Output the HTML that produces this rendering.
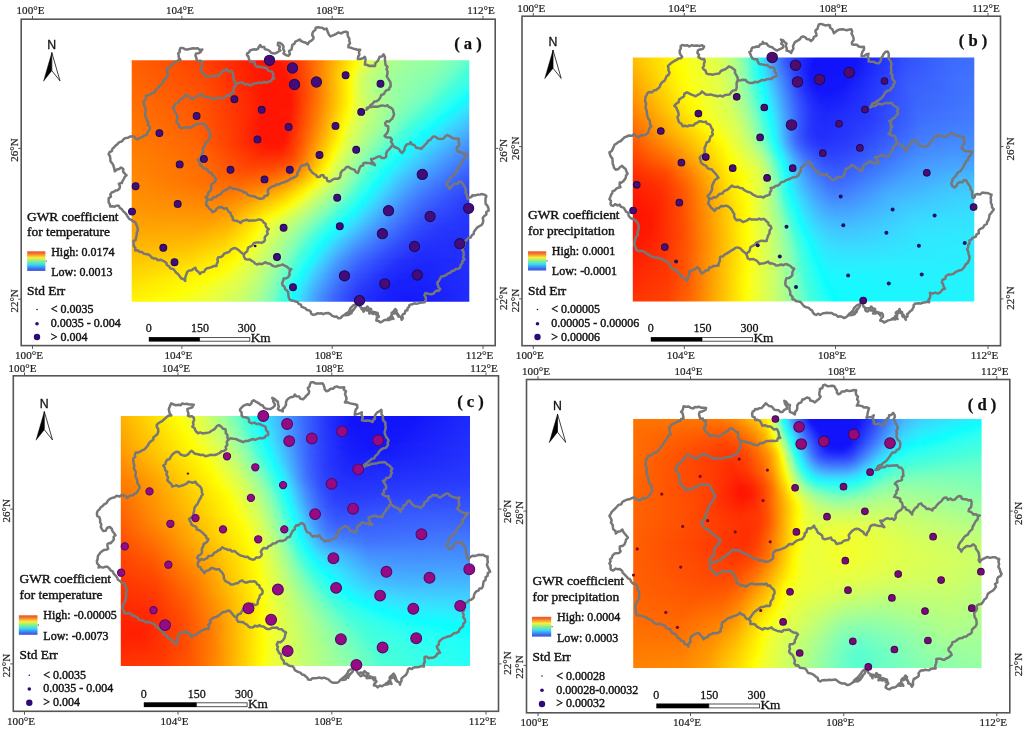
<!DOCTYPE html>
<html><head><meta charset="utf-8"><title>GWR coefficient maps</title>
<style>html,body{margin:0;padding:0;background:#fff}svg{display:block}</style></head>
<body>
<svg width="1024" height="730" viewBox="0 0 1024 730">
<rect width="1024" height="730" fill="#fff"/>
<defs>
<linearGradient id="ramp" x1="0" y1="0" x2="0" y2="1"><stop offset="0" stop-color="#e8502e"/><stop offset=".12" stop-color="#f5742a"/><stop offset=".33" stop-color="#f8f03c"/><stop offset=".5" stop-color="#86f08a"/><stop offset=".67" stop-color="#3cdcf0"/><stop offset=".9" stop-color="#3c6cf0"/><stop offset="1" stop-color="#3c50d8"/></linearGradient>
<filter id="vb" x="-5%" y="-5%" width="110%" height="110%" color-interpolation-filters="sRGB"><feGaussianBlur stdDeviation="0.7 1.9"/></filter>
<linearGradient id="ga0"><stop offset=".025" stop-color="#ff5f00"/><stop offset=".223" stop-color="#ff4000"/><stop offset=".387" stop-color="#ff1400"/><stop offset=".438" stop-color="#ff1600"/><stop offset=".500" stop-color="#ff4200"/><stop offset=".556" stop-color="#ff8100"/><stop offset=".647" stop-color="#fff000"/><stop offset=".658" stop-color="#fffc00"/><stop offset=".675" stop-color="#f0ff32"/><stop offset=".703" stop-color="#d3ff5f"/><stop offset=".749" stop-color="#b3ff86"/><stop offset=".805" stop-color="#9eff9d"/><stop offset=".884" stop-color="#94ffa6"/><stop offset=".952" stop-color="#70ffc3"/><stop offset=".975" stop-color="#5dffce"/></linearGradient>
<linearGradient id="ga1"><stop offset=".025" stop-color="#ff6000"/><stop offset=".223" stop-color="#ff4200"/><stop offset=".393" stop-color="#ff1400"/><stop offset=".444" stop-color="#ff1600"/><stop offset=".506" stop-color="#ff4600"/><stop offset=".562" stop-color="#ff8900"/><stop offset=".653" stop-color="#fffb00"/><stop offset=".669" stop-color="#efff33"/><stop offset=".698" stop-color="#d2ff61"/><stop offset=".743" stop-color="#b2ff88"/><stop offset=".805" stop-color="#9bff9f"/><stop offset=".884" stop-color="#90ffaa"/><stop offset=".952" stop-color="#69ffc8"/><stop offset=".975" stop-color="#53ffd3"/></linearGradient>
<linearGradient id="ga2"><stop offset=".025" stop-color="#ff6200"/><stop offset=".223" stop-color="#ff4400"/><stop offset=".393" stop-color="#ff1400"/><stop offset=".449" stop-color="#ff1600"/><stop offset=".511" stop-color="#ff4a00"/><stop offset=".579" stop-color="#ffa000"/><stop offset=".647" stop-color="#fffa00"/><stop offset=".653" stop-color="#fdff0a"/><stop offset=".658" stop-color="#f6ff24"/><stop offset=".675" stop-color="#e2ff4a"/><stop offset=".709" stop-color="#c2ff75"/><stop offset=".766" stop-color="#a3ff97"/><stop offset=".839" stop-color="#96ffa4"/><stop offset=".901" stop-color="#84ffb4"/><stop offset=".958" stop-color="#5cffcf"/><stop offset=".975" stop-color="#48ffd8"/></linearGradient>
<linearGradient id="ga3"><stop offset=".025" stop-color="#ff6300"/><stop offset=".223" stop-color="#ff4600"/><stop offset=".398" stop-color="#ff1400"/><stop offset=".455" stop-color="#ff1600"/><stop offset=".517" stop-color="#ff4f00"/><stop offset=".613" stop-color="#ffd000"/><stop offset=".647" stop-color="#fffe00"/><stop offset=".653" stop-color="#f8ff1f"/><stop offset=".664" stop-color="#e9ff3f"/><stop offset=".686" stop-color="#cfff65"/><stop offset=".726" stop-color="#b2ff87"/><stop offset=".794" stop-color="#98ffa2"/><stop offset=".884" stop-color="#88ffb1"/><stop offset=".941" stop-color="#64ffcb"/><stop offset=".963" stop-color="#48ffd7"/><stop offset=".975" stop-color="#44ffdc"/></linearGradient>
<linearGradient id="ga4"><stop offset=".025" stop-color="#ff6400"/><stop offset=".223" stop-color="#ff4700"/><stop offset=".398" stop-color="#ff1400"/><stop offset=".460" stop-color="#ff1700"/><stop offset=".528" stop-color="#ff5b00"/><stop offset=".641" stop-color="#fffa00"/><stop offset=".647" stop-color="#fcff11"/><stop offset=".653" stop-color="#f4ff2a"/><stop offset=".669" stop-color="#dcff53"/><stop offset=".698" stop-color="#bfff78"/><stop offset=".754" stop-color="#a1ff99"/><stop offset=".884" stop-color="#83ffb5"/><stop offset=".935" stop-color="#61ffcd"/><stop offset=".958" stop-color="#47ffd8"/><stop offset=".975" stop-color="#40ffe1"/></linearGradient>
<linearGradient id="ga5"><stop offset=".025" stop-color="#ff6500"/><stop offset=".223" stop-color="#ff4900"/><stop offset=".381" stop-color="#ff1700"/><stop offset=".460" stop-color="#ff1400"/><stop offset=".528" stop-color="#ff5a00"/><stop offset=".641" stop-color="#fffc00"/><stop offset=".653" stop-color="#f1ff31"/><stop offset=".669" stop-color="#d8ff59"/><stop offset=".692" stop-color="#c0ff78"/><stop offset=".743" stop-color="#a3ff97"/><stop offset=".879" stop-color="#81ffb6"/><stop offset=".929" stop-color="#5dffce"/><stop offset=".946" stop-color="#48ffd8"/><stop offset=".975" stop-color="#3bffe6"/></linearGradient>
<linearGradient id="ga6"><stop offset=".025" stop-color="#ff6600"/><stop offset=".223" stop-color="#ff4b00"/><stop offset=".376" stop-color="#ff1a00"/><stop offset=".415" stop-color="#ff1400"/><stop offset=".466" stop-color="#ff1600"/><stop offset=".534" stop-color="#ff6000"/><stop offset=".641" stop-color="#fffd00"/><stop offset=".647" stop-color="#f8ff1f"/><stop offset=".658" stop-color="#e7ff43"/><stop offset=".681" stop-color="#c8ff6d"/><stop offset=".720" stop-color="#abff8e"/><stop offset=".794" stop-color="#94ffa6"/><stop offset=".873" stop-color="#7fffb8"/><stop offset=".918" stop-color="#5fffcd"/><stop offset=".935" stop-color="#48ffd7"/><stop offset=".975" stop-color="#36ffeb"/></linearGradient>
<linearGradient id="ga7"><stop offset=".025" stop-color="#ff6800"/><stop offset=".223" stop-color="#ff4c00"/><stop offset=".370" stop-color="#ff1d00"/><stop offset=".398" stop-color="#ff1400"/><stop offset=".466" stop-color="#ff1400"/><stop offset=".540" stop-color="#ff6600"/><stop offset=".641" stop-color="#fffd00"/><stop offset=".647" stop-color="#f8ff1f"/><stop offset=".658" stop-color="#e7ff43"/><stop offset=".681" stop-color="#c9ff6c"/><stop offset=".715" stop-color="#aeff8c"/><stop offset=".782" stop-color="#94ffa5"/><stop offset=".862" stop-color="#80ffb7"/><stop offset=".912" stop-color="#5bffcf"/><stop offset=".929" stop-color="#47ffd9"/><stop offset=".975" stop-color="#2ffff1"/></linearGradient>
<linearGradient id="ga8"><stop offset=".025" stop-color="#ff6900"/><stop offset=".223" stop-color="#ff4d00"/><stop offset=".370" stop-color="#ff1e00"/><stop offset=".398" stop-color="#ff1400"/><stop offset=".472" stop-color="#ff1800"/><stop offset=".540" stop-color="#ff6600"/><stop offset=".641" stop-color="#fffd00"/><stop offset=".647" stop-color="#f9ff1e"/><stop offset=".658" stop-color="#e8ff41"/><stop offset=".681" stop-color="#caff6b"/><stop offset=".715" stop-color="#aeff8c"/><stop offset=".782" stop-color="#93ffa7"/><stop offset=".862" stop-color="#7cffba"/><stop offset=".907" stop-color="#57ffd2"/><stop offset=".924" stop-color="#45ffdb"/><stop offset=".975" stop-color="#26fff6"/></linearGradient>
<linearGradient id="ga9"><stop offset=".025" stop-color="#ff6a00"/><stop offset=".223" stop-color="#ff4f00"/><stop offset=".364" stop-color="#ff2200"/><stop offset=".398" stop-color="#ff1400"/><stop offset=".472" stop-color="#ff1600"/><stop offset=".545" stop-color="#ff6e00"/><stop offset=".641" stop-color="#fffd00"/><stop offset=".647" stop-color="#f9ff1c"/><stop offset=".658" stop-color="#e9ff3f"/><stop offset=".681" stop-color="#ccff69"/><stop offset=".715" stop-color="#afff8b"/><stop offset=".777" stop-color="#93ffa7"/><stop offset=".856" stop-color="#7affbc"/><stop offset=".895" stop-color="#59ffd1"/><stop offset=".907" stop-color="#48ffd7"/><stop offset=".958" stop-color="#2bfff3"/><stop offset=".975" stop-color="#18fffb"/></linearGradient>
<linearGradient id="ga10"><stop offset=".025" stop-color="#ff6b00"/><stop offset=".218" stop-color="#ff5100"/><stop offset=".364" stop-color="#ff2200"/><stop offset=".398" stop-color="#ff1400"/><stop offset=".472" stop-color="#ff1500"/><stop offset=".545" stop-color="#ff6f00"/><stop offset=".641" stop-color="#fffd00"/><stop offset=".647" stop-color="#f9ff1d"/><stop offset=".658" stop-color="#e9ff3f"/><stop offset=".686" stop-color="#c7ff6f"/><stop offset=".726" stop-color="#a8ff92"/><stop offset=".805" stop-color="#89ffb0"/><stop offset=".862" stop-color="#70ffc3"/><stop offset=".890" stop-color="#53ffd3"/><stop offset=".895" stop-color="#49ffd6"/><stop offset=".946" stop-color="#2bfff3"/><stop offset=".963" stop-color="#18fffc"/><stop offset=".969" stop-color="#0afffe"/><stop offset=".975" stop-color="#0dfdff"/></linearGradient>
<linearGradient id="ga11"><stop offset=".025" stop-color="#ff6c00"/><stop offset=".218" stop-color="#ff5300"/><stop offset=".364" stop-color="#ff2300"/><stop offset=".398" stop-color="#ff1400"/><stop offset=".472" stop-color="#ff1500"/><stop offset=".545" stop-color="#ff7000"/><stop offset=".641" stop-color="#fffe00"/><stop offset=".647" stop-color="#f8ff1f"/><stop offset=".658" stop-color="#e9ff3f"/><stop offset=".686" stop-color="#c8ff6d"/><stop offset=".726" stop-color="#a9ff91"/><stop offset=".811" stop-color="#84ffb4"/><stop offset=".862" stop-color="#68ffc8"/><stop offset=".890" stop-color="#47ffd9"/><stop offset=".941" stop-color="#26fff6"/><stop offset=".952" stop-color="#17fffc"/><stop offset=".958" stop-color="#08fffe"/><stop offset=".975" stop-color="#1ff5ff"/></linearGradient>
<linearGradient id="ga12"><stop offset=".025" stop-color="#ff6d00"/><stop offset=".218" stop-color="#ff5400"/><stop offset=".364" stop-color="#ff2400"/><stop offset=".398" stop-color="#ff1400"/><stop offset=".472" stop-color="#ff1500"/><stop offset=".551" stop-color="#ff7b00"/><stop offset=".641" stop-color="#ffff02"/><stop offset=".647" stop-color="#f7ff22"/><stop offset=".664" stop-color="#e1ff4b"/><stop offset=".698" stop-color="#beff79"/><stop offset=".749" stop-color="#9cff9e"/><stop offset=".850" stop-color="#68ffc8"/><stop offset=".884" stop-color="#45ffdc"/><stop offset=".929" stop-color="#26fff6"/><stop offset=".941" stop-color="#17fffc"/><stop offset=".946" stop-color="#06fffe"/><stop offset=".969" stop-color="#25f1ff"/><stop offset=".975" stop-color="#29eeff"/></linearGradient>
<linearGradient id="ga13"><stop offset=".025" stop-color="#ff6f00"/><stop offset=".212" stop-color="#ff5600"/><stop offset=".364" stop-color="#ff2400"/><stop offset=".398" stop-color="#ff1400"/><stop offset=".472" stop-color="#ff1600"/><stop offset=".551" stop-color="#ff7d00"/><stop offset=".636" stop-color="#fffa00"/><stop offset=".641" stop-color="#fdff0e"/><stop offset=".647" stop-color="#f5ff26"/><stop offset=".664" stop-color="#e1ff4c"/><stop offset=".698" stop-color="#bfff79"/><stop offset=".754" stop-color="#98ffa2"/><stop offset=".845" stop-color="#62ffcc"/><stop offset=".873" stop-color="#45ffdb"/><stop offset=".918" stop-color="#27fff6"/><stop offset=".929" stop-color="#17fffc"/><stop offset=".935" stop-color="#05ffff"/><stop offset=".952" stop-color="#21f4ff"/><stop offset=".975" stop-color="#31e6ff"/></linearGradient>
<linearGradient id="ga14"><stop offset=".025" stop-color="#ff7000"/><stop offset=".212" stop-color="#ff5700"/><stop offset=".359" stop-color="#ff2700"/><stop offset=".398" stop-color="#ff1400"/><stop offset=".472" stop-color="#ff1700"/><stop offset=".551" stop-color="#ff8000"/><stop offset=".636" stop-color="#fffd00"/><stop offset=".647" stop-color="#f3ff2c"/><stop offset=".669" stop-color="#d9ff57"/><stop offset=".709" stop-color="#b5ff84"/><stop offset=".794" stop-color="#7effb9"/><stop offset=".845" stop-color="#56ffd2"/><stop offset=".862" stop-color="#45ffdb"/><stop offset=".907" stop-color="#27fff5"/><stop offset=".918" stop-color="#17fffc"/><stop offset=".924" stop-color="#04ffff"/><stop offset=".941" stop-color="#21f4ff"/><stop offset=".975" stop-color="#36deff"/></linearGradient>
<linearGradient id="ga15"><stop offset=".025" stop-color="#ff7100"/><stop offset=".212" stop-color="#ff5800"/><stop offset=".359" stop-color="#ff2600"/><stop offset=".393" stop-color="#ff1400"/><stop offset=".472" stop-color="#ff1800"/><stop offset=".551" stop-color="#ff8200"/><stop offset=".630" stop-color="#fff900"/><stop offset=".636" stop-color="#feff04"/><stop offset=".641" stop-color="#f7ff22"/><stop offset=".658" stop-color="#e3ff48"/><stop offset=".698" stop-color="#bdff7a"/><stop offset=".782" stop-color="#81ffb7"/><stop offset=".833" stop-color="#55ffd2"/><stop offset=".845" stop-color="#47ffd8"/><stop offset=".890" stop-color="#2cfff2"/><stop offset=".907" stop-color="#17fffc"/><stop offset=".912" stop-color="#04ffff"/><stop offset=".929" stop-color="#22f3ff"/><stop offset=".969" stop-color="#39d9ff"/><stop offset=".975" stop-color="#3bd5ff"/></linearGradient>
<linearGradient id="ga16"><stop offset=".025" stop-color="#ff7200"/><stop offset=".206" stop-color="#ff5b00"/><stop offset=".347" stop-color="#ff2a00"/><stop offset=".393" stop-color="#ff1400"/><stop offset=".466" stop-color="#ff1400"/><stop offset=".540" stop-color="#ff7400"/><stop offset=".624" stop-color="#fff500"/><stop offset=".630" stop-color="#fffc00"/><stop offset=".641" stop-color="#f4ff2a"/><stop offset=".664" stop-color="#daff55"/><stop offset=".709" stop-color="#b3ff86"/><stop offset=".811" stop-color="#62ffcc"/><stop offset=".833" stop-color="#47ffd9"/><stop offset=".879" stop-color="#2cfff2"/><stop offset=".895" stop-color="#17fffc"/><stop offset=".901" stop-color="#03ffff"/><stop offset=".912" stop-color="#1bf7ff"/><stop offset=".946" stop-color="#35dfff"/><stop offset=".975" stop-color="#3ecdff"/></linearGradient>
<linearGradient id="ga17"><stop offset=".025" stop-color="#ff7300"/><stop offset=".206" stop-color="#ff5c00"/><stop offset=".342" stop-color="#ff2c00"/><stop offset=".387" stop-color="#ff1400"/><stop offset=".466" stop-color="#ff1400"/><stop offset=".545" stop-color="#ff7f00"/><stop offset=".624" stop-color="#fff900"/><stop offset=".630" stop-color="#feff07"/><stop offset=".636" stop-color="#f7ff23"/><stop offset=".653" stop-color="#e3ff48"/><stop offset=".692" stop-color="#beff7a"/><stop offset=".794" stop-color="#6affc7"/><stop offset=".822" stop-color="#47ffd8"/><stop offset=".867" stop-color="#2cfff3"/><stop offset=".884" stop-color="#16fffc"/><stop offset=".890" stop-color="#02ffff"/><stop offset=".901" stop-color="#1cf7ff"/><stop offset=".935" stop-color="#36dfff"/><stop offset=".975" stop-color="#41c5ff"/></linearGradient>
<linearGradient id="ga18"><stop offset=".025" stop-color="#ff7500"/><stop offset=".206" stop-color="#ff5d00"/><stop offset=".336" stop-color="#ff2e00"/><stop offset=".387" stop-color="#ff1400"/><stop offset=".466" stop-color="#ff1500"/><stop offset=".545" stop-color="#ff8200"/><stop offset=".624" stop-color="#fffd00"/><stop offset=".630" stop-color="#f9ff1b"/><stop offset=".641" stop-color="#ecff3a"/><stop offset=".675" stop-color="#c9ff6c"/><stop offset=".760" stop-color="#84ffb4"/><stop offset=".799" stop-color="#59ffd0"/><stop offset=".811" stop-color="#47ffd8"/><stop offset=".862" stop-color="#26fff6"/><stop offset=".873" stop-color="#16fffc"/><stop offset=".879" stop-color="#00ffff"/><stop offset=".884" stop-color="#13fbff"/><stop offset=".907" stop-color="#2cebff"/><stop offset=".963" stop-color="#41c4ff"/><stop offset=".975" stop-color="#43bdff"/></linearGradient>
<linearGradient id="ga19"><stop offset=".025" stop-color="#ff7600"/><stop offset=".206" stop-color="#ff5e00"/><stop offset=".331" stop-color="#ff3100"/><stop offset=".387" stop-color="#ff1400"/><stop offset=".466" stop-color="#ff1700"/><stop offset=".545" stop-color="#ff8600"/><stop offset=".619" stop-color="#fffa00"/><stop offset=".624" stop-color="#fdff0f"/><stop offset=".630" stop-color="#f5ff27"/><stop offset=".647" stop-color="#e1ff4b"/><stop offset=".686" stop-color="#bcff7c"/><stop offset=".766" stop-color="#78ffbe"/><stop offset=".794" stop-color="#54ffd3"/><stop offset=".799" stop-color="#48ffd7"/><stop offset=".850" stop-color="#26fff6"/><stop offset=".862" stop-color="#15fffc"/><stop offset=".867" stop-color="#02ffff"/><stop offset=".873" stop-color="#13fbff"/><stop offset=".895" stop-color="#2deaff"/><stop offset=".952" stop-color="#41c3ff"/><stop offset=".975" stop-color="#44b5ff"/></linearGradient>
<linearGradient id="ga20"><stop offset=".025" stop-color="#ff7700"/><stop offset=".206" stop-color="#ff6000"/><stop offset=".331" stop-color="#ff3100"/><stop offset=".387" stop-color="#ff1400"/><stop offset=".460" stop-color="#ff1400"/><stop offset=".534" stop-color="#ff7800"/><stop offset=".619" stop-color="#fffe00"/><stop offset=".624" stop-color="#f8ff1e"/><stop offset=".636" stop-color="#eaff3d"/><stop offset=".669" stop-color="#c6ff70"/><stop offset=".754" stop-color="#7cffbb"/><stop offset=".782" stop-color="#58ffd1"/><stop offset=".794" stop-color="#46ffd9"/><stop offset=".839" stop-color="#26fff6"/><stop offset=".850" stop-color="#14fffc"/><stop offset=".856" stop-color="#03ffff"/><stop offset=".862" stop-color="#14faff"/><stop offset=".884" stop-color="#2deaff"/><stop offset=".941" stop-color="#41c2ff"/><stop offset=".975" stop-color="#45adff"/></linearGradient>
<linearGradient id="ga21"><stop offset=".025" stop-color="#ff7800"/><stop offset=".206" stop-color="#ff6100"/><stop offset=".325" stop-color="#ff3400"/><stop offset=".387" stop-color="#ff1400"/><stop offset=".460" stop-color="#ff1600"/><stop offset=".534" stop-color="#ff7d00"/><stop offset=".613" stop-color="#fffa00"/><stop offset=".624" stop-color="#f4ff29"/><stop offset=".641" stop-color="#dfff4e"/><stop offset=".681" stop-color="#b7ff82"/><stop offset=".760" stop-color="#6cffc6"/><stop offset=".782" stop-color="#48ffd8"/><stop offset=".828" stop-color="#26fff6"/><stop offset=".839" stop-color="#15fffc"/><stop offset=".845" stop-color="#03feff"/><stop offset=".850" stop-color="#14faff"/><stop offset=".873" stop-color="#2deaff"/><stop offset=".929" stop-color="#42c2ff"/><stop offset=".975" stop-color="#45a6ff"/></linearGradient>
<linearGradient id="ga22"><stop offset=".025" stop-color="#ff7900"/><stop offset=".206" stop-color="#ff6300"/><stop offset=".325" stop-color="#ff3400"/><stop offset=".393" stop-color="#ff1400"/><stop offset=".455" stop-color="#ff1400"/><stop offset=".511" stop-color="#ff5e00"/><stop offset=".613" stop-color="#ffff00"/><stop offset=".619" stop-color="#f7ff22"/><stop offset=".636" stop-color="#e1ff4b"/><stop offset=".675" stop-color="#b7ff82"/><stop offset=".754" stop-color="#68ffc8"/><stop offset=".771" stop-color="#4affd6"/><stop offset=".816" stop-color="#27fff5"/><stop offset=".828" stop-color="#16fffc"/><stop offset=".833" stop-color="#02ffff"/><stop offset=".839" stop-color="#14faff"/><stop offset=".862" stop-color="#2deaff"/><stop offset=".918" stop-color="#42c1ff"/><stop offset=".975" stop-color="#459fff"/></linearGradient>
<linearGradient id="ga23"><stop offset=".025" stop-color="#ff7b00"/><stop offset=".206" stop-color="#ff6400"/><stop offset=".331" stop-color="#ff3200"/><stop offset=".398" stop-color="#ff1400"/><stop offset=".455" stop-color="#ff1800"/><stop offset=".506" stop-color="#ff5900"/><stop offset=".607" stop-color="#fffc00"/><stop offset=".619" stop-color="#f2ff2e"/><stop offset=".641" stop-color="#d5ff5c"/><stop offset=".686" stop-color="#a6ff94"/><stop offset=".749" stop-color="#63ffcb"/><stop offset=".766" stop-color="#47ffd9"/><stop offset=".805" stop-color="#28fff5"/><stop offset=".816" stop-color="#17fffc"/><stop offset=".822" stop-color="#00ffff"/><stop offset=".828" stop-color="#13fbff"/><stop offset=".850" stop-color="#2de9ff"/><stop offset=".907" stop-color="#42c1ff"/><stop offset=".975" stop-color="#4597ff"/></linearGradient>
<linearGradient id="ga24"><stop offset=".025" stop-color="#ff7c00"/><stop offset=".212" stop-color="#ff6400"/><stop offset=".364" stop-color="#ff2400"/><stop offset=".415" stop-color="#ff1400"/><stop offset=".449" stop-color="#ff1900"/><stop offset=".489" stop-color="#ff4400"/><stop offset=".602" stop-color="#fffa00"/><stop offset=".619" stop-color="#ecff39"/><stop offset=".647" stop-color="#c9ff6c"/><stop offset=".703" stop-color="#8effac"/><stop offset=".743" stop-color="#5effce"/><stop offset=".754" stop-color="#48ffd7"/><stop offset=".794" stop-color="#29fff4"/><stop offset=".805" stop-color="#19fffb"/><stop offset=".811" stop-color="#04ffff"/><stop offset=".828" stop-color="#24f2ff"/><stop offset=".867" stop-color="#3bd4ff"/><stop offset=".952" stop-color="#459cff"/><stop offset=".975" stop-color="#4490ff"/></linearGradient>
<linearGradient id="ga25"><stop offset=".025" stop-color="#ff7d00"/><stop offset=".212" stop-color="#ff6600"/><stop offset=".404" stop-color="#ff1b00"/><stop offset=".444" stop-color="#ff1d00"/><stop offset=".477" stop-color="#ff3900"/><stop offset=".528" stop-color="#ff8700"/><stop offset=".596" stop-color="#fff800"/><stop offset=".602" stop-color="#feff08"/><stop offset=".607" stop-color="#f6ff26"/><stop offset=".624" stop-color="#dfff4f"/><stop offset=".664" stop-color="#b0ff89"/><stop offset=".732" stop-color="#62ffcc"/><stop offset=".743" stop-color="#4bffd6"/><stop offset=".788" stop-color="#24fff7"/><stop offset=".794" stop-color="#1afffb"/><stop offset=".799" stop-color="#0afffe"/><stop offset=".822" stop-color="#29eeff"/><stop offset=".867" stop-color="#3fccff"/><stop offset=".963" stop-color="#448fff"/><stop offset=".975" stop-color="#4489ff"/></linearGradient>
<linearGradient id="ga26"><stop offset=".025" stop-color="#ff7f00"/><stop offset=".212" stop-color="#ff6800"/><stop offset=".393" stop-color="#ff2400"/><stop offset=".444" stop-color="#ff2500"/><stop offset=".477" stop-color="#ff3e00"/><stop offset=".517" stop-color="#ff7a00"/><stop offset=".590" stop-color="#fff700"/><stop offset=".596" stop-color="#ffff00"/><stop offset=".602" stop-color="#f7ff22"/><stop offset=".619" stop-color="#e0ff4d"/><stop offset=".658" stop-color="#b0ff89"/><stop offset=".720" stop-color="#66ffca"/><stop offset=".737" stop-color="#47ffd8"/><stop offset=".777" stop-color="#25fff6"/><stop offset=".788" stop-color="#0efffe"/><stop offset=".794" stop-color="#0efcff"/><stop offset=".805" stop-color="#23f3ff"/><stop offset=".839" stop-color="#39d8ff"/><stop offset=".912" stop-color="#45a5ff"/><stop offset=".975" stop-color="#4382fe"/></linearGradient>
<linearGradient id="ga27"><stop offset=".025" stop-color="#ff8000"/><stop offset=".218" stop-color="#ff6800"/><stop offset=".381" stop-color="#ff2c00"/><stop offset=".444" stop-color="#ff2e00"/><stop offset=".477" stop-color="#ff4400"/><stop offset=".511" stop-color="#ff7600"/><stop offset=".590" stop-color="#fffe00"/><stop offset=".596" stop-color="#f8ff1f"/><stop offset=".607" stop-color="#e8ff40"/><stop offset=".641" stop-color="#beff7a"/><stop offset=".703" stop-color="#72ffc1"/><stop offset=".720" stop-color="#58ffd1"/><stop offset=".726" stop-color="#49ffd6"/><stop offset=".766" stop-color="#27fff5"/><stop offset=".782" stop-color="#0bfdff"/><stop offset=".794" stop-color="#22f4ff"/><stop offset=".828" stop-color="#39d8ff"/><stop offset=".901" stop-color="#45a4ff"/><stop offset=".975" stop-color="#417cfe"/></linearGradient>
<linearGradient id="ga28"><stop offset=".025" stop-color="#ff8200"/><stop offset=".218" stop-color="#ff6900"/><stop offset=".370" stop-color="#ff3500"/><stop offset=".438" stop-color="#ff3600"/><stop offset=".472" stop-color="#ff4700"/><stop offset=".500" stop-color="#ff6a00"/><stop offset=".585" stop-color="#fffc00"/><stop offset=".590" stop-color="#f9ff1c"/><stop offset=".602" stop-color="#e9ff3e"/><stop offset=".636" stop-color="#beff7a"/><stop offset=".698" stop-color="#70ffc3"/><stop offset=".720" stop-color="#47ffd8"/><stop offset=".754" stop-color="#2afff4"/><stop offset=".766" stop-color="#17fffc"/><stop offset=".771" stop-color="#04feff"/><stop offset=".777" stop-color="#17f9ff"/><stop offset=".799" stop-color="#30e6ff"/><stop offset=".850" stop-color="#42bfff"/><stop offset=".963" stop-color="#417afe"/><stop offset=".975" stop-color="#4075fe"/></linearGradient>
<linearGradient id="ga29"><stop offset=".025" stop-color="#ff8300"/><stop offset=".218" stop-color="#ff6b00"/><stop offset=".359" stop-color="#ff3d00"/><stop offset=".427" stop-color="#ff3e00"/><stop offset=".466" stop-color="#ff4d00"/><stop offset=".494" stop-color="#ff6b00"/><stop offset=".579" stop-color="#fffa00"/><stop offset=".590" stop-color="#f2ff2d"/><stop offset=".613" stop-color="#d4ff5e"/><stop offset=".664" stop-color="#94ffa6"/><stop offset=".703" stop-color="#5bffd0"/><stop offset=".715" stop-color="#46ffda"/><stop offset=".749" stop-color="#26fff6"/><stop offset=".754" stop-color="#1cfffa"/><stop offset=".760" stop-color="#0afffe"/><stop offset=".782" stop-color="#2becff"/><stop offset=".828" stop-color="#40c7ff"/><stop offset=".924" stop-color="#4388ff"/><stop offset=".975" stop-color="#3e6ffe"/></linearGradient>
<linearGradient id="ga30"><stop offset=".025" stop-color="#ff8400"/><stop offset=".218" stop-color="#ff6c00"/><stop offset=".353" stop-color="#ff4400"/><stop offset=".427" stop-color="#ff4800"/><stop offset=".472" stop-color="#ff5d00"/><stop offset=".506" stop-color="#ff8800"/><stop offset=".573" stop-color="#fff900"/><stop offset=".579" stop-color="#fdff0e"/><stop offset=".585" stop-color="#f4ff29"/><stop offset=".602" stop-color="#dcff53"/><stop offset=".647" stop-color="#a2ff98"/><stop offset=".692" stop-color="#63ffcc"/><stop offset=".703" stop-color="#48ffd7"/><stop offset=".737" stop-color="#2afff4"/><stop offset=".754" stop-color="#0afdff"/><stop offset=".766" stop-color="#23f3ff"/><stop offset=".799" stop-color="#3bd5ff"/><stop offset=".873" stop-color="#459fff"/><stop offset=".975" stop-color="#3c69fe"/></linearGradient>
<linearGradient id="ga31"><stop offset=".025" stop-color="#ff8500"/><stop offset=".218" stop-color="#ff6d00"/><stop offset=".347" stop-color="#ff4b00"/><stop offset=".421" stop-color="#ff5200"/><stop offset=".472" stop-color="#ff6a00"/><stop offset=".506" stop-color="#ff9400"/><stop offset=".568" stop-color="#fff800"/><stop offset=".573" stop-color="#feff08"/><stop offset=".579" stop-color="#f5ff27"/><stop offset=".596" stop-color="#ddff52"/><stop offset=".641" stop-color="#a2ff98"/><stop offset=".686" stop-color="#60ffcd"/><stop offset=".698" stop-color="#47ffd8"/><stop offset=".732" stop-color="#26fff6"/><stop offset=".737" stop-color="#1cfffa"/><stop offset=".743" stop-color="#08fffe"/><stop offset=".760" stop-color="#27f0ff"/><stop offset=".794" stop-color="#3dd1ff"/><stop offset=".867" stop-color="#459bff"/><stop offset=".975" stop-color="#3a63fd"/></linearGradient>
<linearGradient id="ga32"><stop offset=".025" stop-color="#ff8600"/><stop offset=".223" stop-color="#ff6d00"/><stop offset=".342" stop-color="#ff5200"/><stop offset=".415" stop-color="#ff5b00"/><stop offset=".472" stop-color="#ff7800"/><stop offset=".500" stop-color="#ff9800"/><stop offset=".562" stop-color="#fff900"/><stop offset=".568" stop-color="#fdff0a"/><stop offset=".573" stop-color="#f5ff27"/><stop offset=".590" stop-color="#ddff51"/><stop offset=".636" stop-color="#a2ff98"/><stop offset=".681" stop-color="#5fffce"/><stop offset=".692" stop-color="#46ffd9"/><stop offset=".720" stop-color="#2bfff3"/><stop offset=".737" stop-color="#09fdff"/><stop offset=".743" stop-color="#1af8ff"/><stop offset=".766" stop-color="#33e2ff"/><stop offset=".816" stop-color="#44b6ff"/><stop offset=".918" stop-color="#4077fe"/><stop offset=".975" stop-color="#385efd"/></linearGradient>
<linearGradient id="ga33"><stop offset=".025" stop-color="#ff8700"/><stop offset=".223" stop-color="#ff6e00"/><stop offset=".331" stop-color="#ff5a00"/><stop offset=".410" stop-color="#ff6500"/><stop offset=".466" stop-color="#ff8200"/><stop offset=".500" stop-color="#ffa700"/><stop offset=".556" stop-color="#fffb00"/><stop offset=".568" stop-color="#f4ff2a"/><stop offset=".590" stop-color="#d5ff5c"/><stop offset=".647" stop-color="#8bffae"/><stop offset=".675" stop-color="#5dffcf"/><stop offset=".686" stop-color="#45ffda"/><stop offset=".715" stop-color="#29fff4"/><stop offset=".726" stop-color="#0efffe"/><stop offset=".732" stop-color="#12fbff"/><stop offset=".743" stop-color="#27f0ff"/><stop offset=".777" stop-color="#3dcfff"/><stop offset=".850" stop-color="#4596ff"/><stop offset=".963" stop-color="#385cfd"/><stop offset=".975" stop-color="#3658fd"/></linearGradient>
<linearGradient id="ga34"><stop offset=".025" stop-color="#ff8900"/><stop offset=".229" stop-color="#ff6f00"/><stop offset=".331" stop-color="#ff6100"/><stop offset=".410" stop-color="#ff7100"/><stop offset=".466" stop-color="#ff9200"/><stop offset=".506" stop-color="#ffc000"/><stop offset=".551" stop-color="#fffe00"/><stop offset=".556" stop-color="#f8ff1e"/><stop offset=".573" stop-color="#e2ff49"/><stop offset=".624" stop-color="#a2ff98"/><stop offset=".664" stop-color="#66ffc9"/><stop offset=".675" stop-color="#4bffd6"/><stop offset=".709" stop-color="#26fff6"/><stop offset=".715" stop-color="#1bfffa"/><stop offset=".720" stop-color="#00ffff"/><stop offset=".726" stop-color="#17f9ff"/><stop offset=".743" stop-color="#2fe8ff"/><stop offset=".782" stop-color="#42c2ff"/><stop offset=".862" stop-color="#4388ff"/><stop offset=".975" stop-color="#3453fd"/></linearGradient>
<linearGradient id="ga35"><stop offset=".025" stop-color="#ff8a00"/><stop offset=".240" stop-color="#ff6f00"/><stop offset=".325" stop-color="#ff6800"/><stop offset=".404" stop-color="#ff7b00"/><stop offset=".466" stop-color="#ffa200"/><stop offset=".511" stop-color="#ffd800"/><stop offset=".540" stop-color="#fffd00"/><stop offset=".551" stop-color="#f4ff2a"/><stop offset=".573" stop-color="#d8ff58"/><stop offset=".641" stop-color="#81ffb6"/><stop offset=".664" stop-color="#59ffd1"/><stop offset=".669" stop-color="#48ffd7"/><stop offset=".698" stop-color="#2dfff2"/><stop offset=".715" stop-color="#0afdff"/><stop offset=".720" stop-color="#1bf7ff"/><stop offset=".743" stop-color="#35e0ff"/><stop offset=".794" stop-color="#45b0ff"/><stop offset=".873" stop-color="#417afe"/><stop offset=".975" stop-color="#324efd"/></linearGradient>
<linearGradient id="ga36"><stop offset=".025" stop-color="#ff8b00"/><stop offset=".308" stop-color="#ff6d00"/><stop offset=".393" stop-color="#ff8200"/><stop offset=".460" stop-color="#ffad00"/><stop offset=".511" stop-color="#ffe800"/><stop offset=".528" stop-color="#fffd00"/><stop offset=".540" stop-color="#f4ff29"/><stop offset=".568" stop-color="#d4ff5e"/><stop offset=".630" stop-color="#88ffb0"/><stop offset=".658" stop-color="#56ffd2"/><stop offset=".664" stop-color="#47ffd8"/><stop offset=".692" stop-color="#2afff3"/><stop offset=".703" stop-color="#11fffd"/><stop offset=".709" stop-color="#11fbff"/><stop offset=".720" stop-color="#27efff"/><stop offset=".754" stop-color="#3ecdff"/><stop offset=".822" stop-color="#4592ff"/><stop offset=".918" stop-color="#395ffd"/><stop offset=".975" stop-color="#304afd"/></linearGradient>
<linearGradient id="ga37"><stop offset=".025" stop-color="#ff8d00"/><stop offset=".297" stop-color="#ff7300"/><stop offset=".381" stop-color="#ff8a00"/><stop offset=".449" stop-color="#ffb300"/><stop offset=".500" stop-color="#ffe800"/><stop offset=".517" stop-color="#fffd00"/><stop offset=".523" stop-color="#faff19"/><stop offset=".534" stop-color="#edff37"/><stop offset=".573" stop-color="#c3ff73"/><stop offset=".624" stop-color="#86ffb2"/><stop offset=".647" stop-color="#60ffcd"/><stop offset=".658" stop-color="#46ffd9"/><stop offset=".686" stop-color="#28fff5"/><stop offset=".692" stop-color="#1dfffa"/><stop offset=".698" stop-color="#07fffe"/><stop offset=".709" stop-color="#22f3ff"/><stop offset=".737" stop-color="#3bd6ff"/><stop offset=".794" stop-color="#45a1ff"/><stop offset=".867" stop-color="#3e70fe"/><stop offset=".975" stop-color="#2e46fc"/></linearGradient>
<linearGradient id="ga38"><stop offset=".025" stop-color="#ff8e00"/><stop offset=".291" stop-color="#ff7800"/><stop offset=".370" stop-color="#ff9100"/><stop offset=".444" stop-color="#ffbe00"/><stop offset=".506" stop-color="#fffc00"/><stop offset=".517" stop-color="#f4ff2a"/><stop offset=".540" stop-color="#dbff54"/><stop offset=".613" stop-color="#8bffae"/><stop offset=".641" stop-color="#5cffcf"/><stop offset=".647" stop-color="#4cffd5"/><stop offset=".681" stop-color="#25fff7"/><stop offset=".692" stop-color="#08feff"/><stop offset=".698" stop-color="#1bf7ff"/><stop offset=".715" stop-color="#31e5ff"/><stop offset=".754" stop-color="#43bdff"/><stop offset=".833" stop-color="#417cfe"/><stop offset=".935" stop-color="#324efd"/><stop offset=".975" stop-color="#2c42fc"/></linearGradient>
<linearGradient id="ga39"><stop offset=".025" stop-color="#ff9000"/><stop offset=".280" stop-color="#ff7d00"/><stop offset=".347" stop-color="#ff9100"/><stop offset=".438" stop-color="#ffc800"/><stop offset=".494" stop-color="#fffc00"/><stop offset=".506" stop-color="#f5ff28"/><stop offset=".528" stop-color="#dbff54"/><stop offset=".602" stop-color="#8effac"/><stop offset=".630" stop-color="#63ffcb"/><stop offset=".641" stop-color="#48ffd8"/><stop offset=".669" stop-color="#2bfff3"/><stop offset=".681" stop-color="#10fffd"/><stop offset=".686" stop-color="#12fbff"/><stop offset=".698" stop-color="#28efff"/><stop offset=".732" stop-color="#3fcbff"/><stop offset=".799" stop-color="#448eff"/><stop offset=".873" stop-color="#3a61fd"/><stop offset=".975" stop-color="#2b3ffc"/></linearGradient>
<linearGradient id="ga40"><stop offset=".025" stop-color="#ff9200"/><stop offset=".274" stop-color="#ff8200"/><stop offset=".336" stop-color="#ff9600"/><stop offset=".449" stop-color="#ffdf00"/><stop offset=".483" stop-color="#fffd00"/><stop offset=".494" stop-color="#f5ff28"/><stop offset=".523" stop-color="#d6ff5c"/><stop offset=".596" stop-color="#88ffb1"/><stop offset=".624" stop-color="#5dffcf"/><stop offset=".636" stop-color="#45ffdb"/><stop offset=".664" stop-color="#27fff6"/><stop offset=".669" stop-color="#1bfffb"/><stop offset=".675" stop-color="#02ffff"/><stop offset=".681" stop-color="#19f9ff"/><stop offset=".698" stop-color="#30e6ff"/><stop offset=".737" stop-color="#43beff"/><stop offset=".816" stop-color="#417bfe"/><stop offset=".901" stop-color="#3351fd"/><stop offset=".975" stop-color="#293cfc"/></linearGradient>
<linearGradient id="ga41"><stop offset=".025" stop-color="#ff9300"/><stop offset=".268" stop-color="#ff8700"/><stop offset=".331" stop-color="#ff9c00"/><stop offset=".472" stop-color="#feff03"/><stop offset=".477" stop-color="#f9ff1c"/><stop offset=".500" stop-color="#e2ff4a"/><stop offset=".556" stop-color="#a7ff93"/><stop offset=".607" stop-color="#6affc7"/><stop offset=".624" stop-color="#47ffd8"/><stop offset=".653" stop-color="#2bfff3"/><stop offset=".664" stop-color="#12fffd"/><stop offset=".669" stop-color="#10fcff"/><stop offset=".681" stop-color="#27efff"/><stop offset=".715" stop-color="#3fccff"/><stop offset=".777" stop-color="#4592ff"/><stop offset=".850" stop-color="#3a61fd"/><stop offset=".952" stop-color="#2b3ffc"/><stop offset=".975" stop-color="#283afc"/></linearGradient>
<linearGradient id="ga42"><stop offset=".025" stop-color="#ff9500"/><stop offset=".263" stop-color="#ff8c00"/><stop offset=".319" stop-color="#ff9e00"/><stop offset=".455" stop-color="#fffe00"/><stop offset=".466" stop-color="#f6ff23"/><stop offset=".500" stop-color="#d6ff5b"/><stop offset=".573" stop-color="#89ffb0"/><stop offset=".607" stop-color="#57ffd1"/><stop offset=".613" stop-color="#48ffd7"/><stop offset=".641" stop-color="#2efff1"/><stop offset=".653" stop-color="#1afffb"/><stop offset=".658" stop-color="#04feff"/><stop offset=".664" stop-color="#19f8ff"/><stop offset=".681" stop-color="#30e6ff"/><stop offset=".720" stop-color="#43beff"/><stop offset=".799" stop-color="#417afe"/><stop offset=".879" stop-color="#3350fd"/><stop offset=".975" stop-color="#2738fc"/></linearGradient>
<linearGradient id="ga43"><stop offset=".025" stop-color="#ff9800"/><stop offset=".257" stop-color="#ff9100"/><stop offset=".314" stop-color="#ffa200"/><stop offset=".438" stop-color="#fffe00"/><stop offset=".455" stop-color="#f3ff2b"/><stop offset=".517" stop-color="#baff7f"/><stop offset=".585" stop-color="#6cffc6"/><stop offset=".596" stop-color="#59ffd1"/><stop offset=".602" stop-color="#4affd6"/><stop offset=".636" stop-color="#29fff4"/><stop offset=".641" stop-color="#1ffff9"/><stop offset=".647" stop-color="#0cfffe"/><stop offset=".669" stop-color="#2ee8ff"/><stop offset=".709" stop-color="#42c0ff"/><stop offset=".782" stop-color="#4280fe"/><stop offset=".862" stop-color="#3351fd"/><stop offset=".969" stop-color="#2738fc"/><stop offset=".975" stop-color="#2637fc"/></linearGradient>
<linearGradient id="ga44"><stop offset=".025" stop-color="#ff9a00"/><stop offset=".251" stop-color="#ff9600"/><stop offset=".308" stop-color="#ffa600"/><stop offset=".381" stop-color="#ffe000"/><stop offset=".421" stop-color="#fffe00"/><stop offset=".438" stop-color="#f4ff29"/><stop offset=".517" stop-color="#afff8b"/><stop offset=".573" stop-color="#6cffc6"/><stop offset=".596" stop-color="#45ffda"/><stop offset=".624" stop-color="#2bfff3"/><stop offset=".641" stop-color="#0dfcff"/><stop offset=".653" stop-color="#26f0ff"/><stop offset=".681" stop-color="#3cd3ff"/><stop offset=".737" stop-color="#459dff"/><stop offset=".822" stop-color="#395ffd"/><stop offset=".895" stop-color="#2c42fc"/><stop offset=".975" stop-color="#2536fc"/></linearGradient>
<linearGradient id="ga45"><stop offset=".025" stop-color="#ff9c00"/><stop offset=".246" stop-color="#ff9a00"/><stop offset=".308" stop-color="#ffad00"/><stop offset=".387" stop-color="#ffee00"/><stop offset=".404" stop-color="#fffd00"/><stop offset=".421" stop-color="#f5ff27"/><stop offset=".500" stop-color="#b5ff84"/><stop offset=".562" stop-color="#6dffc5"/><stop offset=".585" stop-color="#46ffda"/><stop offset=".613" stop-color="#2dfff2"/><stop offset=".624" stop-color="#18fffb"/><stop offset=".630" stop-color="#06feff"/><stop offset=".636" stop-color="#1af8ff"/><stop offset=".653" stop-color="#30e6ff"/><stop offset=".692" stop-color="#42beff"/><stop offset=".771" stop-color="#417bfe"/><stop offset=".856" stop-color="#304afd"/><stop offset=".946" stop-color="#2637fc"/><stop offset=".975" stop-color="#2535fc"/></linearGradient>
<linearGradient id="ga46"><stop offset=".025" stop-color="#ff9f00"/><stop offset=".240" stop-color="#ff9f00"/><stop offset=".302" stop-color="#ffb100"/><stop offset=".376" stop-color="#ffec00"/><stop offset=".393" stop-color="#fffb00"/><stop offset=".398" stop-color="#feff09"/><stop offset=".404" stop-color="#f9ff1d"/><stop offset=".427" stop-color="#e8ff41"/><stop offset=".506" stop-color="#a5ff95"/><stop offset=".556" stop-color="#66ffca"/><stop offset=".573" stop-color="#46ffd9"/><stop offset=".607" stop-color="#26fff6"/><stop offset=".613" stop-color="#1bfffb"/><stop offset=".619" stop-color="#01ffff"/><stop offset=".624" stop-color="#17f9ff"/><stop offset=".641" stop-color="#2fe7ff"/><stop offset=".681" stop-color="#42c0ff"/><stop offset=".760" stop-color="#417cfe"/><stop offset=".845" stop-color="#304afd"/><stop offset=".924" stop-color="#2637fc"/><stop offset=".975" stop-color="#2434fc"/></linearGradient>
<linearGradient id="ga47"><stop offset=".025" stop-color="#ffa200"/><stop offset=".229" stop-color="#ffa400"/><stop offset=".297" stop-color="#ffb500"/><stop offset=".359" stop-color="#ffe400"/><stop offset=".387" stop-color="#fffd00"/><stop offset=".398" stop-color="#f6ff24"/><stop offset=".421" stop-color="#e4ff47"/><stop offset=".500" stop-color="#a0ff9a"/><stop offset=".545" stop-color="#68ffc8"/><stop offset=".562" stop-color="#47ffd9"/><stop offset=".596" stop-color="#27fff6"/><stop offset=".602" stop-color="#1cfffa"/><stop offset=".607" stop-color="#09fffe"/><stop offset=".624" stop-color="#28eeff"/><stop offset=".658" stop-color="#3fccff"/><stop offset=".726" stop-color="#448fff"/><stop offset=".816" stop-color="#3452fd"/><stop offset=".890" stop-color="#2739fc"/><stop offset=".975" stop-color="#2433fc"/></linearGradient>
<linearGradient id="ga48"><stop offset=".025" stop-color="#ffa500"/><stop offset=".223" stop-color="#ffa900"/><stop offset=".297" stop-color="#ffbc00"/><stop offset=".364" stop-color="#ffef00"/><stop offset=".381" stop-color="#ffff00"/><stop offset=".387" stop-color="#faff18"/><stop offset=".404" stop-color="#ebff3b"/><stop offset=".472" stop-color="#b3ff86"/><stop offset=".528" stop-color="#73ffc1"/><stop offset=".545" stop-color="#56ffd2"/><stop offset=".551" stop-color="#48ffd7"/><stop offset=".585" stop-color="#28fff5"/><stop offset=".590" stop-color="#1efffa"/><stop offset=".596" stop-color="#0cfffe"/><stop offset=".619" stop-color="#2ee9ff"/><stop offset=".658" stop-color="#42c1ff"/><stop offset=".737" stop-color="#427efe"/><stop offset=".828" stop-color="#2f48fc"/><stop offset=".901" stop-color="#2535fc"/><stop offset=".975" stop-color="#2332fc"/></linearGradient>
<linearGradient id="ga49"><stop offset=".025" stop-color="#ffa800"/><stop offset=".212" stop-color="#ffad00"/><stop offset=".291" stop-color="#ffc100"/><stop offset=".353" stop-color="#ffec00"/><stop offset=".376" stop-color="#ffff02"/><stop offset=".381" stop-color="#f9ff1b"/><stop offset=".398" stop-color="#eaff3d"/><stop offset=".460" stop-color="#b5ff84"/><stop offset=".517" stop-color="#77ffbe"/><stop offset=".534" stop-color="#5bffcf"/><stop offset=".545" stop-color="#45ffda"/><stop offset=".573" stop-color="#2afff4"/><stop offset=".585" stop-color="#10fffd"/><stop offset=".590" stop-color="#11fbff"/><stop offset=".602" stop-color="#27f0ff"/><stop offset=".636" stop-color="#3ecdff"/><stop offset=".703" stop-color="#448fff"/><stop offset=".799" stop-color="#3350fd"/><stop offset=".879" stop-color="#2535fc"/><stop offset=".975" stop-color="#2331fc"/></linearGradient>
<linearGradient id="ga50"><stop offset=".025" stop-color="#ffab00"/><stop offset=".206" stop-color="#ffb200"/><stop offset=".291" stop-color="#ffc800"/><stop offset=".359" stop-color="#fff600"/><stop offset=".370" stop-color="#feff06"/><stop offset=".376" stop-color="#f9ff1d"/><stop offset=".398" stop-color="#e5ff46"/><stop offset=".489" stop-color="#90ffa9"/><stop offset=".523" stop-color="#61ffcc"/><stop offset=".534" stop-color="#47ffd8"/><stop offset=".562" stop-color="#2cfff2"/><stop offset=".579" stop-color="#0bfdff"/><stop offset=".585" stop-color="#1cf7ff"/><stop offset=".607" stop-color="#36dfff"/><stop offset=".653" stop-color="#44b1ff"/><stop offset=".749" stop-color="#3c67fe"/><stop offset=".839" stop-color="#293bfc"/><stop offset=".918" stop-color="#2230fc"/><stop offset=".975" stop-color="#2231fc"/></linearGradient>
<linearGradient id="ga51"><stop offset=".025" stop-color="#ffaf00"/><stop offset=".195" stop-color="#ffb700"/><stop offset=".285" stop-color="#ffcc00"/><stop offset=".353" stop-color="#fff700"/><stop offset=".359" stop-color="#fffc00"/><stop offset=".364" stop-color="#fdff0a"/><stop offset=".370" stop-color="#f8ff1e"/><stop offset=".393" stop-color="#e5ff46"/><stop offset=".483" stop-color="#8fffab"/><stop offset=".517" stop-color="#5dffce"/><stop offset=".528" stop-color="#46ffda"/><stop offset=".556" stop-color="#28fff5"/><stop offset=".562" stop-color="#1dfffa"/><stop offset=".568" stop-color="#04ffff"/><stop offset=".573" stop-color="#17f9ff"/><stop offset=".590" stop-color="#30e6ff"/><stop offset=".630" stop-color="#43bcff"/><stop offset=".715" stop-color="#4076fe"/><stop offset=".811" stop-color="#2c41fc"/><stop offset=".890" stop-color="#222ffc"/><stop offset=".975" stop-color="#2230fc"/></linearGradient>
<linearGradient id="ga52"><stop offset=".025" stop-color="#ffb200"/><stop offset=".189" stop-color="#ffbc00"/><stop offset=".285" stop-color="#ffd300"/><stop offset=".353" stop-color="#fffd00"/><stop offset=".370" stop-color="#f3ff2b"/><stop offset=".410" stop-color="#d1ff62"/><stop offset=".483" stop-color="#86ffb2"/><stop offset=".511" stop-color="#5affd0"/><stop offset=".517" stop-color="#4affd6"/><stop offset=".545" stop-color="#2dfff2"/><stop offset=".562" stop-color="#0dfcff"/><stop offset=".573" stop-color="#27efff"/><stop offset=".602" stop-color="#3ecfff"/><stop offset=".658" stop-color="#4597ff"/><stop offset=".754" stop-color="#3556fd"/><stop offset=".839" stop-color="#2434fc"/><stop offset=".924" stop-color="#212efc"/><stop offset=".975" stop-color="#222ffc"/></linearGradient>
<linearGradient id="ga53"><stop offset=".025" stop-color="#ffb600"/><stop offset=".184" stop-color="#ffc000"/><stop offset=".285" stop-color="#ffda00"/><stop offset=".347" stop-color="#fffe00"/><stop offset=".359" stop-color="#f7ff21"/><stop offset=".393" stop-color="#dbff54"/><stop offset=".466" stop-color="#94ffa6"/><stop offset=".500" stop-color="#64ffcb"/><stop offset=".511" stop-color="#48ffd7"/><stop offset=".540" stop-color="#2bfff3"/><stop offset=".545" stop-color="#20fff8"/><stop offset=".551" stop-color="#0dfffe"/><stop offset=".573" stop-color="#31e6ff"/><stop offset=".607" stop-color="#42beff"/><stop offset=".675" stop-color="#4280fe"/><stop offset=".777" stop-color="#2e45fc"/><stop offset=".862" stop-color="#202dfc"/><stop offset=".975" stop-color="#222ffc"/></linearGradient>
<linearGradient id="ga54"><stop offset=".025" stop-color="#ffba00"/><stop offset=".184" stop-color="#ffc600"/><stop offset=".291" stop-color="#ffe300"/><stop offset=".342" stop-color="#ffff02"/><stop offset=".347" stop-color="#fbff17"/><stop offset=".370" stop-color="#e9ff3e"/><stop offset=".455" stop-color="#9bff9f"/><stop offset=".494" stop-color="#63ffcc"/><stop offset=".506" stop-color="#47ffd8"/><stop offset=".534" stop-color="#29fff4"/><stop offset=".540" stop-color="#1efffa"/><stop offset=".545" stop-color="#02ffff"/><stop offset=".551" stop-color="#19f8ff"/><stop offset=".568" stop-color="#33e3ff"/><stop offset=".602" stop-color="#43baff"/><stop offset=".664" stop-color="#427ffe"/><stop offset=".766" stop-color="#2d44fc"/><stop offset=".850" stop-color="#202cfc"/><stop offset=".975" stop-color="#212ffc"/></linearGradient>
<linearGradient id="ga55"><stop offset=".025" stop-color="#ffbe00"/><stop offset=".184" stop-color="#ffcc00"/><stop offset=".297" stop-color="#ffeb00"/><stop offset=".331" stop-color="#fffd00"/><stop offset=".353" stop-color="#f1ff2f"/><stop offset=".438" stop-color="#a8ff92"/><stop offset=".483" stop-color="#6cffc6"/><stop offset=".500" stop-color="#47ffd8"/><stop offset=".528" stop-color="#28fff5"/><stop offset=".534" stop-color="#1bfffa"/><stop offset=".540" stop-color="#05feff"/><stop offset=".545" stop-color="#1cf7ff"/><stop offset=".562" stop-color="#34e1ff"/><stop offset=".602" stop-color="#45b0ff"/><stop offset=".658" stop-color="#417afe"/><stop offset=".760" stop-color="#2c41fc"/><stop offset=".845" stop-color="#1e2afc"/><stop offset=".975" stop-color="#212ffc"/></linearGradient>
<linearGradient id="ga56"><stop offset=".025" stop-color="#ffc200"/><stop offset=".184" stop-color="#ffd200"/><stop offset=".297" stop-color="#fff100"/><stop offset=".325" stop-color="#ffff00"/><stop offset=".336" stop-color="#f8ff1f"/><stop offset=".381" stop-color="#d7ff5a"/><stop offset=".449" stop-color="#96ffa4"/><stop offset=".483" stop-color="#62ffcc"/><stop offset=".494" stop-color="#47ffd9"/><stop offset=".523" stop-color="#27fff6"/><stop offset=".534" stop-color="#0afdff"/><stop offset=".540" stop-color="#1ef6ff"/><stop offset=".556" stop-color="#35e0ff"/><stop offset=".596" stop-color="#45aeff"/><stop offset=".647" stop-color="#417afe"/><stop offset=".743" stop-color="#2c43fc"/><stop offset=".822" stop-color="#1e2afc"/><stop offset=".924" stop-color="#1f2bfc"/><stop offset=".975" stop-color="#212ffc"/></linearGradient>
<linearGradient id="ga57"><stop offset=".025" stop-color="#ffc600"/><stop offset=".189" stop-color="#ffd900"/><stop offset=".308" stop-color="#fffb00"/><stop offset=".314" stop-color="#fffe00"/><stop offset=".336" stop-color="#f3ff2b"/><stop offset=".415" stop-color="#b5ff84"/><stop offset=".460" stop-color="#80ffb8"/><stop offset=".483" stop-color="#55ffd2"/><stop offset=".489" stop-color="#47ffd9"/><stop offset=".511" stop-color="#2ffff1"/><stop offset=".528" stop-color="#0ffcff"/><stop offset=".540" stop-color="#29eeff"/><stop offset=".568" stop-color="#40c8ff"/><stop offset=".619" stop-color="#448bff"/><stop offset=".675" stop-color="#395ffd"/><stop offset=".777" stop-color="#2230fc"/><stop offset=".862" stop-color="#1b25fb"/><stop offset=".975" stop-color="#212efc"/></linearGradient>
<linearGradient id="ga58"><stop offset=".025" stop-color="#ffcb00"/><stop offset=".195" stop-color="#ffe000"/><stop offset=".302" stop-color="#fffe00"/><stop offset=".331" stop-color="#f2ff2e"/><stop offset=".404" stop-color="#bbff7d"/><stop offset=".455" stop-color="#80ffb7"/><stop offset=".477" stop-color="#56ffd2"/><stop offset=".483" stop-color="#47ffd9"/><stop offset=".506" stop-color="#2efff1"/><stop offset=".517" stop-color="#14fffd"/><stop offset=".523" stop-color="#12fbff"/><stop offset=".534" stop-color="#2becff"/><stop offset=".562" stop-color="#40c7ff"/><stop offset=".613" stop-color="#448aff"/><stop offset=".669" stop-color="#385bfd"/><stop offset=".771" stop-color="#212efc"/><stop offset=".856" stop-color="#1a24fb"/><stop offset=".975" stop-color="#212efc"/></linearGradient>
<linearGradient id="ga59"><stop offset=".025" stop-color="#ffcf00"/><stop offset=".201" stop-color="#ffe700"/><stop offset=".291" stop-color="#fffe00"/><stop offset=".319" stop-color="#f3ff2b"/><stop offset=".393" stop-color="#c1ff76"/><stop offset=".444" stop-color="#89ffaf"/><stop offset=".466" stop-color="#64ffcb"/><stop offset=".477" stop-color="#47ffd8"/><stop offset=".500" stop-color="#2efff1"/><stop offset=".511" stop-color="#11fffd"/><stop offset=".517" stop-color="#14faff"/><stop offset=".528" stop-color="#2cebff"/><stop offset=".556" stop-color="#40c6ff"/><stop offset=".607" stop-color="#4388ff"/><stop offset=".664" stop-color="#3659fd"/><stop offset=".760" stop-color="#212efc"/><stop offset=".839" stop-color="#1922fb"/><stop offset=".975" stop-color="#212efc"/></linearGradient>
<linearGradient id="ga60"><stop offset=".025" stop-color="#ffd300"/><stop offset=".206" stop-color="#ffee00"/><stop offset=".280" stop-color="#ffff01"/><stop offset=".302" stop-color="#f7ff23"/><stop offset=".376" stop-color="#cbff6a"/><stop offset=".432" stop-color="#92ffa7"/><stop offset=".460" stop-color="#66ffca"/><stop offset=".472" stop-color="#48ffd7"/><stop offset=".494" stop-color="#2efff1"/><stop offset=".500" stop-color="#23fff7"/><stop offset=".506" stop-color="#11fffd"/><stop offset=".511" stop-color="#15faff"/><stop offset=".523" stop-color="#2cebff"/><stop offset=".551" stop-color="#41c5ff"/><stop offset=".602" stop-color="#4387ff"/><stop offset=".658" stop-color="#3656fd"/><stop offset=".749" stop-color="#212dfc"/><stop offset=".828" stop-color="#1821fb"/><stop offset=".975" stop-color="#212dfc"/></linearGradient>
<linearGradient id="ga61"><stop offset=".025" stop-color="#ffd700"/><stop offset=".212" stop-color="#fff500"/><stop offset=".263" stop-color="#ffff02"/><stop offset=".297" stop-color="#f4ff29"/><stop offset=".370" stop-color="#ccff69"/><stop offset=".427" stop-color="#94ffa6"/><stop offset=".455" stop-color="#68ffc9"/><stop offset=".466" stop-color="#49ffd6"/><stop offset=".489" stop-color="#2ffff1"/><stop offset=".494" stop-color="#24fff7"/><stop offset=".500" stop-color="#12fffd"/><stop offset=".506" stop-color="#15faff"/><stop offset=".517" stop-color="#2cebff"/><stop offset=".545" stop-color="#41c4ff"/><stop offset=".596" stop-color="#4386ff"/><stop offset=".653" stop-color="#3554fd"/><stop offset=".732" stop-color="#222ffc"/><stop offset=".816" stop-color="#171ffb"/><stop offset=".975" stop-color="#202dfc"/></linearGradient>
<linearGradient id="ga62"><stop offset=".025" stop-color="#ffdc00"/><stop offset=".218" stop-color="#fffb00"/><stop offset=".240" stop-color="#ffff01"/><stop offset=".280" stop-color="#f6ff25"/><stop offset=".353" stop-color="#d4ff5e"/><stop offset=".410" stop-color="#a3ff97"/><stop offset=".444" stop-color="#75ffc0"/><stop offset=".455" stop-color="#5effce"/><stop offset=".460" stop-color="#4dffd5"/><stop offset=".489" stop-color="#26fff6"/><stop offset=".494" stop-color="#15fffc"/><stop offset=".500" stop-color="#13fbff"/><stop offset=".511" stop-color="#2cebff"/><stop offset=".540" stop-color="#41c4ff"/><stop offset=".590" stop-color="#4386ff"/><stop offset=".653" stop-color="#334ffd"/><stop offset=".732" stop-color="#1f2cfc"/><stop offset=".816" stop-color="#171efb"/><stop offset=".975" stop-color="#202dfc"/></linearGradient>
<linearGradient id="ga63"><stop offset=".025" stop-color="#ffe000"/><stop offset=".218" stop-color="#fffe00"/><stop offset=".257" stop-color="#f7ff21"/><stop offset=".336" stop-color="#daff55"/><stop offset=".398" stop-color="#abff8f"/><stop offset=".438" stop-color="#78ffbe"/><stop offset=".460" stop-color="#46ffda"/><stop offset=".483" stop-color="#28fff5"/><stop offset=".494" stop-color="#0efcff"/><stop offset=".500" stop-color="#21f4ff"/><stop offset=".517" stop-color="#37dcff"/><stop offset=".551" stop-color="#45aeff"/><stop offset=".619" stop-color="#3b64fd"/><stop offset=".681" stop-color="#293bfc"/><stop offset=".777" stop-color="#171ffb"/><stop offset=".879" stop-color="#1a23fb"/><stop offset=".975" stop-color="#202dfc"/></linearGradient>
<linearGradient id="ga64"><stop offset=".025" stop-color="#ffe400"/><stop offset=".206" stop-color="#ffff00"/><stop offset=".229" stop-color="#faff1a"/><stop offset=".325" stop-color="#dcff52"/><stop offset=".387" stop-color="#b2ff87"/><stop offset=".427" stop-color="#84ffb4"/><stop offset=".449" stop-color="#59ffd0"/><stop offset=".455" stop-color="#48ffd7"/><stop offset=".477" stop-color="#2cfff3"/><stop offset=".483" stop-color="#1efff9"/><stop offset=".489" stop-color="#03feff"/><stop offset=".494" stop-color="#1df6ff"/><stop offset=".511" stop-color="#36ddff"/><stop offset=".545" stop-color="#45aeff"/><stop offset=".607" stop-color="#3c69fe"/><stop offset=".669" stop-color="#293dfc"/><stop offset=".760" stop-color="#1820fb"/><stop offset=".850" stop-color="#171efb"/><stop offset=".975" stop-color="#202cfc"/></linearGradient>
<linearGradient id="ga65"><stop offset=".025" stop-color="#ffe800"/><stop offset=".189" stop-color="#ffff00"/><stop offset=".229" stop-color="#f7ff23"/><stop offset=".325" stop-color="#d9ff57"/><stop offset=".387" stop-color="#aeff8b"/><stop offset=".427" stop-color="#7effb9"/><stop offset=".444" stop-color="#5fffce"/><stop offset=".449" stop-color="#4effd5"/><stop offset=".477" stop-color="#24fff7"/><stop offset=".483" stop-color="#10fffd"/><stop offset=".506" stop-color="#35e0ff"/><stop offset=".540" stop-color="#45aeff"/><stop offset=".602" stop-color="#3c69fe"/><stop offset=".664" stop-color="#293cfc"/><stop offset=".754" stop-color="#171ffb"/><stop offset=".845" stop-color="#161dfb"/><stop offset=".975" stop-color="#1f2cfc"/></linearGradient>
<linearGradient id="ga66"><stop offset=".025" stop-color="#ffec00"/><stop offset=".172" stop-color="#ffff01"/><stop offset=".223" stop-color="#f5ff26"/><stop offset=".325" stop-color="#d5ff5c"/><stop offset=".387" stop-color="#aaff90"/><stop offset=".427" stop-color="#79ffbd"/><stop offset=".444" stop-color="#57ffd2"/><stop offset=".449" stop-color="#47ffd9"/><stop offset=".472" stop-color="#2afff4"/><stop offset=".483" stop-color="#0bfdff"/><stop offset=".489" stop-color="#20f5ff"/><stop offset=".506" stop-color="#38daff"/><stop offset=".540" stop-color="#45a8ff"/><stop offset=".602" stop-color="#3b64fd"/><stop offset=".664" stop-color="#2738fc"/><stop offset=".760" stop-color="#161dfb"/><stop offset=".856" stop-color="#161efb"/><stop offset=".975" stop-color="#1f2bfc"/></linearGradient>
<linearGradient id="ga67"><stop offset=".025" stop-color="#fff000"/><stop offset=".144" stop-color="#ffff02"/><stop offset=".268" stop-color="#e7ff42"/><stop offset=".347" stop-color="#c5ff71"/><stop offset=".398" stop-color="#9bffa0"/><stop offset=".432" stop-color="#69ffc8"/><stop offset=".444" stop-color="#4bffd5"/><stop offset=".466" stop-color="#2ffff0"/><stop offset=".472" stop-color="#24fff7"/><stop offset=".477" stop-color="#11fffd"/><stop offset=".483" stop-color="#17f9ff"/><stop offset=".494" stop-color="#2fe8ff"/><stop offset=".517" stop-color="#41c4ff"/><stop offset=".562" stop-color="#4387ff"/><stop offset=".630" stop-color="#3049fd"/><stop offset=".692" stop-color="#1f2afc"/><stop offset=".799" stop-color="#1318fb"/><stop offset=".975" stop-color="#1e2afc"/></linearGradient>
<linearGradient id="ga68"><stop offset=".025" stop-color="#fff400"/><stop offset=".105" stop-color="#ffff02"/><stop offset=".240" stop-color="#ebff3b"/><stop offset=".331" stop-color="#caff6a"/><stop offset=".387" stop-color="#a2ff98"/><stop offset=".421" stop-color="#77ffbe"/><stop offset=".438" stop-color="#54ffd2"/><stop offset=".444" stop-color="#46ffd9"/><stop offset=".466" stop-color="#2bfff3"/><stop offset=".472" stop-color="#1efff9"/><stop offset=".477" stop-color="#03feff"/><stop offset=".483" stop-color="#1ef6ff"/><stop offset=".500" stop-color="#38dbff"/><stop offset=".534" stop-color="#45a5ff"/><stop offset=".590" stop-color="#3b66fe"/><stop offset=".653" stop-color="#2738fc"/><stop offset=".726" stop-color="#1821fb"/><stop offset=".811" stop-color="#1217fb"/><stop offset=".975" stop-color="#1e29fb"/></linearGradient>
<clipPath id="cpa"><rect x="131.7" y="60.3" width="337.6" height="241.4"/></clipPath>
<linearGradient id="gb0"><stop offset=".025" stop-color="#ffbf00"/><stop offset=".148" stop-color="#fffe00"/><stop offset=".176" stop-color="#f8ff1f"/><stop offset=".254" stop-color="#e1ff4b"/><stop offset=".293" stop-color="#c2ff75"/><stop offset=".321" stop-color="#9bff9f"/><stop offset=".344" stop-color="#68ffc9"/><stop offset=".355" stop-color="#43ffde"/><stop offset=".366" stop-color="#2cfff3"/><stop offset=".372" stop-color="#14fffc"/><stop offset=".388" stop-color="#38dbff"/><stop offset=".411" stop-color="#45a6ff"/><stop offset=".444" stop-color="#395ffd"/><stop offset=".478" stop-color="#2637fc"/><stop offset=".534" stop-color="#1212fa"/><stop offset=".645" stop-color="#1114fa"/><stop offset=".790" stop-color="#3351fd"/><stop offset=".908" stop-color="#3c69fe"/><stop offset=".975" stop-color="#3e6efe"/></linearGradient>
<linearGradient id="gb1"><stop offset=".025" stop-color="#ffbc00"/><stop offset=".148" stop-color="#fffd00"/><stop offset=".154" stop-color="#ffff00"/><stop offset=".176" stop-color="#f9ff1b"/><stop offset=".260" stop-color="#e0ff4d"/><stop offset=".299" stop-color="#beff79"/><stop offset=".327" stop-color="#94ffa6"/><stop offset=".344" stop-color="#6cffc6"/><stop offset=".355" stop-color="#45ffdc"/><stop offset=".366" stop-color="#2ffff0"/><stop offset=".372" stop-color="#1bfffa"/><stop offset=".377" stop-color="#19f8ff"/><stop offset=".383" stop-color="#2cebff"/><stop offset=".399" stop-color="#41c4ff"/><stop offset=".427" stop-color="#4384fe"/><stop offset=".455" stop-color="#3351fd"/><stop offset=".494" stop-color="#1e2afc"/><stop offset=".528" stop-color="#1212fa"/><stop offset=".645" stop-color="#1116fa"/><stop offset=".779" stop-color="#324ffd"/><stop offset=".902" stop-color="#3c6afe"/><stop offset=".975" stop-color="#3e6ffe"/></linearGradient>
<linearGradient id="gb2"><stop offset=".025" stop-color="#ffb800"/><stop offset=".148" stop-color="#fffb00"/><stop offset=".159" stop-color="#ffff00"/><stop offset=".176" stop-color="#faff18"/><stop offset=".260" stop-color="#e1ff4b"/><stop offset=".299" stop-color="#c0ff77"/><stop offset=".327" stop-color="#96ffa4"/><stop offset=".344" stop-color="#6fffc4"/><stop offset=".355" stop-color="#46ffd9"/><stop offset=".366" stop-color="#32ffee"/><stop offset=".377" stop-color="#12fbff"/><stop offset=".383" stop-color="#28eeff"/><stop offset=".394" stop-color="#3bd4ff"/><stop offset=".416" stop-color="#45a0ff"/><stop offset=".450" stop-color="#395efd"/><stop offset=".489" stop-color="#212ffc"/><stop offset=".528" stop-color="#1212fa"/><stop offset=".640" stop-color="#1115fa"/><stop offset=".785" stop-color="#3452fd"/><stop offset=".908" stop-color="#3d6bfe"/><stop offset=".975" stop-color="#3e70fe"/></linearGradient>
<linearGradient id="gb3"><stop offset=".025" stop-color="#ffb500"/><stop offset=".148" stop-color="#fffa00"/><stop offset=".165" stop-color="#feff03"/><stop offset=".182" stop-color="#faff1a"/><stop offset=".260" stop-color="#e2ff49"/><stop offset=".299" stop-color="#c1ff76"/><stop offset=".327" stop-color="#98ffa2"/><stop offset=".344" stop-color="#72ffc2"/><stop offset=".349" stop-color="#61ffcc"/><stop offset=".355" stop-color="#48ffd7"/><stop offset=".366" stop-color="#35ffec"/><stop offset=".372" stop-color="#26fff6"/><stop offset=".377" stop-color="#05feff"/><stop offset=".383" stop-color="#24f2ff"/><stop offset=".394" stop-color="#3ad8ff"/><stop offset=".416" stop-color="#45a5ff"/><stop offset=".455" stop-color="#375afd"/><stop offset=".500" stop-color="#1c26fb"/><stop offset=".522" stop-color="#1213fa"/><stop offset=".634" stop-color="#1114fa"/><stop offset=".790" stop-color="#3555fd"/><stop offset=".919" stop-color="#3d6dfe"/><stop offset=".975" stop-color="#3e70fe"/></linearGradient>
<linearGradient id="gb4"><stop offset=".025" stop-color="#ffb100"/><stop offset=".148" stop-color="#fff800"/><stop offset=".165" stop-color="#ffff00"/><stop offset=".187" stop-color="#f9ff1c"/><stop offset=".260" stop-color="#e3ff48"/><stop offset=".299" stop-color="#c3ff74"/><stop offset=".332" stop-color="#8fffab"/><stop offset=".349" stop-color="#65ffca"/><stop offset=".355" stop-color="#4dffd5"/><stop offset=".372" stop-color="#2afff4"/><stop offset=".377" stop-color="#11fffd"/><stop offset=".388" stop-color="#2ee9ff"/><stop offset=".405" stop-color="#41c3ff"/><stop offset=".433" stop-color="#4387ff"/><stop offset=".472" stop-color="#2f47fc"/><stop offset=".522" stop-color="#1213fa"/><stop offset=".628" stop-color="#1213fa"/><stop offset=".790" stop-color="#3657fd"/><stop offset=".925" stop-color="#3e6efe"/><stop offset=".975" stop-color="#3f71fe"/></linearGradient>
<linearGradient id="gb5"><stop offset=".025" stop-color="#ffad00"/><stop offset=".148" stop-color="#fff700"/><stop offset=".170" stop-color="#feff04"/><stop offset=".187" stop-color="#f9ff1b"/><stop offset=".265" stop-color="#e0ff4c"/><stop offset=".304" stop-color="#bdff7b"/><stop offset=".332" stop-color="#91ffa9"/><stop offset=".349" stop-color="#69ffc8"/><stop offset=".360" stop-color="#44ffdd"/><stop offset=".372" stop-color="#2ffff1"/><stop offset=".377" stop-color="#1cfffa"/><stop offset=".383" stop-color="#17f9ff"/><stop offset=".388" stop-color="#2aedff"/><stop offset=".405" stop-color="#40c7ff"/><stop offset=".433" stop-color="#448cff"/><stop offset=".472" stop-color="#304bfd"/><stop offset=".522" stop-color="#1113fa"/><stop offset=".628" stop-color="#1116fa"/><stop offset=".785" stop-color="#3656fd"/><stop offset=".919" stop-color="#3e6efe"/><stop offset=".975" stop-color="#3f72fe"/></linearGradient>
<linearGradient id="gb6"><stop offset=".025" stop-color="#ffa900"/><stop offset=".154" stop-color="#fff800"/><stop offset=".170" stop-color="#ffff00"/><stop offset=".187" stop-color="#faff1a"/><stop offset=".265" stop-color="#e1ff4b"/><stop offset=".304" stop-color="#beff79"/><stop offset=".338" stop-color="#88ffb1"/><stop offset=".355" stop-color="#5bffd0"/><stop offset=".360" stop-color="#46ffda"/><stop offset=".372" stop-color="#33ffee"/><stop offset=".377" stop-color="#23fff7"/><stop offset=".383" stop-color="#0afdff"/><stop offset=".388" stop-color="#25f1ff"/><stop offset=".399" stop-color="#39d9ff"/><stop offset=".422" stop-color="#45a9ff"/><stop offset=".461" stop-color="#3960fd"/><stop offset=".506" stop-color="#1b25fb"/><stop offset=".528" stop-color="#1212fa"/><stop offset=".623" stop-color="#1116fa"/><stop offset=".785" stop-color="#3658fd"/><stop offset=".925" stop-color="#3e6ffe"/><stop offset=".975" stop-color="#3f72fe"/></linearGradient>
<linearGradient id="gb7"><stop offset=".025" stop-color="#ffa500"/><stop offset=".159" stop-color="#fffa00"/><stop offset=".170" stop-color="#fffe00"/><stop offset=".193" stop-color="#f9ff1d"/><stop offset=".265" stop-color="#e2ff4a"/><stop offset=".304" stop-color="#c0ff78"/><stop offset=".338" stop-color="#8bffae"/><stop offset=".355" stop-color="#61ffcd"/><stop offset=".360" stop-color="#48ffd7"/><stop offset=".377" stop-color="#2afff4"/><stop offset=".383" stop-color="#11fffd"/><stop offset=".399" stop-color="#36deff"/><stop offset=".422" stop-color="#45aeff"/><stop offset=".461" stop-color="#3b64fd"/><stop offset=".506" stop-color="#1d27fb"/><stop offset=".528" stop-color="#1213fa"/><stop offset=".612" stop-color="#1115fa"/><stop offset=".796" stop-color="#385cfd"/><stop offset=".952" stop-color="#3f72fe"/><stop offset=".975" stop-color="#3f73fe"/></linearGradient>
<linearGradient id="gb8"><stop offset=".025" stop-color="#ffa100"/><stop offset=".159" stop-color="#fff800"/><stop offset=".176" stop-color="#ffff02"/><stop offset=".193" stop-color="#f9ff1b"/><stop offset=".271" stop-color="#dfff4e"/><stop offset=".310" stop-color="#baff7e"/><stop offset=".344" stop-color="#82ffb5"/><stop offset=".355" stop-color="#66ffc9"/><stop offset=".366" stop-color="#43ffdd"/><stop offset=".377" stop-color="#2ffff0"/><stop offset=".388" stop-color="#13fbff"/><stop offset=".394" stop-color="#28efff"/><stop offset=".411" stop-color="#3fcbff"/><stop offset=".439" stop-color="#4592ff"/><stop offset=".483" stop-color="#2e46fc"/><stop offset=".522" stop-color="#141bfb"/><stop offset=".545" stop-color="#1212fa"/><stop offset=".612" stop-color="#1217fb"/><stop offset=".796" stop-color="#385dfd"/><stop offset=".958" stop-color="#3f73fe"/><stop offset=".975" stop-color="#3f74fe"/></linearGradient>
<linearGradient id="gb9"><stop offset=".025" stop-color="#ff9d00"/><stop offset=".165" stop-color="#fff900"/><stop offset=".176" stop-color="#fffe00"/><stop offset=".198" stop-color="#f9ff1e"/><stop offset=".271" stop-color="#e0ff4c"/><stop offset=".310" stop-color="#bcff7c"/><stop offset=".344" stop-color="#86ffb2"/><stop offset=".360" stop-color="#5affd0"/><stop offset=".366" stop-color="#46ffda"/><stop offset=".383" stop-color="#26fff6"/><stop offset=".388" stop-color="#05ffff"/><stop offset=".394" stop-color="#21f4ff"/><stop offset=".405" stop-color="#37dcff"/><stop offset=".427" stop-color="#45adff"/><stop offset=".466" stop-color="#3b64fd"/><stop offset=".506" stop-color="#212dfc"/><stop offset=".539" stop-color="#1114fa"/><stop offset=".595" stop-color="#1116fa"/><stop offset=".718" stop-color="#2c41fc"/><stop offset=".807" stop-color="#3961fd"/><stop offset=".975" stop-color="#3f74fe"/></linearGradient>
<linearGradient id="gb10"><stop offset=".025" stop-color="#ff9800"/><stop offset=".165" stop-color="#fff700"/><stop offset=".182" stop-color="#fffe00"/><stop offset=".204" stop-color="#f8ff1f"/><stop offset=".277" stop-color="#ddff51"/><stop offset=".316" stop-color="#b7ff82"/><stop offset=".349" stop-color="#7effb9"/><stop offset=".360" stop-color="#61ffcc"/><stop offset=".366" stop-color="#4affd6"/><stop offset=".383" stop-color="#2cfff2"/><stop offset=".388" stop-color="#19fffb"/><stop offset=".394" stop-color="#18f9ff"/><stop offset=".399" stop-color="#2aedff"/><stop offset=".416" stop-color="#3fcaff"/><stop offset=".444" stop-color="#4491ff"/><stop offset=".489" stop-color="#2e45fc"/><stop offset=".528" stop-color="#171ffb"/><stop offset=".567" stop-color="#1114fa"/><stop offset=".679" stop-color="#2331fc"/><stop offset=".802" stop-color="#3960fd"/><stop offset=".964" stop-color="#3f74fe"/><stop offset=".975" stop-color="#4075fe"/></linearGradient>
<linearGradient id="gb11"><stop offset=".025" stop-color="#ff9400"/><stop offset=".170" stop-color="#fff700"/><stop offset=".187" stop-color="#fffe00"/><stop offset=".210" stop-color="#f8ff20"/><stop offset=".277" stop-color="#deff50"/><stop offset=".316" stop-color="#b9ff7f"/><stop offset=".349" stop-color="#83ffb5"/><stop offset=".366" stop-color="#55ffd2"/><stop offset=".372" stop-color="#44ffdc"/><stop offset=".383" stop-color="#32ffef"/><stop offset=".388" stop-color="#23fff8"/><stop offset=".394" stop-color="#09fdff"/><stop offset=".399" stop-color="#24f2ff"/><stop offset=".411" stop-color="#38daff"/><stop offset=".433" stop-color="#45acff"/><stop offset=".472" stop-color="#3a63fd"/><stop offset=".511" stop-color="#2230fc"/><stop offset=".550" stop-color="#1319fb"/><stop offset=".612" stop-color="#171ffb"/><stop offset=".729" stop-color="#2f47fc"/><stop offset=".824" stop-color="#3b66fe"/><stop offset=".975" stop-color="#4076fe"/></linearGradient>
<linearGradient id="gb12"><stop offset=".025" stop-color="#ff9000"/><stop offset=".170" stop-color="#fff400"/><stop offset=".193" stop-color="#fffe00"/><stop offset=".215" stop-color="#f7ff21"/><stop offset=".282" stop-color="#dbff54"/><stop offset=".321" stop-color="#b5ff84"/><stop offset=".349" stop-color="#88ffb1"/><stop offset=".366" stop-color="#5effce"/><stop offset=".372" stop-color="#47ffd8"/><stop offset=".388" stop-color="#2afff4"/><stop offset=".394" stop-color="#13fffd"/><stop offset=".411" stop-color="#35dfff"/><stop offset=".433" stop-color="#45b1ff"/><stop offset=".472" stop-color="#3c67fe"/><stop offset=".511" stop-color="#2433fc"/><stop offset=".545" stop-color="#161efb"/><stop offset=".595" stop-color="#161efb"/><stop offset=".707" stop-color="#2a3efc"/><stop offset=".813" stop-color="#3b64fd"/><stop offset=".975" stop-color="#4076fe"/></linearGradient>
<linearGradient id="gb13"><stop offset=".025" stop-color="#ff8b00"/><stop offset=".176" stop-color="#fff400"/><stop offset=".198" stop-color="#fffe00"/><stop offset=".215" stop-color="#f9ff1c"/><stop offset=".288" stop-color="#d9ff57"/><stop offset=".327" stop-color="#b1ff89"/><stop offset=".355" stop-color="#81ffb6"/><stop offset=".366" stop-color="#65ffca"/><stop offset=".377" stop-color="#43ffdd"/><stop offset=".388" stop-color="#30fff0"/><stop offset=".399" stop-color="#10fcff"/><stop offset=".405" stop-color="#26f0ff"/><stop offset=".422" stop-color="#3ecdff"/><stop offset=".450" stop-color="#4593ff"/><stop offset=".489" stop-color="#3351fd"/><stop offset=".528" stop-color="#1e29fb"/><stop offset=".567" stop-color="#161efb"/><stop offset=".679" stop-color="#2534fc"/><stop offset=".813" stop-color="#3b65fd"/><stop offset=".969" stop-color="#4077fe"/><stop offset=".975" stop-color="#4077fe"/></linearGradient>
<linearGradient id="gb14"><stop offset=".025" stop-color="#ff8700"/><stop offset=".182" stop-color="#fff400"/><stop offset=".204" stop-color="#fffe00"/><stop offset=".221" stop-color="#f9ff1e"/><stop offset=".293" stop-color="#d7ff5a"/><stop offset=".332" stop-color="#adff8d"/><stop offset=".360" stop-color="#7affbc"/><stop offset=".372" stop-color="#5cffcf"/><stop offset=".377" stop-color="#47ffd9"/><stop offset=".394" stop-color="#28fff5"/><stop offset=".399" stop-color="#0cfffe"/><stop offset=".411" stop-color="#2ee9ff"/><stop offset=".427" stop-color="#41c6ff"/><stop offset=".455" stop-color="#448cff"/><stop offset=".494" stop-color="#314cfd"/><stop offset=".528" stop-color="#1f2bfc"/><stop offset=".567" stop-color="#1820fb"/><stop offset=".679" stop-color="#2535fc"/><stop offset=".818" stop-color="#3c67fe"/><stop offset=".975" stop-color="#4078fe"/></linearGradient>
<linearGradient id="gb15"><stop offset=".025" stop-color="#ff8200"/><stop offset=".187" stop-color="#fff300"/><stop offset=".210" stop-color="#ffff00"/><stop offset=".226" stop-color="#f8ff1f"/><stop offset=".293" stop-color="#d9ff57"/><stop offset=".332" stop-color="#b1ff89"/><stop offset=".360" stop-color="#80ffb7"/><stop offset=".372" stop-color="#64ffcb"/><stop offset=".377" stop-color="#4fffd4"/><stop offset=".394" stop-color="#2efff1"/><stop offset=".399" stop-color="#1dfffa"/><stop offset=".405" stop-color="#15faff"/><stop offset=".411" stop-color="#28eeff"/><stop offset=".427" stop-color="#3fcaff"/><stop offset=".455" stop-color="#448fff"/><stop offset=".494" stop-color="#324efd"/><stop offset=".528" stop-color="#202dfc"/><stop offset=".567" stop-color="#1a23fb"/><stop offset=".684" stop-color="#2738fc"/><stop offset=".818" stop-color="#3c69fe"/><stop offset=".964" stop-color="#4179fe"/><stop offset=".975" stop-color="#4179fe"/></linearGradient>
<linearGradient id="gb16"><stop offset=".025" stop-color="#ff7d00"/><stop offset=".198" stop-color="#fff600"/><stop offset=".215" stop-color="#ffff00"/><stop offset=".226" stop-color="#faff19"/><stop offset=".299" stop-color="#d8ff58"/><stop offset=".338" stop-color="#adff8d"/><stop offset=".366" stop-color="#7affbc"/><stop offset=".383" stop-color="#46ffda"/><stop offset=".399" stop-color="#26fff6"/><stop offset=".405" stop-color="#02ffff"/><stop offset=".411" stop-color="#22f3ff"/><stop offset=".422" stop-color="#38dbff"/><stop offset=".444" stop-color="#45a9ff"/><stop offset=".483" stop-color="#395ffd"/><stop offset=".517" stop-color="#2637fc"/><stop offset=".550" stop-color="#1c26fb"/><stop offset=".673" stop-color="#2536fc"/><stop offset=".824" stop-color="#3d6bfe"/><stop offset=".969" stop-color="#417afe"/><stop offset=".975" stop-color="#417afe"/></linearGradient>
<linearGradient id="gb17"><stop offset=".025" stop-color="#ff7800"/><stop offset=".210" stop-color="#fff900"/><stop offset=".221" stop-color="#ffff00"/><stop offset=".232" stop-color="#faff1a"/><stop offset=".304" stop-color="#d7ff59"/><stop offset=".338" stop-color="#b2ff88"/><stop offset=".366" stop-color="#80ffb7"/><stop offset=".377" stop-color="#63ffcb"/><stop offset=".383" stop-color="#4dffd5"/><stop offset=".399" stop-color="#2dfff2"/><stop offset=".405" stop-color="#19fffb"/><stop offset=".411" stop-color="#19f8ff"/><stop offset=".416" stop-color="#2becff"/><stop offset=".433" stop-color="#41c5ff"/><stop offset=".461" stop-color="#4388ff"/><stop offset=".494" stop-color="#334ffd"/><stop offset=".528" stop-color="#212ffc"/><stop offset=".561" stop-color="#1d27fb"/><stop offset=".684" stop-color="#283afc"/><stop offset=".824" stop-color="#3d6dfe"/><stop offset=".964" stop-color="#417bfe"/><stop offset=".975" stop-color="#417cfe"/></linearGradient>
<linearGradient id="gb18"><stop offset=".025" stop-color="#ff7300"/><stop offset=".221" stop-color="#fffc00"/><stop offset=".226" stop-color="#ffff00"/><stop offset=".237" stop-color="#faff18"/><stop offset=".304" stop-color="#dbff54"/><stop offset=".338" stop-color="#b6ff83"/><stop offset=".372" stop-color="#79ffbc"/><stop offset=".388" stop-color="#46ffda"/><stop offset=".399" stop-color="#33ffee"/><stop offset=".405" stop-color="#24fff7"/><stop offset=".411" stop-color="#0afdff"/><stop offset=".416" stop-color="#26f0ff"/><stop offset=".427" stop-color="#3bd6ff"/><stop offset=".450" stop-color="#45a1ff"/><stop offset=".483" stop-color="#395ffd"/><stop offset=".517" stop-color="#2637fc"/><stop offset=".550" stop-color="#1d28fb"/><stop offset=".679" stop-color="#283afc"/><stop offset=".830" stop-color="#3e70fe"/><stop offset=".969" stop-color="#427dfe"/><stop offset=".975" stop-color="#427dfe"/></linearGradient>
<linearGradient id="gb19"><stop offset=".025" stop-color="#ff6e00"/><stop offset=".226" stop-color="#fffb00"/><stop offset=".232" stop-color="#fffe00"/><stop offset=".254" stop-color="#f7ff23"/><stop offset=".310" stop-color="#daff56"/><stop offset=".349" stop-color="#aaff90"/><stop offset=".377" stop-color="#73ffc1"/><stop offset=".383" stop-color="#63ffcb"/><stop offset=".388" stop-color="#4bffd6"/><stop offset=".405" stop-color="#2afff4"/><stop offset=".411" stop-color="#10fffd"/><stop offset=".422" stop-color="#30e7ff"/><stop offset=".439" stop-color="#43bdff"/><stop offset=".466" stop-color="#417dfe"/><stop offset=".494" stop-color="#324efd"/><stop offset=".528" stop-color="#212ffc"/><stop offset=".561" stop-color="#1e2afc"/><stop offset=".684" stop-color="#2a3efc"/><stop offset=".830" stop-color="#3f72fe"/><stop offset=".964" stop-color="#427ffe"/><stop offset=".975" stop-color="#427ffe"/></linearGradient>
<linearGradient id="gb20"><stop offset=".025" stop-color="#ff6900"/><stop offset=".232" stop-color="#fffa00"/><stop offset=".243" stop-color="#ffff00"/><stop offset=".260" stop-color="#f8ff1f"/><stop offset=".316" stop-color="#d8ff58"/><stop offset=".355" stop-color="#a6ff94"/><stop offset=".377" stop-color="#7affbc"/><stop offset=".394" stop-color="#45ffdc"/><stop offset=".405" stop-color="#2ffff0"/><stop offset=".411" stop-color="#1bfffb"/><stop offset=".416" stop-color="#1bf8ff"/><stop offset=".422" stop-color="#2deaff"/><stop offset=".439" stop-color="#42bfff"/><stop offset=".466" stop-color="#417cfe"/><stop offset=".494" stop-color="#314dfd"/><stop offset=".528" stop-color="#212ffc"/><stop offset=".567" stop-color="#1f2bfc"/><stop offset=".684" stop-color="#2b40fc"/><stop offset=".830" stop-color="#4075fe"/><stop offset=".958" stop-color="#4281fe"/><stop offset=".975" stop-color="#4281fe"/></linearGradient>
<linearGradient id="gb21"><stop offset=".025" stop-color="#ff6500"/><stop offset=".170" stop-color="#ffcb00"/><stop offset=".243" stop-color="#fffa00"/><stop offset=".254" stop-color="#ffff02"/><stop offset=".265" stop-color="#f9ff1b"/><stop offset=".316" stop-color="#dbff54"/><stop offset=".355" stop-color="#acff8e"/><stop offset=".377" stop-color="#81ffb7"/><stop offset=".388" stop-color="#62ffcc"/><stop offset=".394" stop-color="#48ffd7"/><stop offset=".405" stop-color="#34ffed"/><stop offset=".416" stop-color="#12fbff"/><stop offset=".422" stop-color="#2aedff"/><stop offset=".433" stop-color="#3dd0ff"/><stop offset=".455" stop-color="#4595ff"/><stop offset=".483" stop-color="#385cfd"/><stop offset=".511" stop-color="#283afc"/><stop offset=".545" stop-color="#1f2afc"/><stop offset=".679" stop-color="#2b40fc"/><stop offset=".830" stop-color="#4077fe"/><stop offset=".952" stop-color="#4383fe"/><stop offset=".975" stop-color="#4383fe"/></linearGradient>
<linearGradient id="gb22"><stop offset=".025" stop-color="#ff6000"/><stop offset=".154" stop-color="#ffb700"/><stop offset=".243" stop-color="#fff600"/><stop offset=".260" stop-color="#fffe00"/><stop offset=".277" stop-color="#f7ff21"/><stop offset=".327" stop-color="#d4ff5e"/><stop offset=".360" stop-color="#a8ff92"/><stop offset=".383" stop-color="#7bffbb"/><stop offset=".399" stop-color="#43ffdd"/><stop offset=".411" stop-color="#2afff4"/><stop offset=".416" stop-color="#05ffff"/><stop offset=".422" stop-color="#25f1ff"/><stop offset=".433" stop-color="#3cd3ff"/><stop offset=".450" stop-color="#45a6ff"/><stop offset=".478" stop-color="#3b65fd"/><stop offset=".506" stop-color="#2b40fc"/><stop offset=".539" stop-color="#202dfc"/><stop offset=".634" stop-color="#2637fc"/><stop offset=".723" stop-color="#3555fd"/><stop offset=".835" stop-color="#417bfe"/><stop offset=".964" stop-color="#4386ff"/><stop offset=".975" stop-color="#4386ff"/></linearGradient>
<linearGradient id="gb23"><stop offset=".025" stop-color="#ff5b00"/><stop offset=".142" stop-color="#ffa800"/><stop offset=".249" stop-color="#fff400"/><stop offset=".265" stop-color="#fffd00"/><stop offset=".271" stop-color="#feff06"/><stop offset=".282" stop-color="#f8ff20"/><stop offset=".332" stop-color="#d2ff60"/><stop offset=".366" stop-color="#a6ff94"/><stop offset=".388" stop-color="#75ffc0"/><stop offset=".394" stop-color="#63ffcc"/><stop offset=".399" stop-color="#48ffd7"/><stop offset=".411" stop-color="#31ffef"/><stop offset=".416" stop-color="#1cfffa"/><stop offset=".422" stop-color="#1cf7ff"/><stop offset=".427" stop-color="#2fe8ff"/><stop offset=".444" stop-color="#43b9ff"/><stop offset=".466" stop-color="#427efe"/><stop offset=".489" stop-color="#3556fd"/><stop offset=".522" stop-color="#2637fc"/><stop offset=".561" stop-color="#212efc"/><stop offset=".684" stop-color="#2f48fc"/><stop offset=".824" stop-color="#417cfe"/><stop offset=".936" stop-color="#4388ff"/><stop offset=".975" stop-color="#4388ff"/></linearGradient>
<linearGradient id="gb24"><stop offset=".025" stop-color="#ff5600"/><stop offset=".137" stop-color="#ff9c00"/><stop offset=".260" stop-color="#fff600"/><stop offset=".277" stop-color="#feff04"/><stop offset=".288" stop-color="#f8ff21"/><stop offset=".338" stop-color="#d1ff61"/><stop offset=".372" stop-color="#a3ff97"/><stop offset=".388" stop-color="#7fffb8"/><stop offset=".405" stop-color="#44ffdc"/><stop offset=".416" stop-color="#29fff4"/><stop offset=".422" stop-color="#06feff"/><stop offset=".427" stop-color="#28efff"/><stop offset=".439" stop-color="#3dd0ff"/><stop offset=".455" stop-color="#45a1ff"/><stop offset=".478" stop-color="#3d6dfe"/><stop offset=".506" stop-color="#2f49fc"/><stop offset=".545" stop-color="#2433fc"/><stop offset=".617" stop-color="#2739fc"/><stop offset=".712" stop-color="#3657fd"/><stop offset=".835" stop-color="#4282fe"/><stop offset=".952" stop-color="#448bff"/><stop offset=".975" stop-color="#448bff"/></linearGradient>
<linearGradient id="gb25"><stop offset=".025" stop-color="#ff5100"/><stop offset=".131" stop-color="#ff9100"/><stop offset=".271" stop-color="#fff900"/><stop offset=".282" stop-color="#feff05"/><stop offset=".293" stop-color="#f7ff22"/><stop offset=".344" stop-color="#d1ff62"/><stop offset=".377" stop-color="#a2ff99"/><stop offset=".394" stop-color="#7bffbb"/><stop offset=".399" stop-color="#69ffc8"/><stop offset=".405" stop-color="#4fffd4"/><stop offset=".416" stop-color="#34ffed"/><stop offset=".422" stop-color="#1ffff9"/><stop offset=".427" stop-color="#1af8ff"/><stop offset=".433" stop-color="#2ee8ff"/><stop offset=".444" stop-color="#40c9ff"/><stop offset=".466" stop-color="#448fff"/><stop offset=".489" stop-color="#3b65fd"/><stop offset=".522" stop-color="#2c42fc"/><stop offset=".561" stop-color="#2535fc"/><stop offset=".651" stop-color="#2d44fc"/><stop offset=".824" stop-color="#4383fe"/><stop offset=".930" stop-color="#448eff"/><stop offset=".975" stop-color="#448eff"/></linearGradient>
<linearGradient id="gb26"><stop offset=".025" stop-color="#ff4d00"/><stop offset=".131" stop-color="#ff8900"/><stop offset=".282" stop-color="#fffd00"/><stop offset=".288" stop-color="#feff08"/><stop offset=".299" stop-color="#f7ff23"/><stop offset=".349" stop-color="#d1ff61"/><stop offset=".377" stop-color="#abff8f"/><stop offset=".399" stop-color="#77ffbe"/><stop offset=".405" stop-color="#63ffcb"/><stop offset=".411" stop-color="#47ffd8"/><stop offset=".422" stop-color="#2efff1"/><stop offset=".427" stop-color="#12fffd"/><stop offset=".439" stop-color="#32e3ff"/><stop offset=".455" stop-color="#44b6ff"/><stop offset=".483" stop-color="#4078fe"/><stop offset=".511" stop-color="#3454fd"/><stop offset=".550" stop-color="#293cfc"/><stop offset=".612" stop-color="#2a3efc"/><stop offset=".723" stop-color="#3b64fd"/><stop offset=".841" stop-color="#448bff"/><stop offset=".958" stop-color="#4592ff"/><stop offset=".975" stop-color="#4592ff"/></linearGradient>
<linearGradient id="gb27"><stop offset=".025" stop-color="#ff4800"/><stop offset=".126" stop-color="#ff7d00"/><stop offset=".288" stop-color="#fffd00"/><stop offset=".304" stop-color="#f7ff23"/><stop offset=".355" stop-color="#d2ff60"/><stop offset=".383" stop-color="#abff8f"/><stop offset=".399" stop-color="#84ffb4"/><stop offset=".411" stop-color="#5effce"/><stop offset=".416" stop-color="#45ffdb"/><stop offset=".427" stop-color="#29fff4"/><stop offset=".433" stop-color="#06feff"/><stop offset=".439" stop-color="#28efff"/><stop offset=".450" stop-color="#3dd1ff"/><stop offset=".472" stop-color="#459aff"/><stop offset=".500" stop-color="#3d6afe"/><stop offset=".534" stop-color="#304afd"/><stop offset=".578" stop-color="#2a3efc"/><stop offset=".656" stop-color="#324efd"/><stop offset=".824" stop-color="#448bff"/><stop offset=".925" stop-color="#4596ff"/><stop offset=".975" stop-color="#4595ff"/></linearGradient>
<linearGradient id="gb28"><stop offset=".025" stop-color="#ff4300"/><stop offset=".126" stop-color="#ff7500"/><stop offset=".288" stop-color="#fffa00"/><stop offset=".293" stop-color="#fffe00"/><stop offset=".310" stop-color="#f7ff23"/><stop offset=".360" stop-color="#d3ff5f"/><stop offset=".388" stop-color="#aaff90"/><stop offset=".405" stop-color="#82ffb6"/><stop offset=".422" stop-color="#42ffde"/><stop offset=".439" stop-color="#14faff"/><stop offset=".444" stop-color="#2cebff"/><stop offset=".455" stop-color="#3eceff"/><stop offset=".478" stop-color="#459aff"/><stop offset=".506" stop-color="#3e6dfe"/><stop offset=".539" stop-color="#324ffd"/><stop offset=".584" stop-color="#2d43fc"/><stop offset=".656" stop-color="#3453fd"/><stop offset=".824" stop-color="#448fff"/><stop offset=".925" stop-color="#459aff"/><stop offset=".975" stop-color="#4599ff"/></linearGradient>
<linearGradient id="gb29"><stop offset=".025" stop-color="#ff3e00"/><stop offset=".120" stop-color="#ff6a00"/><stop offset=".210" stop-color="#ffb400"/><stop offset=".293" stop-color="#fffb00"/><stop offset=".299" stop-color="#fffe00"/><stop offset=".316" stop-color="#f7ff22"/><stop offset=".360" stop-color="#dbff55"/><stop offset=".388" stop-color="#b4ff85"/><stop offset=".411" stop-color="#7dffb9"/><stop offset=".416" stop-color="#6affc7"/><stop offset=".422" stop-color="#4cffd5"/><stop offset=".433" stop-color="#31ffef"/><stop offset=".439" stop-color="#1afffb"/><stop offset=".444" stop-color="#1ef6ff"/><stop offset=".450" stop-color="#2fe7ff"/><stop offset=".466" stop-color="#43beff"/><stop offset=".494" stop-color="#4387ff"/><stop offset=".528" stop-color="#395ffd"/><stop offset=".567" stop-color="#304afd"/><stop offset=".623" stop-color="#324dfd"/><stop offset=".813" stop-color="#4591ff"/><stop offset=".913" stop-color="#459fff"/><stop offset=".975" stop-color="#459eff"/></linearGradient>
<linearGradient id="gb30"><stop offset=".025" stop-color="#ff3900"/><stop offset=".120" stop-color="#ff6200"/><stop offset=".198" stop-color="#ffa300"/><stop offset=".288" stop-color="#fff400"/><stop offset=".304" stop-color="#fffe00"/><stop offset=".321" stop-color="#f7ff21"/><stop offset=".366" stop-color="#dcff53"/><stop offset=".388" stop-color="#bdff7a"/><stop offset=".411" stop-color="#89ffb0"/><stop offset=".422" stop-color="#61ffcc"/><stop offset=".427" stop-color="#46ffda"/><stop offset=".439" stop-color="#2afff3"/><stop offset=".444" stop-color="#02ffff"/><stop offset=".450" stop-color="#25f1ff"/><stop offset=".461" stop-color="#3bd5ff"/><stop offset=".483" stop-color="#45a4ff"/><stop offset=".517" stop-color="#3f72fe"/><stop offset=".556" stop-color="#3554fd"/><stop offset=".601" stop-color="#324efd"/><stop offset=".696" stop-color="#3e6dfe"/><stop offset=".835" stop-color="#459bff"/><stop offset=".952" stop-color="#45a3ff"/><stop offset=".975" stop-color="#45a3ff"/></linearGradient>
<linearGradient id="gb31"><stop offset=".025" stop-color="#ff3400"/><stop offset=".115" stop-color="#ff5700"/><stop offset=".187" stop-color="#ff9100"/><stop offset=".288" stop-color="#fff100"/><stop offset=".310" stop-color="#ffff00"/><stop offset=".327" stop-color="#f8ff1f"/><stop offset=".372" stop-color="#ddff52"/><stop offset=".394" stop-color="#bbff7e"/><stop offset=".416" stop-color="#81ffb6"/><stop offset=".433" stop-color="#41ffe0"/><stop offset=".444" stop-color="#20fff9"/><stop offset=".450" stop-color="#17f9ff"/><stop offset=".455" stop-color="#2cebff"/><stop offset=".472" stop-color="#41c4ff"/><stop offset=".506" stop-color="#4489ff"/><stop offset=".545" stop-color="#3a61fd"/><stop offset=".589" stop-color="#3453fd"/><stop offset=".651" stop-color="#3a61fd"/><stop offset=".807" stop-color="#4599ff"/><stop offset=".919" stop-color="#45a8ff"/><stop offset=".975" stop-color="#45a8ff"/></linearGradient>
<linearGradient id="gb32"><stop offset=".025" stop-color="#ff2f00"/><stop offset=".115" stop-color="#ff4f00"/><stop offset=".187" stop-color="#ff8a00"/><stop offset=".288" stop-color="#ffee00"/><stop offset=".316" stop-color="#ffff00"/><stop offset=".332" stop-color="#f9ff1d"/><stop offset=".372" stop-color="#e2ff4a"/><stop offset=".394" stop-color="#c1ff76"/><stop offset=".416" stop-color="#89ffb0"/><stop offset=".427" stop-color="#61ffcc"/><stop offset=".433" stop-color="#46ffda"/><stop offset=".444" stop-color="#2bfff3"/><stop offset=".450" stop-color="#0afffe"/><stop offset=".455" stop-color="#23f2ff"/><stop offset=".466" stop-color="#39d8ff"/><stop offset=".489" stop-color="#45abff"/><stop offset=".522" stop-color="#417cfe"/><stop offset=".561" stop-color="#395ffd"/><stop offset=".606" stop-color="#3759fd"/><stop offset=".802" stop-color="#459cff"/><stop offset=".919" stop-color="#45adff"/><stop offset=".975" stop-color="#45aeff"/></linearGradient>
<linearGradient id="gb33"><stop offset=".025" stop-color="#ff2b00"/><stop offset=".115" stop-color="#ff4800"/><stop offset=".187" stop-color="#ff8400"/><stop offset=".288" stop-color="#ffea00"/><stop offset=".321" stop-color="#fffe00"/><stop offset=".344" stop-color="#f7ff23"/><stop offset=".377" stop-color="#dfff4f"/><stop offset=".399" stop-color="#b9ff7f"/><stop offset=".422" stop-color="#7effb9"/><stop offset=".427" stop-color="#6affc7"/><stop offset=".433" stop-color="#4dffd5"/><stop offset=".444" stop-color="#32ffee"/><stop offset=".450" stop-color="#1dfffa"/><stop offset=".455" stop-color="#19f8ff"/><stop offset=".461" stop-color="#2cebff"/><stop offset=".478" stop-color="#40c7ff"/><stop offset=".511" stop-color="#4491ff"/><stop offset=".550" stop-color="#3d6bfe"/><stop offset=".589" stop-color="#385dfd"/><stop offset=".645" stop-color="#3d6afe"/><stop offset=".790" stop-color="#459eff"/><stop offset=".913" stop-color="#44b2ff"/><stop offset=".975" stop-color="#44b3ff"/></linearGradient>
<linearGradient id="gb34"><stop offset=".025" stop-color="#ff2700"/><stop offset=".115" stop-color="#ff4200"/><stop offset=".182" stop-color="#ff7900"/><stop offset=".288" stop-color="#ffe700"/><stop offset=".327" stop-color="#fffe00"/><stop offset=".349" stop-color="#f6ff25"/><stop offset=".377" stop-color="#e0ff4d"/><stop offset=".399" stop-color="#bcff7b"/><stop offset=".422" stop-color="#84ffb4"/><stop offset=".439" stop-color="#43ffde"/><stop offset=".450" stop-color="#26fff6"/><stop offset=".455" stop-color="#0afdff"/><stop offset=".461" stop-color="#26f0ff"/><stop offset=".472" stop-color="#3ad8ff"/><stop offset=".500" stop-color="#45a7ff"/><stop offset=".539" stop-color="#417afe"/><stop offset=".578" stop-color="#3b65fd"/><stop offset=".623" stop-color="#3c67fe"/><stop offset=".774" stop-color="#459eff"/><stop offset=".908" stop-color="#44b6ff"/><stop offset=".975" stop-color="#43b9ff"/></linearGradient>
<linearGradient id="gb35"><stop offset=".025" stop-color="#ff2300"/><stop offset=".109" stop-color="#ff3a00"/><stop offset=".170" stop-color="#ff6900"/><stop offset=".288" stop-color="#ffe400"/><stop offset=".332" stop-color="#ffff02"/><stop offset=".344" stop-color="#faff1b"/><stop offset=".377" stop-color="#e1ff4b"/><stop offset=".405" stop-color="#b3ff86"/><stop offset=".427" stop-color="#76ffbf"/><stop offset=".439" stop-color="#45ffdb"/><stop offset=".450" stop-color="#2bfff3"/><stop offset=".455" stop-color="#0ffffe"/><stop offset=".466" stop-color="#2fe8ff"/><stop offset=".483" stop-color="#40c8ff"/><stop offset=".522" stop-color="#4591ff"/><stop offset=".567" stop-color="#3e6efe"/><stop offset=".606" stop-color="#3c69fe"/><stop offset=".774" stop-color="#45a4ff"/><stop offset=".913" stop-color="#43bbff"/><stop offset=".975" stop-color="#42beff"/></linearGradient>
<linearGradient id="gb36"><stop offset=".025" stop-color="#ff2000"/><stop offset=".109" stop-color="#ff3600"/><stop offset=".170" stop-color="#ff6400"/><stop offset=".293" stop-color="#ffe600"/><stop offset=".332" stop-color="#fffe00"/><stop offset=".349" stop-color="#f7ff21"/><stop offset=".383" stop-color="#dbff54"/><stop offset=".411" stop-color="#a9ff91"/><stop offset=".427" stop-color="#7affbc"/><stop offset=".433" stop-color="#65ffca"/><stop offset=".439" stop-color="#47ffd8"/><stop offset=".450" stop-color="#2ffff1"/><stop offset=".455" stop-color="#19fffb"/><stop offset=".461" stop-color="#1bf8ff"/><stop offset=".466" stop-color="#2becff"/><stop offset=".483" stop-color="#3ecdff"/><stop offset=".522" stop-color="#4598ff"/><stop offset=".567" stop-color="#4074fe"/><stop offset=".606" stop-color="#3e6efe"/><stop offset=".757" stop-color="#45a4ff"/><stop offset=".908" stop-color="#42c0ff"/><stop offset=".975" stop-color="#41c3ff"/></linearGradient>
<linearGradient id="gb37"><stop offset=".025" stop-color="#ff1e00"/><stop offset=".103" stop-color="#ff3000"/><stop offset=".165" stop-color="#ff5b00"/><stop offset=".293" stop-color="#ffe300"/><stop offset=".332" stop-color="#fffe00"/><stop offset=".355" stop-color="#f4ff28"/><stop offset=".388" stop-color="#d4ff5d"/><stop offset=".416" stop-color="#9eff9c"/><stop offset=".433" stop-color="#6affc7"/><stop offset=".439" stop-color="#4cffd5"/><stop offset=".450" stop-color="#32ffee"/><stop offset=".461" stop-color="#13fbff"/><stop offset=".466" stop-color="#27f0ff"/><stop offset=".483" stop-color="#3cd2ff"/><stop offset=".522" stop-color="#459fff"/><stop offset=".573" stop-color="#4078fe"/><stop offset=".612" stop-color="#4075fe"/><stop offset=".740" stop-color="#45a5ff"/><stop offset=".897" stop-color="#41c3ff"/><stop offset=".975" stop-color="#40c8ff"/></linearGradient>
<linearGradient id="gb38"><stop offset=".025" stop-color="#ff1c00"/><stop offset=".103" stop-color="#ff2e00"/><stop offset=".165" stop-color="#ff5800"/><stop offset=".299" stop-color="#ffe500"/><stop offset=".332" stop-color="#fffd00"/><stop offset=".338" stop-color="#feff05"/><stop offset=".349" stop-color="#f8ff1f"/><stop offset=".383" stop-color="#dcff52"/><stop offset=".411" stop-color="#adff8c"/><stop offset=".427" stop-color="#82ffb6"/><stop offset=".444" stop-color="#42ffdf"/><stop offset=".455" stop-color="#26fff6"/><stop offset=".461" stop-color="#00ffff"/><stop offset=".466" stop-color="#21f4ff"/><stop offset=".478" stop-color="#35e0ff"/><stop offset=".506" stop-color="#44b8ff"/><stop offset=".556" stop-color="#4388ff"/><stop offset=".589" stop-color="#4179fe"/><stop offset=".640" stop-color="#4385ff"/><stop offset=".735" stop-color="#45a9ff"/><stop offset=".897" stop-color="#40c7ff"/><stop offset=".975" stop-color="#3ecdff"/></linearGradient>
<linearGradient id="gb39"><stop offset=".025" stop-color="#ff1900"/><stop offset=".103" stop-color="#ff2c00"/><stop offset=".165" stop-color="#ff5600"/><stop offset=".304" stop-color="#ffe800"/><stop offset=".338" stop-color="#ffff00"/><stop offset=".349" stop-color="#f9ff1d"/><stop offset=".383" stop-color="#dcff53"/><stop offset=".411" stop-color="#afff8b"/><stop offset=".427" stop-color="#85ffb3"/><stop offset=".444" stop-color="#45ffdb"/><stop offset=".455" stop-color="#2efff1"/><stop offset=".461" stop-color="#1bfffb"/><stop offset=".466" stop-color="#15faff"/><stop offset=".472" stop-color="#27f0ff"/><stop offset=".489" stop-color="#3bd5ff"/><stop offset=".534" stop-color="#45a1ff"/><stop offset=".578" stop-color="#4383fe"/><stop offset=".617" stop-color="#4383fe"/><stop offset=".746" stop-color="#45b1ff"/><stop offset=".913" stop-color="#3ecdff"/><stop offset=".975" stop-color="#3dd1ff"/></linearGradient>
<linearGradient id="gb40"><stop offset=".025" stop-color="#ff1700"/><stop offset=".098" stop-color="#ff2800"/><stop offset=".159" stop-color="#ff4f00"/><stop offset=".304" stop-color="#ffe500"/><stop offset=".338" stop-color="#fffd00"/><stop offset=".360" stop-color="#f1ff2f"/><stop offset=".394" stop-color="#cdff67"/><stop offset=".422" stop-color="#97ffa3"/><stop offset=".439" stop-color="#65ffca"/><stop offset=".444" stop-color="#49ffd6"/><stop offset=".461" stop-color="#27fff5"/><stop offset=".466" stop-color="#0dfffe"/><stop offset=".478" stop-color="#2aedff"/><stop offset=".500" stop-color="#3fccff"/><stop offset=".545" stop-color="#459eff"/><stop offset=".584" stop-color="#4489ff"/><stop offset=".628" stop-color="#448dff"/><stop offset=".751" stop-color="#44b7ff"/><stop offset=".930" stop-color="#3cd2ff"/><stop offset=".975" stop-color="#3bd4ff"/></linearGradient>
<linearGradient id="gb41"><stop offset=".025" stop-color="#ff1400"/><stop offset=".098" stop-color="#ff2700"/><stop offset=".159" stop-color="#ff4e00"/><stop offset=".310" stop-color="#ffe800"/><stop offset=".338" stop-color="#fffc00"/><stop offset=".344" stop-color="#feff06"/><stop offset=".355" stop-color="#f6ff25"/><stop offset=".394" stop-color="#cdff67"/><stop offset=".422" stop-color="#9affa0"/><stop offset=".439" stop-color="#6dffc5"/><stop offset=".450" stop-color="#44ffdc"/><stop offset=".461" stop-color="#30fff0"/><stop offset=".466" stop-color="#20fff8"/><stop offset=".472" stop-color="#09fdff"/><stop offset=".478" stop-color="#21f4ff"/><stop offset=".494" stop-color="#39daff"/><stop offset=".534" stop-color="#45adff"/><stop offset=".578" stop-color="#4592ff"/><stop offset=".623" stop-color="#4592ff"/><stop offset=".774" stop-color="#42c1ff"/><stop offset=".964" stop-color="#3ad7ff"/><stop offset=".975" stop-color="#3ad7ff"/></linearGradient>
<linearGradient id="gb42"><stop offset=".025" stop-color="#ff1400"/><stop offset=".092" stop-color="#ff2300"/><stop offset=".159" stop-color="#ff4d00"/><stop offset=".265" stop-color="#ffbb00"/><stop offset=".332" stop-color="#fff700"/><stop offset=".344" stop-color="#ffff00"/><stop offset=".349" stop-color="#fbff16"/><stop offset=".377" stop-color="#e2ff4a"/><stop offset=".411" stop-color="#b3ff86"/><stop offset=".439" stop-color="#74ffc0"/><stop offset=".444" stop-color="#63ffcc"/><stop offset=".450" stop-color="#48ffd6"/><stop offset=".466" stop-color="#2bfff3"/><stop offset=".472" stop-color="#19fffb"/><stop offset=".478" stop-color="#14faff"/><stop offset=".483" stop-color="#25f1ff"/><stop offset=".500" stop-color="#39d8ff"/><stop offset=".545" stop-color="#45abff"/><stop offset=".589" stop-color="#4597ff"/><stop offset=".645" stop-color="#459fff"/><stop offset=".785" stop-color="#40c7ff"/><stop offset=".975" stop-color="#39daff"/></linearGradient>
<linearGradient id="gb43"><stop offset=".025" stop-color="#ff1400"/><stop offset=".081" stop-color="#ff1d00"/><stop offset=".154" stop-color="#ff4800"/><stop offset=".237" stop-color="#ff9b00"/><stop offset=".316" stop-color="#ffe900"/><stop offset=".344" stop-color="#fffe00"/><stop offset=".355" stop-color="#f7ff22"/><stop offset=".399" stop-color="#c7ff6e"/><stop offset=".427" stop-color="#96ffa4"/><stop offset=".444" stop-color="#6cffc6"/><stop offset=".455" stop-color="#45ffdb"/><stop offset=".472" stop-color="#26fff6"/><stop offset=".478" stop-color="#0efffe"/><stop offset=".494" stop-color="#30e6ff"/><stop offset=".522" stop-color="#41c4ff"/><stop offset=".567" stop-color="#45a5ff"/><stop offset=".617" stop-color="#459eff"/><stop offset=".802" stop-color="#3eceff"/><stop offset=".975" stop-color="#37dcff"/></linearGradient>
<linearGradient id="gb44"><stop offset=".025" stop-color="#ff1400"/><stop offset=".075" stop-color="#ff1a00"/><stop offset=".154" stop-color="#ff4800"/><stop offset=".232" stop-color="#ff9400"/><stop offset=".316" stop-color="#ffe800"/><stop offset=".344" stop-color="#fffe00"/><stop offset=".360" stop-color="#f3ff2c"/><stop offset=".405" stop-color="#c1ff76"/><stop offset=".433" stop-color="#8fffaa"/><stop offset=".450" stop-color="#64ffcb"/><stop offset=".455" stop-color="#4cffd5"/><stop offset=".472" stop-color="#2efff1"/><stop offset=".478" stop-color="#1ffff9"/><stop offset=".483" stop-color="#08feff"/><stop offset=".489" stop-color="#20f5ff"/><stop offset=".506" stop-color="#37ddff"/><stop offset=".545" stop-color="#44b8ff"/><stop offset=".589" stop-color="#45a5ff"/><stop offset=".651" stop-color="#45acff"/><stop offset=".802" stop-color="#3cd2ff"/><stop offset=".975" stop-color="#36dfff"/></linearGradient>
<linearGradient id="gb45"><stop offset=".025" stop-color="#ff1400"/><stop offset=".075" stop-color="#ff1900"/><stop offset=".159" stop-color="#ff4c00"/><stop offset=".249" stop-color="#ffa500"/><stop offset=".327" stop-color="#fff100"/><stop offset=".344" stop-color="#fffd00"/><stop offset=".360" stop-color="#f3ff2b"/><stop offset=".405" stop-color="#c4ff72"/><stop offset=".439" stop-color="#89ffb0"/><stop offset=".455" stop-color="#5bffd0"/><stop offset=".461" stop-color="#46ffda"/><stop offset=".478" stop-color="#29fff4"/><stop offset=".483" stop-color="#17fffc"/><stop offset=".489" stop-color="#14faff"/><stop offset=".500" stop-color="#2deaff"/><stop offset=".528" stop-color="#3fcbff"/><stop offset=".573" stop-color="#45b0ff"/><stop offset=".628" stop-color="#45acff"/><stop offset=".807" stop-color="#3bd6ff"/><stop offset=".975" stop-color="#34e1ff"/></linearGradient>
<linearGradient id="gb46"><stop offset=".025" stop-color="#ff1400"/><stop offset=".075" stop-color="#ff1800"/><stop offset=".165" stop-color="#ff4f00"/><stop offset=".271" stop-color="#ffbc00"/><stop offset=".344" stop-color="#fffd00"/><stop offset=".360" stop-color="#f4ff2a"/><stop offset=".405" stop-color="#c7ff6f"/><stop offset=".439" stop-color="#90ffaa"/><stop offset=".455" stop-color="#65ffca"/><stop offset=".461" stop-color="#4fffd4"/><stop offset=".483" stop-color="#22fff8"/><stop offset=".489" stop-color="#05ffff"/><stop offset=".494" stop-color="#1cf7ff"/><stop offset=".506" stop-color="#2fe8ff"/><stop offset=".539" stop-color="#40c8ff"/><stop offset=".589" stop-color="#44b3ff"/><stop offset=".656" stop-color="#44b7ff"/><stop offset=".807" stop-color="#39d9ff"/><stop offset=".975" stop-color="#33e3ff"/></linearGradient>
<linearGradient id="gb47"><stop offset=".025" stop-color="#ff1400"/><stop offset=".075" stop-color="#ff1800"/><stop offset=".165" stop-color="#ff4f00"/><stop offset=".265" stop-color="#ffb500"/><stop offset=".338" stop-color="#fff900"/><stop offset=".344" stop-color="#fffd00"/><stop offset=".360" stop-color="#f4ff29"/><stop offset=".405" stop-color="#caff6b"/><stop offset=".439" stop-color="#96ffa4"/><stop offset=".455" stop-color="#6effc5"/><stop offset=".466" stop-color="#46ffd9"/><stop offset=".483" stop-color="#2afff4"/><stop offset=".494" stop-color="#0efcff"/><stop offset=".500" stop-color="#20f5ff"/><stop offset=".517" stop-color="#34e1ff"/><stop offset=".561" stop-color="#42c1ff"/><stop offset=".623" stop-color="#44b7ff"/><stop offset=".818" stop-color="#37ddff"/><stop offset=".975" stop-color="#32e4ff"/></linearGradient>
<linearGradient id="gb48"><stop offset=".025" stop-color="#ff1400"/><stop offset=".075" stop-color="#ff1900"/><stop offset=".165" stop-color="#ff4e00"/><stop offset=".265" stop-color="#ffb500"/><stop offset=".338" stop-color="#fffa00"/><stop offset=".344" stop-color="#fffe00"/><stop offset=".360" stop-color="#f4ff29"/><stop offset=".405" stop-color="#ccff68"/><stop offset=".439" stop-color="#9affa0"/><stop offset=".461" stop-color="#65ffca"/><stop offset=".466" stop-color="#4fffd4"/><stop offset=".489" stop-color="#25fff6"/><stop offset=".494" stop-color="#12fffd"/><stop offset=".500" stop-color="#14faff"/><stop offset=".511" stop-color="#2aedff"/><stop offset=".545" stop-color="#3dd0ff"/><stop offset=".595" stop-color="#42beff"/><stop offset=".668" stop-color="#41c3ff"/><stop offset=".813" stop-color="#36dfff"/><stop offset=".975" stop-color="#30e6ff"/></linearGradient>
<linearGradient id="gb49"><stop offset=".025" stop-color="#ff1400"/><stop offset=".070" stop-color="#ff1700"/><stop offset=".159" stop-color="#ff4800"/><stop offset=".249" stop-color="#ffa200"/><stop offset=".332" stop-color="#fff600"/><stop offset=".344" stop-color="#fffe00"/><stop offset=".355" stop-color="#f8ff1e"/><stop offset=".405" stop-color="#cfff65"/><stop offset=".439" stop-color="#9eff9d"/><stop offset=".461" stop-color="#6cffc6"/><stop offset=".472" stop-color="#46ffd9"/><stop offset=".494" stop-color="#21fff8"/><stop offset=".500" stop-color="#0afffe"/><stop offset=".517" stop-color="#2aecff"/><stop offset=".550" stop-color="#3cd2ff"/><stop offset=".606" stop-color="#41c2ff"/><stop offset=".701" stop-color="#3eceff"/><stop offset=".830" stop-color="#33e2ff"/><stop offset=".975" stop-color="#2fe7ff"/></linearGradient>
<linearGradient id="gb50"><stop offset=".025" stop-color="#ff1400"/><stop offset=".070" stop-color="#ff1800"/><stop offset=".159" stop-color="#ff4800"/><stop offset=".249" stop-color="#ffa100"/><stop offset=".332" stop-color="#fff600"/><stop offset=".344" stop-color="#fffe00"/><stop offset=".360" stop-color="#f5ff27"/><stop offset=".405" stop-color="#d0ff63"/><stop offset=".439" stop-color="#a0ff9a"/><stop offset=".461" stop-color="#72ffc2"/><stop offset=".472" stop-color="#4dffd5"/><stop offset=".500" stop-color="#1dfffa"/><stop offset=".506" stop-color="#01ffff"/><stop offset=".511" stop-color="#19f8ff"/><stop offset=".528" stop-color="#2fe7ff"/><stop offset=".573" stop-color="#3ecdff"/><stop offset=".640" stop-color="#40c8ff"/><stop offset=".824" stop-color="#32e4ff"/><stop offset=".975" stop-color="#2ee9ff"/></linearGradient>
<linearGradient id="gb51"><stop offset=".025" stop-color="#ff1400"/><stop offset=".070" stop-color="#ff1a00"/><stop offset=".154" stop-color="#ff4400"/><stop offset=".232" stop-color="#ff8e00"/><stop offset=".327" stop-color="#fff000"/><stop offset=".344" stop-color="#fffd00"/><stop offset=".360" stop-color="#f5ff26"/><stop offset=".405" stop-color="#d1ff62"/><stop offset=".444" stop-color="#99ffa1"/><stop offset=".466" stop-color="#69ffc8"/><stop offset=".478" stop-color="#46ffd9"/><stop offset=".500" stop-color="#27fff6"/><stop offset=".511" stop-color="#09fdff"/><stop offset=".517" stop-color="#1bf7ff"/><stop offset=".534" stop-color="#2fe8ff"/><stop offset=".578" stop-color="#3dd1ff"/><stop offset=".651" stop-color="#3ecdff"/><stop offset=".830" stop-color="#30e6ff"/><stop offset=".975" stop-color="#2deaff"/></linearGradient>
<linearGradient id="gb52"><stop offset=".025" stop-color="#ff1400"/><stop offset=".081" stop-color="#ff2000"/><stop offset=".159" stop-color="#ff4900"/><stop offset=".243" stop-color="#ff9b00"/><stop offset=".332" stop-color="#fff400"/><stop offset=".344" stop-color="#fffc00"/><stop offset=".349" stop-color="#feff08"/><stop offset=".360" stop-color="#f6ff25"/><stop offset=".411" stop-color="#cbff69"/><stop offset=".450" stop-color="#92ffa8"/><stop offset=".472" stop-color="#61ffcd"/><stop offset=".478" stop-color="#4dffd5"/><stop offset=".506" stop-color="#23fff7"/><stop offset=".511" stop-color="#13fffd"/><stop offset=".517" stop-color="#0ffcff"/><stop offset=".528" stop-color="#25f1ff"/><stop offset=".561" stop-color="#38dbff"/><stop offset=".623" stop-color="#3dd0ff"/><stop offset=".846" stop-color="#2fe8ff"/><stop offset=".975" stop-color="#2cebff"/></linearGradient>
<linearGradient id="gb53"><stop offset=".025" stop-color="#ff1400"/><stop offset=".109" stop-color="#ff2d00"/><stop offset=".176" stop-color="#ff5700"/><stop offset=".327" stop-color="#ffef00"/><stop offset=".349" stop-color="#feff04"/><stop offset=".355" stop-color="#faff18"/><stop offset=".383" stop-color="#e6ff43"/><stop offset=".427" stop-color="#b7ff81"/><stop offset=".461" stop-color="#80ffb7"/><stop offset=".478" stop-color="#58ffd1"/><stop offset=".483" stop-color="#46ffd9"/><stop offset=".506" stop-color="#2afff4"/><stop offset=".511" stop-color="#1ffff9"/><stop offset=".517" stop-color="#0bfffe"/><stop offset=".534" stop-color="#26f0ff"/><stop offset=".567" stop-color="#37ddff"/><stop offset=".634" stop-color="#3bd5ff"/><stop offset=".846" stop-color="#2ee9ff"/><stop offset=".975" stop-color="#2becff"/></linearGradient>
<linearGradient id="gb54"><stop offset=".025" stop-color="#ff1400"/><stop offset=".120" stop-color="#ff3300"/><stop offset=".182" stop-color="#ff5c00"/><stop offset=".327" stop-color="#ffef00"/><stop offset=".349" stop-color="#ffff01"/><stop offset=".355" stop-color="#fbff16"/><stop offset=".377" stop-color="#ebff3c"/><stop offset=".427" stop-color="#b9ff80"/><stop offset=".461" stop-color="#84ffb4"/><stop offset=".478" stop-color="#5fffce"/><stop offset=".483" stop-color="#4bffd6"/><stop offset=".511" stop-color="#26fff6"/><stop offset=".517" stop-color="#19fffb"/><stop offset=".522" stop-color="#04feff"/><stop offset=".528" stop-color="#18f9ff"/><stop offset=".545" stop-color="#2becff"/><stop offset=".595" stop-color="#38dbff"/><stop offset=".718" stop-color="#34e1ff"/><stop offset=".902" stop-color="#2becff"/><stop offset=".975" stop-color="#2aecff"/></linearGradient>
<linearGradient id="gb55"><stop offset=".025" stop-color="#ff1700"/><stop offset=".115" stop-color="#ff3200"/><stop offset=".176" stop-color="#ff5800"/><stop offset=".327" stop-color="#ffee00"/><stop offset=".349" stop-color="#ffff00"/><stop offset=".355" stop-color="#fbff16"/><stop offset=".377" stop-color="#ebff3c"/><stop offset=".427" stop-color="#baff7e"/><stop offset=".466" stop-color="#7dffba"/><stop offset=".489" stop-color="#46ffda"/><stop offset=".517" stop-color="#20fff8"/><stop offset=".522" stop-color="#11fffd"/><stop offset=".528" stop-color="#0efcff"/><stop offset=".539" stop-color="#22f3ff"/><stop offset=".573" stop-color="#33e3ff"/><stop offset=".662" stop-color="#36deff"/><stop offset=".863" stop-color="#2becff"/><stop offset=".975" stop-color="#2aedff"/></linearGradient>
<linearGradient id="gb56"><stop offset=".025" stop-color="#ff1a00"/><stop offset=".109" stop-color="#ff3100"/><stop offset=".170" stop-color="#ff5400"/><stop offset=".260" stop-color="#ffad00"/><stop offset=".338" stop-color="#fff700"/><stop offset=".349" stop-color="#ffff00"/><stop offset=".355" stop-color="#fbff16"/><stop offset=".377" stop-color="#ebff3c"/><stop offset=".427" stop-color="#bbff7d"/><stop offset=".466" stop-color="#81ffb7"/><stop offset=".483" stop-color="#5bffcf"/><stop offset=".489" stop-color="#48ffd7"/><stop offset=".517" stop-color="#26fff6"/><stop offset=".522" stop-color="#1afffb"/><stop offset=".528" stop-color="#03ffff"/><stop offset=".539" stop-color="#1df6ff"/><stop offset=".567" stop-color="#2ee8ff"/><stop offset=".651" stop-color="#33e2ff"/><stop offset=".919" stop-color="#29eeff"/><stop offset=".975" stop-color="#29eeff"/></linearGradient>
<linearGradient id="gb57"><stop offset=".025" stop-color="#ff1c00"/><stop offset=".109" stop-color="#ff3200"/><stop offset=".170" stop-color="#ff5400"/><stop offset=".260" stop-color="#ffad00"/><stop offset=".332" stop-color="#fff300"/><stop offset=".349" stop-color="#ffff01"/><stop offset=".355" stop-color="#fbff16"/><stop offset=".377" stop-color="#ebff3c"/><stop offset=".433" stop-color="#b6ff83"/><stop offset=".466" stop-color="#84ffb4"/><stop offset=".483" stop-color="#60ffcd"/><stop offset=".494" stop-color="#45ffdb"/><stop offset=".522" stop-color="#21fff8"/><stop offset=".534" stop-color="#08feff"/><stop offset=".545" stop-color="#1ef6ff"/><stop offset=".578" stop-color="#2ee9ff"/><stop offset=".735" stop-color="#2deaff"/><stop offset=".975" stop-color="#28efff"/></linearGradient>
<linearGradient id="gb58"><stop offset=".025" stop-color="#ff1e00"/><stop offset=".109" stop-color="#ff3200"/><stop offset=".170" stop-color="#ff5400"/><stop offset=".254" stop-color="#ffa700"/><stop offset=".332" stop-color="#fff400"/><stop offset=".349" stop-color="#feff04"/><stop offset=".355" stop-color="#faff18"/><stop offset=".377" stop-color="#ebff3c"/><stop offset=".433" stop-color="#b7ff82"/><stop offset=".472" stop-color="#7cffba"/><stop offset=".494" stop-color="#47ffd9"/><stop offset=".522" stop-color="#26fff6"/><stop offset=".534" stop-color="#0efffe"/><stop offset=".539" stop-color="#0cfdff"/><stop offset=".550" stop-color="#1ef6ff"/><stop offset=".584" stop-color="#2cebff"/><stop offset=".975" stop-color="#27efff"/></linearGradient>
<linearGradient id="gb59"><stop offset=".025" stop-color="#ff2000"/><stop offset=".115" stop-color="#ff3400"/><stop offset=".170" stop-color="#ff5400"/><stop offset=".254" stop-color="#ffa700"/><stop offset=".332" stop-color="#fff400"/><stop offset=".344" stop-color="#fffd00"/><stop offset=".349" stop-color="#feff09"/><stop offset=".360" stop-color="#f6ff25"/><stop offset=".422" stop-color="#c5ff72"/><stop offset=".466" stop-color="#88ffb1"/><stop offset=".489" stop-color="#5bffd0"/><stop offset=".494" stop-color="#48ffd7"/><stop offset=".528" stop-color="#23fff7"/><stop offset=".539" stop-color="#09fffe"/><stop offset=".561" stop-color="#21f4ff"/><stop offset=".612" stop-color="#29eeff"/><stop offset=".975" stop-color="#27f0ff"/></linearGradient>
<linearGradient id="gb60"><stop offset=".025" stop-color="#ff2200"/><stop offset=".120" stop-color="#ff3600"/><stop offset=".176" stop-color="#ff5800"/><stop offset=".271" stop-color="#ffba00"/><stop offset=".338" stop-color="#fff900"/><stop offset=".344" stop-color="#fffd00"/><stop offset=".360" stop-color="#f5ff26"/><stop offset=".416" stop-color="#cbff6a"/><stop offset=".461" stop-color="#93ffa7"/><stop offset=".489" stop-color="#5fffcd"/><stop offset=".500" stop-color="#45ffdb"/><stop offset=".534" stop-color="#20fff9"/><stop offset=".539" stop-color="#16fffc"/><stop offset=".545" stop-color="#03ffff"/><stop offset=".561" stop-color="#1cf7ff"/><stop offset=".601" stop-color="#25f1ff"/><stop offset=".975" stop-color="#26f0ff"/></linearGradient>
<linearGradient id="gb61"><stop offset=".025" stop-color="#ff2400"/><stop offset=".120" stop-color="#ff3600"/><stop offset=".176" stop-color="#ff5800"/><stop offset=".265" stop-color="#ffb400"/><stop offset=".338" stop-color="#fffb00"/><stop offset=".344" stop-color="#fffe00"/><stop offset=".355" stop-color="#f8ff1f"/><stop offset=".416" stop-color="#ccff69"/><stop offset=".466" stop-color="#8bffae"/><stop offset=".494" stop-color="#55ffd2"/><stop offset=".500" stop-color="#47ffd9"/><stop offset=".539" stop-color="#1dfffa"/><stop offset=".550" stop-color="#02ffff"/><stop offset=".561" stop-color="#17f9ff"/><stop offset=".595" stop-color="#22f4ff"/><stop offset=".668" stop-color="#22f3ff"/><stop offset=".975" stop-color="#25f1ff"/></linearGradient>
<linearGradient id="gb62"><stop offset=".025" stop-color="#ff2600"/><stop offset=".120" stop-color="#ff3700"/><stop offset=".170" stop-color="#ff5400"/><stop offset=".249" stop-color="#ffa200"/><stop offset=".332" stop-color="#fff700"/><stop offset=".344" stop-color="#ffff00"/><stop offset=".349" stop-color="#fbff15"/><stop offset=".372" stop-color="#eeff36"/><stop offset=".422" stop-color="#c6ff70"/><stop offset=".472" stop-color="#84ffb4"/><stop offset=".494" stop-color="#5affd0"/><stop offset=".500" stop-color="#48ffd7"/><stop offset=".539" stop-color="#22fff8"/><stop offset=".556" stop-color="#06feff"/><stop offset=".567" stop-color="#16faff"/><stop offset=".601" stop-color="#1ef6ff"/><stop offset=".651" stop-color="#1cf7ff"/><stop offset=".785" stop-color="#24f2ff"/><stop offset=".975" stop-color="#25f1ff"/></linearGradient>
<linearGradient id="gb63"><stop offset=".025" stop-color="#ff2800"/><stop offset=".120" stop-color="#ff3800"/><stop offset=".176" stop-color="#ff5900"/><stop offset=".260" stop-color="#ffae00"/><stop offset=".332" stop-color="#fff700"/><stop offset=".344" stop-color="#ffff02"/><stop offset=".349" stop-color="#fbff16"/><stop offset=".372" stop-color="#edff37"/><stop offset=".422" stop-color="#c6ff6f"/><stop offset=".472" stop-color="#86ffb2"/><stop offset=".494" stop-color="#5effce"/><stop offset=".506" stop-color="#45ffdb"/><stop offset=".545" stop-color="#1efff9"/><stop offset=".556" stop-color="#08fffe"/><stop offset=".584" stop-color="#1af8ff"/><stop offset=".656" stop-color="#19f8ff"/><stop offset=".790" stop-color="#23f2ff"/><stop offset=".975" stop-color="#24f2ff"/></linearGradient>
<linearGradient id="gb64"><stop offset=".025" stop-color="#ff2a00"/><stop offset=".120" stop-color="#ff3900"/><stop offset=".176" stop-color="#ff5a00"/><stop offset=".260" stop-color="#ffaf00"/><stop offset=".332" stop-color="#fff700"/><stop offset=".344" stop-color="#ffff02"/><stop offset=".349" stop-color="#fbff16"/><stop offset=".372" stop-color="#edff37"/><stop offset=".427" stop-color="#c1ff76"/><stop offset=".478" stop-color="#7fffb8"/><stop offset=".500" stop-color="#54ffd3"/><stop offset=".506" stop-color="#47ffd9"/><stop offset=".550" stop-color="#1afffb"/><stop offset=".561" stop-color="#00ffff"/><stop offset=".573" stop-color="#12fbff"/><stop offset=".606" stop-color="#18f9ff"/><stop offset=".668" stop-color="#19f8ff"/><stop offset=".802" stop-color="#23f3ff"/><stop offset=".975" stop-color="#23f2ff"/></linearGradient>
<linearGradient id="gb65"><stop offset=".025" stop-color="#ff2c00"/><stop offset=".120" stop-color="#ff3a00"/><stop offset=".176" stop-color="#ff5b00"/><stop offset=".254" stop-color="#ffa900"/><stop offset=".327" stop-color="#fff300"/><stop offset=".344" stop-color="#feff03"/><stop offset=".349" stop-color="#fbff17"/><stop offset=".372" stop-color="#edff38"/><stop offset=".427" stop-color="#c1ff76"/><stop offset=".478" stop-color="#81ffb7"/><stop offset=".500" stop-color="#58ffd1"/><stop offset=".506" stop-color="#48ffd7"/><stop offset=".550" stop-color="#1ffff9"/><stop offset=".567" stop-color="#03feff"/><stop offset=".584" stop-color="#14faff"/><stop offset=".696" stop-color="#1bf7ff"/><stop offset=".830" stop-color="#21f4ff"/><stop offset=".975" stop-color="#23f3ff"/></linearGradient>
<linearGradient id="gb66"><stop offset=".025" stop-color="#ff2e00"/><stop offset=".120" stop-color="#ff3c00"/><stop offset=".182" stop-color="#ff6100"/><stop offset=".265" stop-color="#ffb600"/><stop offset=".332" stop-color="#fff800"/><stop offset=".344" stop-color="#feff05"/><stop offset=".349" stop-color="#faff18"/><stop offset=".372" stop-color="#edff38"/><stop offset=".427" stop-color="#c1ff75"/><stop offset=".478" stop-color="#83ffb5"/><stop offset=".500" stop-color="#5cffcf"/><stop offset=".511" stop-color="#46ffda"/><stop offset=".556" stop-color="#1cfffa"/><stop offset=".573" stop-color="#03feff"/><stop offset=".589" stop-color="#12fbff"/><stop offset=".707" stop-color="#1bf7ff"/><stop offset=".830" stop-color="#20f5ff"/><stop offset=".975" stop-color="#22f3ff"/></linearGradient>
<linearGradient id="gb67"><stop offset=".025" stop-color="#ff3000"/><stop offset=".120" stop-color="#ff3e00"/><stop offset=".182" stop-color="#ff6200"/><stop offset=".260" stop-color="#ffb000"/><stop offset=".332" stop-color="#fff800"/><stop offset=".344" stop-color="#feff07"/><stop offset=".349" stop-color="#faff19"/><stop offset=".377" stop-color="#e9ff3e"/><stop offset=".433" stop-color="#bcff7c"/><stop offset=".483" stop-color="#7cffba"/><stop offset=".506" stop-color="#54ffd3"/><stop offset=".511" stop-color="#47ffd8"/><stop offset=".556" stop-color="#21fff8"/><stop offset=".578" stop-color="#03ffff"/><stop offset=".595" stop-color="#11fbff"/><stop offset=".712" stop-color="#1af8ff"/><stop offset=".824" stop-color="#1ff5ff"/><stop offset=".975" stop-color="#21f4ff"/></linearGradient>
<linearGradient id="gb68"><stop offset=".025" stop-color="#ff3300"/><stop offset=".120" stop-color="#ff4000"/><stop offset=".187" stop-color="#ff6800"/><stop offset=".271" stop-color="#ffbd00"/><stop offset=".338" stop-color="#fffd00"/><stop offset=".355" stop-color="#f6ff24"/><stop offset=".416" stop-color="#cdff67"/><stop offset=".472" stop-color="#8effab"/><stop offset=".506" stop-color="#59ffd1"/><stop offset=".511" stop-color="#49ffd6"/><stop offset=".561" stop-color="#20fff9"/><stop offset=".584" stop-color="#02ffff"/><stop offset=".606" stop-color="#10fcff"/><stop offset=".707" stop-color="#18f9ff"/><stop offset=".807" stop-color="#1ff5ff"/><stop offset=".958" stop-color="#1ff5ff"/><stop offset=".975" stop-color="#21f4ff"/></linearGradient>
<linearGradient id="gb69"><stop offset=".025" stop-color="#ff3500"/><stop offset=".120" stop-color="#ff4200"/><stop offset=".187" stop-color="#ff6a00"/><stop offset=".265" stop-color="#ffb800"/><stop offset=".338" stop-color="#fffd00"/><stop offset=".355" stop-color="#f6ff24"/><stop offset=".416" stop-color="#cdff67"/><stop offset=".478" stop-color="#88ffb0"/><stop offset=".506" stop-color="#5dffcf"/><stop offset=".517" stop-color="#47ffd9"/><stop offset=".567" stop-color="#1ffff9"/><stop offset=".589" stop-color="#01ffff"/><stop offset=".617" stop-color="#0efcff"/><stop offset=".718" stop-color="#18f9ff"/><stop offset=".813" stop-color="#1ef6ff"/><stop offset=".947" stop-color="#1ef6ff"/><stop offset=".975" stop-color="#20f5ff"/></linearGradient>
<clipPath id="cpb"><rect x="632.8" y="57.4" width="341.5" height="244.2"/></clipPath>
<linearGradient id="gc0"><stop offset=".025" stop-color="#ffb100"/><stop offset=".172" stop-color="#ffff00"/><stop offset=".189" stop-color="#f9ff1b"/><stop offset=".243" stop-color="#dfff4e"/><stop offset=".303" stop-color="#a2ff99"/><stop offset=".347" stop-color="#64ffcb"/><stop offset=".358" stop-color="#48ffd7"/><stop offset=".385" stop-color="#2bfff3"/><stop offset=".391" stop-color="#20fff8"/><stop offset=".396" stop-color="#0dfffe"/><stop offset=".418" stop-color="#31e5ff"/><stop offset=".451" stop-color="#43bbff"/><stop offset=".505" stop-color="#417bfe"/><stop offset=".582" stop-color="#2637fc"/><stop offset=".648" stop-color="#1114fa"/><stop offset=".828" stop-color="#1115fa"/><stop offset=".975" stop-color="#1e29fb"/></linearGradient>
<linearGradient id="gc1"><stop offset=".025" stop-color="#ffaf00"/><stop offset=".178" stop-color="#fffe00"/><stop offset=".183" stop-color="#feff04"/><stop offset=".199" stop-color="#f8ff1e"/><stop offset=".249" stop-color="#deff50"/><stop offset=".314" stop-color="#9affa0"/><stop offset=".352" stop-color="#61ffcd"/><stop offset=".363" stop-color="#47ffd9"/><stop offset=".391" stop-color="#26fff6"/><stop offset=".402" stop-color="#0afdff"/><stop offset=".407" stop-color="#1ef6ff"/><stop offset=".424" stop-color="#34e1ff"/><stop offset=".462" stop-color="#45afff"/><stop offset=".527" stop-color="#3b65fd"/><stop offset=".598" stop-color="#202cfc"/><stop offset=".653" stop-color="#1212fa"/><stop offset=".822" stop-color="#1116fa"/><stop offset=".975" stop-color="#1e2afc"/></linearGradient>
<linearGradient id="gc2"><stop offset=".025" stop-color="#ffac00"/><stop offset=".183" stop-color="#fffd00"/><stop offset=".189" stop-color="#ffff00"/><stop offset=".210" stop-color="#f7ff22"/><stop offset=".265" stop-color="#d4ff5e"/><stop offset=".325" stop-color="#92ffa8"/><stop offset=".358" stop-color="#5dffcf"/><stop offset=".363" stop-color="#4dffd5"/><stop offset=".391" stop-color="#2cfff3"/><stop offset=".396" stop-color="#21fff8"/><stop offset=".402" stop-color="#0cfffe"/><stop offset=".418" stop-color="#2cebff"/><stop offset=".445" stop-color="#40c6ff"/><stop offset=".495" stop-color="#4388ff"/><stop offset=".566" stop-color="#2d43fc"/><stop offset=".637" stop-color="#1319fb"/><stop offset=".675" stop-color="#1212fa"/><stop offset=".811" stop-color="#1116fa"/><stop offset=".975" stop-color="#1f2bfc"/></linearGradient>
<linearGradient id="gc3"><stop offset=".025" stop-color="#ffaa00"/><stop offset=".189" stop-color="#fffc00"/><stop offset=".194" stop-color="#fffe00"/><stop offset=".221" stop-color="#f4ff29"/><stop offset=".281" stop-color="#c9ff6c"/><stop offset=".336" stop-color="#8affaf"/><stop offset=".363" stop-color="#59ffd0"/><stop offset=".369" stop-color="#48ffd7"/><stop offset=".396" stop-color="#27fff5"/><stop offset=".407" stop-color="#0cfdff"/><stop offset=".413" stop-color="#1ef6ff"/><stop offset=".429" stop-color="#35dfff"/><stop offset=".467" stop-color="#45acff"/><stop offset=".533" stop-color="#3960fd"/><stop offset=".598" stop-color="#202cfc"/><stop offset=".653" stop-color="#1213fa"/><stop offset=".801" stop-color="#1115fa"/><stop offset=".975" stop-color="#1f2cfc"/></linearGradient>
<linearGradient id="gc4"><stop offset=".025" stop-color="#ffa800"/><stop offset=".199" stop-color="#fffe00"/><stop offset=".227" stop-color="#f4ff2a"/><stop offset=".287" stop-color="#c9ff6c"/><stop offset=".342" stop-color="#88ffb0"/><stop offset=".363" stop-color="#62ffcc"/><stop offset=".374" stop-color="#46ffd9"/><stop offset=".396" stop-color="#2dfff2"/><stop offset=".402" stop-color="#21fff8"/><stop offset=".407" stop-color="#0dfffe"/><stop offset=".424" stop-color="#2deaff"/><stop offset=".451" stop-color="#41c4ff"/><stop offset=".500" stop-color="#4384fe"/><stop offset=".566" stop-color="#2d43fc"/><stop offset=".637" stop-color="#141afb"/><stop offset=".686" stop-color="#1212fa"/><stop offset=".795" stop-color="#1116fa"/><stop offset=".975" stop-color="#202cfc"/></linearGradient>
<linearGradient id="gc5"><stop offset=".025" stop-color="#ffa500"/><stop offset=".205" stop-color="#fffe00"/><stop offset=".232" stop-color="#f3ff2b"/><stop offset=".292" stop-color="#c9ff6c"/><stop offset=".342" stop-color="#8fffab"/><stop offset=".369" stop-color="#5fffce"/><stop offset=".380" stop-color="#45ffdb"/><stop offset=".402" stop-color="#28fff5"/><stop offset=".413" stop-color="#0afdff"/><stop offset=".418" stop-color="#1ef6ff"/><stop offset=".434" stop-color="#36deff"/><stop offset=".467" stop-color="#45b0ff"/><stop offset=".522" stop-color="#3d6cfe"/><stop offset=".582" stop-color="#2637fc"/><stop offset=".653" stop-color="#1116fa"/><stop offset=".784" stop-color="#1115fa"/><stop offset=".975" stop-color="#202dfc"/></linearGradient>
<linearGradient id="gc6"><stop offset=".025" stop-color="#ffa300"/><stop offset=".210" stop-color="#fffe00"/><stop offset=".232" stop-color="#f6ff25"/><stop offset=".292" stop-color="#ceff65"/><stop offset=".342" stop-color="#95ffa5"/><stop offset=".369" stop-color="#67ffc9"/><stop offset=".380" stop-color="#48ffd7"/><stop offset=".402" stop-color="#2efff1"/><stop offset=".407" stop-color="#24fff7"/><stop offset=".413" stop-color="#11fffd"/><stop offset=".418" stop-color="#16faff"/><stop offset=".429" stop-color="#2deaff"/><stop offset=".456" stop-color="#41c3ff"/><stop offset=".505" stop-color="#4280fe"/><stop offset=".560" stop-color="#2f47fc"/><stop offset=".631" stop-color="#161efb"/><stop offset=".691" stop-color="#1212fa"/><stop offset=".784" stop-color="#1217fb"/><stop offset=".975" stop-color="#212efc"/></linearGradient>
<linearGradient id="gc7"><stop offset=".025" stop-color="#ffa000"/><stop offset=".216" stop-color="#fffe00"/><stop offset=".238" stop-color="#f6ff25"/><stop offset=".292" stop-color="#d4ff5e"/><stop offset=".342" stop-color="#9bff9f"/><stop offset=".374" stop-color="#64ffcb"/><stop offset=".385" stop-color="#47ffd9"/><stop offset=".407" stop-color="#2bfff3"/><stop offset=".413" stop-color="#1efff9"/><stop offset=".418" stop-color="#04feff"/><stop offset=".424" stop-color="#1df6ff"/><stop offset=".440" stop-color="#36deff"/><stop offset=".473" stop-color="#45aeff"/><stop offset=".527" stop-color="#3c67fe"/><stop offset=".582" stop-color="#2738fc"/><stop offset=".653" stop-color="#1218fb"/><stop offset=".740" stop-color="#1212fa"/><stop offset=".975" stop-color="#212efc"/></linearGradient>
<linearGradient id="gc8"><stop offset=".025" stop-color="#ff9d00"/><stop offset=".221" stop-color="#fffe00"/><stop offset=".238" stop-color="#f9ff1e"/><stop offset=".292" stop-color="#d9ff57"/><stop offset=".347" stop-color="#9affa0"/><stop offset=".380" stop-color="#61ffcc"/><stop offset=".391" stop-color="#45ffda"/><stop offset=".413" stop-color="#27fff5"/><stop offset=".418" stop-color="#17fffc"/><stop offset=".424" stop-color="#12fbff"/><stop offset=".434" stop-color="#2cebff"/><stop offset=".462" stop-color="#42c2ff"/><stop offset=".505" stop-color="#4383fe"/><stop offset=".555" stop-color="#314cfd"/><stop offset=".626" stop-color="#1921fb"/><stop offset=".697" stop-color="#1213fa"/><stop offset=".833" stop-color="#1921fb"/><stop offset=".975" stop-color="#212ffc"/></linearGradient>
<linearGradient id="gc9"><stop offset=".025" stop-color="#ff9a00"/><stop offset=".227" stop-color="#fffe00"/><stop offset=".254" stop-color="#f5ff28"/><stop offset=".298" stop-color="#d9ff57"/><stop offset=".352" stop-color="#99ffa1"/><stop offset=".380" stop-color="#6bffc6"/><stop offset=".391" stop-color="#4dffd5"/><stop offset=".418" stop-color="#23fff7"/><stop offset=".424" stop-color="#0cfffe"/><stop offset=".440" stop-color="#2fe8ff"/><stop offset=".467" stop-color="#43bdff"/><stop offset=".511" stop-color="#417dfe"/><stop offset=".560" stop-color="#2f48fc"/><stop offset=".631" stop-color="#1820fb"/><stop offset=".708" stop-color="#1115fa"/><stop offset=".975" stop-color="#2230fc"/></linearGradient>
<linearGradient id="gc10"><stop offset=".025" stop-color="#ff9700"/><stop offset=".238" stop-color="#ffff01"/><stop offset=".254" stop-color="#f8ff1f"/><stop offset=".303" stop-color="#d8ff58"/><stop offset=".358" stop-color="#98ffa2"/><stop offset=".385" stop-color="#69ffc8"/><stop offset=".396" stop-color="#48ffd6"/><stop offset=".418" stop-color="#2cfff3"/><stop offset=".424" stop-color="#1efff9"/><stop offset=".429" stop-color="#05feff"/><stop offset=".434" stop-color="#1ef6ff"/><stop offset=".451" stop-color="#37dcff"/><stop offset=".484" stop-color="#45a7ff"/><stop offset=".538" stop-color="#385cfd"/><stop offset=".587" stop-color="#2536fc"/><stop offset=".653" stop-color="#151cfb"/><stop offset=".757" stop-color="#141afb"/><stop offset=".975" stop-color="#2230fc"/></linearGradient>
<linearGradient id="gc11"><stop offset=".025" stop-color="#ff9400"/><stop offset=".167" stop-color="#ffda00"/><stop offset=".243" stop-color="#fffe00"/><stop offset=".271" stop-color="#f4ff2a"/><stop offset=".320" stop-color="#cdff67"/><stop offset=".369" stop-color="#90ffaa"/><stop offset=".391" stop-color="#68ffc9"/><stop offset=".402" stop-color="#48ffd8"/><stop offset=".424" stop-color="#29fff4"/><stop offset=".434" stop-color="#10fcff"/><stop offset=".440" stop-color="#22f3ff"/><stop offset=".456" stop-color="#39d8ff"/><stop offset=".489" stop-color="#45a2ff"/><stop offset=".538" stop-color="#385dfd"/><stop offset=".587" stop-color="#2636fc"/><stop offset=".653" stop-color="#161efb"/><stop offset=".768" stop-color="#161efb"/><stop offset=".975" stop-color="#2331fc"/></linearGradient>
<linearGradient id="gc12"><stop offset=".025" stop-color="#ff9000"/><stop offset=".150" stop-color="#ffcd00"/><stop offset=".254" stop-color="#ffff02"/><stop offset=".271" stop-color="#f7ff23"/><stop offset=".325" stop-color="#cdff67"/><stop offset=".374" stop-color="#8fffaa"/><stop offset=".396" stop-color="#66ffc9"/><stop offset=".407" stop-color="#47ffd9"/><stop offset=".429" stop-color="#27fff6"/><stop offset=".434" stop-color="#14fffc"/><stop offset=".440" stop-color="#16faff"/><stop offset=".451" stop-color="#2fe7ff"/><stop offset=".473" stop-color="#42c2ff"/><stop offset=".511" stop-color="#4383fe"/><stop offset=".555" stop-color="#324efd"/><stop offset=".609" stop-color="#1f2cfc"/><stop offset=".680" stop-color="#161dfb"/><stop offset=".975" stop-color="#2432fc"/></linearGradient>
<linearGradient id="gc13"><stop offset=".025" stop-color="#ff8c00"/><stop offset=".134" stop-color="#ffc100"/><stop offset=".260" stop-color="#ffff00"/><stop offset=".276" stop-color="#f7ff23"/><stop offset=".336" stop-color="#c7ff6f"/><stop offset=".380" stop-color="#8fffaa"/><stop offset=".402" stop-color="#65ffca"/><stop offset=".413" stop-color="#46ffd9"/><stop offset=".429" stop-color="#30fff0"/><stop offset=".434" stop-color="#24fff7"/><stop offset=".440" stop-color="#0cfffe"/><stop offset=".451" stop-color="#29eeff"/><stop offset=".473" stop-color="#40c7ff"/><stop offset=".505" stop-color="#448eff"/><stop offset=".544" stop-color="#3759fd"/><stop offset=".593" stop-color="#2534fc"/><stop offset=".658" stop-color="#1921fb"/><stop offset=".833" stop-color="#1d29fb"/><stop offset=".975" stop-color="#2434fc"/></linearGradient>
<linearGradient id="gc14"><stop offset=".025" stop-color="#ff8900"/><stop offset=".123" stop-color="#ffb700"/><stop offset=".265" stop-color="#ffff00"/><stop offset=".281" stop-color="#f7ff23"/><stop offset=".342" stop-color="#c7ff6e"/><stop offset=".385" stop-color="#8fffab"/><stop offset=".407" stop-color="#64ffcb"/><stop offset=".418" stop-color="#46ffda"/><stop offset=".434" stop-color="#2efff1"/><stop offset=".440" stop-color="#21fff8"/><stop offset=".445" stop-color="#02ffff"/><stop offset=".451" stop-color="#1ff5ff"/><stop offset=".467" stop-color="#3ad8ff"/><stop offset=".495" stop-color="#45a4ff"/><stop offset=".533" stop-color="#3c67fe"/><stop offset=".576" stop-color="#2a3efc"/><stop offset=".637" stop-color="#1c26fb"/><stop offset=".784" stop-color="#1c26fb"/><stop offset=".975" stop-color="#2535fc"/></linearGradient>
<linearGradient id="gc15"><stop offset=".025" stop-color="#ff8500"/><stop offset=".112" stop-color="#ffad00"/><stop offset=".271" stop-color="#fffe00"/><stop offset=".287" stop-color="#f6ff24"/><stop offset=".347" stop-color="#c8ff6d"/><stop offset=".391" stop-color="#8fffab"/><stop offset=".413" stop-color="#63ffcb"/><stop offset=".424" stop-color="#45ffdb"/><stop offset=".440" stop-color="#2dfff2"/><stop offset=".451" stop-color="#0bfdff"/><stop offset=".456" stop-color="#22f3ff"/><stop offset=".473" stop-color="#3bd4ff"/><stop offset=".500" stop-color="#459eff"/><stop offset=".533" stop-color="#3c69fe"/><stop offset=".576" stop-color="#2b40fc"/><stop offset=".637" stop-color="#1d28fb"/><stop offset=".828" stop-color="#202dfc"/><stop offset=".975" stop-color="#2637fc"/></linearGradient>
<linearGradient id="gc16"><stop offset=".025" stop-color="#ff8200"/><stop offset=".101" stop-color="#ffa300"/><stop offset=".276" stop-color="#fffe00"/><stop offset=".292" stop-color="#f6ff24"/><stop offset=".347" stop-color="#ceff65"/><stop offset=".391" stop-color="#97ffa3"/><stop offset=".418" stop-color="#63ffcc"/><stop offset=".429" stop-color="#45ffdc"/><stop offset=".445" stop-color="#2bfff3"/><stop offset=".456" stop-color="#12fbff"/><stop offset=".462" stop-color="#25f1ff"/><stop offset=".478" stop-color="#3dd1ff"/><stop offset=".505" stop-color="#4598ff"/><stop offset=".538" stop-color="#3b64fd"/><stop offset=".582" stop-color="#2a3efc"/><stop offset=".642" stop-color="#1e2afc"/><stop offset=".904" stop-color="#2534fc"/><stop offset=".975" stop-color="#2738fc"/></linearGradient>
<linearGradient id="gc17"><stop offset=".025" stop-color="#ff7f00"/><stop offset=".096" stop-color="#ff9c00"/><stop offset=".281" stop-color="#ffff00"/><stop offset=".298" stop-color="#f7ff23"/><stop offset=".352" stop-color="#cfff64"/><stop offset=".396" stop-color="#97ffa3"/><stop offset=".424" stop-color="#62ffcc"/><stop offset=".434" stop-color="#44ffdc"/><stop offset=".451" stop-color="#2afff4"/><stop offset=".456" stop-color="#18fffc"/><stop offset=".462" stop-color="#16faff"/><stop offset=".473" stop-color="#32e4ff"/><stop offset=".495" stop-color="#44b5ff"/><stop offset=".522" stop-color="#427ffe"/><stop offset=".560" stop-color="#3350fd"/><stop offset=".609" stop-color="#2433fc"/><stop offset=".669" stop-color="#202cfc"/><stop offset=".975" stop-color="#283afc"/></linearGradient>
<linearGradient id="gc18"><stop offset=".025" stop-color="#ff7c00"/><stop offset=".090" stop-color="#ff9600"/><stop offset=".287" stop-color="#ffff00"/><stop offset=".303" stop-color="#f7ff22"/><stop offset=".352" stop-color="#d5ff5c"/><stop offset=".396" stop-color="#9fff9b"/><stop offset=".424" stop-color="#6effc5"/><stop offset=".434" stop-color="#4dffd5"/><stop offset=".456" stop-color="#28fff5"/><stop offset=".462" stop-color="#13fffd"/><stop offset=".467" stop-color="#1bf8ff"/><stop offset=".478" stop-color="#34e1ff"/><stop offset=".500" stop-color="#45b0ff"/><stop offset=".527" stop-color="#417bfe"/><stop offset=".566" stop-color="#324efd"/><stop offset=".615" stop-color="#2433fc"/><stop offset=".686" stop-color="#2230fc"/><stop offset=".975" stop-color="#293cfc"/></linearGradient>
<linearGradient id="gc19"><stop offset=".025" stop-color="#ff7a00"/><stop offset=".090" stop-color="#ff9300"/><stop offset=".292" stop-color="#fffe00"/><stop offset=".309" stop-color="#f8ff20"/><stop offset=".358" stop-color="#d5ff5c"/><stop offset=".407" stop-color="#96ffa4"/><stop offset=".429" stop-color="#6cffc6"/><stop offset=".434" stop-color="#5effce"/><stop offset=".440" stop-color="#49ffd6"/><stop offset=".456" stop-color="#32ffef"/><stop offset=".462" stop-color="#25fff7"/><stop offset=".467" stop-color="#06fffe"/><stop offset=".473" stop-color="#20f5ff"/><stop offset=".484" stop-color="#37dcff"/><stop offset=".505" stop-color="#45abff"/><stop offset=".538" stop-color="#3f71fe"/><stop offset=".576" stop-color="#2f48fc"/><stop offset=".626" stop-color="#2433fc"/><stop offset=".975" stop-color="#2b3ffc"/></linearGradient>
<linearGradient id="gc20"><stop offset=".025" stop-color="#ff7700"/><stop offset=".101" stop-color="#ff9600"/><stop offset=".298" stop-color="#fffd00"/><stop offset=".303" stop-color="#feff06"/><stop offset=".320" stop-color="#f6ff25"/><stop offset=".363" stop-color="#d5ff5d"/><stop offset=".413" stop-color="#95ffa5"/><stop offset=".434" stop-color="#6affc7"/><stop offset=".445" stop-color="#47ffd8"/><stop offset=".462" stop-color="#2efff1"/><stop offset=".473" stop-color="#12fbff"/><stop offset=".478" stop-color="#27f0ff"/><stop offset=".495" stop-color="#3fcbff"/><stop offset=".522" stop-color="#4592ff"/><stop offset=".560" stop-color="#375afd"/><stop offset=".598" stop-color="#2a3dfc"/><stop offset=".648" stop-color="#2434fc"/><stop offset=".975" stop-color="#2c42fc"/></linearGradient>
<linearGradient id="gc21"><stop offset=".025" stop-color="#ff7400"/><stop offset=".112" stop-color="#ff9900"/><stop offset=".309" stop-color="#ffff01"/><stop offset=".320" stop-color="#f9ff1c"/><stop offset=".369" stop-color="#d4ff5e"/><stop offset=".413" stop-color="#9cff9e"/><stop offset=".440" stop-color="#67ffc9"/><stop offset=".451" stop-color="#45ffdb"/><stop offset=".467" stop-color="#28fff5"/><stop offset=".473" stop-color="#0ffffe"/><stop offset=".484" stop-color="#2deaff"/><stop offset=".500" stop-color="#41c5ff"/><stop offset=".533" stop-color="#4385fe"/><stop offset=".571" stop-color="#3453fd"/><stop offset=".609" stop-color="#283bfc"/><stop offset=".664" stop-color="#2738fc"/><stop offset=".975" stop-color="#2e45fc"/></linearGradient>
<linearGradient id="gc22"><stop offset=".025" stop-color="#ff7200"/><stop offset=".118" stop-color="#ff9a00"/><stop offset=".314" stop-color="#ffff00"/><stop offset=".331" stop-color="#f6ff24"/><stop offset=".380" stop-color="#cdff67"/><stop offset=".424" stop-color="#91ffa9"/><stop offset=".445" stop-color="#61ffcc"/><stop offset=".451" stop-color="#4cffd5"/><stop offset=".467" stop-color="#2ffff0"/><stop offset=".478" stop-color="#11fbff"/><stop offset=".484" stop-color="#27f0ff"/><stop offset=".500" stop-color="#3fccff"/><stop offset=".527" stop-color="#4594ff"/><stop offset=".560" stop-color="#3a62fd"/><stop offset=".598" stop-color="#2c42fc"/><stop offset=".642" stop-color="#2839fc"/><stop offset=".844" stop-color="#2d44fc"/><stop offset=".975" stop-color="#2f48fc"/></linearGradient>
<linearGradient id="gc23"><stop offset=".025" stop-color="#ff6f00"/><stop offset=".128" stop-color="#ff9d00"/><stop offset=".320" stop-color="#ffff00"/><stop offset=".336" stop-color="#f6ff25"/><stop offset=".385" stop-color="#ccff68"/><stop offset=".424" stop-color="#98ffa2"/><stop offset=".445" stop-color="#6bffc7"/><stop offset=".456" stop-color="#46ffd9"/><stop offset=".473" stop-color="#28fff5"/><stop offset=".478" stop-color="#0ffffd"/><stop offset=".489" stop-color="#2deaff"/><stop offset=".505" stop-color="#40c7ff"/><stop offset=".538" stop-color="#4386ff"/><stop offset=".571" stop-color="#375afd"/><stop offset=".609" stop-color="#2b40fc"/><stop offset=".664" stop-color="#2b3ffc"/><stop offset=".893" stop-color="#3049fd"/><stop offset=".975" stop-color="#314bfd"/></linearGradient>
<linearGradient id="gc24"><stop offset=".025" stop-color="#ff6c00"/><stop offset=".139" stop-color="#ffa000"/><stop offset=".325" stop-color="#ffff00"/><stop offset=".336" stop-color="#f9ff1d"/><stop offset=".391" stop-color="#cbff69"/><stop offset=".429" stop-color="#95ffa5"/><stop offset=".451" stop-color="#64ffcb"/><stop offset=".456" stop-color="#50ffd4"/><stop offset=".473" stop-color="#30fff0"/><stop offset=".484" stop-color="#0ffcff"/><stop offset=".489" stop-color="#26f0ff"/><stop offset=".505" stop-color="#3ecdff"/><stop offset=".533" stop-color="#4595ff"/><stop offset=".566" stop-color="#3a63fd"/><stop offset=".604" stop-color="#2e45fc"/><stop offset=".648" stop-color="#2b41fc"/><stop offset=".790" stop-color="#314cfd"/><stop offset=".975" stop-color="#324ffd"/></linearGradient>
<linearGradient id="gc25"><stop offset=".025" stop-color="#ff6a00"/><stop offset=".156" stop-color="#ffa500"/><stop offset=".331" stop-color="#ffff02"/><stop offset=".342" stop-color="#f8ff1f"/><stop offset=".391" stop-color="#d0ff63"/><stop offset=".429" stop-color="#9bff9f"/><stop offset=".451" stop-color="#6dffc5"/><stop offset=".462" stop-color="#47ffd8"/><stop offset=".478" stop-color="#2afff4"/><stop offset=".484" stop-color="#13fffd"/><stop offset=".500" stop-color="#35e0ff"/><stop offset=".522" stop-color="#44b1ff"/><stop offset=".555" stop-color="#4076fe"/><stop offset=".587" stop-color="#3452fd"/><stop offset=".626" stop-color="#2d43fc"/><stop offset=".790" stop-color="#3350fd"/><stop offset=".975" stop-color="#3452fd"/></linearGradient>
<linearGradient id="gc26"><stop offset=".025" stop-color="#ff6700"/><stop offset=".172" stop-color="#ffab00"/><stop offset=".331" stop-color="#fffd00"/><stop offset=".336" stop-color="#feff06"/><stop offset=".347" stop-color="#f7ff21"/><stop offset=".396" stop-color="#cfff64"/><stop offset=".434" stop-color="#98ffa3"/><stop offset=".456" stop-color="#67ffc9"/><stop offset=".467" stop-color="#44ffdc"/><stop offset=".478" stop-color="#32ffef"/><stop offset=".484" stop-color="#23fff8"/><stop offset=".489" stop-color="#08feff"/><stop offset=".495" stop-color="#23f2ff"/><stop offset=".505" stop-color="#38dbff"/><stop offset=".527" stop-color="#45acff"/><stop offset=".560" stop-color="#3f73fe"/><stop offset=".593" stop-color="#3452fd"/><stop offset=".631" stop-color="#2f47fc"/><stop offset=".768" stop-color="#3554fd"/><stop offset=".975" stop-color="#3556fd"/></linearGradient>
<linearGradient id="gc27"><stop offset=".025" stop-color="#ff6400"/><stop offset=".189" stop-color="#ffb000"/><stop offset=".336" stop-color="#fffe00"/><stop offset=".358" stop-color="#f4ff2a"/><stop offset=".402" stop-color="#ceff66"/><stop offset=".440" stop-color="#93ffa7"/><stop offset=".462" stop-color="#60ffcd"/><stop offset=".467" stop-color="#48ffd7"/><stop offset=".484" stop-color="#2dfff2"/><stop offset=".489" stop-color="#1afffb"/><stop offset=".495" stop-color="#17f9ff"/><stop offset=".500" stop-color="#29eeff"/><stop offset=".516" stop-color="#3fcbff"/><stop offset=".544" stop-color="#4593ff"/><stop offset=".576" stop-color="#3b65fd"/><stop offset=".609" stop-color="#324efd"/><stop offset=".653" stop-color="#324efd"/><stop offset=".784" stop-color="#3658fd"/><stop offset=".975" stop-color="#375afd"/></linearGradient>
<linearGradient id="gc28"><stop offset=".025" stop-color="#ff6200"/><stop offset=".205" stop-color="#ffb500"/><stop offset=".342" stop-color="#fffe00"/><stop offset=".358" stop-color="#f7ff23"/><stop offset=".402" stop-color="#d3ff5f"/><stop offset=".440" stop-color="#99ffa1"/><stop offset=".462" stop-color="#69ffc8"/><stop offset=".473" stop-color="#45ffda"/><stop offset=".489" stop-color="#27fff5"/><stop offset=".495" stop-color="#0cfffe"/><stop offset=".505" stop-color="#2deaff"/><stop offset=".522" stop-color="#40c6ff"/><stop offset=".555" stop-color="#4388ff"/><stop offset=".587" stop-color="#3960fd"/><stop offset=".620" stop-color="#3350fd"/><stop offset=".795" stop-color="#385dfd"/><stop offset=".975" stop-color="#385dfd"/></linearGradient>
<linearGradient id="gc29"><stop offset=".025" stop-color="#ff5f00"/><stop offset=".216" stop-color="#ffb800"/><stop offset=".347" stop-color="#fffe00"/><stop offset=".363" stop-color="#f6ff23"/><stop offset=".402" stop-color="#d7ff5a"/><stop offset=".440" stop-color="#9fff9b"/><stop offset=".462" stop-color="#72ffc2"/><stop offset=".473" stop-color="#4dffd5"/><stop offset=".489" stop-color="#30fff0"/><stop offset=".500" stop-color="#0ffcff"/><stop offset=".505" stop-color="#26f1ff"/><stop offset=".522" stop-color="#3ecdff"/><stop offset=".549" stop-color="#4598ff"/><stop offset=".582" stop-color="#3d6afe"/><stop offset=".615" stop-color="#3556fd"/><stop offset=".872" stop-color="#3a61fd"/><stop offset=".975" stop-color="#3a61fd"/></linearGradient>
<linearGradient id="gc30"><stop offset=".025" stop-color="#ff5c00"/><stop offset=".210" stop-color="#ffb200"/><stop offset=".352" stop-color="#fffe00"/><stop offset=".369" stop-color="#f6ff24"/><stop offset=".407" stop-color="#d4ff5e"/><stop offset=".445" stop-color="#9bff9f"/><stop offset=".467" stop-color="#6cffc6"/><stop offset=".478" stop-color="#47ffd9"/><stop offset=".495" stop-color="#29fff4"/><stop offset=".500" stop-color="#13fffd"/><stop offset=".516" stop-color="#35e0ff"/><stop offset=".538" stop-color="#44b3ff"/><stop offset=".571" stop-color="#417dfe"/><stop offset=".604" stop-color="#3960fd"/><stop offset=".648" stop-color="#375afd"/><stop offset=".872" stop-color="#3b65fd"/><stop offset=".975" stop-color="#3b65fd"/></linearGradient>
<linearGradient id="gc31"><stop offset=".025" stop-color="#ff5a00"/><stop offset=".199" stop-color="#ffa900"/><stop offset=".358" stop-color="#fffe00"/><stop offset=".374" stop-color="#f5ff26"/><stop offset=".418" stop-color="#caff6b"/><stop offset=".456" stop-color="#8cffad"/><stop offset=".473" stop-color="#65ffca"/><stop offset=".484" stop-color="#43ffdd"/><stop offset=".495" stop-color="#31ffef"/><stop offset=".505" stop-color="#0bfdff"/><stop offset=".511" stop-color="#24f2ff"/><stop offset=".527" stop-color="#3dd0ff"/><stop offset=".555" stop-color="#459cff"/><stop offset=".587" stop-color="#3f71fe"/><stop offset=".620" stop-color="#3a61fd"/><stop offset=".954" stop-color="#3c69fe"/><stop offset=".975" stop-color="#3c69fe"/></linearGradient>
<linearGradient id="gc32"><stop offset=".025" stop-color="#ff5700"/><stop offset=".183" stop-color="#ff9d00"/><stop offset=".363" stop-color="#ffff00"/><stop offset=".374" stop-color="#f8ff20"/><stop offset=".418" stop-color="#ceff65"/><stop offset=".456" stop-color="#93ffa7"/><stop offset=".478" stop-color="#5effce"/><stop offset=".484" stop-color="#47ffd8"/><stop offset=".500" stop-color="#2bfff3"/><stop offset=".505" stop-color="#16fffc"/><stop offset=".511" stop-color="#19f8ff"/><stop offset=".522" stop-color="#33e2ff"/><stop offset=".544" stop-color="#44b7ff"/><stop offset=".576" stop-color="#4383fe"/><stop offset=".604" stop-color="#3e6dfe"/><stop offset=".697" stop-color="#3b65fd"/><stop offset=".882" stop-color="#3e6dfe"/><stop offset=".975" stop-color="#3e6dfe"/></linearGradient>
<linearGradient id="gc33"><stop offset=".025" stop-color="#ff5500"/><stop offset=".161" stop-color="#ff8f00"/><stop offset=".363" stop-color="#fffc00"/><stop offset=".369" stop-color="#feff06"/><stop offset=".380" stop-color="#f6ff24"/><stop offset=".424" stop-color="#cbff69"/><stop offset=".462" stop-color="#8fffab"/><stop offset=".478" stop-color="#68ffc9"/><stop offset=".489" stop-color="#44ffdc"/><stop offset=".505" stop-color="#24fff7"/><stop offset=".511" stop-color="#01ffff"/><stop offset=".516" stop-color="#21f4ff"/><stop offset=".527" stop-color="#36deff"/><stop offset=".555" stop-color="#45acff"/><stop offset=".587" stop-color="#427ffe"/><stop offset=".626" stop-color="#3e71fe"/><stop offset=".713" stop-color="#3c69fe"/><stop offset=".882" stop-color="#3f72fe"/><stop offset=".975" stop-color="#3f72fe"/></linearGradient>
<linearGradient id="gc34"><stop offset=".025" stop-color="#ff5200"/><stop offset=".139" stop-color="#ff8100"/><stop offset=".358" stop-color="#fff700"/><stop offset=".369" stop-color="#fffe00"/><stop offset=".385" stop-color="#f5ff28"/><stop offset=".429" stop-color="#c9ff6c"/><stop offset=".462" stop-color="#95ffa5"/><stop offset=".484" stop-color="#61ffcc"/><stop offset=".489" stop-color="#49ffd6"/><stop offset=".505" stop-color="#2efff1"/><stop offset=".516" stop-color="#11fbff"/><stop offset=".522" stop-color="#25f1ff"/><stop offset=".538" stop-color="#3cd2ff"/><stop offset=".571" stop-color="#459bff"/><stop offset=".593" stop-color="#4384fe"/><stop offset=".702" stop-color="#3d6dfe"/><stop offset=".882" stop-color="#4076fe"/><stop offset=".975" stop-color="#4076fe"/></linearGradient>
<linearGradient id="gc35"><stop offset=".025" stop-color="#ff5000"/><stop offset=".128" stop-color="#ff7800"/><stop offset=".336" stop-color="#ffe800"/><stop offset=".374" stop-color="#ffff00"/><stop offset=".380" stop-color="#fbff15"/><stop offset=".407" stop-color="#e5ff45"/><stop offset=".445" stop-color="#b7ff82"/><stop offset=".478" stop-color="#79ffbd"/><stop offset=".495" stop-color="#46ffda"/><stop offset=".511" stop-color="#2afff4"/><stop offset=".516" stop-color="#16fffc"/><stop offset=".522" stop-color="#18f9ff"/><stop offset=".533" stop-color="#31e5ff"/><stop offset=".555" stop-color="#42bfff"/><stop offset=".587" stop-color="#4593ff"/><stop offset=".697" stop-color="#3f72fe"/><stop offset=".926" stop-color="#417afe"/><stop offset=".975" stop-color="#417afe"/></linearGradient>
<linearGradient id="gc36"><stop offset=".025" stop-color="#ff4d00"/><stop offset=".118" stop-color="#ff6e00"/><stop offset=".314" stop-color="#ffd800"/><stop offset=".374" stop-color="#fffd00"/><stop offset=".396" stop-color="#f1ff2f"/><stop offset=".440" stop-color="#c4ff73"/><stop offset=".473" stop-color="#8dffad"/><stop offset=".489" stop-color="#65ffca"/><stop offset=".500" stop-color="#44ffdc"/><stop offset=".516" stop-color="#26fff6"/><stop offset=".522" stop-color="#10fffd"/><stop offset=".538" stop-color="#32e4ff"/><stop offset=".566" stop-color="#43b9ff"/><stop offset=".593" stop-color="#459dff"/><stop offset=".702" stop-color="#4179fe"/><stop offset=".975" stop-color="#427ffe"/></linearGradient>
<linearGradient id="gc37"><stop offset=".025" stop-color="#ff4b00"/><stop offset=".112" stop-color="#ff6800"/><stop offset=".303" stop-color="#ffce00"/><stop offset=".380" stop-color="#ffff00"/><stop offset=".391" stop-color="#f8ff20"/><stop offset=".434" stop-color="#d0ff64"/><stop offset=".473" stop-color="#93ffa7"/><stop offset=".495" stop-color="#60ffcd"/><stop offset=".500" stop-color="#4affd6"/><stop offset=".522" stop-color="#25fff7"/><stop offset=".527" stop-color="#0dfffe"/><stop offset=".544" stop-color="#31e6ff"/><stop offset=".571" stop-color="#42bfff"/><stop offset=".598" stop-color="#45a9ff"/><stop offset=".653" stop-color="#4594ff"/><stop offset=".702" stop-color="#4280fe"/><stop offset=".975" stop-color="#4383fe"/></linearGradient>
<linearGradient id="gc38"><stop offset=".025" stop-color="#ff4900"/><stop offset=".107" stop-color="#ff6100"/><stop offset=".292" stop-color="#ffc500"/><stop offset=".380" stop-color="#fffd00"/><stop offset=".385" stop-color="#feff08"/><stop offset=".396" stop-color="#f6ff24"/><stop offset=".440" stop-color="#cdff67"/><stop offset=".478" stop-color="#8fffaa"/><stop offset=".500" stop-color="#5cffcf"/><stop offset=".505" stop-color="#47ffd8"/><stop offset=".527" stop-color="#24fff7"/><stop offset=".533" stop-color="#0ffffd"/><stop offset=".549" stop-color="#2fe8ff"/><stop offset=".576" stop-color="#40c6ff"/><stop offset=".609" stop-color="#44b3ff"/><stop offset=".648" stop-color="#45a3ff"/><stop offset=".697" stop-color="#4389ff"/><stop offset=".828" stop-color="#4387ff"/><stop offset=".975" stop-color="#4388ff"/></linearGradient>
<linearGradient id="gc39"><stop offset=".025" stop-color="#ff4700"/><stop offset=".107" stop-color="#ff5d00"/><stop offset=".281" stop-color="#ffbb00"/><stop offset=".385" stop-color="#fffe00"/><stop offset=".402" stop-color="#f5ff28"/><stop offset=".440" stop-color="#d1ff62"/><stop offset=".484" stop-color="#8cffad"/><stop offset=".505" stop-color="#59ffd1"/><stop offset=".511" stop-color="#47ffd9"/><stop offset=".533" stop-color="#26fff6"/><stop offset=".538" stop-color="#14fffc"/><stop offset=".544" stop-color="#14faff"/><stop offset=".555" stop-color="#2cebff"/><stop offset=".582" stop-color="#3eceff"/><stop offset=".653" stop-color="#45a9ff"/><stop offset=".702" stop-color="#448fff"/><stop offset=".844" stop-color="#448cff"/><stop offset=".975" stop-color="#448dff"/></linearGradient>
<linearGradient id="gc40"><stop offset=".025" stop-color="#ff4500"/><stop offset=".107" stop-color="#ff5900"/><stop offset=".271" stop-color="#ffb100"/><stop offset=".391" stop-color="#ffff03"/><stop offset=".396" stop-color="#fbff16"/><stop offset=".434" stop-color="#daff56"/><stop offset=".478" stop-color="#9cff9e"/><stop offset=".505" stop-color="#66ffca"/><stop offset=".516" stop-color="#46ffda"/><stop offset=".538" stop-color="#27fff5"/><stop offset=".549" stop-color="#0bfdff"/><stop offset=".555" stop-color="#1ef6ff"/><stop offset=".571" stop-color="#32e4ff"/><stop offset=".615" stop-color="#40c7ff"/><stop offset=".702" stop-color="#4596ff"/><stop offset=".795" stop-color="#4490ff"/><stop offset=".975" stop-color="#4592ff"/></linearGradient>
<linearGradient id="gc41"><stop offset=".025" stop-color="#ff4300"/><stop offset=".107" stop-color="#ff5600"/><stop offset=".260" stop-color="#ffa600"/><stop offset=".391" stop-color="#fffd00"/><stop offset=".407" stop-color="#f5ff28"/><stop offset=".451" stop-color="#c9ff6c"/><stop offset=".495" stop-color="#86ffb2"/><stop offset=".516" stop-color="#54ffd2"/><stop offset=".522" stop-color="#46ffda"/><stop offset=".544" stop-color="#2afff4"/><stop offset=".549" stop-color="#1ffff9"/><stop offset=".555" stop-color="#09fffe"/><stop offset=".571" stop-color="#28eeff"/><stop offset=".604" stop-color="#3ad6ff"/><stop offset=".702" stop-color="#459dff"/><stop offset=".784" stop-color="#4595ff"/><stop offset=".975" stop-color="#4597ff"/></linearGradient>
<linearGradient id="gc42"><stop offset=".025" stop-color="#ff4100"/><stop offset=".107" stop-color="#ff5200"/><stop offset=".249" stop-color="#ff9c00"/><stop offset=".396" stop-color="#ffff03"/><stop offset=".402" stop-color="#fbff17"/><stop offset=".429" stop-color="#e4ff47"/><stop offset=".478" stop-color="#a8ff92"/><stop offset=".511" stop-color="#6fffc4"/><stop offset=".527" stop-color="#46ffda"/><stop offset=".555" stop-color="#24fff7"/><stop offset=".566" stop-color="#08fdff"/><stop offset=".571" stop-color="#1af8ff"/><stop offset=".593" stop-color="#30e6ff"/><stop offset=".669" stop-color="#44b5ff"/><stop offset=".724" stop-color="#459fff"/><stop offset=".910" stop-color="#459cff"/><stop offset=".975" stop-color="#459cff"/></linearGradient>
<linearGradient id="gc43"><stop offset=".025" stop-color="#ff4000"/><stop offset=".107" stop-color="#ff4e00"/><stop offset=".238" stop-color="#ff9200"/><stop offset=".396" stop-color="#fffe00"/><stop offset=".413" stop-color="#f4ff2a"/><stop offset=".462" stop-color="#c3ff74"/><stop offset=".511" stop-color="#78ffbd"/><stop offset=".533" stop-color="#46ffd9"/><stop offset=".560" stop-color="#28fff5"/><stop offset=".571" stop-color="#0ffffd"/><stop offset=".576" stop-color="#0ffcff"/><stop offset=".587" stop-color="#22f3ff"/><stop offset=".626" stop-color="#39d9ff"/><stop offset=".702" stop-color="#45abff"/><stop offset=".784" stop-color="#459fff"/><stop offset=".975" stop-color="#45a1ff"/></linearGradient>
<linearGradient id="gc44"><stop offset=".025" stop-color="#ff3e00"/><stop offset=".112" stop-color="#ff4d00"/><stop offset=".238" stop-color="#ff8e00"/><stop offset=".396" stop-color="#fffd00"/><stop offset=".402" stop-color="#fdff0a"/><stop offset=".413" stop-color="#f5ff27"/><stop offset=".467" stop-color="#c0ff77"/><stop offset=".516" stop-color="#77ffbe"/><stop offset=".538" stop-color="#47ffd8"/><stop offset=".571" stop-color="#24fff7"/><stop offset=".576" stop-color="#1afffb"/><stop offset=".582" stop-color="#09fffe"/><stop offset=".604" stop-color="#28efff"/><stop offset=".653" stop-color="#3ecdff"/><stop offset=".713" stop-color="#45afff"/><stop offset=".806" stop-color="#45a5ff"/><stop offset=".975" stop-color="#45a7ff"/></linearGradient>
<linearGradient id="gc45"><stop offset=".025" stop-color="#ff3b00"/><stop offset=".112" stop-color="#ff4900"/><stop offset=".232" stop-color="#ff8700"/><stop offset=".402" stop-color="#ffff03"/><stop offset=".407" stop-color="#fbff17"/><stop offset=".434" stop-color="#e5ff45"/><stop offset=".489" stop-color="#a8ff92"/><stop offset=".533" stop-color="#63ffcb"/><stop offset=".544" stop-color="#48ffd7"/><stop offset=".582" stop-color="#21fff8"/><stop offset=".587" stop-color="#17fffc"/><stop offset=".593" stop-color="#00ffff"/><stop offset=".598" stop-color="#13fbff"/><stop offset=".620" stop-color="#2ceaff"/><stop offset=".675" stop-color="#41c5ff"/><stop offset=".740" stop-color="#45afff"/><stop offset=".888" stop-color="#45acff"/><stop offset=".975" stop-color="#45acff"/></linearGradient>
<linearGradient id="gc46"><stop offset=".025" stop-color="#ff3900"/><stop offset=".118" stop-color="#ff4700"/><stop offset=".238" stop-color="#ff8700"/><stop offset=".402" stop-color="#ffff00"/><stop offset=".413" stop-color="#f8ff20"/><stop offset=".467" stop-color="#c8ff6e"/><stop offset=".527" stop-color="#77ffbe"/><stop offset=".544" stop-color="#59ffd1"/><stop offset=".549" stop-color="#49ffd6"/><stop offset=".587" stop-color="#27fff6"/><stop offset=".604" stop-color="#06feff"/><stop offset=".615" stop-color="#1ef6ff"/><stop offset=".648" stop-color="#36deff"/><stop offset=".708" stop-color="#42beff"/><stop offset=".795" stop-color="#45b1ff"/><stop offset=".975" stop-color="#44b2ff"/></linearGradient>
<linearGradient id="gc47"><stop offset=".025" stop-color="#ff3600"/><stop offset=".118" stop-color="#ff4400"/><stop offset=".232" stop-color="#ff8000"/><stop offset=".402" stop-color="#fffe00"/><stop offset=".418" stop-color="#f5ff27"/><stop offset=".473" stop-color="#c5ff71"/><stop offset=".538" stop-color="#6effc4"/><stop offset=".560" stop-color="#46ffda"/><stop offset=".598" stop-color="#24fff7"/><stop offset=".609" stop-color="#0efffe"/><stop offset=".615" stop-color="#0dfdff"/><stop offset=".626" stop-color="#20f4ff"/><stop offset=".658" stop-color="#37ddff"/><stop offset=".719" stop-color="#41c2ff"/><stop offset=".806" stop-color="#44b7ff"/><stop offset=".975" stop-color="#44b8ff"/></linearGradient>
<linearGradient id="gc48"><stop offset=".025" stop-color="#ff3400"/><stop offset=".118" stop-color="#ff4100"/><stop offset=".227" stop-color="#ff7900"/><stop offset=".402" stop-color="#fffd00"/><stop offset=".424" stop-color="#f2ff2d"/><stop offset=".473" stop-color="#c9ff6c"/><stop offset=".544" stop-color="#70ffc3"/><stop offset=".566" stop-color="#47ffd8"/><stop offset=".604" stop-color="#28fff5"/><stop offset=".615" stop-color="#18fffb"/><stop offset=".620" stop-color="#05ffff"/><stop offset=".637" stop-color="#22f3ff"/><stop offset=".675" stop-color="#38daff"/><stop offset=".768" stop-color="#42c0ff"/><stop offset=".975" stop-color="#42beff"/></linearGradient>
<linearGradient id="gc49"><stop offset=".025" stop-color="#ff3100"/><stop offset=".118" stop-color="#ff3e00"/><stop offset=".221" stop-color="#ff7200"/><stop offset=".347" stop-color="#ffd200"/><stop offset=".407" stop-color="#ffff03"/><stop offset=".413" stop-color="#fbff16"/><stop offset=".434" stop-color="#ecff39"/><stop offset=".489" stop-color="#baff7e"/><stop offset=".560" stop-color="#61ffcd"/><stop offset=".571" stop-color="#49ffd6"/><stop offset=".615" stop-color="#26fff6"/><stop offset=".626" stop-color="#15fffc"/><stop offset=".631" stop-color="#02ffff"/><stop offset=".637" stop-color="#13fbff"/><stop offset=".658" stop-color="#2becff"/><stop offset=".713" stop-color="#3bd4ff"/><stop offset=".801" stop-color="#41c5ff"/><stop offset=".975" stop-color="#41c4ff"/></linearGradient>
<linearGradient id="gc50"><stop offset=".025" stop-color="#ff2f00"/><stop offset=".118" stop-color="#ff3b00"/><stop offset=".216" stop-color="#ff6b00"/><stop offset=".325" stop-color="#ffbe00"/><stop offset=".407" stop-color="#fffe00"/><stop offset=".418" stop-color="#f8ff1e"/><stop offset=".484" stop-color="#c4ff73"/><stop offset=".560" stop-color="#6cffc6"/><stop offset=".582" stop-color="#47ffd9"/><stop offset=".626" stop-color="#25fff6"/><stop offset=".637" stop-color="#14fffd"/><stop offset=".642" stop-color="#02ffff"/><stop offset=".648" stop-color="#13fbff"/><stop offset=".669" stop-color="#29eeff"/><stop offset=".740" stop-color="#3bd5ff"/><stop offset=".850" stop-color="#3fccff"/><stop offset=".975" stop-color="#3fcaff"/></linearGradient>
<linearGradient id="gc51"><stop offset=".025" stop-color="#ff2d00"/><stop offset=".112" stop-color="#ff3700"/><stop offset=".210" stop-color="#ff6500"/><stop offset=".309" stop-color="#ffae00"/><stop offset=".407" stop-color="#fffd00"/><stop offset=".424" stop-color="#f6ff25"/><stop offset=".495" stop-color="#bcff7b"/><stop offset=".571" stop-color="#67ffc9"/><stop offset=".587" stop-color="#48ffd6"/><stop offset=".637" stop-color="#25fff7"/><stop offset=".648" stop-color="#15fffc"/><stop offset=".653" stop-color="#05ffff"/><stop offset=".669" stop-color="#1df7ff"/><stop offset=".719" stop-color="#32e4ff"/><stop offset=".811" stop-color="#3bd4ff"/><stop offset=".975" stop-color="#3dd0ff"/></linearGradient>
<linearGradient id="gc52"><stop offset=".025" stop-color="#ff2b00"/><stop offset=".112" stop-color="#ff3400"/><stop offset=".205" stop-color="#ff5f00"/><stop offset=".298" stop-color="#ffa200"/><stop offset=".407" stop-color="#fffd00"/><stop offset=".413" stop-color="#feff07"/><stop offset=".424" stop-color="#f6ff23"/><stop offset=".500" stop-color="#bbff7d"/><stop offset=".576" stop-color="#69ffc7"/><stop offset=".598" stop-color="#47ffd8"/><stop offset=".653" stop-color="#20fff9"/><stop offset=".664" stop-color="#11fffd"/><stop offset=".669" stop-color="#00ffff"/><stop offset=".680" stop-color="#14faff"/><stop offset=".724" stop-color="#2cebff"/><stop offset=".828" stop-color="#38dbff"/><stop offset=".975" stop-color="#3ad6ff"/></linearGradient>
<linearGradient id="gc53"><stop offset=".025" stop-color="#ff2900"/><stop offset=".112" stop-color="#ff3200"/><stop offset=".205" stop-color="#ff5c00"/><stop offset=".292" stop-color="#ff9b00"/><stop offset=".402" stop-color="#fff800"/><stop offset=".413" stop-color="#feff04"/><stop offset=".418" stop-color="#fbff17"/><stop offset=".440" stop-color="#ecff39"/><stop offset=".527" stop-color="#a5ff95"/><stop offset=".593" stop-color="#5effce"/><stop offset=".604" stop-color="#49ffd6"/><stop offset=".675" stop-color="#1afffb"/><stop offset=".691" stop-color="#03ffff"/><stop offset=".708" stop-color="#18f9ff"/><stop offset=".757" stop-color="#2cebff"/><stop offset=".910" stop-color="#35e0ff"/><stop offset=".975" stop-color="#37dcff"/></linearGradient>
<linearGradient id="gc54"><stop offset=".025" stop-color="#ff2700"/><stop offset=".107" stop-color="#ff2e00"/><stop offset=".199" stop-color="#ff5600"/><stop offset=".287" stop-color="#ff9400"/><stop offset=".402" stop-color="#fff800"/><stop offset=".413" stop-color="#ffff02"/><stop offset=".418" stop-color="#fbff15"/><stop offset=".440" stop-color="#edff37"/><stop offset=".527" stop-color="#aaff90"/><stop offset=".598" stop-color="#62ffcc"/><stop offset=".615" stop-color="#48ffd7"/><stop offset=".686" stop-color="#21fff8"/><stop offset=".713" stop-color="#04feff"/><stop offset=".729" stop-color="#17f9ff"/><stop offset=".790" stop-color="#2aedff"/><stop offset=".975" stop-color="#34e2ff"/></linearGradient>
<linearGradient id="gc55"><stop offset=".025" stop-color="#ff2600"/><stop offset=".107" stop-color="#ff2c00"/><stop offset=".205" stop-color="#ff5700"/><stop offset=".287" stop-color="#ff9200"/><stop offset=".402" stop-color="#fff800"/><stop offset=".413" stop-color="#ffff01"/><stop offset=".418" stop-color="#fbff15"/><stop offset=".440" stop-color="#eeff36"/><stop offset=".533" stop-color="#aaff90"/><stop offset=".609" stop-color="#5effce"/><stop offset=".626" stop-color="#47ffd8"/><stop offset=".702" stop-color="#23fff7"/><stop offset=".729" stop-color="#0bfffe"/><stop offset=".735" stop-color="#01ffff"/><stop offset=".757" stop-color="#15faff"/><stop offset=".828" stop-color="#27f0ff"/><stop offset=".975" stop-color="#2fe7ff"/></linearGradient>
<linearGradient id="gc56"><stop offset=".025" stop-color="#ff2500"/><stop offset=".101" stop-color="#ff2900"/><stop offset=".199" stop-color="#ff5200"/><stop offset=".281" stop-color="#ff8b00"/><stop offset=".402" stop-color="#fff800"/><stop offset=".413" stop-color="#ffff01"/><stop offset=".418" stop-color="#fbff15"/><stop offset=".440" stop-color="#eeff35"/><stop offset=".533" stop-color="#aeff8c"/><stop offset=".615" stop-color="#62ffcc"/><stop offset=".637" stop-color="#47ffd9"/><stop offset=".724" stop-color="#22fff8"/><stop offset=".762" stop-color="#06ffff"/><stop offset=".768" stop-color="#02ffff"/><stop offset=".801" stop-color="#17f9ff"/><stop offset=".975" stop-color="#2aedff"/></linearGradient>
<linearGradient id="gc57"><stop offset=".025" stop-color="#ff2400"/><stop offset=".096" stop-color="#ff2600"/><stop offset=".194" stop-color="#ff4d00"/><stop offset=".276" stop-color="#ff8400"/><stop offset=".402" stop-color="#fff800"/><stop offset=".413" stop-color="#ffff02"/><stop offset=".418" stop-color="#fbff15"/><stop offset=".440" stop-color="#efff35"/><stop offset=".533" stop-color="#b2ff88"/><stop offset=".620" stop-color="#65ffca"/><stop offset=".642" stop-color="#48ffd6"/><stop offset=".735" stop-color="#27fff6"/><stop offset=".790" stop-color="#0cfffe"/><stop offset=".801" stop-color="#01ffff"/><stop offset=".839" stop-color="#13fbff"/><stop offset=".975" stop-color="#24f2ff"/></linearGradient>
<linearGradient id="gc58"><stop offset=".025" stop-color="#ff2300"/><stop offset=".090" stop-color="#ff2300"/><stop offset=".194" stop-color="#ff4b00"/><stop offset=".276" stop-color="#ff8300"/><stop offset=".402" stop-color="#fff800"/><stop offset=".413" stop-color="#ffff02"/><stop offset=".418" stop-color="#fbff14"/><stop offset=".440" stop-color="#efff34"/><stop offset=".544" stop-color="#adff8d"/><stop offset=".637" stop-color="#5dffcf"/><stop offset=".653" stop-color="#48ffd7"/><stop offset=".746" stop-color="#2bfff3"/><stop offset=".861" stop-color="#02ffff"/><stop offset=".937" stop-color="#16f9ff"/><stop offset=".975" stop-color="#1df6ff"/></linearGradient>
<linearGradient id="gc59"><stop offset=".025" stop-color="#ff2100"/><stop offset=".085" stop-color="#ff2000"/><stop offset=".189" stop-color="#ff4800"/><stop offset=".271" stop-color="#ff7d00"/><stop offset=".402" stop-color="#fff700"/><stop offset=".413" stop-color="#ffff00"/><stop offset=".418" stop-color="#fcff13"/><stop offset=".440" stop-color="#efff33"/><stop offset=".560" stop-color="#a4ff96"/><stop offset=".653" stop-color="#55ffd2"/><stop offset=".669" stop-color="#46ffda"/><stop offset=".773" stop-color="#29fff4"/><stop offset=".899" stop-color="#09fffe"/><stop offset=".915" stop-color="#01ffff"/><stop offset=".975" stop-color="#14fbff"/></linearGradient>
<linearGradient id="gc60"><stop offset=".025" stop-color="#ff2000"/><stop offset=".079" stop-color="#ff1e00"/><stop offset=".194" stop-color="#ff4a00"/><stop offset=".271" stop-color="#ff7d00"/><stop offset=".402" stop-color="#fff700"/><stop offset=".413" stop-color="#fffe00"/><stop offset=".424" stop-color="#f9ff1d"/><stop offset=".456" stop-color="#e7ff42"/><stop offset=".593" stop-color="#8fffaa"/><stop offset=".664" stop-color="#52ffd3"/><stop offset=".680" stop-color="#46ffda"/><stop offset=".795" stop-color="#2afff4"/><stop offset=".954" stop-color="#09fffe"/><stop offset=".970" stop-color="#02ffff"/><stop offset=".975" stop-color="#05feff"/></linearGradient>
<linearGradient id="gc61"><stop offset=".025" stop-color="#ff2000"/><stop offset=".074" stop-color="#ff1d00"/><stop offset=".194" stop-color="#ff4900"/><stop offset=".271" stop-color="#ff7c00"/><stop offset=".402" stop-color="#fff600"/><stop offset=".413" stop-color="#fffe00"/><stop offset=".429" stop-color="#f6ff26"/><stop offset=".478" stop-color="#dbff54"/><stop offset=".615" stop-color="#83ffb5"/><stop offset=".675" stop-color="#4fffd4"/><stop offset=".691" stop-color="#45ffda"/><stop offset=".817" stop-color="#2afff4"/><stop offset=".970" stop-color="#10fffd"/><stop offset=".975" stop-color="#0dfffe"/></linearGradient>
<linearGradient id="gc62"><stop offset=".025" stop-color="#ff2000"/><stop offset=".074" stop-color="#ff1e00"/><stop offset=".194" stop-color="#ff4900"/><stop offset=".271" stop-color="#ff7c00"/><stop offset=".402" stop-color="#fff600"/><stop offset=".413" stop-color="#fffe00"/><stop offset=".429" stop-color="#f6ff25"/><stop offset=".473" stop-color="#deff50"/><stop offset=".615" stop-color="#87ffb2"/><stop offset=".697" stop-color="#46ffd9"/><stop offset=".822" stop-color="#2dfff2"/><stop offset=".975" stop-color="#15fffc"/></linearGradient>
<linearGradient id="gc63"><stop offset=".025" stop-color="#ff2200"/><stop offset=".079" stop-color="#ff2100"/><stop offset=".194" stop-color="#ff4900"/><stop offset=".271" stop-color="#ff7c00"/><stop offset=".402" stop-color="#fff600"/><stop offset=".413" stop-color="#fffe00"/><stop offset=".429" stop-color="#f6ff26"/><stop offset=".467" stop-color="#e1ff4c"/><stop offset=".620" stop-color="#87ffb2"/><stop offset=".691" stop-color="#4fffd4"/><stop offset=".708" stop-color="#46ffda"/><stop offset=".839" stop-color="#2efff1"/><stop offset=".975" stop-color="#1afffb"/></linearGradient>
<linearGradient id="gc64"><stop offset=".025" stop-color="#ff2400"/><stop offset=".090" stop-color="#ff2600"/><stop offset=".194" stop-color="#ff4900"/><stop offset=".271" stop-color="#ff7c00"/><stop offset=".402" stop-color="#fff600"/><stop offset=".413" stop-color="#fffe00"/><stop offset=".429" stop-color="#f5ff26"/><stop offset=".467" stop-color="#e0ff4c"/><stop offset=".626" stop-color="#87ffb2"/><stop offset=".713" stop-color="#47ffd9"/><stop offset=".850" stop-color="#2ffff1"/><stop offset=".975" stop-color="#1dfffa"/></linearGradient>
<linearGradient id="gc65"><stop offset=".025" stop-color="#ff2600"/><stop offset=".101" stop-color="#ff2b00"/><stop offset=".199" stop-color="#ff4c00"/><stop offset=".276" stop-color="#ff8000"/><stop offset=".402" stop-color="#fff600"/><stop offset=".413" stop-color="#fffe00"/><stop offset=".424" stop-color="#f9ff1d"/><stop offset=".451" stop-color="#e9ff3f"/><stop offset=".576" stop-color="#a8ff92"/><stop offset=".697" stop-color="#59ffd1"/><stop offset=".719" stop-color="#47ffd8"/><stop offset=".861" stop-color="#2ffff0"/><stop offset=".975" stop-color="#1ffff9"/></linearGradient>
<linearGradient id="gc66"><stop offset=".025" stop-color="#ff2900"/><stop offset=".112" stop-color="#ff2f00"/><stop offset=".205" stop-color="#ff5000"/><stop offset=".276" stop-color="#ff8000"/><stop offset=".402" stop-color="#fff700"/><stop offset=".413" stop-color="#fffe00"/><stop offset=".424" stop-color="#f8ff1f"/><stop offset=".451" stop-color="#e8ff40"/><stop offset=".571" stop-color="#acff8d"/><stop offset=".702" stop-color="#59ffd0"/><stop offset=".729" stop-color="#47ffd9"/><stop offset=".877" stop-color="#2ffff1"/><stop offset=".975" stop-color="#21fff8"/></linearGradient>
<linearGradient id="gc67"><stop offset=".025" stop-color="#ff2c00"/><stop offset=".118" stop-color="#ff3300"/><stop offset=".205" stop-color="#ff5100"/><stop offset=".276" stop-color="#ff8000"/><stop offset=".402" stop-color="#fff700"/><stop offset=".413" stop-color="#ffff00"/><stop offset=".418" stop-color="#fbff14"/><stop offset=".434" stop-color="#f1ff30"/><stop offset=".489" stop-color="#d5ff5c"/><stop offset=".642" stop-color="#86ffb2"/><stop offset=".735" stop-color="#47ffd8"/><stop offset=".882" stop-color="#2ffff0"/><stop offset=".975" stop-color="#22fff8"/></linearGradient>
<linearGradient id="gc68"><stop offset=".025" stop-color="#ff2f00"/><stop offset=".128" stop-color="#ff3700"/><stop offset=".216" stop-color="#ff5800"/><stop offset=".287" stop-color="#ff8a00"/><stop offset=".402" stop-color="#fff700"/><stop offset=".413" stop-color="#ffff01"/><stop offset=".418" stop-color="#fbff16"/><stop offset=".440" stop-color="#eeff37"/><stop offset=".511" stop-color="#cbff69"/><stop offset=".648" stop-color="#85ffb3"/><stop offset=".740" stop-color="#47ffd8"/><stop offset=".893" stop-color="#2ffff0"/><stop offset=".975" stop-color="#23fff7"/></linearGradient>
<linearGradient id="gc69"><stop offset=".025" stop-color="#ff3200"/><stop offset=".128" stop-color="#ff3900"/><stop offset=".216" stop-color="#ff5900"/><stop offset=".287" stop-color="#ff8b00"/><stop offset=".402" stop-color="#fff800"/><stop offset=".413" stop-color="#feff04"/><stop offset=".418" stop-color="#fbff17"/><stop offset=".440" stop-color="#edff37"/><stop offset=".511" stop-color="#ccff68"/><stop offset=".648" stop-color="#88ffb1"/><stop offset=".740" stop-color="#49ffd6"/><stop offset=".893" stop-color="#30fff0"/><stop offset=".975" stop-color="#24fff7"/></linearGradient>
<linearGradient id="gc70"><stop offset=".025" stop-color="#ff3400"/><stop offset=".134" stop-color="#ff3d00"/><stop offset=".221" stop-color="#ff5d00"/><stop offset=".287" stop-color="#ff8b00"/><stop offset=".407" stop-color="#fffc00"/><stop offset=".413" stop-color="#feff05"/><stop offset=".418" stop-color="#fbff17"/><stop offset=".440" stop-color="#eeff36"/><stop offset=".511" stop-color="#ccff68"/><stop offset=".648" stop-color="#8bffae"/><stop offset=".740" stop-color="#4effd5"/><stop offset=".784" stop-color="#42ffdf"/><stop offset=".975" stop-color="#25fff7"/></linearGradient>
<clipPath id="cpc"><rect x="120.8" y="416" width="349.2" height="250"/></clipPath>
<linearGradient id="gd0"><stop offset=".025" stop-color="#ff7300"/><stop offset=".261" stop-color="#ff7500"/><stop offset=".305" stop-color="#ff8800"/><stop offset=".365" stop-color="#ffc700"/><stop offset=".387" stop-color="#ffed00"/><stop offset=".393" stop-color="#fffa00"/><stop offset=".398" stop-color="#f2ff2e"/><stop offset=".415" stop-color="#a6ff94"/><stop offset=".420" stop-color="#85ffb3"/><stop offset=".426" stop-color="#5affd0"/><stop offset=".431" stop-color="#37ffea"/><stop offset=".437" stop-color="#07feff"/><stop offset=".442" stop-color="#32e4ff"/><stop offset=".448" stop-color="#3fcbff"/><stop offset=".459" stop-color="#459dff"/><stop offset=".481" stop-color="#3657fd"/><stop offset=".508" stop-color="#1212fa"/><stop offset=".640" stop-color="#1212fa"/><stop offset=".662" stop-color="#1e2afc"/><stop offset=".717" stop-color="#417afe"/><stop offset=".766" stop-color="#43baff"/><stop offset=".810" stop-color="#3cd2ff"/><stop offset=".953" stop-color="#20f4ff"/><stop offset=".975" stop-color="#1bf7ff"/></linearGradient>
<linearGradient id="gd1"><stop offset=".025" stop-color="#ff7100"/><stop offset=".261" stop-color="#ff6c00"/><stop offset=".305" stop-color="#ff7e00"/><stop offset=".360" stop-color="#ffb400"/><stop offset=".382" stop-color="#ffd600"/><stop offset=".393" stop-color="#fff100"/><stop offset=".398" stop-color="#fbff14"/><stop offset=".404" stop-color="#e6ff43"/><stop offset=".420" stop-color="#96ffa4"/><stop offset=".426" stop-color="#72ffc2"/><stop offset=".431" stop-color="#44ffdc"/><stop offset=".437" stop-color="#2afff4"/><stop offset=".442" stop-color="#22f3ff"/><stop offset=".448" stop-color="#38daff"/><stop offset=".459" stop-color="#45acff"/><stop offset=".481" stop-color="#3a63fd"/><stop offset=".514" stop-color="#1114fa"/><stop offset=".640" stop-color="#1115fa"/><stop offset=".690" stop-color="#3555fd"/><stop offset=".734" stop-color="#4599ff"/><stop offset=".772" stop-color="#41c6ff"/><stop offset=".821" stop-color="#37ddff"/><stop offset=".926" stop-color="#1ff5ff"/><stop offset=".975" stop-color="#07feff"/></linearGradient>
<linearGradient id="gd2"><stop offset=".025" stop-color="#ff7000"/><stop offset=".266" stop-color="#ff6500"/><stop offset=".310" stop-color="#ff7700"/><stop offset=".360" stop-color="#ffa800"/><stop offset=".382" stop-color="#ffcd00"/><stop offset=".398" stop-color="#fff900"/><stop offset=".404" stop-color="#f1ff30"/><stop offset=".415" stop-color="#c2ff75"/><stop offset=".426" stop-color="#87ffb1"/><stop offset=".442" stop-color="#1afffb"/><stop offset=".453" stop-color="#3cd4ff"/><stop offset=".464" stop-color="#45a8ff"/><stop offset=".486" stop-color="#3a62fd"/><stop offset=".519" stop-color="#1319fb"/><stop offset=".525" stop-color="#1212fa"/><stop offset=".635" stop-color="#1114fa"/><stop offset=".684" stop-color="#3452fd"/><stop offset=".728" stop-color="#4599ff"/><stop offset=".766" stop-color="#40c8ff"/><stop offset=".810" stop-color="#35e0ff"/><stop offset=".904" stop-color="#1df6ff"/><stop offset=".942" stop-color="#01ffff"/><stop offset=".959" stop-color="#12fffd"/><stop offset=".975" stop-color="#19fffb"/></linearGradient>
<linearGradient id="gd3"><stop offset=".025" stop-color="#ff6e00"/><stop offset=".266" stop-color="#ff5d00"/><stop offset=".310" stop-color="#ff6e00"/><stop offset=".354" stop-color="#ff9600"/><stop offset=".382" stop-color="#ffc300"/><stop offset=".398" stop-color="#ffef00"/><stop offset=".404" stop-color="#fcff10"/><stop offset=".409" stop-color="#e7ff42"/><stop offset=".426" stop-color="#9bff9f"/><stop offset=".431" stop-color="#7bffbb"/><stop offset=".437" stop-color="#4effd5"/><stop offset=".442" stop-color="#35ffec"/><stop offset=".448" stop-color="#04feff"/><stop offset=".453" stop-color="#30e6ff"/><stop offset=".459" stop-color="#3dcfff"/><stop offset=".475" stop-color="#4593ff"/><stop offset=".497" stop-color="#3555fd"/><stop offset=".530" stop-color="#1114fa"/><stop offset=".629" stop-color="#1212fa"/><stop offset=".679" stop-color="#3351fd"/><stop offset=".723" stop-color="#4599ff"/><stop offset=".761" stop-color="#3fcbff"/><stop offset=".799" stop-color="#32e4ff"/><stop offset=".887" stop-color="#19f9ff"/><stop offset=".915" stop-color="#04ffff"/><stop offset=".931" stop-color="#16fffc"/><stop offset=".975" stop-color="#25fff6"/></linearGradient>
<linearGradient id="gd4"><stop offset=".025" stop-color="#ff6e00"/><stop offset=".266" stop-color="#ff5600"/><stop offset=".316" stop-color="#ff6800"/><stop offset=".354" stop-color="#ff8b00"/><stop offset=".382" stop-color="#ffb900"/><stop offset=".404" stop-color="#fff600"/><stop offset=".409" stop-color="#f5ff27"/><stop offset=".415" stop-color="#dfff4e"/><stop offset=".431" stop-color="#92ffa8"/><stop offset=".437" stop-color="#71ffc3"/><stop offset=".442" stop-color="#45ffdb"/><stop offset=".448" stop-color="#2ffff1"/><stop offset=".453" stop-color="#18f9ff"/><stop offset=".459" stop-color="#34e2ff"/><stop offset=".470" stop-color="#44b7ff"/><stop offset=".492" stop-color="#3e70fe"/><stop offset=".519" stop-color="#2433fc"/><stop offset=".536" stop-color="#1217fb"/><stop offset=".552" stop-color="#1212fa"/><stop offset=".624" stop-color="#1212fa"/><stop offset=".640" stop-color="#1a24fb"/><stop offset=".690" stop-color="#3d6afe"/><stop offset=".728" stop-color="#45aaff"/><stop offset=".766" stop-color="#39d8ff"/><stop offset=".810" stop-color="#28eeff"/><stop offset=".871" stop-color="#13fbff"/><stop offset=".887" stop-color="#01ffff"/><stop offset=".904" stop-color="#16fffc"/><stop offset=".959" stop-color="#2bfff3"/><stop offset=".975" stop-color="#2efff1"/></linearGradient>
<linearGradient id="gd5"><stop offset=".025" stop-color="#ff6d00"/><stop offset=".272" stop-color="#ff5000"/><stop offset=".316" stop-color="#ff5f00"/><stop offset=".354" stop-color="#ff8100"/><stop offset=".382" stop-color="#ffae00"/><stop offset=".404" stop-color="#ffe800"/><stop offset=".409" stop-color="#fffa00"/><stop offset=".415" stop-color="#efff34"/><stop offset=".426" stop-color="#c1ff76"/><stop offset=".437" stop-color="#8affaf"/><stop offset=".448" stop-color="#40ffe1"/><stop offset=".453" stop-color="#27fff6"/><stop offset=".459" stop-color="#22f4ff"/><stop offset=".464" stop-color="#37ddff"/><stop offset=".475" stop-color="#44b3ff"/><stop offset=".497" stop-color="#3e6efe"/><stop offset=".525" stop-color="#2332fc"/><stop offset=".541" stop-color="#1217fb"/><stop offset=".552" stop-color="#1212fa"/><stop offset=".624" stop-color="#1114fa"/><stop offset=".684" stop-color="#3d6afe"/><stop offset=".723" stop-color="#45acff"/><stop offset=".761" stop-color="#37dcff"/><stop offset=".805" stop-color="#21f4ff"/><stop offset=".854" stop-color="#09fdff"/><stop offset=".860" stop-color="#02ffff"/><stop offset=".887" stop-color="#1cfffa"/><stop offset=".959" stop-color="#33ffee"/><stop offset=".975" stop-color="#35ffec"/></linearGradient>
<linearGradient id="gd6"><stop offset=".025" stop-color="#ff6d00"/><stop offset=".272" stop-color="#ff4900"/><stop offset=".316" stop-color="#ff5700"/><stop offset=".354" stop-color="#ff7800"/><stop offset=".382" stop-color="#ffa300"/><stop offset=".404" stop-color="#ffda00"/><stop offset=".415" stop-color="#fffe00"/><stop offset=".420" stop-color="#eaff3d"/><stop offset=".437" stop-color="#9fff9b"/><stop offset=".442" stop-color="#80ffb7"/><stop offset=".448" stop-color="#5affd0"/><stop offset=".459" stop-color="#1afffb"/><stop offset=".470" stop-color="#3ad7ff"/><stop offset=".481" stop-color="#45aeff"/><stop offset=".503" stop-color="#3d6bfe"/><stop offset=".530" stop-color="#2230fc"/><stop offset=".547" stop-color="#1114fa"/><stop offset=".618" stop-color="#1212fa"/><stop offset=".684" stop-color="#4075fe"/><stop offset=".723" stop-color="#44b8ff"/><stop offset=".756" stop-color="#34e1ff"/><stop offset=".799" stop-color="#15faff"/><stop offset=".821" stop-color="#01ffff"/><stop offset=".838" stop-color="#11fffd"/><stop offset=".920" stop-color="#32ffef"/><stop offset=".975" stop-color="#3affe7"/></linearGradient>
<linearGradient id="gd7"><stop offset=".025" stop-color="#ff6d00"/><stop offset=".277" stop-color="#ff4300"/><stop offset=".321" stop-color="#ff5200"/><stop offset=".360" stop-color="#ff7600"/><stop offset=".387" stop-color="#ffa300"/><stop offset=".409" stop-color="#ffdc00"/><stop offset=".415" stop-color="#ffef00"/><stop offset=".420" stop-color="#fbff15"/><stop offset=".426" stop-color="#e4ff47"/><stop offset=".442" stop-color="#96ffa4"/><stop offset=".448" stop-color="#75ffbf"/><stop offset=".453" stop-color="#47ffd8"/><stop offset=".459" stop-color="#33ffee"/><stop offset=".464" stop-color="#0afdff"/><stop offset=".470" stop-color="#30e6ff"/><stop offset=".481" stop-color="#43bcff"/><stop offset=".497" stop-color="#4385fe"/><stop offset=".525" stop-color="#2b41fc"/><stop offset=".552" stop-color="#1212fa"/><stop offset=".613" stop-color="#1212fa"/><stop offset=".673" stop-color="#3e6ffe"/><stop offset=".712" stop-color="#44b3ff"/><stop offset=".745" stop-color="#34e2ff"/><stop offset=".783" stop-color="#0dfcff"/><stop offset=".788" stop-color="#03feff"/><stop offset=".805" stop-color="#16fffc"/><stop offset=".931" stop-color="#3affe8"/><stop offset=".975" stop-color="#3fffe2"/></linearGradient>
<linearGradient id="gd8"><stop offset=".025" stop-color="#ff6c00"/><stop offset=".277" stop-color="#ff3e00"/><stop offset=".321" stop-color="#ff4c00"/><stop offset=".360" stop-color="#ff6e00"/><stop offset=".393" stop-color="#ffa300"/><stop offset=".409" stop-color="#ffcd00"/><stop offset=".420" stop-color="#fff300"/><stop offset=".426" stop-color="#f4ff29"/><stop offset=".431" stop-color="#dcff53"/><stop offset=".448" stop-color="#8affaf"/><stop offset=".459" stop-color="#41ffe0"/><stop offset=".464" stop-color="#28fff5"/><stop offset=".470" stop-color="#20f5ff"/><stop offset=".475" stop-color="#36dfff"/><stop offset=".486" stop-color="#44b5ff"/><stop offset=".508" stop-color="#3e70fe"/><stop offset=".536" stop-color="#2433fc"/><stop offset=".558" stop-color="#1116fa"/><stop offset=".585" stop-color="#1212fa"/><stop offset=".602" stop-color="#1212fa"/><stop offset=".624" stop-color="#202cfc"/><stop offset=".673" stop-color="#427efe"/><stop offset=".706" stop-color="#43b8ff"/><stop offset=".739" stop-color="#2ee9ff"/><stop offset=".761" stop-color="#12fbff"/><stop offset=".766" stop-color="#05feff"/><stop offset=".783" stop-color="#1bfffa"/><stop offset=".838" stop-color="#2efff1"/><stop offset=".975" stop-color="#43ffdd"/></linearGradient>
<linearGradient id="gd9"><stop offset=".025" stop-color="#ff6c00"/><stop offset=".283" stop-color="#ff3900"/><stop offset=".327" stop-color="#ff4900"/><stop offset=".365" stop-color="#ff6e00"/><stop offset=".393" stop-color="#ff9900"/><stop offset=".409" stop-color="#ffc000"/><stop offset=".426" stop-color="#fffc00"/><stop offset=".431" stop-color="#eaff3e"/><stop offset=".442" stop-color="#b7ff82"/><stop offset=".453" stop-color="#7dffba"/><stop offset=".459" stop-color="#54ffd3"/><stop offset=".464" stop-color="#39ffe9"/><stop offset=".470" stop-color="#16fffc"/><stop offset=".481" stop-color="#3ad7ff"/><stop offset=".492" stop-color="#45afff"/><stop offset=".514" stop-color="#3d6cfe"/><stop offset=".536" stop-color="#2a3dfc"/><stop offset=".563" stop-color="#1a23fb"/><stop offset=".596" stop-color="#1821fb"/><stop offset=".624" stop-color="#2739fc"/><stop offset=".668" stop-color="#4384fe"/><stop offset=".701" stop-color="#42beff"/><stop offset=".728" stop-color="#2ee9ff"/><stop offset=".745" stop-color="#13fbff"/><stop offset=".750" stop-color="#00ffff"/><stop offset=".756" stop-color="#15fffc"/><stop offset=".777" stop-color="#28fff5"/><stop offset=".942" stop-color="#45ffdc"/><stop offset=".975" stop-color="#47ffd8"/></linearGradient>
<linearGradient id="gd10"><stop offset=".025" stop-color="#ff6c00"/><stop offset=".283" stop-color="#ff3500"/><stop offset=".321" stop-color="#ff4000"/><stop offset=".365" stop-color="#ff6700"/><stop offset=".393" stop-color="#ff9100"/><stop offset=".409" stop-color="#ffb700"/><stop offset=".426" stop-color="#fff200"/><stop offset=".431" stop-color="#f6ff26"/><stop offset=".437" stop-color="#deff51"/><stop offset=".453" stop-color="#8effab"/><stop offset=".459" stop-color="#6effc5"/><stop offset=".464" stop-color="#44ffdc"/><stop offset=".470" stop-color="#2ffff0"/><stop offset=".475" stop-color="#12fbff"/><stop offset=".481" stop-color="#31e5ff"/><stop offset=".492" stop-color="#43bdff"/><stop offset=".514" stop-color="#4179fe"/><stop offset=".530" stop-color="#3453fd"/><stop offset=".552" stop-color="#293cfc"/><stop offset=".591" stop-color="#2433fc"/><stop offset=".618" stop-color="#2c41fc"/><stop offset=".651" stop-color="#4076fe"/><stop offset=".684" stop-color="#44b3ff"/><stop offset=".712" stop-color="#35e0ff"/><stop offset=".728" stop-color="#1ef6ff"/><stop offset=".734" stop-color="#0efcff"/><stop offset=".739" stop-color="#12fffd"/><stop offset=".750" stop-color="#25fff6"/><stop offset=".788" stop-color="#36ffeb"/><stop offset=".975" stop-color="#50ffd4"/></linearGradient>
<linearGradient id="gd11"><stop offset=".025" stop-color="#ff6b00"/><stop offset=".239" stop-color="#ff3b00"/><stop offset=".294" stop-color="#ff3200"/><stop offset=".332" stop-color="#ff4300"/><stop offset=".376" stop-color="#ff7000"/><stop offset=".398" stop-color="#ff9700"/><stop offset=".415" stop-color="#ffc300"/><stop offset=".431" stop-color="#fffe00"/><stop offset=".437" stop-color="#e9ff3f"/><stop offset=".448" stop-color="#b8ff80"/><stop offset=".459" stop-color="#81ffb6"/><stop offset=".470" stop-color="#3effe4"/><stop offset=".475" stop-color="#25fff6"/><stop offset=".481" stop-color="#20f5ff"/><stop offset=".486" stop-color="#35e0ff"/><stop offset=".497" stop-color="#43baff"/><stop offset=".519" stop-color="#417cfe"/><stop offset=".536" stop-color="#395efd"/><stop offset=".563" stop-color="#314bfd"/><stop offset=".607" stop-color="#314cfd"/><stop offset=".624" stop-color="#3759fd"/><stop offset=".662" stop-color="#459dff"/><stop offset=".695" stop-color="#3ad7ff"/><stop offset=".717" stop-color="#1df6ff"/><stop offset=".723" stop-color="#0cfdff"/><stop offset=".739" stop-color="#2afff4"/><stop offset=".772" stop-color="#3bffe7"/><stop offset=".909" stop-color="#4dffd5"/><stop offset=".975" stop-color="#5affd0"/></linearGradient>
<linearGradient id="gd12"><stop offset=".025" stop-color="#ff6a00"/><stop offset=".239" stop-color="#ff3a00"/><stop offset=".294" stop-color="#ff2f00"/><stop offset=".332" stop-color="#ff3f00"/><stop offset=".376" stop-color="#ff6b00"/><stop offset=".398" stop-color="#ff9200"/><stop offset=".420" stop-color="#ffd000"/><stop offset=".431" stop-color="#fff600"/><stop offset=".437" stop-color="#f2ff2d"/><stop offset=".442" stop-color="#dcff53"/><stop offset=".459" stop-color="#92ffa8"/><stop offset=".464" stop-color="#75ffc0"/><stop offset=".470" stop-color="#4affd6"/><stop offset=".475" stop-color="#38ffe9"/><stop offset=".481" stop-color="#1bfffb"/><stop offset=".492" stop-color="#36ddff"/><stop offset=".508" stop-color="#45abff"/><stop offset=".530" stop-color="#417cfe"/><stop offset=".552" stop-color="#3c67fe"/><stop offset=".596" stop-color="#3a61fd"/><stop offset=".624" stop-color="#3e70fe"/><stop offset=".662" stop-color="#44b2ff"/><stop offset=".690" stop-color="#34e1ff"/><stop offset=".706" stop-color="#1bf8ff"/><stop offset=".712" stop-color="#05feff"/><stop offset=".717" stop-color="#1afffb"/><stop offset=".734" stop-color="#32ffee"/><stop offset=".772" stop-color="#42ffdf"/><stop offset=".854" stop-color="#4effd5"/><stop offset=".953" stop-color="#60ffcd"/><stop offset=".975" stop-color="#61ffcc"/></linearGradient>
<linearGradient id="gd13"><stop offset=".025" stop-color="#ff6900"/><stop offset=".234" stop-color="#ff3c00"/><stop offset=".294" stop-color="#ff2c00"/><stop offset=".332" stop-color="#ff3c00"/><stop offset=".376" stop-color="#ff6700"/><stop offset=".398" stop-color="#ff8e00"/><stop offset=".420" stop-color="#ffca00"/><stop offset=".431" stop-color="#ffef00"/><stop offset=".437" stop-color="#fcff13"/><stop offset=".442" stop-color="#e6ff43"/><stop offset=".459" stop-color="#a2ff99"/><stop offset=".470" stop-color="#6affc7"/><stop offset=".475" stop-color="#45ffdb"/><stop offset=".481" stop-color="#33ffed"/><stop offset=".486" stop-color="#12fffd"/><stop offset=".497" stop-color="#36deff"/><stop offset=".514" stop-color="#44b2ff"/><stop offset=".536" stop-color="#448dff"/><stop offset=".563" stop-color="#417cfe"/><stop offset=".607" stop-color="#427efe"/><stop offset=".635" stop-color="#4599ff"/><stop offset=".668" stop-color="#3dd1ff"/><stop offset=".690" stop-color="#22f3ff"/><stop offset=".695" stop-color="#14fbff"/><stop offset=".701" stop-color="#0ffffd"/><stop offset=".706" stop-color="#20fff9"/><stop offset=".728" stop-color="#3affe8"/><stop offset=".772" stop-color="#48ffd7"/><stop offset=".893" stop-color="#64ffcb"/><stop offset=".975" stop-color="#67ffc9"/></linearGradient>
<linearGradient id="gd14"><stop offset=".025" stop-color="#ff6900"/><stop offset=".234" stop-color="#ff3c00"/><stop offset=".299" stop-color="#ff2a00"/><stop offset=".332" stop-color="#ff3800"/><stop offset=".376" stop-color="#ff6200"/><stop offset=".404" stop-color="#ff9700"/><stop offset=".431" stop-color="#ffe700"/><stop offset=".437" stop-color="#fffa00"/><stop offset=".442" stop-color="#f0ff31"/><stop offset=".453" stop-color="#c6ff6f"/><stop offset=".470" stop-color="#80ffb7"/><stop offset=".481" stop-color="#42ffde"/><stop offset=".486" stop-color="#32ffef"/><stop offset=".492" stop-color="#13fffd"/><stop offset=".503" stop-color="#33e2ff"/><stop offset=".519" stop-color="#42beff"/><stop offset=".541" stop-color="#45a2ff"/><stop offset=".574" stop-color="#4595ff"/><stop offset=".613" stop-color="#459dff"/><stop offset=".640" stop-color="#43baff"/><stop offset=".662" stop-color="#37ddff"/><stop offset=".679" stop-color="#1bf8ff"/><stop offset=".684" stop-color="#01ffff"/><stop offset=".690" stop-color="#1cfffa"/><stop offset=".706" stop-color="#35ffec"/><stop offset=".745" stop-color="#4dffd5"/><stop offset=".772" stop-color="#5effce"/><stop offset=".909" stop-color="#6dffc5"/><stop offset=".975" stop-color="#6cffc6"/></linearGradient>
<linearGradient id="gd15"><stop offset=".025" stop-color="#ff6800"/><stop offset=".234" stop-color="#ff3c00"/><stop offset=".299" stop-color="#ff2700"/><stop offset=".332" stop-color="#ff3200"/><stop offset=".376" stop-color="#ff5c00"/><stop offset=".404" stop-color="#ff9100"/><stop offset=".437" stop-color="#fff100"/><stop offset=".442" stop-color="#faff18"/><stop offset=".448" stop-color="#e7ff42"/><stop offset=".464" stop-color="#a9ff91"/><stop offset=".481" stop-color="#5effce"/><stop offset=".486" stop-color="#42ffde"/><stop offset=".492" stop-color="#34ffed"/><stop offset=".497" stop-color="#1dfffa"/><stop offset=".503" stop-color="#1bf8ff"/><stop offset=".508" stop-color="#2cebff"/><stop offset=".525" stop-color="#3eceff"/><stop offset=".552" stop-color="#44b7ff"/><stop offset=".596" stop-color="#44b3ff"/><stop offset=".629" stop-color="#40c6ff"/><stop offset=".657" stop-color="#2deaff"/><stop offset=".668" stop-color="#15faff"/><stop offset=".673" stop-color="#12fffd"/><stop offset=".679" stop-color="#24fff7"/><stop offset=".701" stop-color="#3effe4"/><stop offset=".723" stop-color="#4cffd5"/><stop offset=".745" stop-color="#63ffcb"/><stop offset=".794" stop-color="#6fffc4"/><stop offset=".909" stop-color="#75ffc0"/><stop offset=".975" stop-color="#71ffc2"/></linearGradient>
<linearGradient id="gd16"><stop offset=".025" stop-color="#ff6700"/><stop offset=".234" stop-color="#ff3d00"/><stop offset=".305" stop-color="#ff2300"/><stop offset=".338" stop-color="#ff3000"/><stop offset=".376" stop-color="#ff5500"/><stop offset=".404" stop-color="#ff8a00"/><stop offset=".442" stop-color="#fffa00"/><stop offset=".448" stop-color="#f2ff2f"/><stop offset=".459" stop-color="#ccff69"/><stop offset=".481" stop-color="#7affbc"/><stop offset=".492" stop-color="#45ffdb"/><stop offset=".503" stop-color="#2afff4"/><stop offset=".508" stop-color="#11fffd"/><stop offset=".525" stop-color="#2fe8ff"/><stop offset=".558" stop-color="#3cd2ff"/><stop offset=".607" stop-color="#3cd2ff"/><stop offset=".640" stop-color="#2cebff"/><stop offset=".651" stop-color="#1af8ff"/><stop offset=".657" stop-color="#02ffff"/><stop offset=".662" stop-color="#1dfffa"/><stop offset=".679" stop-color="#38ffea"/><stop offset=".701" stop-color="#48ffd7"/><stop offset=".723" stop-color="#65ffca"/><stop offset=".761" stop-color="#77ffbe"/><stop offset=".898" stop-color="#7cffba"/><stop offset=".975" stop-color="#75ffbf"/></linearGradient>
<linearGradient id="gd17"><stop offset=".025" stop-color="#ff6600"/><stop offset=".234" stop-color="#ff3e00"/><stop offset=".310" stop-color="#ff1f00"/><stop offset=".343" stop-color="#ff2c00"/><stop offset=".376" stop-color="#ff4e00"/><stop offset=".404" stop-color="#ff8300"/><stop offset=".442" stop-color="#fff100"/><stop offset=".448" stop-color="#fcff0f"/><stop offset=".453" stop-color="#ebff3c"/><stop offset=".470" stop-color="#b5ff84"/><stop offset=".492" stop-color="#69ffc8"/><stop offset=".497" stop-color="#4effd5"/><stop offset=".519" stop-color="#23fff7"/><stop offset=".530" stop-color="#09fdff"/><stop offset=".536" stop-color="#17f9ff"/><stop offset=".558" stop-color="#28efff"/><stop offset=".607" stop-color="#2aedff"/><stop offset=".629" stop-color="#19f8ff"/><stop offset=".635" stop-color="#0dfdff"/><stop offset=".640" stop-color="#10fffd"/><stop offset=".651" stop-color="#29fff5"/><stop offset=".679" stop-color="#45ffdc"/><stop offset=".684" stop-color="#48ffd7"/><stop offset=".701" stop-color="#64ffcb"/><stop offset=".739" stop-color="#7effb9"/><stop offset=".832" stop-color="#85ffb3"/><stop offset=".975" stop-color="#79ffbc"/></linearGradient>
<linearGradient id="gd18"><stop offset=".025" stop-color="#ff6600"/><stop offset=".234" stop-color="#ff3e00"/><stop offset=".316" stop-color="#ff1a00"/><stop offset=".349" stop-color="#ff2800"/><stop offset=".382" stop-color="#ff4f00"/><stop offset=".404" stop-color="#ff7c00"/><stop offset=".448" stop-color="#fff800"/><stop offset=".453" stop-color="#f6ff25"/><stop offset=".459" stop-color="#e5ff45"/><stop offset=".475" stop-color="#b5ff84"/><stop offset=".497" stop-color="#76ffbf"/><stop offset=".514" stop-color="#45ffdb"/><stop offset=".541" stop-color="#2efff1"/><stop offset=".580" stop-color="#1efffa"/><stop offset=".613" stop-color="#20fff9"/><stop offset=".657" stop-color="#41ffe0"/><stop offset=".668" stop-color="#49ffd6"/><stop offset=".684" stop-color="#67ffc9"/><stop offset=".717" stop-color="#81ffb6"/><stop offset=".772" stop-color="#8dffac"/><stop offset=".915" stop-color="#85ffb3"/><stop offset=".975" stop-color="#7dffba"/></linearGradient>
<linearGradient id="gd19"><stop offset=".025" stop-color="#ff6500"/><stop offset=".234" stop-color="#ff3f00"/><stop offset=".294" stop-color="#ff1f00"/><stop offset=".321" stop-color="#ff1400"/><stop offset=".349" stop-color="#ff2200"/><stop offset=".382" stop-color="#ff4900"/><stop offset=".404" stop-color="#ff7500"/><stop offset=".453" stop-color="#fffd00"/><stop offset=".459" stop-color="#f2ff2f"/><stop offset=".470" stop-color="#d4ff5e"/><stop offset=".492" stop-color="#9eff9d"/><stop offset=".514" stop-color="#6effc5"/><stop offset=".530" stop-color="#4cffd5"/><stop offset=".580" stop-color="#3bffe7"/><stop offset=".624" stop-color="#3effe3"/><stop offset=".646" stop-color="#48ffd7"/><stop offset=".673" stop-color="#70ffc3"/><stop offset=".712" stop-color="#8cffad"/><stop offset=".772" stop-color="#96ffa4"/><stop offset=".926" stop-color="#88ffb0"/><stop offset=".975" stop-color="#81ffb7"/></linearGradient>
<linearGradient id="gd20"><stop offset=".025" stop-color="#ff6500"/><stop offset=".228" stop-color="#ff4100"/><stop offset=".283" stop-color="#ff2600"/><stop offset=".316" stop-color="#ff1400"/><stop offset=".343" stop-color="#ff1900"/><stop offset=".376" stop-color="#ff3d00"/><stop offset=".404" stop-color="#ff7200"/><stop offset=".453" stop-color="#fff300"/><stop offset=".459" stop-color="#fdff09"/><stop offset=".464" stop-color="#f0ff33"/><stop offset=".475" stop-color="#d5ff5c"/><stop offset=".497" stop-color="#a7ff93"/><stop offset=".525" stop-color="#7bffbb"/><stop offset=".569" stop-color="#53ffd3"/><stop offset=".596" stop-color="#49ffd6"/><stop offset=".624" stop-color="#57ffd1"/><stop offset=".690" stop-color="#8effab"/><stop offset=".745" stop-color="#9eff9d"/><stop offset=".915" stop-color="#8fffab"/><stop offset=".975" stop-color="#85ffb3"/></linearGradient>
<linearGradient id="gd21"><stop offset=".025" stop-color="#ff6400"/><stop offset=".223" stop-color="#ff4200"/><stop offset=".283" stop-color="#ff2600"/><stop offset=".310" stop-color="#ff1400"/><stop offset=".343" stop-color="#ff1800"/><stop offset=".376" stop-color="#ff3c00"/><stop offset=".404" stop-color="#ff7000"/><stop offset=".459" stop-color="#fff600"/><stop offset=".464" stop-color="#fbff14"/><stop offset=".470" stop-color="#efff34"/><stop offset=".486" stop-color="#cdff67"/><stop offset=".514" stop-color="#a0ff9a"/><stop offset=".547" stop-color="#7fffb8"/><stop offset=".585" stop-color="#6dffc5"/><stop offset=".624" stop-color="#74ffc0"/><stop offset=".701" stop-color="#9fff9b"/><stop offset=".772" stop-color="#a5ff95"/><stop offset=".975" stop-color="#89ffb0"/></linearGradient>
<linearGradient id="gd22"><stop offset=".025" stop-color="#ff6400"/><stop offset=".217" stop-color="#ff4400"/><stop offset=".283" stop-color="#ff2600"/><stop offset=".321" stop-color="#ff1400"/><stop offset=".349" stop-color="#ff1e00"/><stop offset=".382" stop-color="#ff4500"/><stop offset=".415" stop-color="#ff8700"/><stop offset=".464" stop-color="#fff900"/><stop offset=".475" stop-color="#efff34"/><stop offset=".492" stop-color="#d2ff61"/><stop offset=".519" stop-color="#abff8f"/><stop offset=".558" stop-color="#8dffad"/><stop offset=".596" stop-color="#82ffb5"/><stop offset=".662" stop-color="#9cff9f"/><stop offset=".723" stop-color="#adff8d"/><stop offset=".893" stop-color="#9cff9e"/><stop offset=".975" stop-color="#8effac"/></linearGradient>
<linearGradient id="gd23"><stop offset=".025" stop-color="#ff6400"/><stop offset=".206" stop-color="#ff4600"/><stop offset=".283" stop-color="#ff2800"/><stop offset=".321" stop-color="#ff1a00"/><stop offset=".354" stop-color="#ff2600"/><stop offset=".382" stop-color="#ff4500"/><stop offset=".415" stop-color="#ff8500"/><stop offset=".464" stop-color="#fff200"/><stop offset=".470" stop-color="#fffc00"/><stop offset=".475" stop-color="#f8ff1f"/><stop offset=".486" stop-color="#e6ff44"/><stop offset=".508" stop-color="#c6ff6f"/><stop offset=".541" stop-color="#a7ff93"/><stop offset=".585" stop-color="#94ffa6"/><stop offset=".651" stop-color="#a5ff96"/><stop offset=".717" stop-color="#b4ff85"/><stop offset=".920" stop-color="#9bff9f"/><stop offset=".975" stop-color="#92ffa7"/></linearGradient>
<linearGradient id="gd24"><stop offset=".025" stop-color="#ff6300"/><stop offset=".195" stop-color="#ff4900"/><stop offset=".288" stop-color="#ff2800"/><stop offset=".327" stop-color="#ff2000"/><stop offset=".360" stop-color="#ff2e00"/><stop offset=".387" stop-color="#ff4e00"/><stop offset=".426" stop-color="#ff9c00"/><stop offset=".470" stop-color="#fff700"/><stop offset=".475" stop-color="#ffff02"/><stop offset=".481" stop-color="#f6ff25"/><stop offset=".497" stop-color="#deff4f"/><stop offset=".525" stop-color="#c0ff77"/><stop offset=".569" stop-color="#a8ff92"/><stop offset=".607" stop-color="#a6ff94"/><stop offset=".712" stop-color="#bbff7d"/><stop offset=".975" stop-color="#97ffa3"/></linearGradient>
<linearGradient id="gd25"><stop offset=".025" stop-color="#ff6300"/><stop offset=".184" stop-color="#ff4b00"/><stop offset=".316" stop-color="#ff2500"/><stop offset=".360" stop-color="#ff3100"/><stop offset=".387" stop-color="#ff4e00"/><stop offset=".426" stop-color="#ff9a00"/><stop offset=".464" stop-color="#ffeb00"/><stop offset=".475" stop-color="#fffc00"/><stop offset=".486" stop-color="#f2ff2e"/><stop offset=".508" stop-color="#d8ff58"/><stop offset=".541" stop-color="#c0ff77"/><stop offset=".591" stop-color="#b3ff86"/><stop offset=".712" stop-color="#c2ff75"/><stop offset=".975" stop-color="#9cff9e"/></linearGradient>
<linearGradient id="gd26"><stop offset=".025" stop-color="#ff6200"/><stop offset=".168" stop-color="#ff4e00"/><stop offset=".316" stop-color="#ff2900"/><stop offset=".365" stop-color="#ff3600"/><stop offset=".393" stop-color="#ff5600"/><stop offset=".464" stop-color="#ffea00"/><stop offset=".475" stop-color="#fffb00"/><stop offset=".486" stop-color="#f4ff2a"/><stop offset=".503" stop-color="#e2ff4a"/><stop offset=".536" stop-color="#ccff68"/><stop offset=".591" stop-color="#c2ff75"/><stop offset=".717" stop-color="#c7ff6f"/><stop offset=".975" stop-color="#a1ff9a"/></linearGradient>
<linearGradient id="gd27"><stop offset=".025" stop-color="#ff6200"/><stop offset=".157" stop-color="#ff4f00"/><stop offset=".316" stop-color="#ff2c00"/><stop offset=".371" stop-color="#ff3a00"/><stop offset=".393" stop-color="#ff5400"/><stop offset=".437" stop-color="#ffb200"/><stop offset=".470" stop-color="#fff400"/><stop offset=".475" stop-color="#fffc00"/><stop offset=".486" stop-color="#f4ff29"/><stop offset=".503" stop-color="#e5ff46"/><stop offset=".536" stop-color="#d4ff5e"/><stop offset=".629" stop-color="#ceff65"/><stop offset=".728" stop-color="#cbff6a"/><stop offset=".975" stop-color="#a5ff95"/></linearGradient>
<linearGradient id="gd28"><stop offset=".025" stop-color="#ff6200"/><stop offset=".151" stop-color="#ff5000"/><stop offset=".316" stop-color="#ff2e00"/><stop offset=".371" stop-color="#ff3900"/><stop offset=".393" stop-color="#ff5200"/><stop offset=".464" stop-color="#ffed00"/><stop offset=".475" stop-color="#fffe00"/><stop offset=".481" stop-color="#faff1a"/><stop offset=".492" stop-color="#efff34"/><stop offset=".519" stop-color="#deff4f"/><stop offset=".563" stop-color="#d9ff57"/><stop offset=".690" stop-color="#d4ff5e"/><stop offset=".970" stop-color="#aaff8f"/><stop offset=".975" stop-color="#aaff90"/></linearGradient>
<linearGradient id="gd29"><stop offset=".025" stop-color="#ff6100"/><stop offset=".146" stop-color="#ff5100"/><stop offset=".321" stop-color="#ff2f00"/><stop offset=".365" stop-color="#ff3600"/><stop offset=".393" stop-color="#ff5300"/><stop offset=".464" stop-color="#ffed00"/><stop offset=".475" stop-color="#fffe00"/><stop offset=".481" stop-color="#faff1a"/><stop offset=".492" stop-color="#f0ff33"/><stop offset=".519" stop-color="#e2ff4a"/><stop offset=".563" stop-color="#e1ff4c"/><stop offset=".602" stop-color="#e2ff49"/><stop offset=".761" stop-color="#ccff68"/><stop offset=".975" stop-color="#aeff8c"/></linearGradient>
<linearGradient id="gd30"><stop offset=".025" stop-color="#ff6100"/><stop offset=".151" stop-color="#ff4f00"/><stop offset=".332" stop-color="#ff2e00"/><stop offset=".365" stop-color="#ff3700"/><stop offset=".393" stop-color="#ff5600"/><stop offset=".464" stop-color="#ffec00"/><stop offset=".475" stop-color="#fffd00"/><stop offset=".486" stop-color="#f5ff26"/><stop offset=".503" stop-color="#eaff3d"/><stop offset=".536" stop-color="#e3ff48"/><stop offset=".602" stop-color="#e9ff3f"/><stop offset=".876" stop-color="#bfff79"/><stop offset=".975" stop-color="#b2ff87"/></linearGradient>
<linearGradient id="gd31"><stop offset=".025" stop-color="#ff6100"/><stop offset=".157" stop-color="#ff4d00"/><stop offset=".338" stop-color="#ff2e00"/><stop offset=".371" stop-color="#ff3e00"/><stop offset=".398" stop-color="#ff6400"/><stop offset=".464" stop-color="#ffeb00"/><stop offset=".475" stop-color="#fffb00"/><stop offset=".486" stop-color="#f7ff22"/><stop offset=".503" stop-color="#ecff39"/><stop offset=".530" stop-color="#e6ff43"/><stop offset=".602" stop-color="#edff37"/><stop offset=".843" stop-color="#c7ff6f"/><stop offset=".975" stop-color="#b6ff83"/></linearGradient>
<linearGradient id="gd32"><stop offset=".025" stop-color="#ff6000"/><stop offset=".173" stop-color="#ff4900"/><stop offset=".338" stop-color="#ff2d00"/><stop offset=".365" stop-color="#ff3b00"/><stop offset=".393" stop-color="#ff5f00"/><stop offset=".464" stop-color="#ffeb00"/><stop offset=".475" stop-color="#fffa00"/><stop offset=".481" stop-color="#feff06"/><stop offset=".486" stop-color="#f9ff1e"/><stop offset=".503" stop-color="#edff37"/><stop offset=".530" stop-color="#e8ff40"/><stop offset=".602" stop-color="#f1ff31"/><stop offset=".827" stop-color="#cdff67"/><stop offset=".975" stop-color="#baff7f"/></linearGradient>
<linearGradient id="gd33"><stop offset=".025" stop-color="#ff6000"/><stop offset=".217" stop-color="#ff4200"/><stop offset=".332" stop-color="#ff2d00"/><stop offset=".360" stop-color="#ff3900"/><stop offset=".387" stop-color="#ff5900"/><stop offset=".464" stop-color="#ffeb00"/><stop offset=".481" stop-color="#ffff03"/><stop offset=".486" stop-color="#f9ff1c"/><stop offset=".503" stop-color="#eeff35"/><stop offset=".530" stop-color="#eaff3e"/><stop offset=".602" stop-color="#f3ff2c"/><stop offset=".816" stop-color="#d1ff61"/><stop offset=".975" stop-color="#bdff7b"/></linearGradient>
<linearGradient id="gd34"><stop offset=".025" stop-color="#ff5f00"/><stop offset=".244" stop-color="#ff3c00"/><stop offset=".332" stop-color="#ff2d00"/><stop offset=".365" stop-color="#ff4000"/><stop offset=".398" stop-color="#ff6f00"/><stop offset=".459" stop-color="#ffe400"/><stop offset=".481" stop-color="#feff05"/><stop offset=".486" stop-color="#f9ff1c"/><stop offset=".503" stop-color="#efff34"/><stop offset=".530" stop-color="#ebff3c"/><stop offset=".602" stop-color="#f4ff29"/><stop offset=".805" stop-color="#d5ff5c"/><stop offset=".975" stop-color="#c0ff77"/></linearGradient>
<linearGradient id="gd35"><stop offset=".025" stop-color="#ff5f00"/><stop offset=".266" stop-color="#ff3700"/><stop offset=".332" stop-color="#ff2f00"/><stop offset=".365" stop-color="#ff4300"/><stop offset=".398" stop-color="#ff7200"/><stop offset=".459" stop-color="#ffe600"/><stop offset=".475" stop-color="#fffb00"/><stop offset=".492" stop-color="#f4ff29"/><stop offset=".514" stop-color="#ecff3a"/><stop offset=".552" stop-color="#eeff35"/><stop offset=".602" stop-color="#f5ff27"/><stop offset=".788" stop-color="#daff56"/><stop offset=".975" stop-color="#c3ff74"/></linearGradient>
<linearGradient id="gd36"><stop offset=".025" stop-color="#ff5f00"/><stop offset=".288" stop-color="#ff3200"/><stop offset=".332" stop-color="#ff3100"/><stop offset=".365" stop-color="#ff4600"/><stop offset=".398" stop-color="#ff7400"/><stop offset=".459" stop-color="#ffe800"/><stop offset=".475" stop-color="#fffd00"/><stop offset=".486" stop-color="#f7ff23"/><stop offset=".503" stop-color="#eeff36"/><stop offset=".536" stop-color="#ecff3a"/><stop offset=".602" stop-color="#f6ff26"/><stop offset=".772" stop-color="#deff51"/><stop offset=".975" stop-color="#c5ff71"/></linearGradient>
<linearGradient id="gd37"><stop offset=".025" stop-color="#ff5f00"/><stop offset=".321" stop-color="#ff3100"/><stop offset=".354" stop-color="#ff4000"/><stop offset=".387" stop-color="#ff6500"/><stop offset=".459" stop-color="#ffec00"/><stop offset=".470" stop-color="#fffa00"/><stop offset=".475" stop-color="#feff06"/><stop offset=".481" stop-color="#f9ff1c"/><stop offset=".497" stop-color="#efff34"/><stop offset=".525" stop-color="#ebff3b"/><stop offset=".602" stop-color="#f6ff26"/><stop offset=".756" stop-color="#e0ff4c"/><stop offset=".975" stop-color="#c7ff6f"/></linearGradient>
<linearGradient id="gd38"><stop offset=".025" stop-color="#ff5e00"/><stop offset=".316" stop-color="#ff3400"/><stop offset=".354" stop-color="#ff4400"/><stop offset=".387" stop-color="#ff6800"/><stop offset=".426" stop-color="#ffb200"/><stop offset=".464" stop-color="#fff700"/><stop offset=".470" stop-color="#fffd00"/><stop offset=".481" stop-color="#f7ff22"/><stop offset=".497" stop-color="#eeff35"/><stop offset=".530" stop-color="#ebff3b"/><stop offset=".602" stop-color="#f5ff27"/><stop offset=".745" stop-color="#e2ff4a"/><stop offset=".964" stop-color="#caff6b"/><stop offset=".975" stop-color="#c8ff6d"/></linearGradient>
<linearGradient id="gd39"><stop offset=".025" stop-color="#ff5e00"/><stop offset=".310" stop-color="#ff3600"/><stop offset=".349" stop-color="#ff4600"/><stop offset=".387" stop-color="#ff6e00"/><stop offset=".459" stop-color="#fff100"/><stop offset=".470" stop-color="#ffff00"/><stop offset=".475" stop-color="#faff19"/><stop offset=".486" stop-color="#f2ff2d"/><stop offset=".514" stop-color="#ebff3c"/><stop offset=".574" stop-color="#f2ff2d"/><stop offset=".618" stop-color="#f3ff2b"/><stop offset=".728" stop-color="#e3ff48"/><stop offset=".931" stop-color="#cfff64"/><stop offset=".975" stop-color="#c9ff6c"/></linearGradient>
<linearGradient id="gd40"><stop offset=".025" stop-color="#ff5e00"/><stop offset=".310" stop-color="#ff3a00"/><stop offset=".349" stop-color="#ff4c00"/><stop offset=".387" stop-color="#ff7600"/><stop offset=".459" stop-color="#fff200"/><stop offset=".470" stop-color="#ffff00"/><stop offset=".475" stop-color="#faff1a"/><stop offset=".492" stop-color="#f0ff33"/><stop offset=".525" stop-color="#ebff3c"/><stop offset=".602" stop-color="#f3ff2c"/><stop offset=".739" stop-color="#e1ff4b"/><stop offset=".920" stop-color="#d1ff62"/><stop offset=".975" stop-color="#c9ff6d"/></linearGradient>
<linearGradient id="gd41"><stop offset=".025" stop-color="#ff5e00"/><stop offset=".299" stop-color="#ff3d00"/><stop offset=".343" stop-color="#ff4f00"/><stop offset=".382" stop-color="#ff7700"/><stop offset=".459" stop-color="#fff400"/><stop offset=".470" stop-color="#ffff03"/><stop offset=".475" stop-color="#faff1a"/><stop offset=".492" stop-color="#f0ff32"/><stop offset=".525" stop-color="#ebff3c"/><stop offset=".607" stop-color="#f1ff30"/><stop offset=".739" stop-color="#e0ff4d"/><stop offset=".920" stop-color="#d1ff62"/><stop offset=".975" stop-color="#c8ff6d"/></linearGradient>
<linearGradient id="gd42"><stop offset=".025" stop-color="#ff5e00"/><stop offset=".288" stop-color="#ff4000"/><stop offset=".332" stop-color="#ff4e00"/><stop offset=".376" stop-color="#ff7800"/><stop offset=".453" stop-color="#ffef00"/><stop offset=".464" stop-color="#fffb00"/><stop offset=".470" stop-color="#feff08"/><stop offset=".475" stop-color="#f9ff1c"/><stop offset=".492" stop-color="#f0ff32"/><stop offset=".525" stop-color="#ebff3c"/><stop offset=".607" stop-color="#efff34"/><stop offset=".739" stop-color="#dfff4f"/><stop offset=".915" stop-color="#d1ff62"/><stop offset=".975" stop-color="#c7ff6f"/></linearGradient>
<linearGradient id="gd43"><stop offset=".025" stop-color="#ff5f00"/><stop offset=".272" stop-color="#ff4200"/><stop offset=".316" stop-color="#ff4b00"/><stop offset=".360" stop-color="#ff6c00"/><stop offset=".404" stop-color="#ffa900"/><stop offset=".453" stop-color="#fff200"/><stop offset=".464" stop-color="#fffd00"/><stop offset=".475" stop-color="#f8ff1e"/><stop offset=".497" stop-color="#eeff36"/><stop offset=".541" stop-color="#ebff3b"/><stop offset=".613" stop-color="#ecff39"/><stop offset=".739" stop-color="#dcff52"/><stop offset=".909" stop-color="#d1ff62"/><stop offset=".975" stop-color="#c6ff70"/></linearGradient>
<linearGradient id="gd44"><stop offset=".025" stop-color="#ff5f00"/><stop offset=".266" stop-color="#ff4500"/><stop offset=".316" stop-color="#ff5000"/><stop offset=".360" stop-color="#ff7400"/><stop offset=".409" stop-color="#ffb900"/><stop offset=".448" stop-color="#fff000"/><stop offset=".464" stop-color="#ffff02"/><stop offset=".470" stop-color="#fbff17"/><stop offset=".486" stop-color="#f2ff2f"/><stop offset=".525" stop-color="#eaff3d"/><stop offset=".613" stop-color="#eaff3e"/><stop offset=".739" stop-color="#daff56"/><stop offset=".909" stop-color="#cfff64"/><stop offset=".975" stop-color="#c4ff72"/></linearGradient>
<linearGradient id="gd45"><stop offset=".025" stop-color="#ff5f00"/><stop offset=".255" stop-color="#ff4700"/><stop offset=".305" stop-color="#ff5000"/><stop offset=".354" stop-color="#ff7600"/><stop offset=".404" stop-color="#ffb800"/><stop offset=".442" stop-color="#ffef00"/><stop offset=".459" stop-color="#fffe00"/><stop offset=".470" stop-color="#f8ff1e"/><stop offset=".492" stop-color="#efff34"/><stop offset=".541" stop-color="#e9ff3e"/><stop offset=".618" stop-color="#e6ff44"/><stop offset=".739" stop-color="#d7ff5a"/><stop offset=".904" stop-color="#cfff65"/><stop offset=".975" stop-color="#c2ff75"/></linearGradient>
<linearGradient id="gd46"><stop offset=".025" stop-color="#ff6000"/><stop offset=".250" stop-color="#ff4a00"/><stop offset=".299" stop-color="#ff5200"/><stop offset=".349" stop-color="#ff7700"/><stop offset=".398" stop-color="#ffb600"/><stop offset=".437" stop-color="#ffef00"/><stop offset=".453" stop-color="#fffe00"/><stop offset=".464" stop-color="#f8ff1e"/><stop offset=".492" stop-color="#eeff35"/><stop offset=".552" stop-color="#e7ff41"/><stop offset=".635" stop-color="#dfff4e"/><stop offset=".745" stop-color="#d3ff5f"/><stop offset=".904" stop-color="#cdff67"/><stop offset=".975" stop-color="#c0ff77"/></linearGradient>
<linearGradient id="gd47"><stop offset=".025" stop-color="#ff6000"/><stop offset=".234" stop-color="#ff4d00"/><stop offset=".294" stop-color="#ff5500"/><stop offset=".343" stop-color="#ff7900"/><stop offset=".393" stop-color="#ffb500"/><stop offset=".437" stop-color="#fff600"/><stop offset=".448" stop-color="#ffff02"/><stop offset=".453" stop-color="#fbff16"/><stop offset=".470" stop-color="#f3ff2b"/><stop offset=".530" stop-color="#e7ff42"/><stop offset=".629" stop-color="#dcff53"/><stop offset=".739" stop-color="#d0ff63"/><stop offset=".898" stop-color="#cbff69"/><stop offset=".975" stop-color="#beff7a"/></linearGradient>
<linearGradient id="gd48"><stop offset=".025" stop-color="#ff6100"/><stop offset=".217" stop-color="#ff5100"/><stop offset=".283" stop-color="#ff5600"/><stop offset=".327" stop-color="#ff7100"/><stop offset=".387" stop-color="#ffb400"/><stop offset=".437" stop-color="#fffc00"/><stop offset=".442" stop-color="#feff07"/><stop offset=".448" stop-color="#faff19"/><stop offset=".464" stop-color="#f2ff2e"/><stop offset=".547" stop-color="#e3ff49"/><stop offset=".717" stop-color="#ccff68"/><stop offset=".898" stop-color="#c9ff6c"/><stop offset=".975" stop-color="#bcff7c"/></linearGradient>
<linearGradient id="gd49"><stop offset=".025" stop-color="#ff6200"/><stop offset=".201" stop-color="#ff5400"/><stop offset=".277" stop-color="#ff5a00"/><stop offset=".321" stop-color="#ff7400"/><stop offset=".387" stop-color="#ffbc00"/><stop offset=".437" stop-color="#ffff00"/><stop offset=".442" stop-color="#faff18"/><stop offset=".459" stop-color="#f1ff2f"/><stop offset=".558" stop-color="#deff50"/><stop offset=".701" stop-color="#c8ff6d"/><stop offset=".898" stop-color="#c7ff6f"/><stop offset=".975" stop-color="#baff7e"/></linearGradient>
<linearGradient id="gd50"><stop offset=".025" stop-color="#ff6300"/><stop offset=".190" stop-color="#ff5700"/><stop offset=".272" stop-color="#ff5d00"/><stop offset=".316" stop-color="#ff7600"/><stop offset=".387" stop-color="#ffc400"/><stop offset=".431" stop-color="#fffc00"/><stop offset=".442" stop-color="#f8ff1f"/><stop offset=".459" stop-color="#efff34"/><stop offset=".585" stop-color="#d5ff5d"/><stop offset=".695" stop-color="#c3ff74"/><stop offset=".898" stop-color="#c5ff71"/><stop offset=".975" stop-color="#b9ff80"/></linearGradient>
<linearGradient id="gd51"><stop offset=".025" stop-color="#ff6400"/><stop offset=".179" stop-color="#ff5900"/><stop offset=".272" stop-color="#ff6200"/><stop offset=".316" stop-color="#ff7e00"/><stop offset=".404" stop-color="#ffe100"/><stop offset=".431" stop-color="#ffff00"/><stop offset=".437" stop-color="#faff19"/><stop offset=".453" stop-color="#efff33"/><stop offset=".514" stop-color="#dfff4e"/><stop offset=".662" stop-color="#c0ff77"/><stop offset=".777" stop-color="#bfff78"/><stop offset=".893" stop-color="#c3ff73"/><stop offset=".975" stop-color="#b7ff81"/></linearGradient>
<linearGradient id="gd52"><stop offset=".025" stop-color="#ff6500"/><stop offset=".173" stop-color="#ff5c00"/><stop offset=".266" stop-color="#ff6600"/><stop offset=".310" stop-color="#ff8000"/><stop offset=".426" stop-color="#fffd00"/><stop offset=".437" stop-color="#f8ff20"/><stop offset=".459" stop-color="#ebff3b"/><stop offset=".613" stop-color="#c1ff76"/><stop offset=".712" stop-color="#b7ff82"/><stop offset=".893" stop-color="#c1ff76"/><stop offset=".975" stop-color="#b6ff83"/></linearGradient>
<linearGradient id="gd53"><stop offset=".025" stop-color="#ff6600"/><stop offset=".162" stop-color="#ff5e00"/><stop offset=".266" stop-color="#ff6b00"/><stop offset=".310" stop-color="#ff8700"/><stop offset=".420" stop-color="#fffc00"/><stop offset=".426" stop-color="#fdff0b"/><stop offset=".431" stop-color="#f9ff1d"/><stop offset=".448" stop-color="#eeff35"/><stop offset=".503" stop-color="#dcff53"/><stop offset=".618" stop-color="#b9ff80"/><stop offset=".717" stop-color="#b1ff89"/><stop offset=".887" stop-color="#bfff78"/><stop offset=".975" stop-color="#b4ff85"/></linearGradient>
<linearGradient id="gd54"><stop offset=".025" stop-color="#ff6700"/><stop offset=".157" stop-color="#ff6000"/><stop offset=".266" stop-color="#ff7000"/><stop offset=".310" stop-color="#ff8d00"/><stop offset=".409" stop-color="#fff700"/><stop offset=".415" stop-color="#fffc00"/><stop offset=".420" stop-color="#feff08"/><stop offset=".426" stop-color="#f9ff1b"/><stop offset=".442" stop-color="#efff34"/><stop offset=".492" stop-color="#ddff51"/><stop offset=".607" stop-color="#b3ff86"/><stop offset=".701" stop-color="#aaff90"/><stop offset=".887" stop-color="#bdff7b"/><stop offset=".975" stop-color="#b3ff87"/></linearGradient>
<linearGradient id="gd55"><stop offset=".025" stop-color="#ff6900"/><stop offset=".151" stop-color="#ff6200"/><stop offset=".266" stop-color="#ff7500"/><stop offset=".310" stop-color="#ff9400"/><stop offset=".398" stop-color="#fff300"/><stop offset=".409" stop-color="#fffc00"/><stop offset=".415" stop-color="#fdff0a"/><stop offset=".426" stop-color="#f6ff25"/><stop offset=".453" stop-color="#e7ff41"/><stop offset=".602" stop-color="#adff8d"/><stop offset=".690" stop-color="#a3ff97"/><stop offset=".816" stop-color="#b4ff85"/><stop offset=".898" stop-color="#baff7e"/><stop offset=".975" stop-color="#b1ff88"/></linearGradient>
<linearGradient id="gd56"><stop offset=".025" stop-color="#ff6a00"/><stop offset=".146" stop-color="#ff6400"/><stop offset=".266" stop-color="#ff7a00"/><stop offset=".305" stop-color="#ff9400"/><stop offset=".387" stop-color="#fff000"/><stop offset=".404" stop-color="#fffd00"/><stop offset=".420" stop-color="#f5ff27"/><stop offset=".453" stop-color="#e5ff45"/><stop offset=".541" stop-color="#c1ff76"/><stop offset=".607" stop-color="#a4ff96"/><stop offset=".695" stop-color="#9cff9e"/><stop offset=".827" stop-color="#b2ff87"/><stop offset=".904" stop-color="#b7ff81"/><stop offset=".975" stop-color="#b0ff8a"/></linearGradient>
<linearGradient id="gd57"><stop offset=".025" stop-color="#ff6b00"/><stop offset=".146" stop-color="#ff6600"/><stop offset=".266" stop-color="#ff7f00"/><stop offset=".305" stop-color="#ff9900"/><stop offset=".382" stop-color="#fff100"/><stop offset=".398" stop-color="#fffe00"/><stop offset=".409" stop-color="#f8ff1f"/><stop offset=".437" stop-color="#e9ff3f"/><stop offset=".525" stop-color="#c5ff71"/><stop offset=".596" stop-color="#9fff9b"/><stop offset=".673" stop-color="#94ffa5"/><stop offset=".799" stop-color="#a8ff92"/><stop offset=".887" stop-color="#b6ff83"/><stop offset=".975" stop-color="#aeff8c"/></linearGradient>
<linearGradient id="gd58"><stop offset=".025" stop-color="#ff6d00"/><stop offset=".140" stop-color="#ff6800"/><stop offset=".261" stop-color="#ff8200"/><stop offset=".305" stop-color="#ff9f00"/><stop offset=".376" stop-color="#fff100"/><stop offset=".393" stop-color="#ffff00"/><stop offset=".398" stop-color="#fbff15"/><stop offset=".415" stop-color="#f1ff30"/><stop offset=".459" stop-color="#deff50"/><stop offset=".519" stop-color="#c4ff72"/><stop offset=".591" stop-color="#9affa0"/><stop offset=".662" stop-color="#8dffac"/><stop offset=".788" stop-color="#a1ff99"/><stop offset=".882" stop-color="#b3ff86"/><stop offset=".975" stop-color="#acff8e"/></linearGradient>
<linearGradient id="gd59"><stop offset=".025" stop-color="#ff6e00"/><stop offset=".140" stop-color="#ff6a00"/><stop offset=".261" stop-color="#ff8700"/><stop offset=".305" stop-color="#ffa500"/><stop offset=".376" stop-color="#fff500"/><stop offset=".387" stop-color="#fffe00"/><stop offset=".398" stop-color="#f8ff20"/><stop offset=".426" stop-color="#e8ff40"/><stop offset=".519" stop-color="#c0ff77"/><stop offset=".591" stop-color="#94ffa6"/><stop offset=".657" stop-color="#86ffb2"/><stop offset=".777" stop-color="#9affa0"/><stop offset=".882" stop-color="#b0ff89"/><stop offset=".975" stop-color="#abff8f"/></linearGradient>
<linearGradient id="gd60"><stop offset=".025" stop-color="#ff7000"/><stop offset=".146" stop-color="#ff6d00"/><stop offset=".255" stop-color="#ff8a00"/><stop offset=".305" stop-color="#ffab00"/><stop offset=".382" stop-color="#fffc00"/><stop offset=".398" stop-color="#f5ff27"/><stop offset=".431" stop-color="#e3ff48"/><stop offset=".519" stop-color="#bcff7c"/><stop offset=".591" stop-color="#8effab"/><stop offset=".651" stop-color="#7fffb8"/><stop offset=".761" stop-color="#92ffa8"/><stop offset=".876" stop-color="#adff8d"/><stop offset=".975" stop-color="#a9ff91"/></linearGradient>
<linearGradient id="gd61"><stop offset=".025" stop-color="#ff7200"/><stop offset=".146" stop-color="#ff7000"/><stop offset=".250" stop-color="#ff8c00"/><stop offset=".299" stop-color="#ffac00"/><stop offset=".382" stop-color="#ffff00"/><stop offset=".387" stop-color="#fbff16"/><stop offset=".404" stop-color="#efff33"/><stop offset=".448" stop-color="#daff55"/><stop offset=".525" stop-color="#b4ff85"/><stop offset=".596" stop-color="#86ffb3"/><stop offset=".651" stop-color="#78ffbd"/><stop offset=".766" stop-color="#90ffa9"/><stop offset=".876" stop-color="#aaff90"/><stop offset=".975" stop-color="#a7ff93"/></linearGradient>
<linearGradient id="gd62"><stop offset=".025" stop-color="#ff7300"/><stop offset=".146" stop-color="#ff7200"/><stop offset=".244" stop-color="#ff8e00"/><stop offset=".299" stop-color="#ffb200"/><stop offset=".376" stop-color="#fffd00"/><stop offset=".393" stop-color="#f5ff27"/><stop offset=".426" stop-color="#e2ff4a"/><stop offset=".525" stop-color="#b0ff89"/><stop offset=".596" stop-color="#80ffb7"/><stop offset=".646" stop-color="#72ffc2"/><stop offset=".739" stop-color="#85ffb3"/><stop offset=".871" stop-color="#a6ff94"/><stop offset=".975" stop-color="#a5ff95"/></linearGradient>
<linearGradient id="gd63"><stop offset=".025" stop-color="#ff7500"/><stop offset=".151" stop-color="#ff7600"/><stop offset=".239" stop-color="#ff8f00"/><stop offset=".299" stop-color="#ffb700"/><stop offset=".376" stop-color="#ffff00"/><stop offset=".382" stop-color="#fbff15"/><stop offset=".398" stop-color="#f0ff33"/><stop offset=".442" stop-color="#d8ff58"/><stop offset=".530" stop-color="#a9ff91"/><stop offset=".602" stop-color="#78ffbd"/><stop offset=".646" stop-color="#6bffc6"/><stop offset=".739" stop-color="#82ffb6"/><stop offset=".871" stop-color="#a3ff97"/><stop offset=".975" stop-color="#a3ff97"/></linearGradient>
<linearGradient id="gd64"><stop offset=".025" stop-color="#ff7700"/><stop offset=".151" stop-color="#ff7800"/><stop offset=".239" stop-color="#ff9300"/><stop offset=".299" stop-color="#ffbc00"/><stop offset=".371" stop-color="#fffc00"/><stop offset=".376" stop-color="#fdff0a"/><stop offset=".387" stop-color="#f5ff26"/><stop offset=".420" stop-color="#e1ff4b"/><stop offset=".530" stop-color="#a6ff94"/><stop offset=".607" stop-color="#70ffc3"/><stop offset=".646" stop-color="#65ffca"/><stop offset=".777" stop-color="#8bffae"/><stop offset=".887" stop-color="#a2ff99"/><stop offset=".975" stop-color="#a2ff99"/></linearGradient>
<linearGradient id="gd65"><stop offset=".025" stop-color="#ff7900"/><stop offset=".151" stop-color="#ff7b00"/><stop offset=".234" stop-color="#ff9400"/><stop offset=".299" stop-color="#ffc100"/><stop offset=".371" stop-color="#ffff00"/><stop offset=".382" stop-color="#f7ff21"/><stop offset=".409" stop-color="#e6ff43"/><stop offset=".536" stop-color="#9fff9b"/><stop offset=".613" stop-color="#69ffc8"/><stop offset=".651" stop-color="#60ffcd"/><stop offset=".843" stop-color="#99ffa1"/><stop offset=".970" stop-color="#a0ff9a"/><stop offset=".975" stop-color="#a0ff9b"/></linearGradient>
<linearGradient id="gd66"><stop offset=".025" stop-color="#ff7a00"/><stop offset=".157" stop-color="#ff7e00"/><stop offset=".234" stop-color="#ff9800"/><stop offset=".305" stop-color="#ffca00"/><stop offset=".365" stop-color="#fffd00"/><stop offset=".382" stop-color="#f6ff25"/><stop offset=".420" stop-color="#dfff4e"/><stop offset=".541" stop-color="#99ffa1"/><stop offset=".618" stop-color="#62ffcc"/><stop offset=".651" stop-color="#5cffcf"/><stop offset=".827" stop-color="#93ffa7"/><stop offset=".948" stop-color="#9eff9c"/><stop offset=".975" stop-color="#9eff9c"/></linearGradient>
<linearGradient id="gd67"><stop offset=".025" stop-color="#ff7c00"/><stop offset=".157" stop-color="#ff8100"/><stop offset=".234" stop-color="#ff9b00"/><stop offset=".305" stop-color="#ffce00"/><stop offset=".365" stop-color="#ffff00"/><stop offset=".371" stop-color="#fbff15"/><stop offset=".393" stop-color="#eeff36"/><stop offset=".470" stop-color="#c4ff73"/><stop offset=".585" stop-color="#76ffbf"/><stop offset=".635" stop-color="#57ffd1"/><stop offset=".701" stop-color="#6bffc6"/><stop offset=".832" stop-color="#92ffa8"/><stop offset=".964" stop-color="#9cff9e"/><stop offset=".975" stop-color="#9cff9e"/></linearGradient>
<linearGradient id="gd68"><stop offset=".025" stop-color="#ff7e00"/><stop offset=".157" stop-color="#ff8400"/><stop offset=".228" stop-color="#ff9b00"/><stop offset=".305" stop-color="#ffd100"/><stop offset=".360" stop-color="#fffe00"/><stop offset=".376" stop-color="#f6ff25"/><stop offset=".426" stop-color="#daff55"/><stop offset=".552" stop-color="#8dffac"/><stop offset=".624" stop-color="#5affd0"/><stop offset=".651" stop-color="#57ffd1"/><stop offset=".810" stop-color="#8bffae"/><stop offset=".948" stop-color="#9affa0"/><stop offset=".975" stop-color="#9affa0"/></linearGradient>
<linearGradient id="gd69"><stop offset=".025" stop-color="#ff8000"/><stop offset=".157" stop-color="#ff8600"/><stop offset=".228" stop-color="#ff9e00"/><stop offset=".310" stop-color="#ffd900"/><stop offset=".354" stop-color="#fffd00"/><stop offset=".360" stop-color="#feff08"/><stop offset=".371" stop-color="#f7ff21"/><stop offset=".420" stop-color="#ddff52"/><stop offset=".563" stop-color="#85ffb3"/><stop offset=".629" stop-color="#59ffd1"/><stop offset=".662" stop-color="#5cffcf"/><stop offset=".810" stop-color="#89ffaf"/><stop offset=".959" stop-color="#98ffa2"/><stop offset=".975" stop-color="#98ffa2"/></linearGradient>
<linearGradient id="gd70"><stop offset=".025" stop-color="#ff8200"/><stop offset=".162" stop-color="#ff8a00"/><stop offset=".234" stop-color="#ffa500"/><stop offset=".321" stop-color="#ffe500"/><stop offset=".354" stop-color="#ffff00"/><stop offset=".360" stop-color="#fcff13"/><stop offset=".382" stop-color="#f0ff32"/><stop offset=".481" stop-color="#b9ff7f"/><stop offset=".596" stop-color="#6effc5"/><stop offset=".635" stop-color="#5affd0"/><stop offset=".695" stop-color="#68ffc8"/><stop offset=".827" stop-color="#8affaf"/><stop offset=".975" stop-color="#97ffa3"/></linearGradient>
<clipPath id="cpd"><rect x="633.2" y="419" width="348.4" height="249"/></clipPath>
</defs>
<g opacity="0.999">
<g clip-path="url(#cpa)"><g filter="url(#vb)"><rect x="123.7" y="52.30" width="353.6" height="12.10" fill="url(#ga0)"/><rect x="123.7" y="63.80" width="353.6" height="4.10" fill="url(#ga1)"/><rect x="123.7" y="67.30" width="353.6" height="4.10" fill="url(#ga2)"/><rect x="123.7" y="70.80" width="353.6" height="4.10" fill="url(#ga3)"/><rect x="123.7" y="74.29" width="353.6" height="4.10" fill="url(#ga4)"/><rect x="123.7" y="77.79" width="353.6" height="4.10" fill="url(#ga5)"/><rect x="123.7" y="81.29" width="353.6" height="4.10" fill="url(#ga6)"/><rect x="123.7" y="84.79" width="353.6" height="4.10" fill="url(#ga7)"/><rect x="123.7" y="88.29" width="353.6" height="4.10" fill="url(#ga8)"/><rect x="123.7" y="91.79" width="353.6" height="4.10" fill="url(#ga9)"/><rect x="123.7" y="95.29" width="353.6" height="4.10" fill="url(#ga10)"/><rect x="123.7" y="98.78" width="353.6" height="4.10" fill="url(#ga11)"/><rect x="123.7" y="102.28" width="353.6" height="4.10" fill="url(#ga12)"/><rect x="123.7" y="105.78" width="353.6" height="4.10" fill="url(#ga13)"/><rect x="123.7" y="109.28" width="353.6" height="4.10" fill="url(#ga14)"/><rect x="123.7" y="112.78" width="353.6" height="4.10" fill="url(#ga15)"/><rect x="123.7" y="116.28" width="353.6" height="4.10" fill="url(#ga16)"/><rect x="123.7" y="119.78" width="353.6" height="4.10" fill="url(#ga17)"/><rect x="123.7" y="123.27" width="353.6" height="4.10" fill="url(#ga18)"/><rect x="123.7" y="126.77" width="353.6" height="4.10" fill="url(#ga19)"/><rect x="123.7" y="130.27" width="353.6" height="4.10" fill="url(#ga20)"/><rect x="123.7" y="133.77" width="353.6" height="4.10" fill="url(#ga21)"/><rect x="123.7" y="137.27" width="353.6" height="4.10" fill="url(#ga22)"/><rect x="123.7" y="140.77" width="353.6" height="4.10" fill="url(#ga23)"/><rect x="123.7" y="144.27" width="353.6" height="4.10" fill="url(#ga24)"/><rect x="123.7" y="147.76" width="353.6" height="4.10" fill="url(#ga25)"/><rect x="123.7" y="151.26" width="353.6" height="4.10" fill="url(#ga26)"/><rect x="123.7" y="154.76" width="353.6" height="4.10" fill="url(#ga27)"/><rect x="123.7" y="158.26" width="353.6" height="4.10" fill="url(#ga28)"/><rect x="123.7" y="161.76" width="353.6" height="4.10" fill="url(#ga29)"/><rect x="123.7" y="165.26" width="353.6" height="4.10" fill="url(#ga30)"/><rect x="123.7" y="168.76" width="353.6" height="4.10" fill="url(#ga31)"/><rect x="123.7" y="172.25" width="353.6" height="4.10" fill="url(#ga32)"/><rect x="123.7" y="175.75" width="353.6" height="4.10" fill="url(#ga33)"/><rect x="123.7" y="179.25" width="353.6" height="4.10" fill="url(#ga34)"/><rect x="123.7" y="182.75" width="353.6" height="4.10" fill="url(#ga35)"/><rect x="123.7" y="186.25" width="353.6" height="4.10" fill="url(#ga36)"/><rect x="123.7" y="189.75" width="353.6" height="4.10" fill="url(#ga37)"/><rect x="123.7" y="193.24" width="353.6" height="4.10" fill="url(#ga38)"/><rect x="123.7" y="196.74" width="353.6" height="4.10" fill="url(#ga39)"/><rect x="123.7" y="200.24" width="353.6" height="4.10" fill="url(#ga40)"/><rect x="123.7" y="203.74" width="353.6" height="4.10" fill="url(#ga41)"/><rect x="123.7" y="207.24" width="353.6" height="4.10" fill="url(#ga42)"/><rect x="123.7" y="210.74" width="353.6" height="4.10" fill="url(#ga43)"/><rect x="123.7" y="214.24" width="353.6" height="4.10" fill="url(#ga44)"/><rect x="123.7" y="217.73" width="353.6" height="4.10" fill="url(#ga45)"/><rect x="123.7" y="221.23" width="353.6" height="4.10" fill="url(#ga46)"/><rect x="123.7" y="224.73" width="353.6" height="4.10" fill="url(#ga47)"/><rect x="123.7" y="228.23" width="353.6" height="4.10" fill="url(#ga48)"/><rect x="123.7" y="231.73" width="353.6" height="4.10" fill="url(#ga49)"/><rect x="123.7" y="235.23" width="353.6" height="4.10" fill="url(#ga50)"/><rect x="123.7" y="238.73" width="353.6" height="4.10" fill="url(#ga51)"/><rect x="123.7" y="242.22" width="353.6" height="4.10" fill="url(#ga52)"/><rect x="123.7" y="245.72" width="353.6" height="4.10" fill="url(#ga53)"/><rect x="123.7" y="249.22" width="353.6" height="4.10" fill="url(#ga54)"/><rect x="123.7" y="252.72" width="353.6" height="4.10" fill="url(#ga55)"/><rect x="123.7" y="256.22" width="353.6" height="4.10" fill="url(#ga56)"/><rect x="123.7" y="259.72" width="353.6" height="4.10" fill="url(#ga57)"/><rect x="123.7" y="263.22" width="353.6" height="4.10" fill="url(#ga58)"/><rect x="123.7" y="266.71" width="353.6" height="4.10" fill="url(#ga59)"/><rect x="123.7" y="270.21" width="353.6" height="4.10" fill="url(#ga60)"/><rect x="123.7" y="273.71" width="353.6" height="4.10" fill="url(#ga61)"/><rect x="123.7" y="277.21" width="353.6" height="4.10" fill="url(#ga62)"/><rect x="123.7" y="280.71" width="353.6" height="4.10" fill="url(#ga63)"/><rect x="123.7" y="284.21" width="353.6" height="4.10" fill="url(#ga64)"/><rect x="123.7" y="287.71" width="353.6" height="4.10" fill="url(#ga65)"/><rect x="123.7" y="291.20" width="353.6" height="4.10" fill="url(#ga66)"/><rect x="123.7" y="294.70" width="353.6" height="4.10" fill="url(#ga67)"/><rect x="123.7" y="298.20" width="353.6" height="11.50" fill="url(#ga68)"/></g></g>
<g fill="none" stroke="#777777" stroke-width="2.5" stroke-linejoin="round" stroke-linecap="round">
<path d="M180.5 59.7L178.8 57.7L178.7 55.4L178.1 53.4L179.8 52.0L179.6 50.1L180.5 48.0L182.9 48.0L185.3 49.4L187.5 49.5L189.7 48.9L193.0 48.3L195.3 48.4L197.7 48.2L199.5 49.9L202.3 49.5L201.2 50.9L200.8 51.9L198.6 53.2L196.1 53.4L195.4 55.4L196.4 58.0L196.6 60.0L198.4 61.0L200.6 60.8L202.3 62.0L202.2 64.2L201.8 66.6L200.7 68.2L200.8 70.6L201.9 72.1L203.5 73.6L204.6 75.5L206.3 76.9L208.6 76.6L211.0 76.4L213.0 75.8L214.9 76.1L217.2 76.1L219.3 74.9L220.5 73.4L222.5 71.1L224.9 70.4L226.6 69.1L228.3 71.2L231.1 70.9L232.8 73.0L233.3 75.4L233.4 78.6L234.2 80.7L235.6 83.1L237.9 83.4L240.6 82.3L243.0 82.8L245.1 84.4L247.8 84.0L250.0 85.6L252.1 84.5L254.4 83.4L257.2 83.1L259.4 82.5L261.8 82.9L264.3 82.0L266.6 82.7L268.8 81.7L271.2 81.0L272.2 78.7L274.2 78.6L273.0 76.4L273.2 73.6L271.9 71.6L269.7 71.2L268.0 70.5L266.9 68.2L264.8 67.7L262.0 67.2L259.5 66.5L257.0 66.9L255.0 65.0L254.7 62.2L252.7 61.9L250.0 61.4L249.0 59.2L248.4 56.5L246.9 55.0L247.2 53.3L249.1 52.4L250.0 50.5L252.1 49.7L254.3 49.3L256.2 49.7L257.9 48.9L259.1 46.4L260.2 45.0L261.3 46.9L264.3 47.0L264.8 49.1L267.2 49.7L269.7 51.0L271.3 52.8L274.2 53.6L276.7 52.8L278.2 51.7L280.5 50.5L279.1 49.0L280.0 46.8L277.8 45.0L278.1 42.7L280.2 43.1L282.3 44.5L283.6 46.6L283.2 48.9L284.3 51.1L283.6 53.6L286.2 55.1L288.3 55.9L289.9 54.2L289.0 51.0L291.4 49.7L292.0 47.1L292.2 45.0L294.5 43.6L295.4 41.6L297.5 40.7L300.0 39.5L301.2 41.2L303.4 42.0L305.9 42.8L307.8 44.2L309.2 41.9L311.4 40.7L313.3 38.8L313.5 37.1L312.2 35.3L312.5 33.3L313.2 31.6L315.4 29.8L315.6 27.8L317.8 27.2L320.0 27.6L322.2 27.8L324.2 29.3L326.6 28.6L327.3 30.8L327.9 32.4L329.2 35.0L330.5 36.4L332.4 35.7L334.7 34.7L336.2 33.9L338.3 32.5L341.0 33.4L343.1 32.3L345.7 31.6L347.7 32.5L347.6 34.9L348.1 36.7L349.4 38.8L349.3 40.9L350.0 43.4L348.5 45.0L348.4 47.3L350.5 47.6L353.3 48.7L355.2 49.0L357.4 49.7L360.2 49.7L358.9 52.0L359.4 54.5L358.2 56.5L357.8 59.1L360.3 59.0L363.0 58.2L364.8 56.7L365.6 59.4L365.2 62.1L364.8 64.5L367.3 65.0L369.4 66.0L372.3 65.8L375.0 66.1L375.4 63.2L377.6 61.2L378.6 59.3L379.7 56.7L381.9 56.5L383.6 54.4L385.0 57.0L384.9 59.4L385.2 62.2L385.6 64.8L387.5 66.9L386.5 69.3L387.5 71.3L387.4 74.3L386.7 76.2L387.7 77.9L389.2 80.3L390.3 82.0L390.6 84.1L390.7 86.5L389.6 87.3L389.1 89.5L386.7 90.1L384.9 91.9L383.9 94.1L381.2 95.0L380.4 97.3L379.1 99.4L376.6 101.2L374.3 101.6L372.6 103.7L370.3 105.2L369.3 107.3L367.0 107.7L366.4 109.8L368.7 107.7L370.6 106.9L373.4 106.7L375.8 106.5L377.8 106.8L379.7 105.9L382.5 105.4L385.3 106.1L387.5 105.2L388.8 106.9L391.4 108.0L393.0 109.8L393.3 111.9L394.0 113.5L393.8 115.3L392.8 117.2L392.2 118.8L390.6 120.0L389.4 121.6L386.7 121.2L385.2 123.1L385.6 125.3L388.2 126.5L388.3 128.6L388.0 131.0L387.2 132.8L386.1 134.2L384.5 135.8L386.2 137.3L388.7 137.5L390.6 137.8L392.0 139.8L390.9 141.7L392.3 143.5L393.0 145.6L394.4 147.0L397.1 148.0L398.9 149.0L399.9 151.0L402.0 153.0L403.5 151.4L404.6 149.1L405.1 146.7L406.6 144.5L409.3 143.9L410.6 142.0L411.6 144.3L414.4 145.1L416.0 147.5L417.7 148.1L419.7 148.2L421.5 149.0L422.3 147.4L424.1 146.0L425.8 144.0L427.0 142.8L428.2 140.7L430.2 140.0L431.9 137.8L433.2 136.6L436.1 137.1L438.1 138.8L441.0 138.9L443.7 138.4L445.3 136.2L447.3 135.0L449.1 136.0L451.0 136.9L452.0 138.1L454.1 138.4L457.0 138.5L459.0 138.9L458.4 141.2L459.3 143.5L459.0 145.9L457.2 147.1L456.7 149.8L458.1 151.7L460.0 151.4L461.4 153.0L463.7 153.4L465.8 154.4L467.6 153.8L466.8 155.6L465.0 157.4L463.7 159.2L462.5 160.6L461.2 163.0L460.6 164.7L458.5 166.5L457.3 168.5L457.7 171.3L455.9 172.5L454.8 174.3L452.6 175.9L451.2 177.0L449.7 178.8L448.7 181.2L447.1 182.4L446.5 185.0L448.4 186.6L449.7 188.9L451.1 186.6L452.9 184.8L455.1 183.4L457.7 183.7L458.9 181.7L461.4 181.9L462.9 184.0L464.1 185.7L465.3 188.1L466.0 190.0L465.5 192.8L466.9 194.8L467.1 196.8L467.6 199.0L469.0 197.5L471.5 197.1L472.3 195.2L474.7 195.6L477.4 194.7L480.1 194.4L482.3 194.1L484.3 194.6L486.4 196.0L485.5 198.7L485.5 200.8L485.6 203.8L487.1 205.4L488.3 207.6L488.7 210.5L486.3 212.0L486.4 214.4L484.3 216.0L482.7 218.0L483.3 220.5L482.8 222.9L481.7 225.0L479.3 226.2L477.4 227.4L475.4 229.7L473.9 231.9L473.7 234.0L471.8 235.3L470.7 237.5L468.2 238.0L466.3 240.3L464.5 241.4L464.8 244.1L464.1 245.8L462.8 247.8L462.2 250.0L463.6 252.0L463.7 255.0L463.1 257.3L464.5 259.4L462.4 261.0L462.4 263.0L460.7 264.8L460.1 267.7L458.2 268.8L455.8 268.9L454.1 270.6L452.0 270.9L450.4 272.7L448.2 273.4L445.9 275.1L444.0 276.0L441.1 276.6L439.9 279.0L438.7 281.2L437.2 282.8L437.9 285.2L438.4 287.0L440.3 289.0L438.6 290.9L436.6 290.5L435.0 291.9L433.2 293.8L430.9 294.3L428.1 293.7L425.4 293.0L424.4 295.2L425.8 297.5L425.9 299.7L424.7 302.3L422.4 302.6L420.0 302.7L418.3 303.4L416.2 303.9L414.4 303.3L413.0 304.0L411.2 304.5L409.3 305.2L409.2 306.8L407.6 308.2L407.4 310.3L405.4 310.8L404.8 313.5L403.0 314.1L402.0 316.2L402.8 318.3L401.7 319.8L401.1 317.6L399.0 316.0L397.9 314.1L396.5 312.4L396.5 310.3L395.4 309.0L394.2 310.4L393.4 311.9L391.6 312.9L391.8 315.9L392.8 317.9L391.2 319.1L388.9 320.0L386.5 319.8L384.4 320.0L382.2 321.6L380.1 322.4L378.7 321.0L376.3 320.5L376.8 318.0L378.9 316.7L378.0 315.1L377.6 312.9L375.3 312.5L373.5 314.0L371.0 312.8L369.3 313.5L369.4 310.6L371.2 309.0L368.7 308.4L367.4 306.5L365.8 308.4L364.9 309.5L363.6 311.6L362.7 309.9L361.8 308.1L359.8 306.5L358.2 304.7L357.3 302.7L355.7 304.6L353.5 305.2L351.8 306.8L350.4 308.1L349.7 310.3L348.4 312.3L345.9 313.5L344.6 314.9L342.5 315.9L340.8 317.9L338.2 318.3L336.8 316.5L334.4 316.7L331.9 315.6L330.5 314.1L328.1 312.9L325.6 313.2L323.3 314.2L321.7 313.2L319.2 313.5L317.3 313.3L315.0 314.6L312.9 314.8L311.0 313.4L310.8 311.7L309.0 310.3L307.1 310.1L305.5 308.4L303.1 307.3L301.4 306.5L300.9 304.7L298.7 303.8L297.6 302.0L295.6 301.6L293.3 300.7L291.5 300.4L289.5 299.3L288.7 297.4L288.4 294.8L288.1 292.1L286.7 290.3L285.1 289.2L284.5 286.8L282.8 285.6L282.1 283.1L283.2 280.7L283.6 278.6L286.4 278.2L288.3 277.0L289.6 274.9L289.4 273.1L289.9 270.6L291.4 269.2L288.9 268.6L286.9 266.7L285.1 266.0L282.8 264.5L280.8 265.1L278.1 265.7L275.5 266.6L273.4 266.1L271.6 265.1L270.1 263.7L267.1 263.3L265.6 262.2L263.4 263.3L261.5 264.2L259.3 263.6L257.0 264.5L255.0 263.5L253.8 262.0L251.3 260.7L250.0 259.5L247.4 259.6L245.3 259.0L244.0 256.9L243.8 254.4L241.6 252.8L239.5 250.8L237.4 249.2L235.2 248.1L232.8 248.5L230.6 249.9L229.2 251.9L226.6 252.8L224.1 253.6L222.7 255.9L220.7 257.1L218.0 257.5L217.4 259.7L217.9 261.6L216.6 264.2L216.4 266.1L214.0 266.0L211.5 267.1L209.4 267.7L207.1 268.3L205.3 269.5L204.2 271.8L201.4 272.4L200.0 273.9L198.3 271.7L196.3 270.2L195.3 267.7L193.5 268.8L191.6 270.3L189.2 270.4L187.5 271.6L186.5 273.8L185.7 276.1L185.1 278.3L185.2 280.9L183.9 279.2L180.9 278.2L180.1 276.7L178.2 274.3L176.6 273.1L174.7 270.7L173.3 269.0L170.6 268.5L168.8 266.1L166.8 265.0L166.5 263.0L164.3 261.4L162.5 260.6L160.7 259.7L157.7 260.2L156.1 258.5L154.1 258.5L151.6 257.5L150.0 255.4L148.1 254.4L145.7 254.1L143.7 253.6L142.2 252.0L139.8 252.0L137.7 250.3L135.2 250.5L135.4 247.9L133.8 246.0L133.6 243.4L133.5 241.0L135.7 240.0L136.0 237.2L136.7 235.6L136.8 232.6L137.9 230.5L137.5 227.8L137.1 226.1L135.9 223.7L135.2 222.0L133.3 221.5L131.2 219.8L129.2 218.9L127.6 216.5L126.5 214.6L125.0 212.8L123.3 211.4L121.8 209.1L119.9 208.0L118.8 205.8L116.2 205.7L114.6 206.7L112.6 206.2L110.2 206.6L109.8 204.1L108.7 202.5L108.6 200.3L108.7 198.1L111.0 196.7L110.3 194.4L111.7 192.5L114.0 191.6L115.6 190.5L117.5 190.3L119.5 188.6L120.0 186.1L118.8 183.9L120.5 183.1L121.9 183.1L122.5 181.1L123.9 178.8L124.7 176.9L126.6 175.3L124.8 173.6L123.1 171.6L123.3 169.1L121.1 167.5L119.1 169.1L116.9 169.5L114.8 171.4L114.3 168.9L113.8 166.9L113.1 164.7L111.7 162.8L110.4 161.0L110.3 158.4L109.9 156.0L108.6 154.2L109.5 152.2L111.8 151.1L112.6 148.4L114.0 147.4L115.6 145.6L117.4 144.2L119.3 142.1L121.8 141.5L123.4 139.4L125.5 138.0L128.0 137.7L130.5 136.5L132.8 136.2L134.4 136.6L135.9 138.8L137.5 139.4L139.4 137.9L142.6 137.0L144.4 135.4L146.9 134.7L147.6 132.2L148.9 130.6L150.0 128.4L149.5 126.3L147.9 124.8L148.4 122.0L146.9 120.6L146.4 117.9L145.1 115.6L145.3 112.8L145.7 110.6L145.4 107.7L144.5 105.8L143.8 103.4L143.5 101.4L145.4 99.7L146.0 97.9L146.1 95.6L148.7 95.3L150.3 94.5L152.0 92.9L154.7 92.5L155.7 89.8L157.9 88.4L158.9 86.5L160.9 84.7L163.2 83.0L163.2 80.3L165.0 79.4L166.7 77.5L168.0 75.3L167.1 72.9L167.5 71.4L166.4 69.1L168.1 68.3L170.4 66.9L171.5 65.4L173.4 63.6L174.8 61.9L177.1 61.3L178.4 60.3Z"/>
<path d="M235.6 83.1L235.8 85.6L233.7 87.4L233.6 89.8L233.6 92.5L231.1 93.0L229.5 95.6L227.0 95.2L225.0 97.2L223.0 98.3L219.9 98.0L218.0 97.6L215.6 98.8L213.0 99.3L211.2 97.9L208.3 97.3L206.3 97.2L204.0 96.8L202.7 94.6L200.0 94.0L198.6 96.0L195.7 96.6L193.8 98.8L191.2 98.5L189.5 96.2L187.0 95.8L185.2 94.8L183.9 97.1L181.7 98.7L179.7 100.3L178.6 102.4L175.6 103.4L174.2 106.4L172.7 108.1L174.3 109.9L175.0 112.1L176.6 114.4L177.6 117.1L176.9 119.3L176.6 122.2L178.6 124.1L179.3 126.6L181.2 128.4L183.6 127.6L185.7 127.5L188.0 127.2L189.8 127.7L191.8 127.2L193.3 125.6L195.3 125.0L196.9 123.8L198.9 124.1L201.8 123.6L203.9 123.8L205.6 125.5L206.5 126.8L207.4 128.9L209.4 130.0L209.8 132.2L209.7 134.1L210.9 136.2L209.2 137.5L209.1 139.5L207.8 141.0L205.5 142.9L205.2 145.0L203.9 147.2L202.5 148.9L203.6 152.1L202.1 153.8L201.6 156.6L200.3 158.4L197.7 159.7L198.8 161.1L199.8 162.8L200.0 165.2L201.9 166.2L203.5 168.3L206.4 168.7L207.8 170.6L208.9 172.3L211.7 172.7L212.4 175.3L214.1 176.1L215.0 178.0L216.4 179.2L215.2 180.8L213.7 183.1L211.7 183.9L211.1 186.0L211.5 188.6L210.2 190.9L208.4 192.5L207.8 195.6L205.5 197.2L206.9 198.5L207.5 200.0"/>
<path d="M207.5 200.0L209.5 199.4L212.1 199.4L213.1 197.3L215.6 197.2L217.3 195.7L220.3 194.4L221.9 192.5L223.9 190.6L225.7 190.0L228.0 188.5L229.7 187.0L231.9 188.1L233.3 189.0L235.2 188.6L237.5 189.4L239.4 190.2L242.2 190.9L243.8 192.5L246.0 192.5L247.8 194.9L250.0 195.6L252.5 196.2L254.3 196.3L256.2 197.4L258.9 198.6L260.9 198.8L263.6 198.1L264.7 195.9L267.2 195.6L268.3 193.4L267.9 191.4L268.0 189.4L269.8 188.0L272.3 186.4L274.8 185.7L276.6 184.2L278.7 184.4L281.2 183.1L283.9 182.3L286.2 181.3L288.6 180.2L290.9 178.6L292.8 178.0L295.3 176.9L297.3 175.1L297.6 172.0L299.3 170.2L300.0 167.5L301.9 165.4L304.9 165.0L307.0 163.6L308.8 165.9L309.3 168.8L310.9 170.6L312.2 172.6L314.2 174.0L316.1 175.0L317.2 176.9L319.6 176.9L321.0 175.2L323.4 175.3L324.3 177.6L326.7 178.0L327.2 180.7L328.9 181.6L330.8 181.0L332.7 179.6L334.9 178.7L337.9 178.8L339.8 177.7L340.6 175.0L340.7 173.0L342.2 170.6L344.4 169.5L346.2 167.2L348.4 166.7L350.2 168.2L352.4 169.1L354.4 169.7L355.8 172.0L357.8 173.0L358.7 171.0L359.7 167.8L360.9 165.9L363.2 165.5L363.3 163.3L365.6 162.8L368.3 162.9L370.2 163.4L372.9 164.2L375.0 165.2L373.6 162.8L371.9 161.8L371.1 158.9L373.4 158.9L376.0 157.7L378.1 156.6L380.1 156.5L381.8 158.0L384.4 158.1L386.2 156.7L386.2 153.4L387.4 150.9L389.1 149.5L390.1 148.3L391.3 146.4L393.0 145.6"/>
<path d="M207.5 200.0L206.2 202.1L206.2 205.0L208.0 206.7L209.3 208.8L211.1 209.9L212.5 212.0L215.3 210.8L216.9 208.5L218.8 207.3L221.7 206.9L224.0 208.7L226.6 208.1L227.4 209.6L228.8 211.8L230.5 212.8L231.1 215.2L232.8 217.5L232.8 219.8L234.8 220.7L237.0 220.8L239.0 221.8L240.6 223.0L242.0 221.2L244.5 220.4L246.9 219.8L249.0 220.8L251.7 220.4L254.7 220.6L256.6 220.1L258.7 219.4L260.9 219.8L262.5 220.8L263.7 222.5L265.6 223.8L265.7 225.9L266.7 227.6L268.8 229.2L267.0 230.9L267.7 234.0L265.6 236.2L264.7 237.7L264.9 240.1L264.0 241.7L261.5 242.9L259.1 242.4L256.2 242.5L253.8 243.1L252.2 245.7L250.0 246.6L248.0 247.9L247.2 251.3L245.4 252.6L243.8 254.4"/>
<path d="M345.5 315.2L347.5 314.9L349.0 314.8L350.5 312.9L352.0 311.5L353.1 310.3L354.5 308.5L355.7 306.8L356.5 305.5"/>
<path d="M348.5 312.5L349.9 312.9L351.5 313.2L351.7 310.8L353.5 309.5"/>
<path d="M361.5 309.0L362.8 308.4L364.5 308.2L365.7 309.1L366.5 310.5L367.9 310.3L369.5 310.8"/>
<path d="M372.0 311.5L373.2 311.8L375.0 312.5L376.2 313.7L376.5 315.5"/>
<path d="M393.5 313.5L395.1 313.4L396.0 312.0L397.3 314.6L398.5 316.5"/>
<path d="M388.0 318.5L390.0 317.6L391.0 316.0L392.1 317.7L393.5 319.0"/>
</g>
<g fill="#440c7a" stroke="#1e0a5c" stroke-width="1.1">
<circle cx="269.5" cy="60.3" r="5.1"/>
<circle cx="292.5" cy="68.0" r="5.1"/>
<circle cx="294.5" cy="84.5" r="5.1"/>
<circle cx="316.4" cy="82.0" r="5.1"/>
<circle cx="345.6" cy="75.2" r="3.4"/>
<circle cx="380.5" cy="83.8" r="3.4"/>
<circle cx="234.4" cy="99.2" r="3.4"/>
<circle cx="261.7" cy="109.8" r="3.4"/>
<circle cx="361.2" cy="111.9" r="3.4"/>
<circle cx="196.6" cy="115.9" r="3.4"/>
<circle cx="288.6" cy="127.0" r="3.4"/>
<circle cx="335.5" cy="125.9" r="3.4"/>
<circle cx="159.4" cy="133.1" r="3.4"/>
<circle cx="257.5" cy="139.4" r="3.4"/>
<circle cx="356.2" cy="149.8" r="3.4"/>
<circle cx="319.5" cy="155.0" r="3.4"/>
<circle cx="203.9" cy="158.9" r="3.4"/>
<circle cx="179.7" cy="164.4" r="3.4"/>
<circle cx="230.5" cy="169.8" r="3.4"/>
<circle cx="289.8" cy="169.8" r="3.4"/>
<circle cx="264.5" cy="179.4" r="3.4"/>
<circle cx="422.3" cy="174.4" r="5.1"/>
<circle cx="135.6" cy="186.2" r="3.4"/>
<circle cx="337.2" cy="197.7" r="3.4"/>
<circle cx="177.7" cy="203.9" r="3.4"/>
<circle cx="132.0" cy="211.6" r="3.4"/>
<circle cx="468.6" cy="208.3" r="5.1"/>
<circle cx="388.5" cy="210.7" r="5.1"/>
<circle cx="430.1" cy="216.5" r="5.1"/>
<circle cx="283.6" cy="227.8" r="3.4"/>
<circle cx="339.8" cy="226.3" r="3.4"/>
<circle cx="382.4" cy="233.7" r="5.1"/>
<circle cx="414.5" cy="246.5" r="5.1"/>
<circle cx="459.8" cy="243.7" r="5.1"/>
<circle cx="163.3" cy="247.8" r="3.4"/>
<circle cx="255.2" cy="246.0" r="1.3" fill="#1a0a30" stroke="none"/>
<circle cx="277.0" cy="257.0" r="3.4"/>
<circle cx="174.5" cy="262.2" r="3.4"/>
<circle cx="344.5" cy="275.8" r="5.1"/>
<circle cx="417.3" cy="275.0" r="5.1"/>
<circle cx="384.8" cy="283.8" r="5.1"/>
<circle cx="293.0" cy="287.2" r="3.4"/>
<circle cx="359.5" cy="300.6" r="5.1"/>
</g>
<rect x="21.2" y="19.2" width="474" height="326.4" fill="none" stroke="#565656" stroke-width="1.6"/>
<path d="M32.5 19.2v-3.3M32.5 345.6v3.3M181.9 19.2v-3.3M181.9 345.6v3.3M332.2 19.2v-3.3M332.2 345.6v3.3M483 19.2v-3.3M483 345.6v3.3M21.2 148.4h-3M495.2 148.4h3M21.2 299.2h-3M495.2 299.2h3" stroke="#565656" stroke-width="1" fill="none"/>
<g font-family='"Liberation Serif", serif' font-size="11.1" fill="#222222" stroke="#2a2a2a" stroke-width="0.22" text-anchor="middle">
<text x="30.5" y="14.2">100°E</text>
<text x="29" y="358.6">100°E</text>
<text x="179.9" y="14.2">104°E</text>
<text x="178.4" y="358.6">104°E</text>
<text x="330.2" y="14.2">108°E</text>
<text x="328.7" y="358.6">108°E</text>
<text x="481" y="14.2">112°E</text>
<text x="479.5" y="358.6">112°E</text>
<text font-size="11" transform="translate(18.2 150.1) rotate(-90)">26°N</text>
<text font-size="11" transform="translate(507 150.7) rotate(-90)">26°N</text>
<text font-size="11" transform="translate(18.2 300.9) rotate(-90)">22°N</text>
<text font-size="11" transform="translate(507 298.3) rotate(-90)">22°N</text>
</g>
<text x="51.8" y="48.5" font-family='"Liberation Sans", sans-serif' font-size="12.3" text-anchor="middle" fill="#111" stroke="#111" stroke-width="0.3">N</text>
<path d="M51.8 52.5l-8.3 28.7l8.3-10.5z" fill="#000" stroke="#000" stroke-width="0.4" stroke-linejoin="miter"/>
<path d="M51.8 52.5l8.2 28.4l-8.2-10.2z" fill="#fff" stroke="#000" stroke-width="0.75" stroke-linejoin="miter"/>
<text x="468" y="49.3" font-family='"Liberation Serif", serif' font-size="16.6" font-weight="bold" text-anchor="middle" fill="#111" stroke="#111" stroke-width="0.25" xml:space="preserve">( a )</text>
<g font-family='"Liberation Serif", serif' font-size="13.4" fill="#141414" stroke="#141414" stroke-width="0.42">
<text x="27" y="220.9">GWR coefficient</text>
<text x="27" y="235.8">for temperature</text>
<text x="51.2" y="255.8" font-size="12">High: 0.0174</text>
<text x="51.2" y="275.8" font-size="12">Low: 0.0013</text>
<text x="27" y="295">Std Err</text>
<text x="50.8" y="313.3" font-size="12">&lt; 0.0035</text>
<text x="50.8" y="327" font-size="12">0.0035 - 0.004</text>
<text x="50.8" y="340.8" font-size="12">&gt; 0.004</text>
</g>
<circle cx="37" cy="309.5" r="0.8" fill="#2c0a78"/>
<circle cx="37" cy="323.8" r="1.8" fill="#2c0a78"/>
<circle cx="37" cy="337" r="3.2" fill="#2c0a78"/>
<rect x="27.2" y="251.3" width="18.2" height="19.6" fill="url(#ramp)"/>
<path d="M45.7 261.1h1.2" stroke="#222" stroke-width="0.9"/>
<rect x="199.6" y="337.6" width="50.2" height="3.6" fill="#fff" stroke="#3c3c3c" stroke-width="0.9"/>
<rect x="148.8" y="337.1" width="50.8" height="4.5" fill="#000"/>
<g font-family='"Liberation Serif", serif' font-size="12" fill="#141414" stroke="#141414" stroke-width="0.3" text-anchor="middle">
<text x="148.8" y="332">0</text>
<text x="200.1" y="332">150</text>
<text x="246.7" y="332">300</text>
<text x="250.7" y="342.2" font-size="13.3" text-anchor="start">Km</text>
</g>
<g clip-path="url(#cpb)"><g filter="url(#vb)"><rect x="624.8" y="49.40" width="357.5" height="12.09" fill="url(#gb0)"/><rect x="624.8" y="60.89" width="357.5" height="4.09" fill="url(#gb1)"/><rect x="624.8" y="64.38" width="357.5" height="4.09" fill="url(#gb2)"/><rect x="624.8" y="67.87" width="357.5" height="4.09" fill="url(#gb3)"/><rect x="624.8" y="71.35" width="357.5" height="4.09" fill="url(#gb4)"/><rect x="624.8" y="74.84" width="357.5" height="4.09" fill="url(#gb5)"/><rect x="624.8" y="78.33" width="357.5" height="4.09" fill="url(#gb6)"/><rect x="624.8" y="81.82" width="357.5" height="4.09" fill="url(#gb7)"/><rect x="624.8" y="85.31" width="357.5" height="4.09" fill="url(#gb8)"/><rect x="624.8" y="88.80" width="357.5" height="4.09" fill="url(#gb9)"/><rect x="624.8" y="92.29" width="357.5" height="4.09" fill="url(#gb10)"/><rect x="624.8" y="95.77" width="357.5" height="4.09" fill="url(#gb11)"/><rect x="624.8" y="99.26" width="357.5" height="4.09" fill="url(#gb12)"/><rect x="624.8" y="102.75" width="357.5" height="4.09" fill="url(#gb13)"/><rect x="624.8" y="106.24" width="357.5" height="4.09" fill="url(#gb14)"/><rect x="624.8" y="109.73" width="357.5" height="4.09" fill="url(#gb15)"/><rect x="624.8" y="113.22" width="357.5" height="4.09" fill="url(#gb16)"/><rect x="624.8" y="116.71" width="357.5" height="4.09" fill="url(#gb17)"/><rect x="624.8" y="120.19" width="357.5" height="4.09" fill="url(#gb18)"/><rect x="624.8" y="123.68" width="357.5" height="4.09" fill="url(#gb19)"/><rect x="624.8" y="127.17" width="357.5" height="4.09" fill="url(#gb20)"/><rect x="624.8" y="130.66" width="357.5" height="4.09" fill="url(#gb21)"/><rect x="624.8" y="134.15" width="357.5" height="4.09" fill="url(#gb22)"/><rect x="624.8" y="137.64" width="357.5" height="4.09" fill="url(#gb23)"/><rect x="624.8" y="141.13" width="357.5" height="4.09" fill="url(#gb24)"/><rect x="624.8" y="144.61" width="357.5" height="4.09" fill="url(#gb25)"/><rect x="624.8" y="148.10" width="357.5" height="4.09" fill="url(#gb26)"/><rect x="624.8" y="151.59" width="357.5" height="4.09" fill="url(#gb27)"/><rect x="624.8" y="155.08" width="357.5" height="4.09" fill="url(#gb28)"/><rect x="624.8" y="158.57" width="357.5" height="4.09" fill="url(#gb29)"/><rect x="624.8" y="162.06" width="357.5" height="4.09" fill="url(#gb30)"/><rect x="624.8" y="165.55" width="357.5" height="4.09" fill="url(#gb31)"/><rect x="624.8" y="169.03" width="357.5" height="4.09" fill="url(#gb32)"/><rect x="624.8" y="172.52" width="357.5" height="4.09" fill="url(#gb33)"/><rect x="624.8" y="176.01" width="357.5" height="4.09" fill="url(#gb34)"/><rect x="624.8" y="179.50" width="357.5" height="4.09" fill="url(#gb35)"/><rect x="624.8" y="182.99" width="357.5" height="4.09" fill="url(#gb36)"/><rect x="624.8" y="186.48" width="357.5" height="4.09" fill="url(#gb37)"/><rect x="624.8" y="189.97" width="357.5" height="4.09" fill="url(#gb38)"/><rect x="624.8" y="193.45" width="357.5" height="4.09" fill="url(#gb39)"/><rect x="624.8" y="196.94" width="357.5" height="4.09" fill="url(#gb40)"/><rect x="624.8" y="200.43" width="357.5" height="4.09" fill="url(#gb41)"/><rect x="624.8" y="203.92" width="357.5" height="4.09" fill="url(#gb42)"/><rect x="624.8" y="207.41" width="357.5" height="4.09" fill="url(#gb43)"/><rect x="624.8" y="210.90" width="357.5" height="4.09" fill="url(#gb44)"/><rect x="624.8" y="214.39" width="357.5" height="4.09" fill="url(#gb45)"/><rect x="624.8" y="217.87" width="357.5" height="4.09" fill="url(#gb46)"/><rect x="624.8" y="221.36" width="357.5" height="4.09" fill="url(#gb47)"/><rect x="624.8" y="224.85" width="357.5" height="4.09" fill="url(#gb48)"/><rect x="624.8" y="228.34" width="357.5" height="4.09" fill="url(#gb49)"/><rect x="624.8" y="231.83" width="357.5" height="4.09" fill="url(#gb50)"/><rect x="624.8" y="235.32" width="357.5" height="4.09" fill="url(#gb51)"/><rect x="624.8" y="238.81" width="357.5" height="4.09" fill="url(#gb52)"/><rect x="624.8" y="242.29" width="357.5" height="4.09" fill="url(#gb53)"/><rect x="624.8" y="245.78" width="357.5" height="4.09" fill="url(#gb54)"/><rect x="624.8" y="249.27" width="357.5" height="4.09" fill="url(#gb55)"/><rect x="624.8" y="252.76" width="357.5" height="4.09" fill="url(#gb56)"/><rect x="624.8" y="256.25" width="357.5" height="4.09" fill="url(#gb57)"/><rect x="624.8" y="259.74" width="357.5" height="4.09" fill="url(#gb58)"/><rect x="624.8" y="263.23" width="357.5" height="4.09" fill="url(#gb59)"/><rect x="624.8" y="266.71" width="357.5" height="4.09" fill="url(#gb60)"/><rect x="624.8" y="270.20" width="357.5" height="4.09" fill="url(#gb61)"/><rect x="624.8" y="273.69" width="357.5" height="4.09" fill="url(#gb62)"/><rect x="624.8" y="277.18" width="357.5" height="4.09" fill="url(#gb63)"/><rect x="624.8" y="280.67" width="357.5" height="4.09" fill="url(#gb64)"/><rect x="624.8" y="284.16" width="357.5" height="4.09" fill="url(#gb65)"/><rect x="624.8" y="287.65" width="357.5" height="4.09" fill="url(#gb66)"/><rect x="624.8" y="291.13" width="357.5" height="4.09" fill="url(#gb67)"/><rect x="624.8" y="294.62" width="357.5" height="4.09" fill="url(#gb68)"/><rect x="624.8" y="298.11" width="357.5" height="11.49" fill="url(#gb69)"/></g></g>
<g fill="none" stroke="#777777" stroke-width="2.5" stroke-linejoin="round" stroke-linecap="round">
<path d="M682.2 56.8L680.9 55.2L679.8 53.2L679.7 50.4L680.8 48.6L680.6 46.2L682.2 45.0L684.6 45.4L687.3 45.2L689.2 46.5L691.5 45.3L694.5 45.7L697.1 45.4L699.8 45.9L702.1 45.2L704.2 46.5L703.4 48.0L702.7 48.9L700.0 49.4L697.9 50.4L697.4 52.9L699.0 54.8L698.4 57.1L700.4 58.4L701.9 59.2L704.2 59.1L704.8 61.6L703.9 63.7L704.0 65.7L702.7 67.8L703.7 69.4L705.6 70.6L706.4 73.3L708.3 74.2L710.5 74.3L712.5 74.8L714.6 74.1L716.9 73.8L719.3 73.4L720.9 71.0L723.1 70.0L725.3 69.3L727.4 67.8L728.8 66.3L731.5 67.4L732.9 68.5L735.1 70.2L734.9 72.7L736.6 75.6L737.7 78.0L737.9 80.5L740.6 80.3L743.0 79.7L745.7 79.9L747.2 81.9L750.1 83.1L752.5 83.0L755.1 81.8L757.2 82.4L760.1 81.0L762.0 79.9L764.1 80.3L766.7 79.3L769.0 79.0L771.4 79.0L772.5 77.5L774.9 76.7L776.9 75.9L776.2 73.2L774.7 71.6L774.6 68.8L773.0 67.1L770.5 67.5L768.5 66.4L767.4 64.9L764.7 65.1L762.2 64.4L759.5 64.1L757.9 62.1L757.2 59.3L754.7 59.3L752.5 58.5L751.2 56.4L750.4 54.0L749.3 52.0L751.2 51.0L751.5 49.0L752.5 47.5L754.5 47.3L756.6 46.4L758.8 46.7L759.8 44.7L762.2 43.8L762.8 41.9L764.0 43.5L766.6 43.4L767.8 45.4L769.9 46.7L772.4 47.2L773.2 48.2L775.3 49.7L776.9 50.6L778.8 49.6L780.9 48.7L783.3 47.5L783.0 45.0L781.2 43.8L782.1 41.3L780.9 39.6L782.9 40.1L784.4 41.9L786.5 43.5L785.8 45.9L786.8 48.5L786.5 50.6L789.1 51.3L791.2 52.9L791.9 51.0L793.4 48.6L793.0 46.2L794.1 43.7L795.2 41.9L797.6 40.6L799.6 39.4L801.1 37.3L803.0 36.4L805.4 37.4L806.8 39.1L809.4 39.4L810.9 41.1L813.1 39.3L813.9 37.0L816.5 35.6L816.3 33.5L815.4 31.7L815.7 30.1L817.4 29.0L818.1 26.7L818.8 24.5L820.9 23.9L822.9 24.5L825.4 25.4L828.0 24.9L830.0 25.3L830.1 27.7L832.3 29.2L833.2 31.4L833.9 33.2L835.4 32.0L837.2 30.5L839.7 29.4L841.8 29.3L844.2 29.6L846.6 30.2L848.6 29.7L851.3 29.3L852.2 31.5L851.5 33.7L852.7 35.7L853.6 38.1L853.6 40.3L851.9 42.3L852.0 44.2L854.0 44.8L857.0 44.8L858.7 46.5L861.7 46.9L863.9 46.7L864.0 49.6L862.5 51.7L861.7 53.9L861.5 56.2L864.3 56.0L866.1 54.4L868.6 53.8L867.7 56.2L868.8 58.7L868.6 61.6L871.3 61.7L873.8 61.8L876.2 63.1L878.9 63.3L880.6 61.1L881.1 58.2L882.6 56.2L883.7 53.8L885.6 51.8L887.6 51.4L888.8 53.8L888.6 57.1L889.2 59.3L890.6 61.2L891.6 64.1L890.9 66.8L891.2 69.2L891.3 71.5L890.7 73.5L892.7 75.2L892.0 77.7L893.1 79.9L894.7 81.5L894.6 83.0L893.4 84.9L893.2 86.9L891.3 88.1L890.0 90.3L887.3 90.7L885.2 92.5L883.9 94.9L882.5 97.0L880.5 98.8L878.3 100.4L876.5 101.6L874.2 102.8L872.3 103.5L871.2 105.8L870.2 107.5L872.6 106.1L875.1 105.9L877.3 104.3L879.1 103.8L882.0 104.5L883.7 103.5L886.1 102.9L889.2 103.3L891.6 102.8L893.1 105.0L895.1 106.3L897.1 107.5L898.3 109.2L897.2 111.1L897.9 113.0L897.3 114.8L895.9 115.8L894.7 117.8L892.5 118.5L891.5 120.3L889.2 120.9L890.8 122.4L890.5 125.0L892.4 126.5L890.8 127.7L890.9 130.4L890.2 132.0L888.5 133.8L890.4 134.7L892.3 135.4L894.7 135.8L895.8 138.0L895.7 139.5L896.6 141.4L897.1 143.7L899.6 144.1L901.3 145.2L903.1 147.1L905.1 148.4L906.2 151.2L907.1 149.2L908.0 146.8L909.4 144.8L910.6 142.9L912.9 140.9L914.9 140.0L916.9 141.7L918.4 144.3L920.4 145.6L922.4 146.6L923.8 146.6L925.9 147.1L927.5 145.7L929.1 144.6L930.1 143.0L931.5 140.9L932.8 139.2L934.3 137.0L936.6 136.8L937.8 134.6L940.0 135.7L941.6 135.9L943.5 136.7L945.7 136.9L948.0 135.7L949.8 133.9L952.0 133.0L953.7 134.1L955.6 134.8L956.8 136.1L959.2 135.7L961.1 136.7L963.9 136.9L963.3 139.3L964.7 141.9L963.9 144.0L962.2 146.0L961.6 147.9L962.9 149.3L964.3 150.5L966.3 151.2L968.3 151.3L970.9 151.4L972.6 151.9L971.3 153.8L970.2 155.6L968.6 157.4L967.9 159.9L966.1 160.9L965.5 163.0L964.0 165.1L963.4 166.9L962.0 168.9L960.7 170.9L958.5 172.2L957.0 173.7L956.2 175.4L954.5 177.2L952.5 179.2L952.2 181.6L951.2 183.5L952.1 185.9L954.5 187.5L956.7 185.5L957.5 183.6L959.9 181.9L962.6 182.2L964.0 180.0L966.3 180.4L967.5 182.8L968.8 184.8L970.3 186.7L970.5 189.0L971.9 190.7L972.1 193.5L972.2 195.6L972.6 197.7L974.5 197.4L975.2 194.8L977.3 193.9L980.2 194.4L982.2 192.6L985.2 193.1L987.8 193.0L989.8 194.1L991.6 194.7L990.6 197.6L991.0 199.7L990.8 202.5L991.9 205.1L992.0 207.4L993.9 209.3L992.3 211.4L991.2 213.0L989.5 214.9L989.2 217.3L988.6 219.8L987.1 222.0L986.8 224.0L984.5 225.2L983.1 227.6L980.5 228.8L978.6 230.4L978.8 233.1L976.4 234.6L975.8 236.7L973.0 237.6L971.5 239.4L969.4 240.6L969.7 243.1L968.3 244.7L968.1 247.4L967.1 249.3L968.2 251.4L968.6 254.2L969.4 256.0L969.4 258.8L968.6 261.2L967.6 263.1L965.7 264.4L964.6 266.6L963.1 268.3L961.7 270.0L959.5 270.3L957.3 271.2L955.2 272.3L953.4 273.9L950.5 274.6L947.9 274.7L945.8 276.2L945.2 278.9L942.6 279.7L941.8 282.5L943.0 284.1L943.6 286.4L945.0 288.8L942.8 289.2L941.4 290.9L940.1 292.4L937.8 293.6L935.4 292.6L932.6 293.6L929.9 292.8L930.4 295.0L929.9 297.9L928.6 299.6L929.2 302.2L927.1 301.7L924.4 302.6L922.2 302.7L921.0 303.6L918.8 303.2L916.7 303.4L915.3 303.5L913.6 305.1L913.7 306.8L912.8 308.4L911.7 310.3L910.3 311.2L908.8 312.9L907.2 314.1L907.6 316.4L905.4 317.7L905.9 319.9L904.7 318.1L904.0 315.3L902.1 314.1L902.1 312.1L900.2 311.2L899.5 309.0L898.6 311.2L896.9 311.5L895.7 312.9L897.1 315.6L896.9 318.0L894.9 319.5L892.4 319.1L890.5 319.9L888.1 320.4L886.2 321.5L884.1 322.5L882.7 321.2L880.2 320.6L881.3 318.3L882.9 316.8L882.9 314.5L881.5 312.9L879.2 314.0L877.3 312.3L875.4 313.6L873.1 313.5L874.2 311.6L875.1 309.0L872.4 308.1L871.2 306.5L869.9 308.2L869.2 309.8L867.4 311.6L865.6 310.7L865.0 307.8L863.5 306.5L862.8 303.7L861.0 302.6L859.8 304.2L857.2 305.1L855.7 306.5L853.9 308.1L853.3 310.3L851.5 312.0L849.5 313.5L848.0 315.3L846.2 317.2L844.3 318.0L842.0 316.9L840.0 316.3L837.8 316.8L836.0 314.7L833.9 314.5L831.5 312.9L829.2 313.1L826.6 312.8L825.0 313.1L822.5 313.5L820.2 314.8L818.1 313.7L816.1 314.9L814.3 314.1L812.7 312.1L812.1 310.3L810.2 309.5L808.8 307.9L806.4 307.3L804.5 306.5L803.2 305.3L802.0 303.8L800.6 301.9L798.5 301.6L795.9 301.0L794.3 299.4L792.4 299.2L792.6 296.8L790.2 294.5L790.3 292.2L789.6 290.1L788.9 288.1L787.2 286.9L785.6 285.3L785.3 283.3L785.6 280.7L786.5 278.2L789.0 277.9L791.2 276.6L792.4 275.0L792.3 272.4L793.2 270.3L794.3 268.7L792.2 267.8L790.5 266.0L788.1 264.8L785.6 264.0L783.3 265.2L781.2 264.5L778.6 265.3L776.1 265.6L774.6 264.3L771.9 263.3L769.6 263.4L768.2 261.6L766.2 262.5L764.0 263.2L761.4 263.5L759.5 264.0L757.9 261.9L756.6 260.7L754.3 259.5L752.5 258.9L749.8 259.4L747.7 258.4L747.2 256.3L746.1 253.8L744.0 251.9L742.3 250.6L740.3 248.4L737.5 247.4L735.3 247.9L733.4 249.4L730.8 250.9L728.8 252.1L726.6 253.6L724.8 254.4L723.0 256.3L720.1 256.9L719.9 259.5L719.6 261.5L718.6 263.5L718.5 265.6L716.3 265.8L713.7 265.9L711.4 267.2L709.3 267.5L708.3 270.2L705.7 270.4L703.9 272.3L701.9 273.5L700.4 271.5L699.4 268.9L697.1 267.2L695.4 268.8L693.4 269.9L691.2 270.9L689.2 271.2L689.5 273.6L688.6 276.0L687.7 278.2L686.9 280.6L685.0 279.0L683.2 277.9L681.6 276.4L679.9 273.8L678.2 272.7L676.5 270.0L673.6 269.6L671.5 267.8L670.3 265.6L669.2 263.7L667.8 262.1L665.7 261.4L664.0 260.0L661.9 258.8L659.6 258.8L657.8 257.7L655.5 257.4L652.9 256.9L651.1 256.5L648.8 254.4L647.2 254.2L645.7 252.6L643.4 251.3L641.0 251.1L638.2 251.1L636.3 249.8L635.6 247.4L634.4 244.8L634.7 242.6L634.9 240.4L635.4 238.6L636.4 236.5L637.9 234.7L637.3 232.0L638.5 229.7L638.7 226.8L638.5 225.0L637.2 222.6L636.3 221.0L634.8 219.9L632.3 218.8L630.4 217.8L628.6 215.7L628.4 212.9L626.0 211.7L625.0 209.7L623.6 207.6L621.0 206.9L619.7 204.6L617.9 205.5L615.1 204.2L613.2 205.9L611.1 205.4L610.5 203.6L611.0 201.1L609.4 199.0L610.3 197.2L611.1 194.7L612.2 193.5L612.6 191.1L614.7 190.5L616.3 188.7L618.5 187.6L620.5 187.2L619.7 185.2L619.7 182.4L621.2 182.8L622.9 181.6L624.6 179.6L625.8 177.6L626.0 175.6L627.6 173.7L626.6 171.9L625.6 169.1L623.7 167.6L622.1 165.8L620.2 167.0L618.4 169.0L615.7 169.8L614.0 167.8L613.4 165.3L612.7 163.7L612.6 161.1L612.4 158.6L610.8 156.6L610.1 154.9L609.4 152.4L611.8 151.0L612.5 149.3L613.5 147.4L614.6 144.6L616.5 143.7L618.2 142.1L620.8 141.0L622.4 139.4L624.4 137.4L626.7 136.5L628.8 135.5L632.0 135.7L633.9 134.2L635.3 135.3L636.9 136.5L638.7 137.4L640.7 135.3L643.9 135.2L645.8 134.6L648.2 132.7L648.7 130.7L649.5 128.1L651.3 126.3L650.1 124.9L649.9 121.9L649.7 120.5L648.2 118.4L647.3 116.2L646.9 112.8L646.6 110.5L645.5 108.0L645.8 105.7L646.1 103.4L645.0 101.0L645.3 98.7L645.4 97.1L646.6 95.1L647.4 93.1L649.2 92.0L651.9 92.3L654.0 90.3L656.1 90.0L658.3 88.3L659.7 86.8L660.8 83.8L662.3 82.1L664.4 80.9L665.5 78.8L666.6 76.1L668.3 75.1L669.5 72.6L668.4 70.2L668.6 68.3L667.9 66.3L669.3 64.6L670.9 63.3L673.0 61.8L675.0 60.7L676.8 59.8L678.4 58.5L681.0 58.3Z"/>
<path d="M737.9 80.5L736.7 82.5L736.6 85.4L736.7 87.7L735.9 90.0L733.2 90.6L731.6 91.8L729.6 94.4L727.2 94.7L725.0 94.9L722.8 96.5L720.1 95.6L717.7 96.3L715.6 95.7L713.3 95.3L710.9 94.4L708.3 94.7L705.5 94.4L703.9 92.9L701.9 91.5L700.4 93.5L697.9 94.8L695.6 96.3L693.6 95.4L691.5 94.6L689.0 93.3L686.9 92.3L684.4 93.7L683.9 96.5L681.4 97.9L679.1 99.6L678.7 102.1L676.1 103.8L674.3 105.8L676.1 107.3L677.3 110.0L678.2 112.1L678.7 115.0L677.5 117.2L678.2 120.0L679.0 122.3L681.4 123.8L682.9 126.3L684.9 125.8L687.6 126.4L689.3 125.4L691.6 125.6L693.6 125.5L695.2 123.5L696.9 123.0L698.8 121.6L700.8 121.2L703.7 122.1L705.8 121.6L706.7 123.5L709.5 124.4L710.5 125.6L711.4 127.9L712.8 129.7L712.1 132.5L712.9 134.2L712.0 135.5L710.4 136.7L709.8 139.0L709.1 141.3L706.5 142.7L705.8 145.3L704.6 147.6L704.7 150.3L704.7 152.4L703.5 154.8L701.0 155.8L699.6 158.0L700.6 159.8L700.7 162.0L701.9 163.5L703.9 164.9L706.1 165.8L707.6 168.4L709.8 169.0L711.9 169.5L713.2 171.3L714.7 172.7L716.2 174.5L717.2 175.9L718.5 177.7L716.8 178.7L714.8 180.0L713.7 182.4L712.4 184.8L712.0 186.9L712.2 189.5L710.9 191.9L709.6 194.1L707.5 195.9L708.2 197.1L709.5 198.7"/>
<path d="M709.5 198.7L711.7 198.6L713.7 197.3L715.6 197.4L717.7 195.9L719.2 194.0L722.4 193.5L724.0 191.1L726.0 190.3L728.2 189.2L729.9 187.5L731.9 185.6L733.6 186.8L735.9 187.1L738.0 186.8L739.8 188.0L742.6 188.3L743.9 189.9L746.1 191.1L748.3 192.0L750.6 192.6L752.5 194.3L754.6 195.3L756.8 196.5L758.6 196.7L761.1 196.8L763.5 197.5L765.3 196.0L767.7 195.5L769.9 194.3L769.9 192.3L771.4 190.3L770.7 188.0L773.6 187.5L775.6 185.9L778.0 185.6L779.6 184.2L781.2 182.3L784.1 181.6L786.2 180.1L789.0 179.3L791.1 178.1L793.2 177.3L796.0 177.0L798.3 175.4L799.4 173.2L800.8 171.0L801.1 167.7L803.0 165.8L804.9 164.8L806.4 163.0L808.2 161.9L810.1 161.9L810.5 164.3L812.5 165.4L812.3 167.8L814.1 169.0L815.2 170.5L818.0 171.6L818.9 173.7L820.4 175.4L822.2 174.3L824.7 175.1L826.7 173.7L827.2 175.7L829.5 177.0L830.8 178.9L832.3 180.1L834.9 179.7L836.1 177.8L838.4 177.1L841.3 177.4L843.3 176.2L844.5 173.8L845.0 171.6L845.7 169.0L848.4 168.2L850.5 166.6L852.0 165.0L854.0 166.1L855.7 167.5L857.8 168.9L859.3 170.1L861.5 171.4L862.8 169.5L863.0 166.5L864.6 164.2L866.4 163.8L868.2 162.6L869.4 161.1L871.5 162.0L874.0 163.2L877.0 162.2L878.9 163.5L877.4 161.2L876.4 158.7L875.0 157.1L877.7 157.1L879.5 156.2L882.0 154.8L884.2 155.9L886.3 156.7L888.4 156.3L889.9 154.1L891.0 152.1L892.8 150.3L893.2 147.6L893.7 146.0L895.6 144.8L897.1 143.7"/>
<path d="M709.5 198.7L708.8 200.9L708.2 203.8L710.0 205.9L711.1 207.8L713.1 209.3L714.5 210.9L716.3 208.5L718.9 208.1L720.9 206.1L723.2 206.3L726.1 205.6L728.8 206.9L730.4 208.3L731.9 210.1L732.7 211.7L734.3 214.1L734.1 216.2L735.1 218.8L736.8 220.3L739.6 219.7L741.2 220.8L743.0 222.0L745.4 221.1L747.6 220.1L749.3 218.8L751.7 219.5L754.6 219.4L757.2 219.6L759.2 218.6L761.4 219.6L763.5 218.8L765.2 219.9L766.7 221.6L768.2 222.7L768.6 224.8L770.7 226.1L771.4 228.3L769.6 230.6L769.5 233.4L768.2 235.4L767.5 237.6L766.9 239.3L766.6 240.9L764.1 241.1L761.5 240.7L758.8 241.7L756.3 242.6L754.8 244.8L752.5 245.9L750.4 247.2L749.7 250.6L748.5 252.1L746.1 253.8"/>
<path d="M849.1 315.3L851.1 315.0L852.6 314.9L854.7 314.0L855.6 311.5L856.8 309.3L858.2 308.5L859.5 306.8L860.2 305.4"/>
<path d="M852.1 312.5L853.5 312.6L855.1 313.2L856.7 311.9L857.2 309.5"/>
<path d="M865.3 309.0L866.5 308.2L868.3 308.2L869.4 308.9L870.3 310.5L871.6 310.2L873.3 310.8"/>
<path d="M875.9 311.5L877.5 312.1L878.9 312.5L879.5 313.7L880.4 315.6"/>
<path d="M897.6 313.5L899.1 312.8L900.2 312.0L902.0 314.0L902.7 316.6"/>
<path d="M892.1 318.6L894.4 317.9L895.1 316.1L896.3 317.4L897.6 319.1"/>
</g>
<g fill="#500c6c" stroke="#1e0a5c" stroke-width="1.1">
<circle cx="772.2" cy="57.4" r="5.2"/>
<circle cx="795.5" cy="65.2" r="5.2"/>
<circle cx="797.5" cy="81.9" r="5.2"/>
<circle cx="819.6" cy="79.4" r="5.2"/>
<circle cx="849.2" cy="72.5" r="5.2"/>
<circle cx="884.5" cy="81.1" r="3.3"/>
<circle cx="736.7" cy="96.8" r="3.3"/>
<circle cx="764.3" cy="107.5" r="3.3"/>
<circle cx="865.0" cy="109.6" r="3.3"/>
<circle cx="698.4" cy="113.6" r="3.3"/>
<circle cx="791.5" cy="124.9" r="5.2"/>
<circle cx="839.0" cy="123.8" r="3.3"/>
<circle cx="660.8" cy="131.0" r="3.3"/>
<circle cx="760.1" cy="137.4" r="3.3"/>
<circle cx="859.9" cy="147.9" r="3.3"/>
<circle cx="822.8" cy="153.2" r="3.3"/>
<circle cx="705.8" cy="157.1" r="3.3"/>
<circle cx="681.4" cy="162.7" r="3.3"/>
<circle cx="732.7" cy="168.2" r="3.3"/>
<circle cx="792.7" cy="168.2" r="3.3"/>
<circle cx="767.1" cy="177.9" r="3.3"/>
<circle cx="926.8" cy="172.8" r="3.3"/>
<circle cx="636.7" cy="184.8" r="3.3"/>
<circle cx="840.7" cy="196.4" r="2" fill="#1a1262" stroke="none"/>
<circle cx="679.3" cy="202.7" r="3.3"/>
<circle cx="633.1" cy="210.5" r="3.3"/>
<circle cx="973.6" cy="207.1" r="3.3"/>
<circle cx="892.6" cy="209.5" r="2" fill="#1a1262" stroke="none"/>
<circle cx="934.6" cy="215.4" r="2" fill="#1a1262" stroke="none"/>
<circle cx="786.5" cy="226.8" r="2" fill="#1a1262" stroke="none"/>
<circle cx="843.3" cy="225.3" r="2" fill="#1a1262" stroke="none"/>
<circle cx="886.4" cy="232.8" r="2" fill="#1a1262" stroke="none"/>
<circle cx="918.9" cy="245.8" r="2" fill="#1a1262" stroke="none"/>
<circle cx="964.7" cy="242.9" r="2" fill="#1a1262" stroke="none"/>
<circle cx="664.8" cy="247.1" r="3.3"/>
<circle cx="757.7" cy="245.3" r="2" fill="#1a1262" stroke="none"/>
<circle cx="779.8" cy="256.4" r="2" fill="#1a1262" stroke="none"/>
<circle cx="676.1" cy="261.6" r="2" fill="#1a1262" stroke="none"/>
<circle cx="848.1" cy="275.4" r="2" fill="#1a1262" stroke="none"/>
<circle cx="921.7" cy="274.6" r="2" fill="#1a1262" stroke="none"/>
<circle cx="888.8" cy="283.5" r="2" fill="#1a1262" stroke="none"/>
<circle cx="796.0" cy="286.9" r="2" fill="#1a1262" stroke="none"/>
<circle cx="863.2" cy="300.5" r="3.3"/>
</g>
<rect x="522" y="16.2" width="478.5" height="329.5" fill="none" stroke="#565656" stroke-width="1.6"/>
<path d="M533.3 16.2v-3.3M533.3 345.7v3.3M684.3 16.2v-3.3M684.3 345.7v3.3M835.5 16.2v-3.3M835.5 345.7v3.3M988 16.2v-3.3M988 345.7v3.3M522 146.6h-3M1000.5 146.6h3M522 298.9h-3M1000.5 298.9h3" stroke="#565656" stroke-width="1" fill="none"/>
<g font-family='"Liberation Serif", serif' font-size="11.1" fill="#222222" stroke="#2a2a2a" stroke-width="0.22" text-anchor="middle">
<text x="531.3" y="11.5">100°E</text>
<text x="529.8" y="358.6">100°E</text>
<text x="682.3" y="11.5">104°E</text>
<text x="680.8" y="358.6">104°E</text>
<text x="833.5" y="11.5">108°E</text>
<text x="832" y="358.6">108°E</text>
<text x="986" y="11.5">112°E</text>
<text x="984.5" y="358.6">112°E</text>
<text font-size="11" transform="translate(518.8 148.3) rotate(-90)">26°N</text>
<text font-size="11" transform="translate(1013.5 148.9) rotate(-90)">26°N</text>
<text font-size="11" transform="translate(518.8 300.6) rotate(-90)">22°N</text>
<text font-size="11" transform="translate(1013.5 298) rotate(-90)">22°N</text>
</g>
<text x="553" y="46" font-family='"Liberation Sans", sans-serif' font-size="12.3" text-anchor="middle" fill="#111" stroke="#111" stroke-width="0.3">N</text>
<path d="M553 50l-8.3 28.7l8.3-10.5z" fill="#000" stroke="#000" stroke-width="0.4" stroke-linejoin="miter"/>
<path d="M553 50l8.2 28.4l-8.2-10.2z" fill="#fff" stroke="#000" stroke-width="0.75" stroke-linejoin="miter"/>
<text x="973" y="46.1" font-family='"Liberation Serif", serif' font-size="16.6" font-weight="bold" text-anchor="middle" fill="#111" stroke="#111" stroke-width="0.25" xml:space="preserve">( b )</text>
<g font-family='"Liberation Serif", serif' font-size="13.4" fill="#141414" stroke="#141414" stroke-width="0.42">
<text x="528" y="218.9">GWR coefficient</text>
<text x="528" y="234.5">for precipitation</text>
<text x="551.8" y="255" font-size="12">High: 0.0001</text>
<text x="551.8" y="275" font-size="12">Low: -0.0001</text>
<text x="528" y="294.5">Std Err</text>
<text x="551.3" y="313.3" font-size="12">&lt; 0.00005</text>
<text x="551.3" y="327" font-size="12">0.00005 - 0.00006</text>
<text x="551.3" y="340.8" font-size="12">&gt; 0.00006</text>
</g>
<circle cx="537.5" cy="309.5" r="0.8" fill="#2c0a78"/>
<circle cx="537.5" cy="323.8" r="1.8" fill="#2c0a78"/>
<circle cx="537.5" cy="337" r="3.2" fill="#2c0a78"/>
<rect x="528" y="251.3" width="18.2" height="19.2" fill="url(#ramp)"/>
<path d="M546.5 260.9h1.2" stroke="#222" stroke-width="0.9"/>
<rect x="702" y="337.6" width="50.6" height="3.6" fill="#fff" stroke="#3c3c3c" stroke-width="0.9"/>
<rect x="650.8" y="337.1" width="51.2" height="4.5" fill="#000"/>
<g font-family='"Liberation Serif", serif' font-size="12" fill="#141414" stroke="#141414" stroke-width="0.3" text-anchor="middle">
<text x="650.8" y="332">0</text>
<text x="702.5" y="332">150</text>
<text x="749.5" y="332">300</text>
<text x="753.5" y="342.2" font-size="13.3" text-anchor="start">Km</text>
</g>
<g clip-path="url(#cpc)"><g filter="url(#vb)"><rect x="112.8" y="408.00" width="365.2" height="12.12" fill="url(#gc0)"/><rect x="112.8" y="419.52" width="365.2" height="4.12" fill="url(#gc1)"/><rect x="112.8" y="423.04" width="365.2" height="4.12" fill="url(#gc2)"/><rect x="112.8" y="426.56" width="365.2" height="4.12" fill="url(#gc3)"/><rect x="112.8" y="430.08" width="365.2" height="4.12" fill="url(#gc4)"/><rect x="112.8" y="433.61" width="365.2" height="4.12" fill="url(#gc5)"/><rect x="112.8" y="437.13" width="365.2" height="4.12" fill="url(#gc6)"/><rect x="112.8" y="440.65" width="365.2" height="4.12" fill="url(#gc7)"/><rect x="112.8" y="444.17" width="365.2" height="4.12" fill="url(#gc8)"/><rect x="112.8" y="447.69" width="365.2" height="4.12" fill="url(#gc9)"/><rect x="112.8" y="451.21" width="365.2" height="4.12" fill="url(#gc10)"/><rect x="112.8" y="454.73" width="365.2" height="4.12" fill="url(#gc11)"/><rect x="112.8" y="458.25" width="365.2" height="4.12" fill="url(#gc12)"/><rect x="112.8" y="461.77" width="365.2" height="4.12" fill="url(#gc13)"/><rect x="112.8" y="465.30" width="365.2" height="4.12" fill="url(#gc14)"/><rect x="112.8" y="468.82" width="365.2" height="4.12" fill="url(#gc15)"/><rect x="112.8" y="472.34" width="365.2" height="4.12" fill="url(#gc16)"/><rect x="112.8" y="475.86" width="365.2" height="4.12" fill="url(#gc17)"/><rect x="112.8" y="479.38" width="365.2" height="4.12" fill="url(#gc18)"/><rect x="112.8" y="482.90" width="365.2" height="4.12" fill="url(#gc19)"/><rect x="112.8" y="486.42" width="365.2" height="4.12" fill="url(#gc20)"/><rect x="112.8" y="489.94" width="365.2" height="4.12" fill="url(#gc21)"/><rect x="112.8" y="493.46" width="365.2" height="4.12" fill="url(#gc22)"/><rect x="112.8" y="496.99" width="365.2" height="4.12" fill="url(#gc23)"/><rect x="112.8" y="500.51" width="365.2" height="4.12" fill="url(#gc24)"/><rect x="112.8" y="504.03" width="365.2" height="4.12" fill="url(#gc25)"/><rect x="112.8" y="507.55" width="365.2" height="4.12" fill="url(#gc26)"/><rect x="112.8" y="511.07" width="365.2" height="4.12" fill="url(#gc27)"/><rect x="112.8" y="514.59" width="365.2" height="4.12" fill="url(#gc28)"/><rect x="112.8" y="518.11" width="365.2" height="4.12" fill="url(#gc29)"/><rect x="112.8" y="521.63" width="365.2" height="4.12" fill="url(#gc30)"/><rect x="112.8" y="525.15" width="365.2" height="4.12" fill="url(#gc31)"/><rect x="112.8" y="528.68" width="365.2" height="4.12" fill="url(#gc32)"/><rect x="112.8" y="532.20" width="365.2" height="4.12" fill="url(#gc33)"/><rect x="112.8" y="535.72" width="365.2" height="4.12" fill="url(#gc34)"/><rect x="112.8" y="539.24" width="365.2" height="4.12" fill="url(#gc35)"/><rect x="112.8" y="542.76" width="365.2" height="4.12" fill="url(#gc36)"/><rect x="112.8" y="546.28" width="365.2" height="4.12" fill="url(#gc37)"/><rect x="112.8" y="549.80" width="365.2" height="4.12" fill="url(#gc38)"/><rect x="112.8" y="553.32" width="365.2" height="4.12" fill="url(#gc39)"/><rect x="112.8" y="556.85" width="365.2" height="4.12" fill="url(#gc40)"/><rect x="112.8" y="560.37" width="365.2" height="4.12" fill="url(#gc41)"/><rect x="112.8" y="563.89" width="365.2" height="4.12" fill="url(#gc42)"/><rect x="112.8" y="567.41" width="365.2" height="4.12" fill="url(#gc43)"/><rect x="112.8" y="570.93" width="365.2" height="4.12" fill="url(#gc44)"/><rect x="112.8" y="574.45" width="365.2" height="4.12" fill="url(#gc45)"/><rect x="112.8" y="577.97" width="365.2" height="4.12" fill="url(#gc46)"/><rect x="112.8" y="581.49" width="365.2" height="4.12" fill="url(#gc47)"/><rect x="112.8" y="585.01" width="365.2" height="4.12" fill="url(#gc48)"/><rect x="112.8" y="588.54" width="365.2" height="4.12" fill="url(#gc49)"/><rect x="112.8" y="592.06" width="365.2" height="4.12" fill="url(#gc50)"/><rect x="112.8" y="595.58" width="365.2" height="4.12" fill="url(#gc51)"/><rect x="112.8" y="599.10" width="365.2" height="4.12" fill="url(#gc52)"/><rect x="112.8" y="602.62" width="365.2" height="4.12" fill="url(#gc53)"/><rect x="112.8" y="606.14" width="365.2" height="4.12" fill="url(#gc54)"/><rect x="112.8" y="609.66" width="365.2" height="4.12" fill="url(#gc55)"/><rect x="112.8" y="613.18" width="365.2" height="4.12" fill="url(#gc56)"/><rect x="112.8" y="616.70" width="365.2" height="4.12" fill="url(#gc57)"/><rect x="112.8" y="620.23" width="365.2" height="4.12" fill="url(#gc58)"/><rect x="112.8" y="623.75" width="365.2" height="4.12" fill="url(#gc59)"/><rect x="112.8" y="627.27" width="365.2" height="4.12" fill="url(#gc60)"/><rect x="112.8" y="630.79" width="365.2" height="4.12" fill="url(#gc61)"/><rect x="112.8" y="634.31" width="365.2" height="4.12" fill="url(#gc62)"/><rect x="112.8" y="637.83" width="365.2" height="4.12" fill="url(#gc63)"/><rect x="112.8" y="641.35" width="365.2" height="4.12" fill="url(#gc64)"/><rect x="112.8" y="644.87" width="365.2" height="4.12" fill="url(#gc65)"/><rect x="112.8" y="648.39" width="365.2" height="4.12" fill="url(#gc66)"/><rect x="112.8" y="651.92" width="365.2" height="4.12" fill="url(#gc67)"/><rect x="112.8" y="655.44" width="365.2" height="4.12" fill="url(#gc68)"/><rect x="112.8" y="658.96" width="365.2" height="4.12" fill="url(#gc69)"/><rect x="112.8" y="662.48" width="365.2" height="11.52" fill="url(#gc70)"/></g></g>
<g fill="none" stroke="#777777" stroke-width="2.5" stroke-linejoin="round" stroke-linecap="round">
<path d="M171.3 415.4L169.9 413.8L169.1 411.2L168.8 408.9L169.5 407.2L170.3 405.1L171.3 403.3L173.9 404.5L175.9 405.2L178.5 404.8L180.7 405.2L182.1 403.5L184.7 404.1L186.6 403.7L188.9 404.4L191.5 404.6L193.8 404.8L192.9 405.6L192.3 407.3L190.0 408.1L187.4 408.9L187.6 411.0L188.6 413.6L187.9 415.7L190.2 416.5L191.9 416.1L193.8 417.8L194.1 420.4L193.0 422.4L193.5 424.8L192.3 426.7L194.5 428.0L195.3 430.2L196.4 431.8L198.0 433.2L200.3 432.4L202.6 433.4L205.1 433.0L207.1 432.9L209.2 432.4L211.2 431.0L213.6 429.6L215.1 428.6L216.8 426.1L219.0 425.1L221.3 426.8L223.0 428.8L225.4 429.2L225.8 431.5L225.8 433.2L227.4 435.0L227.5 437.9L228.3 439.6L230.4 438.3L233.4 438.8L236.3 439.1L238.2 440.2L240.6 441.0L243.2 442.2L245.5 440.9L247.9 441.0L250.1 440.0L252.9 439.0L255.1 439.8L258.1 438.7L259.9 438.0L262.6 438.2L264.7 437.5L266.1 435.6L268.2 435.0L268.0 432.2L266.1 430.2L265.8 427.7L264.6 426.1L262.3 425.4L260.7 424.5L258.5 423.7L256.5 424.0L254.6 422.6L252.2 423.3L250.4 422.8L249.0 421.7L249.0 419.7L248.0 418.0L245.5 417.3L243.2 417.1L241.6 415.5L241.6 412.5L240.0 410.5L240.3 408.8L242.1 407.1L243.2 405.9L245.6 404.9L247.4 404.3L249.6 405.0L251.3 403.6L251.9 401.6L253.7 400.2L255.7 401.6L257.3 402.4L259.6 403.9L261.0 405.0L262.8 405.5L263.9 407.6L266.1 408.7L268.2 409.1L270.6 408.9L272.6 407.7L274.7 405.9L274.7 403.8L273.3 401.6L273.1 399.7L272.2 397.8L274.5 398.9L275.9 400.3L277.9 401.8L278.1 404.5L278.8 406.5L277.9 409.1L279.4 410.3L281.0 410.4L282.8 411.4L282.7 409.0L284.7 407.2L286.0 404.9L286.0 402.2L286.8 400.2L288.9 398.2L290.4 397.3L293.4 396.7L294.9 394.5L296.2 396.2L299.2 396.4L300.2 398.6L303.0 399.3L305.0 397.4L306.6 395.4L308.6 393.7L309.2 391.6L308.4 389.7L307.8 388.0L309.5 386.6L309.9 384.5L311.0 382.3L313.6 382.2L315.4 383.6L317.8 383.4L320.0 383.4L322.4 383.2L323.6 384.8L324.3 386.9L324.7 389.4L326.4 391.2L328.6 390.5L330.6 388.8L333.0 388.8L334.5 387.2L336.9 386.4L339.0 387.5L342.0 387.6L344.2 387.2L343.8 389.7L346.0 391.3L345.0 393.8L345.9 396.4L346.6 398.5L345.8 400.8L344.9 402.5L347.6 402.3L350.2 403.4L352.1 403.8L354.8 404.2L357.2 405.0L357.3 407.9L355.7 409.7L355.0 412.6L354.7 414.8L357.1 414.1L359.8 413.4L361.9 412.3L361.5 414.7L362.9 417.5L361.9 420.3L364.8 420.7L367.6 420.4L369.8 420.7L372.5 422.0L373.4 419.7L375.0 418.8L374.8 415.9L376.1 413.7L377.3 412.3L379.3 411.3L381.4 409.9L381.6 412.1L381.5 414.4L382.8 416.1L383.0 418.0L383.0 420.0L384.2 421.4L385.4 422.8L385.4 425.0L385.8 427.6L385.1 430.2L384.6 432.5L385.3 434.9L386.1 436.9L387.6 438.7L388.6 440.6L387.6 442.7L388.0 444.8L387.0 446.2L385.7 447.9L382.8 448.5L380.7 449.9L378.9 451.9L377.4 454.5L375.5 455.7L374.1 458.4L371.7 458.9L369.3 461.0L367.6 462.5L365.7 463.6L364.1 465.2L363.6 467.3L366.1 465.6L368.3 465.3L370.8 464.1L372.7 463.7L375.2 463.6L377.3 463.2L379.2 462.4L381.6 462.4L383.4 462.1L385.4 462.5L387.2 464.4L389.2 465.3L391.1 467.3L392.3 468.8L390.9 471.0L391.9 473.0L390.8 474.4L390.4 476.6L388.6 477.8L386.3 478.0L385.0 480.3L383.0 481.0L384.2 482.6L385.5 485.0L386.2 486.7L386.0 488.7L383.9 490.0L384.0 492.5L382.3 494.2L384.5 495.7L386.1 496.3L388.6 496.3L388.3 498.2L389.9 500.3L390.7 502.7L391.1 504.3L392.8 505.9L395.1 507.2L397.2 507.9L399.3 509.3L400.4 512.0L401.3 509.4L403.1 508.1L403.6 505.5L405.9 504.8L407.0 502.1L409.3 500.6L411.3 502.8L412.3 504.5L414.9 506.3L417.1 506.4L419.0 507.0L420.6 507.9L422.3 506.3L423.8 504.9L424.5 502.4L426.2 501.4L428.1 499.8L428.6 497.7L431.4 496.5L432.7 495.0L435.0 495.4L436.7 495.1L439.0 497.3L440.7 497.4L442.6 495.8L445.0 494.4L447.2 493.4L448.9 494.2L449.9 495.7L452.1 496.6L454.6 497.6L457.1 498.1L459.3 497.4L458.8 499.7L458.8 502.3L459.3 504.6L458.3 507.0L457.0 508.7L458.9 510.0L460.2 511.4L461.8 512.0L463.9 513.1L466.1 513.3L468.2 512.8L466.6 515.0L465.1 516.4L464.2 518.4L462.2 519.9L462.9 522.8L461.0 524.1L459.5 526.2L457.7 527.8L456.4 529.9L456.1 532.2L453.9 533.1L453.3 535.8L450.6 536.7L449.7 538.7L448.4 540.6L448.1 542.9L446.4 545.1L448.2 547.1L449.7 549.2L452.3 547.9L453.5 545.5L455.3 543.5L457.1 542.1L459.9 542.7L461.8 541.9L462.4 544.5L464.3 546.6L465.9 548.4L465.8 550.4L466.1 553.2L466.9 554.9L466.9 557.7L468.2 559.6L469.5 557.8L470.8 556.7L473.1 555.7L475.4 555.9L476.9 555.4L478.8 554.8L481.2 554.9L483.1 554.8L485.7 556.4L487.7 556.5L487.4 559.3L487.8 562.3L486.9 564.6L487.6 566.7L488.9 569.2L490.1 571.6L487.8 573.1L487.6 575.9L485.5 577.2L485.7 579.8L483.6 581.5L483.2 584.1L482.8 586.6L481.4 588.6L479.5 588.5L478.4 590.6L476.3 591.4L474.6 593.5L474.1 595.1L473.6 597.8L471.5 599.5L469.3 600.2L467.4 601.9L465.0 603.6L464.8 606.0L463.6 607.5L463.9 610.2L462.7 612.5L463.7 614.7L463.2 617.2L465.0 619.6L465.0 622.2L463.2 624.0L463.1 626.5L460.9 627.8L459.5 629.3L458.6 631.9L456.3 632.9L454.4 632.9L452.4 634.5L450.5 636.0L447.8 636.5L445.7 637.4L443.0 638.2L440.8 640.0L439.1 641.7L438.8 644.6L436.8 646.4L437.7 649.0L438.9 650.6L440.0 652.8L437.5 653.5L436.3 655.5L434.8 656.9L432.7 657.8L430.9 657.8L428.8 658.2L426.5 656.6L424.6 657.0L424.5 659.7L424.9 662.0L423.6 663.8L423.9 666.6L421.2 666.1L419.0 667.0L417.1 667.3L415.1 667.3L413.2 667.7L411.8 669.1L409.4 668.3L407.9 669.6L407.6 671.9L406.9 673.0L406.0 674.9L404.5 675.9L402.7 677.4L401.4 678.8L401.6 680.8L400.4 682.5L400.1 684.7L399.2 682.3L396.9 681.1L396.1 678.8L395.5 677.1L394.7 675.2L393.6 673.6L392.4 674.9L391.1 675.9L389.6 677.6L390.0 679.9L390.9 682.8L388.6 684.0L386.6 684.6L384.4 684.7L382.0 686.2L379.7 685.6L377.7 687.4L375.8 685.6L373.8 685.5L374.6 683.3L376.5 681.5L375.3 680.0L375.1 677.6L373.0 677.7L371.1 678.0L368.3 678.0L366.6 678.2L367.3 675.6L368.5 673.6L366.1 672.6L364.6 671.0L363.0 672.9L362.6 675.1L360.7 676.3L359.3 674.7L357.6 672.7L356.7 671.0L355.0 669.2L354.2 667.0L352.4 669.3L350.2 669.6L348.3 671.1L347.6 673.0L346.3 674.9L344.3 676.7L342.4 678.2L340.4 679.9L338.9 681.7L337.1 682.8L335.1 682.8L332.7 682.7L330.5 681.5L328.5 679.4L326.5 678.6L323.9 677.6L321.8 678.3L319.6 677.6L317.1 678.0L314.7 678.2L312.4 678.2L310.7 679.8L308.2 679.6L307.1 677.4L305.4 676.2L304.2 674.9L302.0 674.5L300.7 672.9L298.1 671.8L296.3 671.0L294.8 670.1L293.9 667.6L292.4 666.3L290.3 666.1L288.4 665.3L286.5 663.8L284.0 663.5L283.8 660.9L281.8 658.9L281.1 656.6L281.1 654.2L279.1 653.1L278.3 651.0L277.1 649.3L277.9 646.8L276.7 644.7L277.9 642.1L280.6 642.2L282.8 640.4L284.2 638.6L284.8 636.9L285.3 634.2L286.0 632.3L283.5 631.2L281.6 629.2L278.7 629.1L277.1 627.5L274.9 627.7L272.3 627.7L269.9 629.0L267.4 629.1L265.6 628.2L263.4 626.4L260.8 626.3L259.3 625.1L257.6 626.5L254.9 625.7L253.1 627.3L250.4 627.5L248.7 626.7L247.3 624.9L244.7 623.5L243.2 622.3L240.9 621.9L238.3 621.8L236.6 619.3L236.7 617.0L234.4 616.5L232.8 614.5L231.2 612.7L230.0 611.0L227.9 610.5L225.6 611.8L222.8 612.3L220.6 613.9L219.0 615.4L216.6 616.9L214.4 617.3L212.3 618.4L210.1 620.2L210.5 622.9L208.3 624.5L209.1 626.7L208.4 629.1L206.0 628.8L203.3 630.0L201.2 630.8L199.0 632.4L197.2 633.7L195.7 635.1L193.3 635.5L191.4 637.2L190.1 634.4L187.9 633.2L186.6 630.8L185.1 632.6L182.7 632.5L180.3 632.8L178.5 634.8L178.0 636.9L177.7 640.0L176.8 642.4L176.1 644.5L174.8 642.4L171.9 641.6L171.5 639.1L168.2 638.4L167.2 636.4L165.9 634.9L163.6 634.0L163.1 631.6L161.2 630.4L159.1 629.1L157.7 627.6L156.2 626.4L154.5 624.1L152.7 623.4L150.5 622.8L148.6 621.7L145.5 622.3L143.6 620.7L141.4 620.2L138.7 619.8L137.9 617.8L135.4 616.3L133.1 615.9L131.7 614.5L129.2 613.1L126.9 613.5L124.4 613.0L123.5 610.4L122.6 608.2L122.8 605.6L123.8 603.3L125.1 601.9L125.4 599.5L126.0 597.5L126.2 595.7L125.7 593.4L126.4 591.7L126.8 589.5L125.9 587.9L125.4 585.7L124.4 583.5L121.8 582.9L120.3 581.2L118.0 579.8L117.2 577.7L115.6 575.6L113.9 573.9L112.6 571.3L110.7 570.4L109.4 568.6L107.4 566.7L105.5 566.8L102.8 567.6L100.7 566.8L98.6 567.5L99.0 565.4L97.1 563.2L96.9 561.0L97.7 558.8L97.8 556.5L98.6 554.9L100.1 552.9L102.0 551.2L104.1 549.9L105.9 549.8L108.2 548.9L107.5 546.5L107.4 544.0L109.1 543.0L110.7 543.2L112.4 541.3L113.9 539.4L113.6 536.9L115.5 535.1L114.2 533.2L112.5 531.2L111.7 528.7L109.8 527.0L107.2 527.8L105.7 530.8L103.3 531.1L101.9 529.1L100.8 526.9L101.3 524.4L100.1 522.2L100.2 519.9L99.3 517.2L97.2 516.0L96.9 513.2L97.7 510.9L99.7 509.1L100.8 507.2L102.3 506.3L104.1 504.3L106.5 503.1L107.8 500.8L109.5 499.2L112.2 497.9L114.7 497.2L116.7 495.8L119.7 496.4L121.9 494.7L123.3 495.6L125.8 496.1L126.8 497.9L128.7 496.4L130.4 495.5L132.9 495.2L134.6 493.7L136.5 493.1L137.8 490.7L139.2 488.7L139.7 486.5L138.6 485.0L137.3 483.0L137.2 480.7L136.5 478.4L135.5 476.6L135.4 474.9L135.9 472.2L134.9 470.4L133.8 468.2L134.3 465.8L133.7 462.9L133.3 460.6L133.2 458.4L135.3 456.7L134.9 454.9L135.7 452.6L138.6 452.4L140.1 451.6L142.7 450.2L144.6 449.3L146.5 447.1L147.7 445.7L149.3 442.7L151.0 441.3L153.4 439.6L153.4 437.2L155.4 435.9L157.5 434.0L158.3 431.5L158.2 429.2L156.9 427.0L156.7 425.1L158.2 423.3L160.4 422.0L162.3 421.2L163.9 419.4L165.4 418.2L167.1 416.6L168.9 415.6Z"/>
<path d="M228.3 439.6L226.8 442.0L227.3 444.9L225.7 446.9L226.2 449.3L223.9 451.1L221.4 451.3L219.7 453.0L217.3 454.2L214.9 455.0L212.5 455.0L210.1 454.8L207.6 455.8L205.3 456.2L203.2 454.8L200.6 455.0L198.0 454.2L195.0 453.8L193.2 452.1L191.4 450.9L189.6 452.4L188.7 453.9L186.7 455.1L185.0 455.8L182.5 455.2L180.6 454.5L178.5 452.0L176.1 451.7L173.5 453.5L172.1 454.8L170.4 457.4L169.4 459.3L167.1 459.8L166.0 461.7L165.3 464.2L163.2 465.5L164.8 467.9L165.2 470.1L167.2 472.0L166.3 474.4L168.1 477.4L167.2 480.1L169.3 482.3L171.4 484.1L172.1 486.5L174.5 485.9L176.7 485.2L178.8 486.6L180.9 485.8L183.3 485.2L185.0 484.3L186.9 483.5L188.2 481.7L190.6 482.1L192.7 482.7L195.5 481.7L196.4 483.5L197.9 485.0L200.1 486.5L201.2 488.2L201.9 490.4L201.8 492.3L202.7 494.7L201.4 495.9L200.7 498.0L199.5 499.6L198.5 501.7L197.3 504.3L195.5 506.0L194.4 508.1L194.2 510.5L193.5 513.1L193.1 515.7L191.2 517.6L189.1 518.9L189.9 520.8L191.1 522.8L191.4 524.6L193.8 525.8L196.3 526.9L196.8 529.5L199.5 530.2L201.0 531.4L203.1 533.1L204.1 534.5L206.0 535.9L206.5 538.1L208.4 539.1L207.5 541.3L205.5 543.1L203.5 544.0L203.2 546.5L201.8 548.7L202.0 551.3L201.7 553.2L200.0 555.0L198.2 555.9L197.1 557.8L198.3 558.7L199.2 560.7"/>
<path d="M199.2 560.7L201.1 559.1L203.6 559.8L205.6 558.9L207.6 557.8L208.4 556.1L211.4 555.7L212.9 555.0L214.1 552.9L216.5 551.8L218.5 550.2L220.5 549.5L222.2 547.2L224.0 548.3L226.3 549.2L228.2 550.0L230.2 549.7L231.7 551.4L234.8 551.1L236.7 552.9L238.9 554.5L240.4 555.5L243.2 556.1L245.4 557.1L247.8 556.8L249.5 558.5L251.7 559.4L254.4 559.4L256.1 557.6L259.2 557.6L261.0 556.1L261.9 554.3L260.9 552.0L261.8 549.7L263.8 548.1L266.9 548.4L268.8 546.0L270.6 545.6L272.9 543.5L275.5 543.2L277.5 541.6L280.3 540.8L282.8 540.9L285.5 539.7L287.3 537.5L290.0 536.8L290.7 534.7L291.9 532.5L292.6 531.0L294.8 529.2L294.9 527.0L296.3 525.2L298.4 525.4L299.9 523.8L302.1 523.0L303.9 524.4L304.9 526.2L305.2 528.5L306.2 530.2L307.0 532.1L310.0 533.1L311.0 534.8L312.7 536.8L314.4 535.7L317.1 536.5L319.1 535.1L320.4 536.9L321.5 538.7L323.6 540.0L324.8 541.6L326.6 540.6L329.9 540.8L331.7 539.1L333.9 539.0L336.1 537.6L336.2 535.2L338.5 532.6L338.5 530.2L340.9 528.6L342.7 527.5L344.9 526.2L347.2 527.1L349.2 528.8L350.4 531.0L352.7 531.2L354.7 532.7L356.7 530.5L356.9 528.3L357.9 525.4L359.9 525.2L360.9 523.4L362.7 522.2L365.2 523.8L367.9 523.3L370.1 525.1L372.5 524.6L370.6 523.2L369.5 520.5L368.4 518.1L370.4 516.9L373.4 515.9L375.7 515.7L377.4 516.8L380.3 516.7L382.2 517.3L383.0 514.8L384.4 512.3L385.8 510.8L387.0 508.4L388.6 507.5L389.6 505.1L391.1 504.3"/>
<path d="M199.2 560.7L197.9 562.8L197.9 565.9L200.3 567.4L201.4 569.6L202.8 570.8L204.4 573.1L206.1 570.9L209.2 570.1L210.8 568.2L212.8 568.1L215.0 569.1L217.1 569.4L219.0 569.1L220.4 570.9L221.9 572.4L223.0 573.9L223.8 576.0L223.9 578.7L225.4 581.2L227.5 582.2L229.4 583.1L230.9 584.5L233.4 584.5L235.8 583.3L238.0 583.2L240.0 581.2L242.3 580.5L243.9 581.9L246.3 582.7L248.0 582.0L250.1 581.5L252.2 581.6L254.4 581.2L256.0 582.3L257.2 584.4L259.3 585.3L259.8 587.8L261.4 588.8L262.6 590.9L262.4 593.6L259.8 595.6L259.3 598.2L258.3 599.6L257.6 602.2L257.6 603.9L255.4 605.1L252.3 603.7L249.6 604.7L247.4 606.6L244.6 607.1L243.2 608.9L241.9 611.3L240.6 613.5L237.9 614.5L236.7 617.0"/>
<path d="M341.9 680.0L343.9 679.8L345.6 679.6L346.4 677.4L348.7 676.1L350.0 674.2L351.3 673.0L352.7 671.6L353.3 669.9"/>
<path d="M345.0 677.2L347.0 677.1L348.2 677.9L348.8 675.5L350.2 674.1"/>
<path d="M358.5 673.6L360.3 672.6L361.6 672.7L363.1 673.1L363.7 675.1L364.9 676.0L366.8 675.4"/>
<path d="M369.4 676.1L370.7 676.8L372.5 677.2L373.1 678.9L374.0 680.3"/>
<path d="M391.6 678.2L392.9 677.4L394.2 676.7L394.9 679.0L396.8 681.3"/>
<path d="M385.9 683.4L387.4 682.7L389.0 680.8L389.8 682.7L391.6 683.9"/>
</g>
<g fill="#960a84" stroke="#520a6c" stroke-width="1.1">
<circle cx="263.3" cy="416.0" r="5.4"/>
<circle cx="287.1" cy="424.0" r="5.4"/>
<circle cx="289.2" cy="441.1" r="5.4"/>
<circle cx="311.8" cy="438.5" r="5.4"/>
<circle cx="342.0" cy="431.4" r="5.4"/>
<circle cx="378.1" cy="440.3" r="5.4"/>
<circle cx="227.0" cy="456.3" r="3.6"/>
<circle cx="255.3" cy="467.3" r="3.6"/>
<circle cx="358.2" cy="469.4" r="5.4"/>
<circle cx="187.9" cy="473.6" r="1.2" fill="#80081e" stroke="none"/>
<circle cx="283.1" cy="485.1" r="3.6"/>
<circle cx="331.6" cy="483.9" r="5.4"/>
<circle cx="149.5" cy="491.4" r="3.6"/>
<circle cx="250.9" cy="497.9" r="3.6"/>
<circle cx="353.1" cy="508.7" r="5.4"/>
<circle cx="315.1" cy="514.1" r="5.4"/>
<circle cx="195.5" cy="518.1" r="3.6"/>
<circle cx="170.4" cy="523.8" r="3.6"/>
<circle cx="223.0" cy="529.4" r="3.6"/>
<circle cx="284.3" cy="529.4" r="3.6"/>
<circle cx="258.2" cy="539.3" r="3.6"/>
<circle cx="421.4" cy="534.2" r="5.4"/>
<circle cx="124.8" cy="546.4" r="3.6"/>
<circle cx="333.4" cy="558.3" r="5.4"/>
<circle cx="168.4" cy="564.7" r="3.6"/>
<circle cx="121.1" cy="572.7" r="3.6"/>
<circle cx="469.3" cy="569.3" r="5.4"/>
<circle cx="386.4" cy="571.8" r="5.4"/>
<circle cx="429.5" cy="577.8" r="5.4"/>
<circle cx="277.9" cy="589.5" r="5.4"/>
<circle cx="336.1" cy="587.9" r="5.4"/>
<circle cx="380.1" cy="595.6" r="5.4"/>
<circle cx="413.3" cy="608.8" r="5.4"/>
<circle cx="460.2" cy="605.9" r="5.4"/>
<circle cx="153.5" cy="610.2" r="3.6"/>
<circle cx="248.5" cy="608.3" r="5.4"/>
<circle cx="271.1" cy="619.7" r="5.4"/>
<circle cx="165.1" cy="625.1" r="5.4"/>
<circle cx="340.9" cy="639.2" r="5.4"/>
<circle cx="416.2" cy="638.3" r="5.4"/>
<circle cx="382.6" cy="647.5" r="5.4"/>
<circle cx="287.6" cy="651.0" r="5.4"/>
<circle cx="356.4" cy="664.9" r="5.4"/>
</g>
<rect x="13.3" y="375.8" width="485.2" height="335.5" fill="none" stroke="#565656" stroke-width="1.6"/>
<path d="M24.5 375.8v-3.3M24.5 711.3v3.3M178 375.8v-3.3M178 711.3v3.3M331.8 375.8v-3.3M331.8 711.3v3.3M486 375.8v-3.3M486 711.3v3.3M13.3 509.1h-3M498.5 509.1h3M13.3 663.9h-3M498.5 663.9h3" stroke="#565656" stroke-width="1" fill="none"/>
<g font-family='"Liberation Serif", serif' font-size="11.1" fill="#222222" stroke="#2a2a2a" stroke-width="0.22" text-anchor="middle">
<text x="22.5" y="372">100°E</text>
<text x="21" y="724.6">100°E</text>
<text x="176" y="372">104°E</text>
<text x="174.5" y="724.6">104°E</text>
<text x="329.8" y="372">108°E</text>
<text x="328.3" y="724.6">108°E</text>
<text x="484" y="372">112°E</text>
<text x="482.5" y="724.6">112°E</text>
<text font-size="11" transform="translate(9.8 510.8) rotate(-90)">26°N</text>
<text font-size="11" transform="translate(511 511.4) rotate(-90)">26°N</text>
<text font-size="11" transform="translate(9.8 665.6) rotate(-90)">22°N</text>
<text font-size="11" transform="translate(511 663) rotate(-90)">22°N</text>
</g>
<text x="44.3" y="407.5" font-family='"Liberation Sans", sans-serif' font-size="12.3" text-anchor="middle" fill="#111" stroke="#111" stroke-width="0.3">N</text>
<path d="M44.3 411.5l-8.3 28.7l8.3-10.5z" fill="#000" stroke="#000" stroke-width="0.4" stroke-linejoin="miter"/>
<path d="M44.3 411.5l8.2 28.4l-8.2-10.2z" fill="#fff" stroke="#000" stroke-width="0.75" stroke-linejoin="miter"/>
<text x="470.5" y="407.1" font-family='"Liberation Serif", serif' font-size="16.6" font-weight="bold" text-anchor="middle" fill="#111" stroke="#111" stroke-width="0.25" xml:space="preserve">( c )</text>
<g font-family='"Liberation Serif", serif' font-size="13.4" fill="#141414" stroke="#141414" stroke-width="0.42">
<text x="19.5" y="583.4">GWR coefficient</text>
<text x="19.5" y="599">for temperature</text>
<text x="43.3" y="619.3" font-size="12">High: -0.00005</text>
<text x="43.3" y="639.8" font-size="12">Low: -0.0073</text>
<text x="19.5" y="659.3">Std Err</text>
<text x="43.3" y="678.5" font-size="12">&lt; 0.0035</text>
<text x="43.3" y="691.8" font-size="12">0.0035 - 0.004</text>
<text x="43.3" y="706" font-size="12">&gt; 0.004</text>
</g>
<circle cx="29.3" cy="675.3" r="0.8" fill="#2c0a78"/>
<circle cx="29.3" cy="689" r="1.8" fill="#2c0a78"/>
<circle cx="29.3" cy="702.8" r="3.2" fill="#2c0a78"/>
<rect x="18.8" y="615.3" width="18.7" height="19.5" fill="url(#ramp)"/>
<path d="M37.8 625h1.2" stroke="#222" stroke-width="0.9"/>
<rect x="196.3" y="702.8" width="50.8" height="3.9" fill="#fff" stroke="#3c3c3c" stroke-width="0.9"/>
<rect x="143.8" y="702.3" width="52.5" height="4.8" fill="#000"/>
<g font-family='"Liberation Serif", serif' font-size="12" fill="#141414" stroke="#141414" stroke-width="0.3" text-anchor="middle">
<text x="143.8" y="697.8">0</text>
<text x="196.8" y="697.8">150</text>
<text x="244" y="697.8">300</text>
<text x="248" y="707.7" font-size="13.3" text-anchor="start">Km</text>
</g>
<g clip-path="url(#cpd)"><g filter="url(#vb)"><rect x="625.2" y="411.00" width="364.4" height="12.11" fill="url(#gd0)"/><rect x="625.2" y="422.51" width="364.4" height="4.11" fill="url(#gd1)"/><rect x="625.2" y="426.01" width="364.4" height="4.11" fill="url(#gd2)"/><rect x="625.2" y="429.52" width="364.4" height="4.11" fill="url(#gd3)"/><rect x="625.2" y="433.03" width="364.4" height="4.11" fill="url(#gd4)"/><rect x="625.2" y="436.54" width="364.4" height="4.11" fill="url(#gd5)"/><rect x="625.2" y="440.04" width="364.4" height="4.11" fill="url(#gd6)"/><rect x="625.2" y="443.55" width="364.4" height="4.11" fill="url(#gd7)"/><rect x="625.2" y="447.06" width="364.4" height="4.11" fill="url(#gd8)"/><rect x="625.2" y="450.56" width="364.4" height="4.11" fill="url(#gd9)"/><rect x="625.2" y="454.07" width="364.4" height="4.11" fill="url(#gd10)"/><rect x="625.2" y="457.58" width="364.4" height="4.11" fill="url(#gd11)"/><rect x="625.2" y="461.08" width="364.4" height="4.11" fill="url(#gd12)"/><rect x="625.2" y="464.59" width="364.4" height="4.11" fill="url(#gd13)"/><rect x="625.2" y="468.10" width="364.4" height="4.11" fill="url(#gd14)"/><rect x="625.2" y="471.61" width="364.4" height="4.11" fill="url(#gd15)"/><rect x="625.2" y="475.11" width="364.4" height="4.11" fill="url(#gd16)"/><rect x="625.2" y="478.62" width="364.4" height="4.11" fill="url(#gd17)"/><rect x="625.2" y="482.13" width="364.4" height="4.11" fill="url(#gd18)"/><rect x="625.2" y="485.63" width="364.4" height="4.11" fill="url(#gd19)"/><rect x="625.2" y="489.14" width="364.4" height="4.11" fill="url(#gd20)"/><rect x="625.2" y="492.65" width="364.4" height="4.11" fill="url(#gd21)"/><rect x="625.2" y="496.15" width="364.4" height="4.11" fill="url(#gd22)"/><rect x="625.2" y="499.66" width="364.4" height="4.11" fill="url(#gd23)"/><rect x="625.2" y="503.17" width="364.4" height="4.11" fill="url(#gd24)"/><rect x="625.2" y="506.68" width="364.4" height="4.11" fill="url(#gd25)"/><rect x="625.2" y="510.18" width="364.4" height="4.11" fill="url(#gd26)"/><rect x="625.2" y="513.69" width="364.4" height="4.11" fill="url(#gd27)"/><rect x="625.2" y="517.20" width="364.4" height="4.11" fill="url(#gd28)"/><rect x="625.2" y="520.70" width="364.4" height="4.11" fill="url(#gd29)"/><rect x="625.2" y="524.21" width="364.4" height="4.11" fill="url(#gd30)"/><rect x="625.2" y="527.72" width="364.4" height="4.11" fill="url(#gd31)"/><rect x="625.2" y="531.23" width="364.4" height="4.11" fill="url(#gd32)"/><rect x="625.2" y="534.73" width="364.4" height="4.11" fill="url(#gd33)"/><rect x="625.2" y="538.24" width="364.4" height="4.11" fill="url(#gd34)"/><rect x="625.2" y="541.75" width="364.4" height="4.11" fill="url(#gd35)"/><rect x="625.2" y="545.25" width="364.4" height="4.11" fill="url(#gd36)"/><rect x="625.2" y="548.76" width="364.4" height="4.11" fill="url(#gd37)"/><rect x="625.2" y="552.27" width="364.4" height="4.11" fill="url(#gd38)"/><rect x="625.2" y="555.77" width="364.4" height="4.11" fill="url(#gd39)"/><rect x="625.2" y="559.28" width="364.4" height="4.11" fill="url(#gd40)"/><rect x="625.2" y="562.79" width="364.4" height="4.11" fill="url(#gd41)"/><rect x="625.2" y="566.30" width="364.4" height="4.11" fill="url(#gd42)"/><rect x="625.2" y="569.80" width="364.4" height="4.11" fill="url(#gd43)"/><rect x="625.2" y="573.31" width="364.4" height="4.11" fill="url(#gd44)"/><rect x="625.2" y="576.82" width="364.4" height="4.11" fill="url(#gd45)"/><rect x="625.2" y="580.32" width="364.4" height="4.11" fill="url(#gd46)"/><rect x="625.2" y="583.83" width="364.4" height="4.11" fill="url(#gd47)"/><rect x="625.2" y="587.34" width="364.4" height="4.11" fill="url(#gd48)"/><rect x="625.2" y="590.85" width="364.4" height="4.11" fill="url(#gd49)"/><rect x="625.2" y="594.35" width="364.4" height="4.11" fill="url(#gd50)"/><rect x="625.2" y="597.86" width="364.4" height="4.11" fill="url(#gd51)"/><rect x="625.2" y="601.37" width="364.4" height="4.11" fill="url(#gd52)"/><rect x="625.2" y="604.87" width="364.4" height="4.11" fill="url(#gd53)"/><rect x="625.2" y="608.38" width="364.4" height="4.11" fill="url(#gd54)"/><rect x="625.2" y="611.89" width="364.4" height="4.11" fill="url(#gd55)"/><rect x="625.2" y="615.39" width="364.4" height="4.11" fill="url(#gd56)"/><rect x="625.2" y="618.90" width="364.4" height="4.11" fill="url(#gd57)"/><rect x="625.2" y="622.41" width="364.4" height="4.11" fill="url(#gd58)"/><rect x="625.2" y="625.92" width="364.4" height="4.11" fill="url(#gd59)"/><rect x="625.2" y="629.42" width="364.4" height="4.11" fill="url(#gd60)"/><rect x="625.2" y="632.93" width="364.4" height="4.11" fill="url(#gd61)"/><rect x="625.2" y="636.44" width="364.4" height="4.11" fill="url(#gd62)"/><rect x="625.2" y="639.94" width="364.4" height="4.11" fill="url(#gd63)"/><rect x="625.2" y="643.45" width="364.4" height="4.11" fill="url(#gd64)"/><rect x="625.2" y="646.96" width="364.4" height="4.11" fill="url(#gd65)"/><rect x="625.2" y="650.46" width="364.4" height="4.11" fill="url(#gd66)"/><rect x="625.2" y="653.97" width="364.4" height="4.11" fill="url(#gd67)"/><rect x="625.2" y="657.48" width="364.4" height="4.11" fill="url(#gd68)"/><rect x="625.2" y="660.99" width="364.4" height="4.11" fill="url(#gd69)"/><rect x="625.2" y="664.49" width="364.4" height="11.51" fill="url(#gd70)"/></g></g>
<g fill="none" stroke="#777777" stroke-width="2.5" stroke-linejoin="round" stroke-linecap="round">
<path d="M683.6 418.4L683.2 416.3L682.7 413.4L681.1 411.9L682.7 410.1L683.0 408.7L683.6 406.3L685.8 406.7L688.7 406.5L690.8 407.9L693.3 408.5L694.6 407.1L696.6 407.3L698.8 406.7L701.5 407.8L703.9 407.8L706.1 407.9L705.6 409.7L704.5 410.3L702.2 411.5L699.7 411.9L699.0 414.2L699.4 416.2L700.2 418.7L702.8 418.6L704.0 420.9L706.1 420.8L705.7 422.8L706.1 425.6L704.2 427.1L704.5 429.6L705.7 431.5L707.4 432.9L708.5 434.3L710.2 436.1L712.2 435.4L714.6 435.6L717.3 436.6L719.1 435.9L721.4 435.3L723.4 434.0L725.4 432.0L727.7 431.3L729.0 429.4L731.1 428.1L733.5 429.3L735.4 431.3L737.5 432.1L737.9 434.1L738.1 436.5L738.3 438.5L740.6 440.5L740.4 442.5L742.6 441.2L745.6 441.7L748.1 442.8L750.2 442.8L753.0 444.4L755.3 445.1L757.9 445.3L760.2 443.1L762.6 443.3L765.0 441.9L767.1 440.9L769.8 441.0L771.8 440.7L774.6 441.1L777.0 440.8L778.1 438.0L780.3 437.9L778.9 435.7L778.7 432.9L777.9 430.7L776.7 428.9L774.0 429.6L772.4 428.0L770.6 426.6L767.9 426.5L764.9 425.2L762.5 425.8L761.3 423.5L760.1 421.0L757.7 419.8L755.3 420.1L754.9 417.7L752.4 416.3L752.1 413.5L752.7 411.6L754.2 410.8L755.3 408.9L757.7 409.2L759.5 408.2L761.7 408.1L763.1 406.3L764.6 404.6L765.8 403.2L767.4 404.6L769.2 406.1L771.7 406.4L773.0 408.1L774.4 409.7L776.3 410.1L778.7 410.2L780.3 412.1L782.5 412.0L784.5 409.6L786.8 408.9L786.8 406.3L785.9 405.1L784.7 402.6L784.3 400.8L786.1 401.6L787.8 404.4L790.0 404.9L789.5 407.0L789.5 409.4L790.0 412.1L792.3 412.7L794.8 414.5L795.2 411.7L796.9 410.0L797.3 408.0L797.2 405.4L798.8 403.2L801.3 402.4L802.2 399.8L804.6 399.0L806.9 397.5L809.3 398.1L810.3 400.5L813.2 401.2L814.9 402.4L817.0 400.5L819.2 398.8L820.6 396.8L819.4 395.0L819.3 393.4L819.8 391.1L819.9 389.0L822.4 388.0L823.0 385.5L825.1 384.7L827.5 386.3L829.9 386.1L832.3 385.8L834.3 386.3L835.3 388.2L836.9 390.5L836.9 392.6L838.4 394.3L840.5 393.3L841.7 391.6L844.7 391.5L846.4 390.3L848.9 391.1L851.3 390.8L853.6 390.1L856.1 390.3L855.8 393.1L856.3 395.0L858.0 396.6L857.1 399.2L858.5 401.6L857.8 403.9L856.8 405.6L859.6 405.6L862.0 406.1L863.9 407.5L866.5 407.2L869.0 408.1L868.2 410.8L867.7 412.8L867.4 415.1L866.5 417.8L869.0 417.3L871.6 416.9L873.8 415.3L872.8 417.9L873.7 420.4L873.8 423.3L875.9 424.3L879.0 423.5L881.6 425.3L884.3 425.0L885.1 422.6L886.6 421.7L886.8 418.8L888.9 417.4L889.1 415.3L891.3 414.9L893.2 412.9L894.5 414.7L894.9 416.9L893.6 419.1L894.8 421.0L895.8 423.4L897.2 425.8L897.7 428.0L896.3 430.9L896.9 432.8L896.4 435.5L896.7 437.6L897.9 439.8L899.7 441.4L900.4 443.5L900.2 445.2L899.9 447.5L898.8 449.1L896.8 449.9L895.4 452.2L892.5 452.4L890.7 454.8L889.5 456.8L887.5 459.2L885.9 461.2L883.6 462.6L881.6 464.6L879.4 465.3L877.8 466.4L877.1 468.2L875.4 470.1L878.4 469.5L880.1 468.0L882.6 466.9L884.8 467.2L887.0 465.4L889.1 466.0L892.2 465.6L894.2 465.6L897.2 465.3L899.0 467.6L901.3 467.8L902.9 470.1L903.2 472.1L903.0 474.0L903.6 475.7L901.8 477.1L902.0 479.8L900.4 480.6L898.1 481.1L896.2 482.3L894.8 483.8L896.7 485.3L897.5 487.0L898.0 489.5L896.4 491.0L896.5 493.1L895.3 494.8L894.1 496.9L896.5 497.4L898.4 498.0L900.4 498.9L900.1 501.1L902.0 502.8L902.6 505.3L902.9 507.0L905.1 507.2L906.3 509.6L908.9 510.5L910.7 512.6L912.1 514.6L912.4 512.2L913.9 510.1L915.3 508.1L917.6 506.6L918.5 504.4L921.0 503.3L922.7 505.7L924.7 506.6L926.6 508.9L928.9 508.8L930.4 509.2L932.3 510.5L933.2 508.5L935.1 507.7L936.7 505.4L937.9 504.1L939.5 502.5L941.5 501.2L942.9 499.0L944.4 497.7L946.4 497.5L947.9 499.8L950.4 498.6L952.4 500.1L954.8 499.6L956.9 497.3L958.9 496.1L960.9 496.2L961.7 498.5L963.7 499.2L966.2 499.2L968.3 500.4L971.0 500.1L971.6 502.1L971.4 505.0L971.0 507.3L969.1 508.9L968.6 511.3L970.7 511.9L972.0 512.7L973.4 514.6L976.0 514.2L977.3 515.3L979.8 515.4L977.9 516.7L977.6 519.6L975.8 521.0L974.7 523.0L973.9 524.7L972.6 526.7L972.2 529.3L970.3 530.7L968.8 532.6L967.8 534.7L965.5 535.9L964.1 537.2L962.6 539.6L961.4 541.2L959.8 543.0L958.7 545.3L958.1 547.6L960.2 549.5L961.4 551.6L962.4 549.4L964.5 547.6L966.9 546.0L969.1 546.2L971.1 545.9L973.4 544.4L975.5 546.1L976.0 548.9L977.5 550.8L978.7 552.9L979.0 555.0L979.4 557.3L978.7 560.2L979.8 562.1L981.1 560.1L982.4 559.3L984.7 558.1L987.5 557.0L990.1 557.9L992.7 557.3L995.3 557.2L997.1 558.5L999.2 559.0L998.4 561.4L999.1 564.0L998.4 567.0L999.9 569.4L1000.2 571.5L1001.6 573.9L1000.4 576.2L998.1 577.2L997.1 579.6L997.3 582.5L995.0 584.1L996.0 586.8L994.4 588.9L993.3 590.2L991.3 591.5L989.7 592.4L987.9 593.7L987.0 596.2L986.2 598.2L984.3 599.5L983.1 601.8L981.4 603.9L979.0 604.2L976.6 605.8L977.0 608.3L976.4 610.4L974.3 612.6L974.3 614.7L974.7 617.2L976.2 619.4L976.6 622.1L976.6 624.4L975.5 626.5L973.7 627.9L972.0 629.7L971.7 632.6L970.2 634.0L968.4 634.6L966.2 636.6L964.0 636.8L962.1 638.1L959.5 638.2L957.3 639.7L955.3 641.4L952.5 642.1L952.0 644.4L950.4 646.6L948.5 648.5L948.6 650.8L950.6 652.5L951.7 654.9L950.2 656.0L948.5 657.6L946.5 658.3L944.4 659.8L942.7 659.7L940.5 658.7L938.1 658.7L936.3 659.0L936.5 661.7L935.8 664.1L935.2 665.9L935.6 668.6L933.2 668.5L930.7 669.0L929.1 670.2L926.9 670.0L924.9 669.7L923.5 670.5L921.5 670.3L919.7 671.6L918.5 673.4L918.9 675.5L917.7 676.9L915.9 678.0L913.8 679.0L913.2 680.8L912.9 682.6L913.1 684.7L911.8 686.7L910.6 684.3L908.6 683.1L907.9 680.8L906.3 679.1L907.1 677.2L905.3 675.5L904.4 677.6L902.9 678.2L901.4 679.6L901.2 682.7L902.7 684.7L900.8 685.8L897.7 685.3L896.2 686.7L894.1 687.6L891.8 687.8L889.5 689.4L887.7 688.9L885.6 687.4L886.2 685.3L888.3 683.5L887.2 681.4L887.0 679.6L885.0 678.8L882.7 680.5L880.3 679.7L878.4 680.2L879.6 677.6L880.4 675.5L878.1 674.8L876.4 673.0L875.5 675.5L873.0 676.0L872.5 678.2L871.7 676.0L870.5 674.0L868.6 673.0L867.4 671.0L866.0 669.0L864.1 669.8L862.1 671.6L861.1 673.2L859.4 675.5L858.2 676.9L856.1 678.6L854.3 680.2L853.3 682.1L850.9 683.8L849.0 684.7L847.0 684.9L844.6 683.4L842.4 683.5L839.9 682.7L837.9 681.4L835.9 679.6L833.2 679.7L831.6 680.1L828.7 679.7L826.7 680.2L824.6 679.9L822.5 680.2L820.2 681.5L818.2 680.3L817.8 678.1L816.2 676.9L814.5 675.6L812.7 674.2L810.3 673.3L808.3 673.0L807.3 671.7L805.9 669.2L804.4 668.3L801.8 668.0L799.8 667.7L798.1 665.3L796.0 665.5L794.3 663.2L795.0 660.5L794.1 658.7L793.2 656.2L791.9 654.3L790.1 653.3L789.1 651.4L790.0 648.8L789.4 646.4L790.0 644.2L792.9 644.0L794.8 642.5L794.8 640.3L796.0 638.4L796.5 636.5L798.0 634.5L796.1 632.8L793.6 632.6L791.0 631.0L789.1 629.6L786.4 629.9L783.8 629.9L781.9 631.8L779.4 631.3L777.3 630.9L774.8 629.9L772.9 629.1L771.4 627.3L769.1 628.5L767.4 628.7L764.7 628.1L762.5 629.6L760.8 628.6L758.6 627.5L756.9 626.7L755.3 624.5L753.0 624.0L750.4 624.0L750.4 620.9L748.8 619.2L746.4 618.7L745.3 617.2L743.9 615.0L741.5 614.4L740.0 612.7L738.0 614.6L735.4 615.6L733.0 616.3L731.1 617.6L728.8 617.8L726.5 619.4L724.4 621.3L722.3 622.4L721.6 624.9L722.0 627.0L720.6 628.9L720.6 631.3L718.1 632.6L715.9 633.3L713.4 632.9L711.3 634.1L708.7 635.0L707.7 637.3L705.3 637.6L703.7 639.3L702.6 637.3L700.4 635.2L698.8 632.9L696.7 633.4L694.3 634.3L692.3 635.7L690.8 637.0L690.2 639.3L690.6 641.7L688.4 644.1L688.4 646.5L687.0 644.6L684.6 644.0L683.5 640.9L681.0 640.8L679.5 638.5L677.6 637.6L676.5 635.5L675.4 633.9L672.3 633.3L671.4 631.3L670.2 629.3L667.8 628.8L666.0 627.6L665.0 625.6L663.0 625.2L660.3 623.7L657.7 624.3L655.6 623.8L653.7 622.4L652.1 620.7L649.9 619.4L647.9 618.9L646.6 617.2L644.0 616.7L641.6 615.8L639.2 615.4L636.8 615.2L635.7 612.5L636.0 610.4L635.2 607.9L635.5 605.5L635.9 603.5L637.1 601.3L638.4 599.8L639.1 597.2L639.1 594.5L639.2 591.8L637.6 590.2L637.8 587.7L636.8 585.8L635.3 583.9L632.7 583.5L631.2 581.7L629.9 579.2L628.0 578.3L626.3 576.3L624.4 574.4L622.6 572.6L622.1 570.7L619.8 569.1L617.3 569.2L615.7 568.6L613.3 570.5L611.0 569.9L610.5 567.9L610.7 565.6L609.4 563.4L610.6 561.4L610.0 559.4L611.9 557.7L612.6 555.4L614.5 553.6L616.5 553.3L618.9 553.1L620.6 551.3L619.7 549.1L619.8 546.5L621.7 546.0L623.1 545.7L624.7 544.2L625.6 541.3L626.1 539.5L627.9 537.6L626.2 535.4L624.8 533.8L623.4 532.1L622.3 529.6L620.3 531.2L617.7 531.8L615.8 533.6L615.4 530.9L613.3 529.3L612.9 527.2L612.6 524.7L611.0 522.7L611.7 520.2L610.5 517.7L609.4 515.9L610.6 514.1L611.9 511.6L613.5 510.2L615.3 508.5L616.6 507.0L618.6 504.9L621.3 504.3L622.3 502.0L624.6 500.6L627.2 499.6L629.4 499.3L631.7 498.2L634.3 497.3L635.9 499.1L638.0 499.5L639.2 500.6L641.1 499.7L642.5 497.9L645.5 498.2L647.0 497.6L648.9 495.7L650.5 493.8L651.9 491.6L652.1 489.2L651.3 487.1L651.5 485.2L649.2 483.5L648.9 481.2L648.1 479.2L648.2 477.0L646.6 475.1L647.2 473.2L646.3 471.2L647.1 468.4L645.6 466.1L645.6 463.5L645.8 461.1L646.3 459.0L647.6 457.2L648.1 455.4L650.9 455.3L652.7 454.0L654.4 452.6L656.9 452.2L658.5 450.3L660.1 448.2L661.6 446.2L663.3 444.2L664.4 441.7L665.7 440.2L667.3 438.0L668.5 435.7L670.7 434.5L669.8 432.6L669.8 429.9L669.0 428.1L670.5 426.0L672.3 424.2L674.0 423.4L676.2 422.4L677.9 421.4L680.6 420.8L681.1 419.0Z"/>
<path d="M740.4 442.5L740.4 444.9L740.4 447.5L738.8 449.5L738.4 452.2L736.4 453.8L733.9 454.8L732.0 456.5L729.5 457.1L726.6 457.1L724.3 457.9L721.9 458.4L719.8 458.7L717.6 457.8L715.0 458.8L712.5 458.3L710.2 457.1L708.2 455.5L705.7 454.7L703.7 453.8L701.0 455.0L699.2 456.6L697.2 458.7L694.8 458.0L692.9 457.3L690.2 456.1L688.4 454.6L685.8 456.0L684.6 457.8L682.7 460.3L681.4 462.1L680.0 463.4L677.9 464.4L676.7 466.4L675.5 468.3L675.8 470.6L678.1 473.1L679.5 474.8L679.0 477.1L679.9 480.2L679.5 482.8L681.1 484.7L683.5 486.6L684.3 489.2L686.6 490.0L688.4 488.5L691.3 489.6L693.2 488.5L694.8 486.7L696.9 486.9L698.6 485.6L700.5 484.4L702.9 484.2L705.2 485.1L707.7 484.4L709.9 485.8L710.7 487.2L711.4 489.7L713.4 490.9L713.3 493.6L715.1 495.2L714.9 497.3L714.1 499.0L713.0 500.8L711.7 502.2L710.1 503.9L709.3 506.4L707.7 508.6L707.9 510.9L705.7 513.2L706.0 515.7L705.3 518.3L703.7 519.7L701.3 521.5L701.9 523.3L702.9 525.0L703.7 527.2L705.1 528.8L708.5 529.4L709.5 531.6L711.7 532.8L713.1 534.5L715.0 535.1L716.9 537.0L718.2 538.4L719.8 539.3L720.6 541.6L718.4 542.8L718.0 545.2L715.8 546.5L714.5 548.6L714.1 551.2L714.2 553.7L713.7 555.6L712.1 556.9L709.8 558.3L709.4 560.2L710.1 562.3L711.4 563.1"/>
<path d="M711.4 563.1L713.1 562.2L716.1 562.3L717.4 560.6L719.8 560.2L721.7 559.7L722.5 557.3L725.0 556.9L726.3 555.4L727.7 553.6L730.2 552.5L731.5 550.5L734.3 549.7L736.1 550.9L738.9 550.0L740.5 551.7L742.4 552.2L744.1 553.6L746.5 554.1L748.8 555.4L750.8 556.3L753.0 558.3L755.3 558.6L757.5 559.4L759.7 560.8L761.9 560.3L764.3 561.5L766.5 561.8L769.3 561.1L771.3 559.8L773.0 558.6L773.2 556.2L772.8 553.9L773.9 552.2L775.6 550.5L778.5 550.1L780.6 549.3L783.1 548.4L785.8 547.1L787.5 545.7L789.4 544.0L792.5 544.3L794.6 542.2L796.7 540.7L799.6 539.6L802.0 539.3L803.1 537.7L804.7 535.6L804.6 533.3L806.5 532.2L806.9 529.6L808.1 528.3L810.8 528.4L812.6 527.2L814.1 525.6L814.6 527.6L816.2 529.1L817.0 531.0L818.1 532.8L819.9 533.8L822.1 535.5L822.7 538.4L824.6 539.3L827.2 538.8L829.0 538.3L831.0 537.6L831.9 539.9L834.4 540.6L835.7 542.4L836.7 544.1L839.3 543.3L841.5 542.9L843.6 540.9L845.7 540.2L848.0 540.1L849.4 538.1L848.7 535.3L850.4 532.8L852.0 531.1L854.6 529.3L856.8 528.7L859.1 529.2L861.3 530.9L863.1 531.9L864.4 534.0L866.5 535.2L867.3 532.4L869.0 530.2L869.7 527.9L870.5 526.2L872.7 524.9L874.6 524.7L876.8 525.6L879.3 525.9L882.1 526.1L884.3 527.2L882.7 525.0L881.3 522.7L880.3 520.7L883.2 520.7L885.4 518.9L887.5 518.3L889.7 518.9L892.3 518.6L894.0 519.9L895.7 517.7L895.5 515.3L897.0 512.7L898.8 511.0L900.8 510.1L902.0 508.4L902.9 507.0"/>
<path d="M711.4 563.1L710.0 565.4L710.1 568.3L711.6 569.8L713.4 571.7L715.3 573.0L716.6 575.5L718.4 573.4L721.0 572.6L723.0 570.6L725.1 571.5L727.3 571.4L729.5 570.9L731.1 571.5L732.9 572.2L733.8 575.1L735.2 576.3L736.2 578.7L736.0 581.3L737.5 583.5L739.8 584.5L741.2 585.8L743.8 585.3L745.6 586.8L747.9 585.4L749.7 584.1L752.1 583.5L755.1 584.4L757.4 584.1L760.1 584.3L762.3 584.0L764.3 584.5L766.5 583.5L767.8 585.8L769.9 585.5L771.4 587.6L773.4 589.3L774.3 590.7L774.6 593.2L773.1 595.8L773.2 598.4L771.4 600.5L770.4 602.4L770.5 604.3L769.7 606.1L766.6 605.7L764.2 606.7L761.7 606.9L759.4 608.1L757.2 609.9L755.3 611.2L753.3 613.2L752.1 614.8L750.6 617.2L748.8 619.2"/>
<path d="M853.8 681.9L855.7 680.8L857.5 681.5L859.5 680.2L860.5 678.1L862.1 676.9L863.1 675.0L864.5 673.7L865.2 671.9"/>
<path d="M856.9 679.1L858.9 678.7L860.0 679.9L861.2 678.0L862.1 676.0"/>
<path d="M870.4 675.5L872.1 674.7L873.4 674.7L874.8 675.6L875.5 677.1L876.9 676.4L878.6 677.4"/>
<path d="M881.2 678.1L883.2 678.2L884.3 679.1L885.6 680.8L885.8 682.2"/>
<path d="M903.4 680.2L904.6 679.4L906.0 678.6L907.7 680.6L908.5 683.3"/>
<path d="M897.7 685.3L899.1 683.6L900.8 682.8L902.5 684.4L903.4 685.8"/>
</g>
<g fill="#7a0a70" stroke="#450a5c" stroke-width="1.1">
<circle cx="775.4" cy="419.0" r="3.3"/>
<circle cx="799.1" cy="426.9" r="5.3" fill="#960a78"/>
<circle cx="801.2" cy="444.0" r="5.3" fill="#960a78"/>
<circle cx="823.8" cy="441.4" r="5.3" fill="#960a78"/>
<circle cx="853.9" cy="434.4" r="5.3" fill="#960a78"/>
<circle cx="890.0" cy="443.2" r="5.3" fill="#960a78"/>
<circle cx="739.2" cy="459.1" r="1.6" fill="#7c0a26" stroke="none"/>
<circle cx="767.4" cy="470.1" r="1.6" fill="#7c0a26" stroke="none"/>
<circle cx="870.1" cy="472.2" r="3.3"/>
<circle cx="700.2" cy="476.4" r="1.6" fill="#7c0a26" stroke="none"/>
<circle cx="795.1" cy="487.8" r="3.3"/>
<circle cx="843.5" cy="486.7" r="3.3"/>
<circle cx="661.8" cy="494.1" r="1.6" fill="#7c0a26" stroke="none"/>
<circle cx="763.0" cy="500.6" r="1.6" fill="#7c0a26" stroke="none"/>
<circle cx="864.9" cy="511.3" r="3.3"/>
<circle cx="827.0" cy="516.7" r="3.3"/>
<circle cx="707.7" cy="520.7" r="1.6" fill="#7c0a26" stroke="none"/>
<circle cx="682.7" cy="526.4" r="1.6" fill="#7c0a26" stroke="none"/>
<circle cx="735.2" cy="531.9" r="1.6" fill="#7c0a26" stroke="none"/>
<circle cx="796.4" cy="531.9" r="3.3"/>
<circle cx="770.2" cy="541.8" r="1.6" fill="#7c0a26" stroke="none"/>
<circle cx="933.1" cy="536.7" r="3.3"/>
<circle cx="637.2" cy="548.9" r="1.6" fill="#7c0a26" stroke="none"/>
<circle cx="845.3" cy="560.7" r="3.3"/>
<circle cx="680.7" cy="567.1" r="1.6" fill="#7c0a26" stroke="none"/>
<circle cx="633.5" cy="575.1" r="1.6" fill="#7c0a26" stroke="none"/>
<circle cx="980.9" cy="571.7" r="3.3"/>
<circle cx="898.2" cy="574.1" r="3.3"/>
<circle cx="941.1" cy="580.1" r="3.3"/>
<circle cx="790.0" cy="591.8" r="3.3"/>
<circle cx="848.0" cy="590.2" r="3.3"/>
<circle cx="891.9" cy="597.9" r="3.3"/>
<circle cx="925.0" cy="611.1" r="3.3"/>
<circle cx="971.8" cy="608.2" r="3.3"/>
<circle cx="665.8" cy="612.4" r="1.6" fill="#7c0a26" stroke="none"/>
<circle cx="760.7" cy="610.5" r="1.6" fill="#7c0a26" stroke="none"/>
<circle cx="783.1" cy="621.9" r="3.3"/>
<circle cx="677.4" cy="627.3" r="1.6" fill="#7c0a26" stroke="none"/>
<circle cx="852.8" cy="641.3" r="3.3"/>
<circle cx="927.9" cy="640.5" r="3.3"/>
<circle cx="894.4" cy="649.5" r="3.3"/>
<circle cx="799.7" cy="653.0" r="3.3"/>
<circle cx="868.3" cy="666.9" r="3.3"/>
</g>
<rect x="526.5" y="379.5" width="483.3" height="333.3" fill="none" stroke="#565656" stroke-width="1.6"/>
<path d="M538 379.5v-3.3M538 712.8v3.3M690.5 379.5v-3.3M690.5 712.8v3.3M843.8 379.5v-3.3M843.8 712.8v3.3M996.8 379.5v-3.3M996.8 712.8v3.3M526.5 511.1h-3M1009.8 511.1h3M526.5 665.4h-3M1009.8 665.4h3" stroke="#565656" stroke-width="1" fill="none"/>
<g font-family='"Liberation Serif", serif' font-size="11.1" fill="#222222" stroke="#2a2a2a" stroke-width="0.22" text-anchor="middle">
<text x="536" y="375">100°E</text>
<text x="534.5" y="726.4">100°E</text>
<text x="688.5" y="375">104°E</text>
<text x="687" y="726.4">104°E</text>
<text x="841.8" y="375">108°E</text>
<text x="840.3" y="726.4">108°E</text>
<text x="994.8" y="375">112°E</text>
<text x="993.3" y="726.4">112°E</text>
<text font-size="11" transform="translate(523 512.8) rotate(-90)">26°N</text>
<text font-size="11" transform="translate(1022.3 513.4) rotate(-90)">26°N</text>
<text font-size="11" transform="translate(523 667.1) rotate(-90)">22°N</text>
<text font-size="11" transform="translate(1022.3 664.5) rotate(-90)">22°N</text>
</g>
<text x="557.5" y="410" font-family='"Liberation Sans", sans-serif' font-size="12.3" text-anchor="middle" fill="#111" stroke="#111" stroke-width="0.3">N</text>
<path d="M557.5 414l-8.3 28.7l8.3-10.5z" fill="#000" stroke="#000" stroke-width="0.4" stroke-linejoin="miter"/>
<path d="M557.5 414l8.2 28.4l-8.2-10.2z" fill="#fff" stroke="#000" stroke-width="0.75" stroke-linejoin="miter"/>
<text x="982" y="409.6" font-family='"Liberation Serif", serif' font-size="16.6" font-weight="bold" text-anchor="middle" fill="#111" stroke="#111" stroke-width="0.25" xml:space="preserve">( d )</text>
<g font-family='"Liberation Serif", serif' font-size="13.4" fill="#141414" stroke="#141414" stroke-width="0.42">
<text x="532.5" y="585.4">GWR coefficient</text>
<text x="532.5" y="601">for precipitation</text>
<text x="557" y="621" font-size="12">High: 0.0004</text>
<text x="557" y="641.5" font-size="12">Low: 0.0003</text>
<text x="532.5" y="661">Std Err</text>
<text x="556.3" y="679.8" font-size="12">&lt; 0.00028</text>
<text x="556.3" y="693.5" font-size="12">0.00028-0.00032</text>
<text x="556.3" y="707.3" font-size="12">&gt; 0.00032</text>
</g>
<circle cx="542" cy="676" r="0.8" fill="#2c0a78"/>
<circle cx="542" cy="690.3" r="1.8" fill="#2c0a78"/>
<circle cx="542" cy="704" r="3.2" fill="#2c0a78"/>
<rect x="532" y="616.8" width="19.2" height="19.8" fill="url(#ramp)"/>
<path d="M551.5 626.7h1.2" stroke="#222" stroke-width="0.9"/>
<rect x="708.8" y="704" width="50.8" height="3.9" fill="#fff" stroke="#3c3c3c" stroke-width="0.9"/>
<rect x="656.3" y="703.5" width="52.5" height="4.8" fill="#000"/>
<g font-family='"Liberation Serif", serif' font-size="12" fill="#141414" stroke="#141414" stroke-width="0.3" text-anchor="middle">
<text x="656.3" y="698.5">0</text>
<text x="709.3" y="698.5">150</text>
<text x="756.5" y="698.5">300</text>
<text x="760.5" y="708.9" font-size="13.3" text-anchor="start">Km</text>
</g>
</g>
</svg>
</body></html>
